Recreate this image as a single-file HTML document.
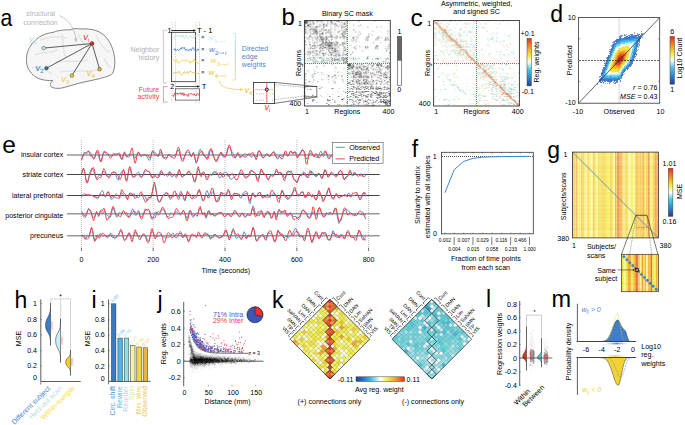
<!DOCTYPE html><html><head><meta charset="utf-8"><style>html,body{margin:0;padding:0;background:#fff;}svg{display:block;font-family:"Liberation Sans",sans-serif;}</style></head><body><svg width="685" height="425" viewBox="0 0 685 425" font-size="7.1"><rect width="685" height="425" fill="#fff"/><text x="26.00" y="16.20" fill="#b4b4b4">structural</text>
<text x="23.50" y="25.00" fill="#b4b4b4">connection</text>
<path d="M53,32.4 C60,29.5 66,30 70,29.8 C73,28.6 77,28.3 80,29 C86,28.5 91,29.3 95,30.2 C101,32 106,36 109,41 C112,46 114,52 114.6,58 C115.2,64 114.6,70 112.5,73.5 C110,76 104,77.5 98,79 C92,80.5 86,81.5 80,83 C74,84.5 68,86.5 62,88 C58,88.8 53,88.5 51,86.5 C49.8,85 50,83 52.8,80.6 C49,80.8 44,80.3 40,79 C33,76.5 28.5,71 27,65 C25.8,59 26.5,53 29.5,47.5 C33,41.5 38,37 44,34.5 C47,33.3 50,32.8 53,32.4 Z" fill="#f6f6f6" stroke="#505050" stroke-width="0.7"/>
<path d="M40,40 C48,37 58,36 66,38" fill="none" stroke="#e4e4e4" stroke-width="1.5"/>
<path d="M35,55 C42,52 50,53 58,50" fill="none" stroke="#e4e4e4" stroke-width="1.5"/>
<path d="M62,34 C64,42 62,50 66,58" fill="none" stroke="#e4e4e4" stroke-width="1.5"/>
<path d="M78,33 C80,40 84,45 90,48" fill="none" stroke="#e4e4e4" stroke-width="1.5"/>
<path d="M96,36 C100,44 104,50 110,52" fill="none" stroke="#e4e4e4" stroke-width="1.5"/>
<path d="M55,62 C65,60 75,63 88,60" fill="none" stroke="#e4e4e4" stroke-width="1.5"/>
<path d="M60,72 C70,70 85,72 100,70" fill="none" stroke="#e4e4e4" stroke-width="1.5"/>
<path d="M32,68 C40,66 46,70 52,74" fill="none" stroke="#e4e4e4" stroke-width="1.5"/>
<path d="M104,58 C106,62 108,66 111,68" fill="none" stroke="#e4e4e4" stroke-width="1.5"/>
<path d="M59.5,15.5 C67,19 75,27 76,40" fill="none" stroke="#a0a0a0" stroke-width="0.6"/>
<path d="M74.6,38.2 L76,41.6 L77.2,38.2" fill="none" stroke="#a0a0a0" stroke-width="0.6"/>
<line x1="92.00" y1="43.50" x2="43.60" y2="48.10" stroke="#1a1a1a" stroke-width="0.7"/>
<line x1="92.00" y1="43.50" x2="46.40" y2="68.20" stroke="#1a1a1a" stroke-width="0.7"/>
<line x1="92.00" y1="43.50" x2="71.90" y2="75.60" stroke="#1a1a1a" stroke-width="0.7"/>
<line x1="92.00" y1="43.50" x2="99.60" y2="69.20" stroke="#1a1a1a" stroke-width="0.7"/>
<circle cx="43.6" cy="48.1" r="1.8" fill="#d4f1f5" stroke="#333" stroke-width="0.5"/>
<circle cx="46.4" cy="68.2" r="1.8" fill="#2f6db0" stroke="#333" stroke-width="0.5"/>
<circle cx="71.9" cy="75.6" r="1.8" fill="#f2d327" stroke="#333" stroke-width="0.5"/>
<circle cx="99.6" cy="69.2" r="1.8" fill="#f0b72a" stroke="#333" stroke-width="0.5"/>
<circle cx="92" cy="43.5" r="1.9" fill="#ee2222" stroke="#333" stroke-width="0.5"/>
<text x="29.0" y="41.8" fill="#aee3ec" font-size="9.5" font-style="italic">v<tspan font-size="5.9" dy="2" font-style="normal">1</tspan></text>
<text x="83.3" y="40.3" fill="#ee3333" font-size="9.5" font-style="italic">v<tspan font-size="5.9" dy="2" font-style="normal">i</tspan></text>
<text x="35.5" y="70.5" fill="#3a7cc4" font-size="9.5" font-style="italic">v<tspan font-size="5.9" dy="2" font-style="normal">2</tspan></text>
<text x="61.3" y="82.0" fill="#ecd03a" font-size="9.5" font-style="italic">v<tspan font-size="5.9" dy="2" font-style="normal">3</tspan></text>
<text x="86.7" y="75.6" fill="#ecbf3a" font-size="9.5" font-style="italic">v<tspan font-size="5.9" dy="2" font-style="normal">4</tspan></text>
<line x1="172.00" y1="22.00" x2="172.00" y2="103.50" stroke="#777" stroke-width="0.45" stroke-dasharray="0.8,0.9"/>
<line x1="175.60" y1="22.00" x2="175.60" y2="103.50" stroke="#777" stroke-width="0.45" stroke-dasharray="0.8,0.9"/>
<line x1="196.00" y1="22.00" x2="196.00" y2="103.50" stroke="#777" stroke-width="0.45" stroke-dasharray="0.8,0.9"/>
<line x1="199.50" y1="22.00" x2="199.50" y2="103.50" stroke="#777" stroke-width="0.45" stroke-dasharray="0.8,0.9"/>
<rect x="171.40" y="32.30" width="24.10" height="49.40" fill="none" stroke="#333" stroke-width="0.8"/>
<line x1="171.40" y1="30.50" x2="194.50" y2="30.50" stroke="#111" stroke-width="0.9"/>
<path d="M193.2,29.2 L196,30.5 L193.2,31.8 Z" fill="#111" stroke="none" stroke-width="0.8"/>
<text x="167.50" y="32.60" font-size="7.3">1</text>
<text x="197.00" y="32.90" font-size="7.6">T - 1</text>
<path d="M173.5,38.3 174.0,38.4 174.5,37.7 175.0,36.4 175.5,35.7 176.0,35.7 176.5,36.3 177.0,36.4 177.5,35.5 178.0,35.5 178.5,36.2 179.0,35.1 179.5,36.3 180.0,37.0 180.5,35.7 181.0,35.2 181.5,36.0 182.0,37.3 182.5,36.4 183.0,34.8 183.5,36.2 184.0,38.3 184.5,38.7 185.0,37.9 185.5,36.3 186.0,35.0 186.5,36.4 187.0,36.9 187.5,37.6 188.0,38.7 188.5,37.9 189.0,37.6 189.5,37.6 190.0,36.7 190.5,35.9 191.0,36.3 191.5,37.7 192.0,37.6 192.5,37.1 193.0,38.1 193.5,37.1 194.0,35.9 194.5,37.1 195.0,36.6 195.5,35.7 196.0,36.9 196.5,36.7 197.0,36.6 197.5,36.6 198.0,34.4 198.5,34.7 199.0,36.1" fill="none" stroke="#b9e6ee" stroke-width="0.85" stroke-linejoin="round"/>
<path d="M173.5,50.0 174.0,50.0 174.5,49.7 175.0,48.5 175.5,50.5 176.0,50.3 176.5,50.3 177.0,49.6 177.5,49.4 178.0,50.3 178.5,50.6 179.0,49.7 179.5,49.6 180.0,49.9 180.5,48.4 181.0,47.8 181.5,49.1 182.0,48.3 182.5,47.0 183.0,47.8 183.5,48.3 184.0,47.6 184.5,47.6 185.0,49.4 185.5,50.4 186.0,49.4 186.5,48.9 187.0,50.0 187.5,50.4 188.0,49.8 188.5,50.5 189.0,50.8 189.5,49.5 190.0,48.8 190.5,49.8 191.0,50.4 191.5,50.4 192.0,48.4 192.5,48.1 193.0,47.8 193.5,47.5 194.0,49.2 194.5,49.9 195.0,49.6 195.5,51.1 196.0,51.2 196.5,50.8 197.0,50.6 197.5,50.3 198.0,48.8 198.5,50.0 199.0,49.8" fill="none" stroke="#3f7ec6" stroke-width="0.85" stroke-linejoin="round"/>
<path d="M173.5,59.6 174.0,59.5 174.5,61.0 175.0,62.2 175.5,61.7 176.0,61.0 176.5,59.4 177.0,60.3 177.5,61.0 178.0,63.1 178.5,63.2 179.0,62.6 179.5,61.8 180.0,62.1 180.5,62.0 181.0,60.9 181.5,60.5 182.0,60.6 182.5,60.3 183.0,60.2 183.5,60.4 184.0,60.6 184.5,61.1 185.0,60.1 185.5,61.2 186.0,60.6 186.5,59.9 187.0,59.5 187.5,60.4 188.0,60.9 188.5,61.1 189.0,60.8 189.5,61.8 190.0,63.3 190.5,62.1 191.0,61.1 191.5,62.0 192.0,61.7 192.5,62.0 193.0,61.9 193.5,60.3 194.0,58.9 194.5,60.3 195.0,61.5 195.5,61.2 196.0,61.9 196.5,62.2 197.0,61.5 197.5,62.9 198.0,63.8 198.5,63.4 199.0,63.3" fill="none" stroke="#efd54f" stroke-width="0.85" stroke-linejoin="round"/>
<path d="M173.5,74.3 174.0,72.9 174.5,72.1 175.0,72.9 175.5,72.9 176.0,72.1 176.5,72.3 177.0,73.2 177.5,73.2 178.0,72.0 178.5,71.3 179.0,71.1 179.5,73.3 180.0,73.2 180.5,73.8 181.0,74.0 181.5,75.0 182.0,74.7 182.5,73.8 183.0,73.7 183.5,72.4 184.0,72.8 184.5,71.5 185.0,72.6 185.5,73.6 186.0,72.9 186.5,71.9 187.0,71.4 187.5,72.2 188.0,73.6 188.5,73.5 189.0,72.0 189.5,71.3 190.0,72.1 190.5,71.0 191.0,71.1 191.5,71.7 192.0,72.9 192.5,73.0 193.0,73.0 193.5,72.6 194.0,72.1 194.5,73.2 195.0,73.9 195.5,73.1 196.0,73.0 196.5,72.9 197.0,73.6 197.5,73.7 198.0,73.6 198.5,73.6 199.0,74.0" fill="none" stroke="#e9c25a" stroke-width="0.85" stroke-linejoin="round"/>
<text x="202.70" y="39.40" text-anchor="middle" fill="#222" font-size="6.2">×</text>
<text x="202.70" y="50.80" text-anchor="middle" fill="#222" font-size="6.2">×</text>
<text x="202.70" y="62.40" text-anchor="middle" fill="#222" font-size="6.2">×</text>
<text x="202.70" y="73.80" text-anchor="middle" fill="#222" font-size="6.2">×</text>
<text x="207.9" y="40.3" fill="#c2ebf1" font-size="8.0" font-style="italic">w</text>
<text x="214.00" y="43.20" fill="#c2ebf1" font-size="6.2">1</text>
<line x1="217.30" y1="41.60" x2="222.50" y2="41.60" stroke="#c2ebf1" stroke-width="0.45"/>
<path d="M221.80,41.00 L223.50,41.60 L221.80,42.20 Z" fill="#c2ebf1" stroke="none" stroke-width="0.8"/>
<text x="223.90" y="43.20" fill="#c2ebf1" font-size="6.2" font-style="italic">i</text>
<text x="208.9" y="51.8" fill="#3f7ec6" font-size="8.0" font-style="italic">w</text>
<text x="215.00" y="54.70" fill="#3f7ec6" font-size="6.2">2</text>
<line x1="218.30" y1="53.10" x2="223.50" y2="53.10" stroke="#3f7ec6" stroke-width="0.45"/>
<path d="M222.80,52.50 L224.50,53.10 L222.80,53.70 Z" fill="#3f7ec6" stroke="none" stroke-width="0.8"/>
<text x="224.90" y="54.70" fill="#3f7ec6" font-size="6.2" font-style="italic">i</text>
<text x="210.6" y="63.3" fill="#edd34a" font-size="8.0" font-style="italic">w</text>
<text x="216.70" y="66.20" fill="#edd34a" font-size="6.2">3</text>
<line x1="220.00" y1="64.60" x2="225.20" y2="64.60" stroke="#edd34a" stroke-width="0.45"/>
<path d="M224.50,64.00 L226.20,64.60 L224.50,65.20 Z" fill="#edd34a" stroke="none" stroke-width="0.8"/>
<text x="226.60" y="66.20" fill="#edd34a" font-size="6.2" font-style="italic">i</text>
<text x="208.6" y="74.7" fill="#e8bb3e" font-size="8.0" font-style="italic">w</text>
<text x="214.70" y="77.60" fill="#e8bb3e" font-size="6.2">4</text>
<line x1="218.00" y1="76.00" x2="223.20" y2="76.00" stroke="#e8bb3e" stroke-width="0.45"/>
<path d="M222.50,75.40 L224.20,76.00 L222.50,76.60 Z" fill="#e8bb3e" stroke="none" stroke-width="0.8"/>
<text x="224.60" y="77.60" fill="#e8bb3e" font-size="6.2" font-style="italic">i</text>
<path d="M167,30.3 L163.4,30.3 L163.4,83 L167,83" fill="none" stroke="#a8a8a8" stroke-width="0.6"/>
<text x="159.30" y="52.20" text-anchor="end" fill="#b0b0b0">Neighbor</text>
<text x="159.30" y="60.40" text-anchor="end" fill="#b0b0b0">history</text>
<defs><linearGradient id="gb" x1="0" y1="0" x2="0" y2="1"><stop offset="0" stop-color="#a9dff0"/><stop offset="0.45" stop-color="#8fb6dc"/><stop offset="1" stop-color="#f2d34c"/></linearGradient></defs>
<path d="M232.6,33.2 L235.3,33.2 L235.3,80 L232.6,80" fill="none" stroke="url(#gb)" stroke-width="0.7"/>
<text x="241.80" y="50.90" fill="#4d88c9">Directed</text>
<text x="241.80" y="59.00" fill="#4d88c9">edge</text>
<text x="241.80" y="67.00" fill="#4d88c9">weights</text>
<text x="170.20" y="88.80" font-size="7.3">2</text>
<line x1="175.60" y1="86.50" x2="198.00" y2="86.50" stroke="#111" stroke-width="0.7"/>
<path d="M197.3,85.3 L199.9,86.5 L197.3,87.7 Z" fill="#111" stroke="none" stroke-width="0.8"/>
<text x="201.80" y="88.80" font-size="7.6">T</text>
<rect x="175.30" y="88.80" width="24.30" height="11.30" fill="none" stroke="#444" stroke-width="0.7"/>
<path d="M172.5,94.8 173.0,95.6 173.5,96.6 174.1,94.8 174.6,92.9 175.1,93.4 175.6,94.5 176.1,93.1 176.7,94.1 177.2,94.2 177.7,93.1 178.2,94.1 178.7,94.5 179.3,93.4 179.8,93.6 180.3,94.1 180.8,92.6 181.3,93.1 181.9,94.9 182.4,94.1 182.9,92.7 183.4,94.4 183.9,95.8 184.5,93.6 185.0,94.8 185.5,95.3 186.0,94.6 186.5,94.6 187.0,94.3 187.6,96.4 188.1,96.4 188.6,93.9 189.1,93.7 189.6,94.0 190.2,93.7 190.7,93.9 191.2,93.4 191.7,94.3 192.2,94.1 192.8,94.2 193.3,95.1 193.8,95.0 194.3,93.8 194.8,95.1 195.4,95.5 195.9,95.0 196.4,95.6 196.9,93.7 197.4,93.4 198.0,94.1 198.5,94.1 199.0,95.6" fill="none" stroke="#ee3b3b" stroke-width="0.85" stroke-linejoin="round"/>
<path d="M167.6,86.6 L163.4,86.6 L163.4,102 L167.6,102" fill="none" stroke="#f05050" stroke-width="0.6"/>
<text x="159.30" y="91.60" text-anchor="end" fill="#f04545">Future</text>
<text x="159.30" y="99.20" text-anchor="end" fill="#f04545">activity</text>
<path d="M219,80.5 C220,87 228,89.5 241.5,89.5" fill="none" stroke="#eec24a" stroke-width="0.7"/>
<path d="M240.2,88.2 L243.2,89.5 L240.2,90.8 Z" fill="#eec24a" stroke="none" stroke-width="0.8"/>
<text x="244.6" y="93.0" fill="#ecbf3a" font-size="9" font-style="italic">v<tspan font-size="5.8" dy="1.6" font-style="normal">4</tspan></text>
<rect x="253.40" y="82.40" width="21.20" height="21.00" fill="#fff" stroke="#222" stroke-width="0.8"/>
<rect x="256.50" y="93.50" width="0.60" height="0.80" fill="#666" stroke="none" stroke-width="0.8"/>
<rect x="259.00" y="93.50" width="0.60" height="0.80" fill="#666" stroke="none" stroke-width="0.8"/>
<rect x="261.50" y="93.30" width="0.60" height="0.80" fill="#666" stroke="none" stroke-width="0.8"/>
<rect x="263.50" y="93.70" width="0.60" height="0.80" fill="#666" stroke="none" stroke-width="0.8"/>
<rect x="272.50" y="93.50" width="0.60" height="0.80" fill="#666" stroke="none" stroke-width="0.8"/>
<rect x="256.50" y="99.80" width="0.60" height="0.80" fill="#666" stroke="none" stroke-width="0.8"/>
<rect x="259.50" y="99.80" width="0.60" height="0.80" fill="#666" stroke="none" stroke-width="0.8"/>
<rect x="261.50" y="99.80" width="0.60" height="0.80" fill="#666" stroke="none" stroke-width="0.8"/>
<rect x="263.50" y="99.80" width="0.60" height="0.80" fill="#666" stroke="none" stroke-width="0.8"/>
<rect x="272.50" y="99.80" width="0.60" height="0.80" fill="#666" stroke="none" stroke-width="0.8"/>
<rect x="257.00" y="89.60" width="0.60" height="0.80" fill="#666" stroke="none" stroke-width="0.8"/>
<line x1="253.40" y1="89.50" x2="274.60" y2="89.50" stroke="#eec24a" stroke-width="0.7"/>
<line x1="266.80" y1="82.40" x2="266.80" y2="103.40" stroke="#f27272" stroke-width="1.1"/>
<circle cx="266.8" cy="89.6" r="1.6" fill="none" stroke="#111" stroke-width="0.9"/>
<text x="264.6" y="110.0" fill="#ee3333" font-size="9" font-style="italic">v<tspan font-size="5.8" dy="1.6" font-style="normal">i</tspan></text>
<line x1="274.60" y1="82.40" x2="316.90" y2="86.60" stroke="#222" stroke-width="0.6"/>
<line x1="274.60" y1="103.40" x2="316.90" y2="96.90" stroke="#222" stroke-width="0.6"/>
<line x1="274.60" y1="84.60" x2="307.20" y2="87.60" stroke="#333" stroke-width="0.45" stroke-dasharray="0.8,0.9"/>
<line x1="274.60" y1="99.60" x2="307.20" y2="95.60" stroke="#333" stroke-width="0.45" stroke-dasharray="0.8,0.9"/>
<text x="321.90" y="15.80">Binary SC mask</text>
<g transform="translate(304.40,20.50) scale(0.9988,0.9942)"">
<path d="M4 0h1v1h-1zM8 0h1v1h-1zM11 0h2v1h-2zM30 0h1v1h-1zM42 0h1v1h-1zM6 1h1v1h-1zM9 1h1v1h-1zM12 1h2v1h-2zM16 1h1v1h-1zM19 1h1v1h-1zM28 1h1v1h-1zM30 1h1v1h-1zM37 1h2v1h-2zM40 1h2v1h-2zM44 1h1v1h-1zM37 2h1v1h-1zM3 3h1v1h-1zM5 3h1v1h-1zM12 3h1v1h-1zM15 3h1v1h-1zM17 3h1v1h-1zM23 3h1v1h-1zM25 3h2v1h-2zM37 3h1v1h-1zM42 3h1v1h-1zM85 3h1v1h-1zM0 4h1v1h-1zM5 4h1v1h-1zM17 4h1v1h-1zM22 4h1v1h-1zM26 4h1v1h-1zM28 4h1v1h-1zM37 4h1v1h-1zM41 4h2v1h-2zM1 5h1v1h-1zM8 5h1v1h-1zM15 5h2v1h-2zM18 5h4v1h-4zM33 5h1v1h-1zM38 5h1v1h-1zM42 5h1v1h-1zM77 5h1v1h-1zM3 6h1v1h-1zM30 6h2v1h-2zM57 6h1v1h-1zM76 6h1v1h-1zM0 8h1v1h-1zM3 8h1v1h-1zM6 8h1v1h-1zM10 8h1v1h-1zM13 8h1v1h-1zM15 8h1v1h-1zM26 8h1v1h-1zM31 8h1v1h-1zM39 8h1v1h-1zM8 9h1v1h-1zM12 9h1v1h-1zM17 9h1v1h-1zM20 9h1v1h-1zM35 9h1v1h-1zM37 9h2v1h-2zM42 9h1v1h-1zM0 10h1v1h-1zM3 10h1v1h-1zM9 10h1v1h-1zM16 10h1v1h-1zM21 10h2v1h-2zM37 10h1v1h-1zM39 10h1v1h-1zM4 11h2v1h-2zM10 11h1v1h-1zM15 11h1v1h-1zM17 11h1v1h-1zM23 11h1v1h-1zM27 11h1v1h-1zM30 11h1v1h-1zM41 11h1v1h-1zM76 11h1v1h-1zM84 11h1v1h-1zM3 12h1v1h-1zM10 12h1v1h-1zM12 12h1v1h-1zM22 12h1v1h-1zM33 12h1v1h-1zM37 12h1v1h-1zM41 12h1v1h-1zM1 13h1v1h-1zM3 13h1v1h-1zM9 13h3v1h-3zM13 13h1v1h-1zM28 13h1v1h-1zM30 13h1v1h-1zM41 13h1v1h-1zM53 13h1v1h-1zM27 14h1v1h-1zM35 14h1v1h-1zM6 15h1v1h-1zM10 15h1v1h-1zM13 15h1v1h-1zM16 15h3v1h-3zM21 15h2v1h-2zM25 15h1v1h-1zM31 15h1v1h-1zM40 15h1v1h-1zM1 16h1v1h-1zM10 16h1v1h-1zM15 16h1v1h-1zM32 16h1v1h-1zM37 16h1v1h-1zM39 16h1v1h-1zM41 16h2v1h-2zM51 16h2v1h-2zM63 16h1v1h-1zM73 16h1v1h-1zM76 16h1v1h-1zM81 16h2v1h-2zM3 17h2v1h-2zM15 17h1v1h-1zM17 17h1v1h-1zM30 17h1v1h-1zM40 17h1v1h-1zM53 17h1v1h-1zM63 17h2v1h-2zM72 17h1v1h-1zM77 17h1v1h-1zM4 18h1v1h-1zM6 18h1v1h-1zM10 18h1v1h-1zM14 18h1v1h-1zM18 18h1v1h-1zM21 18h1v1h-1zM39 18h1v1h-1zM42 18h1v1h-1zM52 18h1v1h-1zM61 18h1v1h-1zM71 18h3v1h-3zM83 18h1v1h-1zM0 19h1v1h-1zM5 19h1v1h-1zM13 19h1v1h-1zM26 19h2v1h-2zM31 19h1v1h-1zM40 19h1v1h-1zM51 19h2v1h-2zM62 19h1v1h-1zM72 19h1v1h-1zM74 19h1v1h-1zM82 19h2v1h-2zM1 21h1v1h-1zM8 21h5v1h-5zM16 21h1v1h-1zM30 21h1v1h-1zM38 21h1v1h-1zM52 21h1v1h-1zM54 21h1v1h-1zM62 21h1v1h-1zM8 22h1v1h-1zM12 22h1v1h-1zM30 22h1v1h-1zM39 22h2v1h-2zM76 22h1v1h-1zM12 23h1v1h-1zM19 23h1v1h-1zM22 23h1v1h-1zM25 23h1v1h-1zM32 23h1v1h-1zM37 23h1v1h-1zM6 24h1v1h-1zM18 24h1v1h-1zM26 24h2v1h-2zM37 24h3v1h-3zM0 25h1v1h-1zM5 25h1v1h-1zM9 25h1v1h-1zM11 25h1v1h-1zM16 25h1v1h-1zM19 25h1v1h-1zM22 25h1v1h-1zM27 25h1v1h-1zM30 25h2v1h-2zM39 25h1v1h-1zM52 25h1v1h-1zM85 25h1v1h-1zM0 26h1v1h-1zM10 26h2v1h-2zM17 26h1v1h-1zM22 26h1v1h-1zM28 26h1v1h-1zM30 26h1v1h-1zM33 26h2v1h-2zM39 26h1v1h-1zM62 26h1v1h-1zM73 26h1v1h-1zM81 26h1v1h-1zM0 27h1v1h-1zM3 27h1v1h-1zM17 27h1v1h-1zM19 27h1v1h-1zM24 27h1v1h-1zM26 27h2v1h-2zM30 27h1v1h-1zM32 27h1v1h-1zM34 27h1v1h-1zM39 27h1v1h-1zM51 27h1v1h-1zM57 27h1v1h-1zM73 27h1v1h-1zM83 27h1v1h-1zM9 28h1v1h-1zM22 28h2v1h-2zM32 28h1v1h-1zM35 28h1v1h-1zM40 28h1v1h-1zM42 28h1v1h-1zM50 28h1v1h-1zM61 28h2v1h-2zM83 28h2v1h-2zM0 30h2v1h-2zM5 30h1v1h-1zM8 30h2v1h-2zM11 30h1v1h-1zM13 30h1v1h-1zM19 30h1v1h-1zM28 30h1v1h-1zM34 30h2v1h-2zM51 30h1v1h-1zM5 31h1v1h-1zM12 31h1v1h-1zM24 31h2v1h-2zM33 31h1v1h-1zM38 31h2v1h-2zM48 31h1v1h-1zM0 32h1v1h-1zM5 32h1v1h-1zM17 32h2v1h-2zM30 32h1v1h-1zM33 32h3v1h-3zM38 32h1v1h-1zM0 33h1v1h-1zM6 33h1v1h-1zM8 33h1v1h-1zM30 33h1v1h-1zM32 33h1v1h-1zM38 33h2v1h-2zM43 33h1v1h-1zM47 33h1v1h-1zM0 34h2v1h-2zM4 34h2v1h-2zM11 34h1v1h-1zM15 34h1v1h-1zM18 34h1v1h-1zM21 34h1v1h-1zM23 34h2v1h-2zM38 34h1v1h-1zM40 34h1v1h-1zM5 35h1v1h-1zM9 35h1v1h-1zM15 35h1v1h-1zM36 35h1v1h-1zM41 35h1v1h-1zM17 36h1v1h-1zM30 36h1v1h-1zM6 37h1v1h-1zM8 37h1v1h-1zM18 37h1v1h-1zM22 37h1v1h-1zM25 37h1v1h-1zM27 37h2v1h-2zM31 37h1v1h-1zM37 37h1v1h-1zM54 37h1v1h-1zM62 37h1v1h-1zM73 37h1v1h-1zM76 37h1v1h-1zM83 37h1v1h-1zM0 38h1v1h-1zM5 38h2v1h-2zM8 38h1v1h-1zM15 38h1v1h-1zM19 38h1v1h-1zM21 38h2v1h-2zM24 38h1v1h-1zM32 38h4v1h-4zM45 38h1v1h-1zM68 38h1v1h-1zM81 38h1v1h-1zM84 38h1v1h-1zM0 39h1v1h-1zM8 39h1v1h-1zM18 39h1v1h-1zM24 39h2v1h-2zM28 39h2v1h-2zM40 39h1v1h-1zM52 39h1v1h-1zM68 39h1v1h-1zM73 39h1v1h-1zM82 39h1v1h-1zM1 40h1v1h-1zM3 40h3v1h-3zM26 40h2v1h-2zM31 40h1v1h-1zM33 40h2v1h-2zM37 40h2v1h-2zM16 41h2v1h-2zM19 41h1v1h-1zM40 41h1v1h-1zM1 42h1v1h-1zM8 42h2v1h-2zM16 42h3v1h-3zM35 42h1v1h-1zM38 42h1v1h-1zM41 42h1v1h-1zM63 42h1v1h-1zM82 42h1v1h-1zM84 42h1v1h-1zM69 43h1v1h-1zM27 44h2v1h-2zM47 44h1v1h-1zM49 44h1v1h-1zM63 44h1v1h-1zM0 45h1v1h-1zM30 45h1v1h-1zM52 45h1v1h-1zM56 45h1v1h-1zM63 45h1v1h-1zM81 45h1v1h-1zM53 46h1v1h-1zM62 46h1v1h-1zM64 46h1v1h-1zM67 46h2v1h-2zM74 46h1v1h-1zM76 46h1v1h-1zM81 46h2v1h-2zM12 47h1v1h-1zM49 47h1v1h-1zM51 47h1v1h-1zM54 47h1v1h-1zM56 47h1v1h-1zM60 47h1v1h-1zM62 47h1v1h-1zM66 47h2v1h-2zM75 47h1v1h-1zM31 48h1v1h-1zM39 48h1v1h-1zM46 48h1v1h-1zM61 48h1v1h-1zM67 48h1v1h-1zM74 48h1v1h-1zM77 48h1v1h-1zM84 48h1v1h-1zM9 49h1v1h-1zM47 49h1v1h-1zM49 49h1v1h-1zM53 49h1v1h-1zM60 49h1v1h-1zM68 49h1v1h-1zM72 49h1v1h-1zM75 49h1v1h-1zM30 51h1v1h-1zM34 51h1v1h-1zM56 51h1v1h-1zM75 51h1v1h-1zM84 51h2v1h-2zM37 52h1v1h-1zM45 52h1v1h-1zM49 52h1v1h-1zM62 52h1v1h-1zM69 52h1v1h-1zM77 52h1v1h-1zM79 52h2v1h-2zM82 52h2v1h-2zM43 53h1v1h-1zM46 53h1v1h-1zM54 53h1v1h-1zM59 53h1v1h-1zM61 53h1v1h-1zM67 53h1v1h-1zM69 53h1v1h-1zM73 53h1v1h-1zM79 53h1v1h-1zM83 53h1v1h-1zM7 54h1v1h-1zM17 54h1v1h-1zM19 54h1v1h-1zM23 54h1v1h-1zM38 54h1v1h-1zM48 54h1v1h-1zM57 54h1v1h-1zM66 54h1v1h-1zM69 54h1v1h-1zM72 54h1v1h-1zM80 54h1v1h-1zM82 54h1v1h-1zM9 55h1v1h-1zM23 55h1v1h-1zM51 55h1v1h-1zM54 55h1v1h-1zM60 55h1v1h-1zM62 55h2v1h-2zM68 55h1v1h-1zM71 55h1v1h-1zM73 55h2v1h-2zM79 55h2v1h-2zM85 55h1v1h-1zM1 56h1v1h-1zM7 56h1v1h-1zM44 56h1v1h-1zM52 56h1v1h-1zM69 56h1v1h-1zM71 56h1v1h-1zM83 56h1v1h-1zM8 57h1v1h-1zM22 57h1v1h-1zM27 57h1v1h-1zM47 57h1v1h-1zM50 57h1v1h-1zM53 57h2v1h-2zM56 57h1v1h-1zM61 57h1v1h-1zM66 57h1v1h-1zM77 57h1v1h-1zM79 57h1v1h-1zM84 57h1v1h-1zM38 58h1v1h-1zM75 58h1v1h-1zM0 59h1v1h-1zM19 59h1v1h-1zM22 59h1v1h-1zM30 59h1v1h-1zM37 59h2v1h-2zM51 59h2v1h-2zM54 59h1v1h-1zM56 59h2v1h-2zM63 59h1v1h-1zM72 59h1v1h-1zM76 59h2v1h-2zM79 59h1v1h-1zM82 59h1v1h-1zM0 60h1v1h-1zM9 60h1v1h-1zM28 60h1v1h-1zM38 60h1v1h-1zM45 60h1v1h-1zM51 60h1v1h-1zM64 60h1v1h-1zM77 60h1v1h-1zM0 61h1v1h-1zM39 61h1v1h-1zM46 61h1v1h-1zM51 61h1v1h-1zM57 61h1v1h-1zM59 61h1v1h-1zM0 62h2v1h-2zM8 62h1v1h-1zM24 62h1v1h-1zM28 62h1v1h-1zM38 62h1v1h-1zM50 62h1v1h-1zM58 62h2v1h-2zM61 62h1v1h-1zM77 62h1v1h-1zM80 62h1v1h-1zM31 63h1v1h-1zM51 63h1v1h-1zM56 63h1v1h-1zM64 63h1v1h-1zM66 63h3v1h-3zM71 63h1v1h-1zM80 63h1v1h-1zM42 64h1v1h-1zM53 64h1v1h-1zM56 64h2v1h-2zM64 64h1v1h-1zM71 64h2v1h-2zM81 64h1v1h-1zM15 66h1v1h-1zM47 66h2v1h-2zM54 66h2v1h-2zM64 66h1v1h-1zM68 66h2v1h-2zM83 66h1v1h-1zM44 67h1v1h-1zM57 67h1v1h-1zM60 67h1v1h-1zM64 67h1v1h-1zM69 67h1v1h-1zM71 67h1v1h-1zM73 67h1v1h-1zM76 67h1v1h-1zM81 67h2v1h-2zM0 68h1v1h-1zM34 68h1v1h-1zM44 68h1v1h-1zM48 68h2v1h-2zM51 68h1v1h-1zM55 68h1v1h-1zM57 68h2v1h-2zM60 68h2v1h-2zM63 68h1v1h-1zM73 68h1v1h-1zM77 68h1v1h-1zM80 68h1v1h-1zM82 68h1v1h-1zM45 69h1v1h-1zM66 69h1v1h-1zM68 69h2v1h-2zM71 69h1v1h-1zM85 69h1v1h-1zM33 71h1v1h-1zM44 71h1v1h-1zM54 71h4v1h-4zM59 71h1v1h-1zM66 71h1v1h-1zM69 71h1v1h-1zM75 71h1v1h-1zM85 71h1v1h-1zM49 72h1v1h-1zM55 72h3v1h-3zM71 72h1v1h-1zM73 72h1v1h-1zM80 72h2v1h-2zM83 72h1v1h-1zM55 73h1v1h-1zM59 73h1v1h-1zM76 73h1v1h-1zM8 74h1v1h-1zM23 74h1v1h-1zM28 74h1v1h-1zM37 74h1v1h-1zM52 74h1v1h-1zM54 74h1v1h-1zM59 74h1v1h-1zM67 74h2v1h-2zM72 74h1v1h-1zM76 74h1v1h-1zM81 74h1v1h-1zM83 74h1v1h-1zM0 75h1v1h-1zM3 75h1v1h-1zM16 75h1v1h-1zM48 75h1v1h-1zM52 75h1v1h-1zM56 75h2v1h-2zM60 75h1v1h-1zM62 75h1v1h-1zM64 75h1v1h-1zM69 75h1v1h-1zM71 75h2v1h-2zM76 75h1v1h-1zM80 75h1v1h-1zM83 75h2v1h-2zM3 76h1v1h-1zM10 76h1v1h-1zM17 76h1v1h-1zM42 76h1v1h-1zM45 76h1v1h-1zM49 76h1v1h-1zM59 76h1v1h-1zM67 76h1v1h-1zM74 76h2v1h-2zM77 76h1v1h-1zM81 76h1v1h-1zM85 76h1v1h-1zM9 77h1v1h-1zM13 77h1v1h-1zM48 77h2v1h-2zM54 77h1v1h-1zM57 77h1v1h-1zM61 77h1v1h-1zM63 77h1v1h-1zM66 77h1v1h-1zM73 77h1v1h-1zM76 77h1v1h-1zM80 77h1v1h-1zM37 78h1v1h-1zM46 79h1v1h-1zM48 79h1v1h-1zM56 79h2v1h-2zM62 79h1v1h-1zM68 79h1v1h-1zM73 79h1v1h-1zM75 79h1v1h-1zM80 79h2v1h-2zM84 79h1v1h-1zM30 80h1v1h-1zM45 80h1v1h-1zM47 80h1v1h-1zM67 80h1v1h-1zM69 80h1v1h-1zM77 80h1v1h-1zM81 80h1v1h-1zM23 81h1v1h-1zM38 81h1v1h-1zM45 81h1v1h-1zM53 81h1v1h-1zM59 81h1v1h-1zM69 81h1v1h-1zM74 81h2v1h-2zM82 81h1v1h-1zM25 82h1v1h-1zM52 82h1v1h-1zM54 82h1v1h-1zM62 82h1v1h-1zM66 82h1v1h-1zM68 82h1v1h-1zM83 82h1v1h-1zM53 83h1v1h-1zM62 83h1v1h-1zM67 83h2v1h-2zM73 83h1v1h-1zM79 83h2v1h-2zM40 84h1v1h-1zM51 84h1v1h-1zM53 84h2v1h-2zM57 84h1v1h-1zM59 84h1v1h-1zM68 84h2v1h-2zM75 84h1v1h-1zM83 84h1v1h-1zM85 84h1v1h-1zM24 85h1v1h-1zM45 85h1v1h-1zM53 85h2v1h-2zM56 85h1v1h-1zM63 85h1v1h-1zM66 85h1v1h-1zM71 85h1v1h-1zM75 85h1v1h-1zM80 85h3v1h-3zM85 85h1v1h-1z" fill="#cdcdcd"/>
<path d="M3 0h1v1h-1zM6 0h1v1h-1zM17 0h1v1h-1zM70 0h1v1h-1zM0 1h1v1h-1zM5 1h1v1h-1zM17 1h1v1h-1zM27 1h1v1h-1zM35 1h1v1h-1zM0 2h2v1h-2zM3 2h1v1h-1zM9 2h1v1h-1zM40 2h1v1h-1zM0 3h2v1h-2zM8 3h1v1h-1zM22 3h1v1h-1zM28 3h1v1h-1zM6 4h1v1h-1zM15 4h1v1h-1zM21 4h1v1h-1zM32 4h1v1h-1zM35 4h1v1h-1zM49 4h1v1h-1zM56 4h1v1h-1zM13 5h1v1h-1zM30 5h1v1h-1zM32 5h1v1h-1zM37 5h1v1h-1zM54 5h1v1h-1zM5 6h1v1h-1zM8 6h1v1h-1zM10 6h1v1h-1zM13 6h1v1h-1zM15 6h1v1h-1zM26 6h1v1h-1zM34 6h1v1h-1zM37 6h1v1h-1zM40 6h1v1h-1zM63 6h1v1h-1zM72 6h1v1h-1zM19 7h1v1h-1zM5 8h1v1h-1zM8 8h1v1h-1zM11 8h2v1h-2zM27 8h1v1h-1zM5 9h2v1h-2zM9 9h1v1h-1zM11 9h1v1h-1zM22 9h1v1h-1zM25 9h1v1h-1zM30 9h1v1h-1zM40 9h1v1h-1zM1 10h1v1h-1zM8 10h1v1h-1zM10 10h1v1h-1zM35 10h1v1h-1zM41 10h2v1h-2zM68 10h1v1h-1zM83 10h1v1h-1zM1 11h1v1h-1zM6 11h1v1h-1zM9 11h1v1h-1zM12 11h2v1h-2zM18 11h1v1h-1zM33 11h2v1h-2zM38 11h2v1h-2zM51 11h1v1h-1zM55 11h1v1h-1zM9 12h1v1h-1zM13 12h1v1h-1zM23 12h1v1h-1zM39 12h1v1h-1zM16 13h1v1h-1zM25 13h1v1h-1zM42 13h1v1h-1zM56 13h1v1h-1zM64 13h1v1h-1zM83 13h1v1h-1zM38 14h1v1h-1zM54 14h1v1h-1zM67 14h1v1h-1zM12 15h1v1h-1zM26 15h1v1h-1zM32 15h1v1h-1zM64 15h1v1h-1zM7 16h1v1h-1zM13 16h1v1h-1zM17 16h2v1h-2zM22 16h1v1h-1zM27 16h2v1h-2zM30 16h1v1h-1zM33 16h1v1h-1zM49 16h1v1h-1zM53 16h1v1h-1zM62 16h1v1h-1zM64 16h1v1h-1zM74 16h1v1h-1zM1 17h1v1h-1zM8 17h1v1h-1zM13 17h1v1h-1zM18 17h2v1h-2zM21 17h1v1h-1zM31 17h2v1h-2zM35 17h1v1h-1zM38 17h2v1h-2zM49 17h1v1h-1zM62 17h1v1h-1zM73 17h2v1h-2zM81 17h1v1h-1zM3 18h1v1h-1zM12 18h1v1h-1zM16 18h1v1h-1zM81 18h1v1h-1zM8 19h1v1h-1zM12 19h1v1h-1zM19 19h1v1h-1zM22 19h1v1h-1zM24 19h1v1h-1zM42 19h1v1h-1zM47 19h1v1h-1zM61 19h1v1h-1zM71 19h1v1h-1zM80 19h1v1h-1zM84 19h1v1h-1zM18 20h1v1h-1zM24 20h1v1h-1zM0 21h1v1h-1zM4 21h1v1h-1zM13 21h1v1h-1zM15 21h1v1h-1zM18 21h2v1h-2zM31 21h2v1h-2zM40 21h1v1h-1zM48 21h1v1h-1zM51 21h1v1h-1zM0 22h1v1h-1zM5 22h1v1h-1zM10 22h1v1h-1zM18 22h2v1h-2zM22 22h3v1h-3zM26 22h1v1h-1zM28 22h2v1h-2zM33 22h1v1h-1zM69 22h1v1h-1zM9 23h1v1h-1zM18 23h1v1h-1zM21 23h1v1h-1zM23 23h2v1h-2zM30 23h1v1h-1zM33 23h1v1h-1zM38 23h4v1h-4zM10 24h1v1h-1zM15 24h1v1h-1zM17 24h1v1h-1zM19 24h1v1h-1zM21 24h4v1h-4zM28 24h1v1h-1zM31 24h2v1h-2zM35 24h2v1h-2zM84 24h1v1h-1zM18 25h1v1h-1zM28 25h1v1h-1zM33 25h1v1h-1zM38 25h1v1h-1zM45 25h1v1h-1zM72 25h1v1h-1zM6 26h1v1h-1zM8 26h1v1h-1zM16 26h1v1h-1zM18 26h1v1h-1zM25 26h3v1h-3zM31 26h1v1h-1zM40 26h1v1h-1zM50 26h1v1h-1zM55 26h1v1h-1zM63 26h1v1h-1zM71 26h2v1h-2zM84 26h1v1h-1zM6 27h1v1h-1zM10 27h1v1h-1zM12 27h1v1h-1zM15 27h2v1h-2zM23 27h1v1h-1zM25 27h1v1h-1zM40 27h1v1h-1zM49 27h1v1h-1zM61 27h1v1h-1zM63 27h1v1h-1zM71 27h1v1h-1zM0 28h1v1h-1zM4 28h1v1h-1zM6 28h1v1h-1zM10 28h1v1h-1zM17 28h1v1h-1zM24 28h3v1h-3zM31 28h1v1h-1zM39 28h1v1h-1zM51 28h1v1h-1zM71 28h1v1h-1zM73 28h1v1h-1zM81 28h1v1h-1zM22 29h1v1h-1zM24 29h1v1h-1zM18 30h1v1h-1zM29 30h2v1h-2zM32 30h2v1h-2zM39 30h1v1h-1zM58 30h1v1h-1zM6 31h1v1h-1zM8 31h2v1h-2zM11 31h1v1h-1zM15 31h1v1h-1zM29 31h3v1h-3zM42 31h1v1h-1zM6 32h1v1h-1zM8 32h1v1h-1zM21 32h1v1h-1zM31 32h1v1h-1zM48 32h1v1h-1zM5 33h1v1h-1zM10 33h1v1h-1zM21 33h1v1h-1zM27 33h1v1h-1zM33 33h1v1h-1zM42 33h1v1h-1zM3 34h1v1h-1zM19 34h1v1h-1zM27 34h1v1h-1zM31 34h2v1h-2zM34 34h2v1h-2zM39 34h1v1h-1zM42 34h1v1h-1zM46 34h1v1h-1zM8 35h1v1h-1zM11 35h1v1h-1zM24 35h1v1h-1zM27 35h1v1h-1zM29 35h3v1h-3zM35 35h1v1h-1zM38 35h1v1h-1zM32 36h1v1h-1zM63 36h1v1h-1zM5 37h1v1h-1zM13 37h1v1h-1zM16 37h1v1h-1zM26 37h1v1h-1zM35 37h1v1h-1zM39 37h1v1h-1zM41 37h2v1h-2zM49 37h1v1h-1zM63 37h1v1h-1zM10 38h1v1h-1zM17 38h1v1h-1zM23 38h1v1h-1zM27 38h2v1h-2zM39 38h2v1h-2zM47 38h1v1h-1zM49 38h1v1h-1zM51 38h1v1h-1zM54 38h1v1h-1zM62 38h1v1h-1zM71 38h2v1h-2zM74 38h1v1h-1zM82 38h2v1h-2zM6 39h1v1h-1zM10 39h1v1h-1zM19 39h1v1h-1zM27 39h1v1h-1zM34 39h1v1h-1zM37 39h1v1h-1zM42 39h1v1h-1zM49 39h1v1h-1zM81 39h1v1h-1zM8 40h1v1h-1zM11 40h1v1h-1zM17 40h1v1h-1zM19 40h1v1h-1zM21 40h1v1h-1zM28 40h1v1h-1zM41 40h2v1h-2zM9 41h1v1h-1zM11 41h1v1h-1zM18 41h1v1h-1zM25 41h1v1h-1zM39 41h1v1h-1zM41 41h1v1h-1zM81 41h1v1h-1zM10 42h1v1h-1zM29 42h1v1h-1zM32 42h2v1h-2zM39 42h2v1h-2zM49 42h1v1h-1zM61 42h1v1h-1zM83 42h1v1h-1zM5 43h1v1h-1zM57 43h1v1h-1zM45 44h2v1h-2zM52 44h2v1h-2zM55 44h1v1h-1zM64 44h1v1h-1zM66 44h1v1h-1zM74 44h2v1h-2zM77 44h1v1h-1zM85 44h1v1h-1zM19 45h1v1h-1zM44 45h1v1h-1zM46 45h1v1h-1zM48 45h1v1h-1zM59 45h1v1h-1zM67 45h1v1h-1zM72 45h1v1h-1zM76 45h1v1h-1zM84 45h1v1h-1zM12 46h1v1h-1zM46 46h1v1h-1zM48 46h1v1h-1zM51 46h1v1h-1zM54 46h1v1h-1zM57 46h1v1h-1zM60 46h2v1h-2zM77 46h1v1h-1zM79 46h1v1h-1zM31 47h1v1h-1zM46 47h1v1h-1zM53 47h1v1h-1zM59 47h1v1h-1zM72 47h1v1h-1zM74 47h1v1h-1zM83 47h3v1h-3zM47 48h2v1h-2zM52 48h2v1h-2zM56 48h1v1h-1zM63 48h1v1h-1zM69 48h1v1h-1zM75 48h1v1h-1zM83 48h1v1h-1zM44 49h1v1h-1zM51 49h1v1h-1zM61 49h1v1h-1zM63 49h1v1h-1zM69 49h1v1h-1zM71 49h1v1h-1zM3 50h1v1h-1zM49 50h1v1h-1zM54 50h1v1h-1zM58 50h1v1h-1zM73 50h1v1h-1zM75 50h1v1h-1zM10 51h1v1h-1zM47 51h3v1h-3zM52 51h1v1h-1zM61 51h2v1h-2zM72 51h1v1h-1zM76 51h1v1h-1zM81 51h1v1h-1zM13 52h1v1h-1zM17 52h1v1h-1zM33 52h1v1h-1zM44 52h1v1h-1zM48 52h1v1h-1zM53 52h2v1h-2zM64 52h1v1h-1zM66 52h1v1h-1zM68 52h1v1h-1zM72 52h1v1h-1zM74 52h1v1h-1zM76 52h1v1h-1zM81 52h1v1h-1zM44 53h1v1h-1zM47 53h2v1h-2zM52 53h2v1h-2zM56 53h2v1h-2zM60 53h1v1h-1zM62 53h1v1h-1zM66 53h1v1h-1zM68 53h1v1h-1zM76 53h2v1h-2zM8 54h1v1h-1zM30 54h1v1h-1zM45 54h1v1h-1zM53 54h2v1h-2zM56 54h1v1h-1zM30 55h2v1h-2zM34 55h1v1h-1zM37 55h1v1h-1zM50 55h1v1h-1zM55 55h3v1h-3zM59 55h1v1h-1zM61 55h1v1h-1zM67 55h1v1h-1zM75 55h1v1h-1zM77 55h1v1h-1zM8 56h1v1h-1zM24 56h1v1h-1zM37 56h1v1h-1zM47 56h1v1h-1zM53 56h5v1h-5zM61 56h1v1h-1zM63 56h2v1h-2zM67 56h1v1h-1zM79 56h1v1h-1zM81 56h1v1h-1zM31 57h1v1h-1zM62 57h1v1h-1zM64 57h1v1h-1zM67 57h1v1h-1zM75 57h1v1h-1zM80 57h1v1h-1zM83 57h1v1h-1zM76 58h1v1h-1zM1 59h1v1h-1zM9 59h1v1h-1zM17 59h1v1h-1zM24 59h1v1h-1zM49 59h1v1h-1zM60 59h3v1h-3zM67 59h1v1h-1zM85 59h1v1h-1zM47 60h1v1h-1zM52 60h1v1h-1zM54 60h1v1h-1zM68 60h1v1h-1zM71 60h2v1h-2zM74 60h1v1h-1zM4 61h2v1h-2zM13 61h1v1h-1zM30 61h1v1h-1zM49 61h1v1h-1zM53 61h2v1h-2zM62 61h1v1h-1zM64 61h1v1h-1zM66 61h1v1h-1zM84 61h1v1h-1zM30 62h1v1h-1zM55 62h1v1h-1zM57 62h1v1h-1zM62 62h2v1h-2zM65 62h1v1h-1zM69 62h1v1h-1zM72 62h1v1h-1zM1 63h1v1h-1zM48 63h1v1h-1zM53 63h1v1h-1zM57 63h1v1h-1zM62 63h1v1h-1zM76 63h1v1h-1zM60 64h2v1h-2zM68 64h1v1h-1zM76 64h1v1h-1zM79 64h1v1h-1zM55 65h1v1h-1zM67 65h1v1h-1zM3 66h1v1h-1zM53 66h1v1h-1zM57 66h1v1h-1zM59 66h1v1h-1zM63 66h1v1h-1zM66 66h2v1h-2zM72 66h1v1h-1zM75 66h1v1h-1zM80 66h1v1h-1zM17 67h1v1h-1zM51 67h1v1h-1zM53 67h1v1h-1zM56 67h1v1h-1zM61 67h1v1h-1zM63 67h1v1h-1zM68 67h1v1h-1zM72 67h1v1h-1zM74 67h1v1h-1zM79 67h2v1h-2zM83 67h1v1h-1zM27 68h1v1h-1zM46 68h2v1h-2zM67 68h3v1h-3zM71 68h1v1h-1zM83 68h1v1h-1zM3 69h1v1h-1zM48 69h1v1h-1zM54 69h3v1h-3zM72 69h1v1h-1zM77 69h1v1h-1zM79 69h2v1h-2zM82 69h2v1h-2zM76 70h1v1h-1zM39 71h1v1h-1zM47 71h1v1h-1zM60 71h1v1h-1zM63 71h2v1h-2zM67 71h1v1h-1zM71 71h2v1h-2zM84 71h1v1h-1zM44 72h1v1h-1zM51 72h2v1h-2zM54 72h1v1h-1zM60 72h1v1h-1zM68 72h1v1h-1zM76 72h1v1h-1zM79 72h1v1h-1zM82 72h1v1h-1zM48 73h1v1h-1zM56 73h1v1h-1zM73 73h1v1h-1zM81 73h1v1h-1zM47 74h1v1h-1zM49 74h1v1h-1zM51 74h1v1h-1zM56 74h2v1h-2zM63 74h2v1h-2zM75 74h1v1h-1zM77 74h1v1h-1zM54 75h1v1h-1zM61 75h1v1h-1zM66 75h2v1h-2zM73 75h2v1h-2zM52 76h1v1h-1zM57 76h1v1h-1zM61 76h2v1h-2zM79 76h2v1h-2zM82 76h2v1h-2zM44 77h1v1h-1zM62 77h1v1h-1zM67 77h1v1h-1zM74 77h2v1h-2zM77 77h2v1h-2zM82 77h1v1h-1zM39 78h1v1h-1zM58 78h1v1h-1zM8 79h2v1h-2zM28 79h1v1h-1zM47 79h1v1h-1zM82 79h1v1h-1zM9 80h1v1h-1zM24 80h1v1h-1zM48 80h1v1h-1zM51 80h1v1h-1zM54 80h3v1h-3zM59 80h1v1h-1zM61 80h1v1h-1zM63 80h1v1h-1zM66 80h1v1h-1zM76 80h1v1h-1zM79 80h2v1h-2zM82 80h1v1h-1zM85 80h1v1h-1zM0 81h1v1h-1zM8 81h1v1h-1zM30 81h1v1h-1zM49 81h1v1h-1zM51 81h1v1h-1zM60 81h1v1h-1zM62 81h1v1h-1zM71 81h1v1h-1zM77 81h1v1h-1zM83 81h1v1h-1zM12 82h1v1h-1zM30 82h1v1h-1zM48 82h1v1h-1zM59 82h1v1h-1zM63 82h1v1h-1zM71 82h1v1h-1zM74 82h1v1h-1zM76 82h1v1h-1zM84 82h1v1h-1zM3 83h1v1h-1zM49 83h1v1h-1zM54 83h1v1h-1zM82 83h2v1h-2zM33 84h1v1h-1zM35 84h1v1h-1zM47 84h1v1h-1zM61 84h1v1h-1zM63 84h1v1h-1zM81 84h1v1h-1zM46 85h1v1h-1zM60 85h1v1h-1zM62 85h1v1h-1zM64 85h1v1h-1zM67 85h1v1h-1zM84 85h1v1h-1z" fill="#969696"/>
<path d="M0 0h2v1h-2zM13 0h1v1h-1zM15 0h1v1h-1zM26 0h1v1h-1zM32 0h3v1h-3zM54 0h1v1h-1zM1 1h1v1h-1zM3 1h1v1h-1zM8 1h1v1h-1zM23 1h1v1h-1zM26 1h1v1h-1zM42 1h1v1h-1zM27 2h1v1h-1zM6 3h1v1h-1zM9 3h1v1h-1zM19 3h1v1h-1zM30 3h2v1h-2zM39 3h2v1h-2zM3 4h2v1h-2zM19 4h1v1h-1zM0 5h1v1h-1zM3 5h2v1h-2zM22 5h1v1h-1zM41 5h1v1h-1zM1 6h1v1h-1zM6 6h1v1h-1zM11 6h2v1h-2zM19 6h1v1h-1zM39 6h1v1h-1zM37 7h1v1h-1zM1 8h1v1h-1zM7 8h1v1h-1zM9 8h1v1h-1zM17 8h1v1h-1zM41 8h2v1h-2zM0 9h1v1h-1zM10 9h1v1h-1zM19 9h1v1h-1zM21 9h1v1h-1zM24 9h1v1h-1zM49 9h1v1h-1zM11 10h2v1h-2zM15 10h1v1h-1zM11 11h1v1h-1zM24 11h1v1h-1zM26 11h1v1h-1zM40 11h1v1h-1zM1 12h1v1h-1zM11 12h1v1h-1zM18 12h1v1h-1zM21 12h1v1h-1zM6 13h1v1h-1zM8 13h1v1h-1zM12 13h1v1h-1zM15 13h1v1h-1zM17 13h2v1h-2zM26 13h1v1h-1zM37 13h2v1h-2zM40 13h1v1h-1zM5 15h1v1h-1zM15 15h1v1h-1zM27 15h1v1h-1zM38 15h2v1h-2zM5 16h1v1h-1zM16 16h1v1h-1zM21 16h1v1h-1zM24 16h1v1h-1zM26 16h1v1h-1zM36 16h1v1h-1zM40 16h1v1h-1zM11 17h1v1h-1zM16 17h1v1h-1zM22 17h1v1h-1zM42 17h1v1h-1zM48 17h1v1h-1zM83 17h1v1h-1zM17 18h1v1h-1zM19 18h1v1h-1zM22 18h1v1h-1zM27 18h1v1h-1zM15 19h1v1h-1zM17 19h2v1h-2zM21 19h1v1h-1zM49 19h1v1h-1zM63 19h1v1h-1zM81 19h1v1h-1zM0 20h1v1h-1zM17 21h1v1h-1zM21 21h2v1h-2zM25 21h1v1h-1zM42 21h1v1h-1zM21 22h1v1h-1zM25 22h1v1h-1zM27 22h1v1h-1zM32 22h1v1h-1zM38 22h1v1h-1zM17 23h1v1h-1zM20 23h1v1h-1zM26 23h2v1h-2zM1 24h1v1h-1zM5 24h1v1h-1zM16 24h1v1h-1zM25 24h1v1h-1zM30 24h1v1h-1zM8 25h1v1h-1zM10 25h1v1h-1zM13 25h1v1h-1zM15 25h1v1h-1zM21 25h1v1h-1zM23 25h4v1h-4zM73 25h1v1h-1zM19 26h1v1h-1zM24 26h1v1h-1zM61 26h1v1h-1zM20 27h2v1h-2zM28 27h1v1h-1zM8 28h1v1h-1zM15 28h1v1h-1zM18 28h1v1h-1zM27 28h2v1h-2zM30 28h1v1h-1zM30 29h1v1h-1zM41 29h1v1h-1zM12 30h1v1h-1zM16 30h1v1h-1zM24 30h1v1h-1zM27 30h1v1h-1zM31 30h1v1h-1zM40 30h1v1h-1zM82 30h1v1h-1zM4 31h1v1h-1zM3 32h1v1h-1zM15 32h1v1h-1zM25 32h2v1h-2zM28 32h1v1h-1zM85 32h1v1h-1zM12 33h1v1h-1zM18 33h2v1h-2zM13 34h1v1h-1zM26 34h1v1h-1zM41 34h1v1h-1zM19 35h1v1h-1zM34 35h1v1h-1zM9 37h1v1h-1zM15 37h1v1h-1zM38 37h1v1h-1zM3 38h1v1h-1zM30 38h1v1h-1zM37 38h1v1h-1zM41 38h2v1h-2zM63 38h1v1h-1zM73 38h1v1h-1zM30 39h1v1h-1zM32 39h2v1h-2zM39 39h1v1h-1zM23 40h1v1h-1zM30 40h1v1h-1zM35 40h1v1h-1zM39 40h1v1h-1zM13 41h1v1h-1zM27 41h1v1h-1zM42 41h1v1h-1zM79 41h1v1h-1zM20 42h1v1h-1zM22 42h1v1h-1zM42 42h1v1h-1zM67 42h1v1h-1zM74 42h1v1h-1zM45 43h1v1h-1zM44 44h1v1h-1zM48 44h1v1h-1zM57 44h1v1h-1zM69 44h1v1h-1zM72 44h2v1h-2zM76 44h1v1h-1zM45 45h1v1h-1zM49 45h1v1h-1zM68 45h1v1h-1zM73 45h2v1h-2zM77 45h1v1h-1zM83 45h1v1h-1zM47 46h1v1h-1zM49 46h1v1h-1zM55 46h1v1h-1zM59 46h1v1h-1zM83 46h1v1h-1zM85 46h1v1h-1zM44 47h1v1h-1zM47 47h2v1h-2zM52 47h1v1h-1zM55 47h1v1h-1zM63 47h1v1h-1zM81 47h2v1h-2zM44 48h2v1h-2zM57 48h1v1h-1zM62 48h1v1h-1zM57 49h1v1h-1zM59 49h1v1h-1zM62 49h1v1h-1zM76 49h1v1h-1zM83 49h1v1h-1zM64 50h1v1h-1zM53 51h1v1h-1zM55 51h1v1h-1zM74 51h1v1h-1zM51 52h2v1h-2zM56 52h1v1h-1zM59 52h1v1h-1zM61 52h1v1h-1zM1 53h1v1h-1zM10 53h1v1h-1zM49 53h1v1h-1zM51 53h1v1h-1zM55 53h1v1h-1zM80 53h1v1h-1zM51 54h2v1h-2zM55 54h1v1h-1zM70 54h1v1h-1zM79 54h1v1h-1zM81 54h1v1h-1zM0 55h1v1h-1zM24 55h1v1h-1zM49 55h1v1h-1zM76 55h1v1h-1zM82 55h1v1h-1zM28 56h1v1h-1zM49 56h1v1h-1zM59 56h1v1h-1zM62 56h1v1h-1zM49 57h1v1h-1zM51 57h1v1h-1zM55 57h1v1h-1zM57 57h1v1h-1zM59 57h1v1h-1zM63 57h1v1h-1zM73 57h1v1h-1zM81 57h2v1h-2zM85 57h1v1h-1zM53 59h1v1h-1zM59 59h1v1h-1zM48 60h1v1h-1zM55 60h1v1h-1zM59 60h1v1h-1zM62 60h1v1h-1zM69 60h1v1h-1zM80 60h1v1h-1zM48 61h1v1h-1zM52 61h1v1h-1zM61 61h1v1h-1zM68 61h1v1h-1zM75 61h1v1h-1zM77 61h1v1h-1zM83 61h1v1h-1zM44 62h2v1h-2zM52 62h1v1h-1zM60 62h1v1h-1zM82 62h1v1h-1zM44 63h1v1h-1zM54 63h2v1h-2zM59 63h2v1h-2zM63 63h1v1h-1zM72 63h1v1h-1zM46 64h2v1h-2zM49 64h1v1h-1zM66 64h1v1h-1zM83 64h1v1h-1zM49 66h1v1h-1zM61 66h1v1h-1zM49 67h1v1h-1zM59 67h1v1h-1zM66 67h1v1h-1zM15 68h1v1h-1zM28 68h1v1h-1zM52 68h1v1h-1zM54 68h1v1h-1zM62 68h1v1h-1zM66 68h1v1h-1zM72 68h1v1h-1zM74 68h3v1h-3zM84 68h1v1h-1zM6 69h1v1h-1zM52 69h1v1h-1zM60 69h1v1h-1zM64 69h1v1h-1zM73 69h1v1h-1zM45 71h1v1h-1zM48 71h1v1h-1zM52 71h1v1h-1zM58 71h1v1h-1zM61 71h2v1h-2zM41 72h1v1h-1zM58 72h1v1h-1zM69 72h1v1h-1zM72 72h1v1h-1zM75 72h1v1h-1zM77 72h1v1h-1zM47 73h1v1h-1zM49 73h1v1h-1zM67 73h1v1h-1zM70 73h2v1h-2zM75 73h1v1h-1zM77 73h1v1h-1zM79 73h1v1h-1zM84 73h2v1h-2zM66 74h1v1h-1zM73 74h2v1h-2zM85 74h1v1h-1zM8 75h1v1h-1zM49 75h1v1h-1zM55 75h1v1h-1zM59 75h1v1h-1zM75 75h1v1h-1zM79 75h1v1h-1zM81 75h1v1h-1zM85 75h1v1h-1zM25 76h1v1h-1zM34 76h1v1h-1zM46 76h1v1h-1zM51 76h1v1h-1zM63 76h1v1h-1zM66 76h1v1h-1zM76 76h1v1h-1zM0 77h1v1h-1zM51 77h1v1h-1zM53 77h1v1h-1zM72 77h1v1h-1zM79 77h1v1h-1zM81 77h1v1h-1zM73 78h1v1h-1zM23 79h1v1h-1zM37 79h2v1h-2zM45 79h1v1h-1zM53 79h1v1h-1zM55 79h1v1h-1zM64 79h1v1h-1zM76 79h1v1h-1zM79 79h1v1h-1zM8 80h1v1h-1zM23 80h1v1h-1zM25 80h1v1h-1zM72 80h1v1h-1zM83 80h1v1h-1zM61 81h1v1h-1zM76 81h1v1h-1zM78 81h2v1h-2zM81 81h1v1h-1zM84 81h2v1h-2zM42 82h1v1h-1zM55 82h1v1h-1zM69 82h1v1h-1zM77 82h1v1h-1zM79 82h4v1h-4zM22 83h1v1h-1zM64 83h1v1h-1zM81 83h1v1h-1zM85 83h1v1h-1zM24 84h1v1h-1zM49 84h1v1h-1zM82 84h1v1h-1zM68 85h2v1h-2zM83 85h1v1h-1z" fill="#555555"/>
</g>
<rect x="304.40" y="20.50" width="3.00" height="3.00" fill="#555" stroke="none" stroke-width="0.8"/>
<rect x="347.60" y="63.50" width="3.00" height="3.00" fill="#555" stroke="none" stroke-width="0.8"/>
<line x1="347.50" y1="21.00" x2="347.50" y2="106.00" stroke="#f03030" stroke-width="0.9" stroke-dasharray="1,1"/>
<line x1="305.00" y1="63.50" x2="390.30" y2="63.50" stroke="#f03030" stroke-width="0.9" stroke-dasharray="1,1"/>
<rect x="304.40" y="20.50" width="85.90" height="85.50" fill="none" stroke="#333" stroke-width="0.9"/>
<rect x="304.80" y="86.60" width="12.10" height="10.30" fill="none" stroke="#222" stroke-width="0.6"/>
<text x="298.00" y="25.60">1</text>
<text x="301.30" y="106.20" text-anchor="end">400</text>
<text x="305.00" y="114.20">1</text>
<text x="347.30" y="114.20" text-anchor="middle">Regions</text>
<text x="394.40" y="114.20" text-anchor="end">400</text>
<text transform="translate(300.80,63.00) rotate(-90)" text-anchor="middle">Regions</text>
<rect x="397.40" y="36.50" width="4.30" height="24.20" fill="#666" stroke="none" stroke-width="0.8"/>
<rect x="397.40" y="36.50" width="4.30" height="49.00" fill="none" stroke="#444" stroke-width="0.6"/>
<text x="399.50" y="34.00" text-anchor="middle">1</text>
<text x="399.30" y="92.20" text-anchor="middle">0</text>
<text x="476.60" y="5.90" text-anchor="middle">Asymmetric, weighted,</text>
<text x="476.60" y="14.30" text-anchor="middle">and signed SC</text>
<g transform="translate(433.60,20.50) scale(0.9977,0.9942)"">
<path d="M10 0h1v1h-1zM66 0h1v1h-1zM74 0h1v1h-1zM12 1h1v1h-1zM13 2h1v1h-1zM0 3h1v1h-1zM5 3h1v1h-1zM10 3h1v1h-1zM30 3h1v1h-1zM39 3h1v1h-1zM46 3h1v1h-1zM62 3h1v1h-1zM12 5h1v1h-1zM43 5h1v1h-1zM12 6h1v1h-1zM15 6h1v1h-1zM5 7h1v1h-1zM21 7h1v1h-1zM27 7h1v1h-1zM49 7h1v1h-1zM52 7h1v1h-1zM81 8h1v1h-1zM13 9h1v1h-1zM13 11h1v1h-1zM31 11h1v1h-1zM11 12h1v1h-1zM13 12h1v1h-1zM25 12h1v1h-1zM37 12h1v1h-1zM18 13h1v1h-1zM61 13h1v1h-1zM7 14h1v1h-1zM11 14h2v1h-2zM14 14h1v1h-1zM30 14h1v1h-1zM76 14h1v1h-1zM2 15h1v1h-1zM16 15h1v1h-1zM37 15h1v1h-1zM11 16h1v1h-1zM21 16h1v1h-1zM25 16h1v1h-1zM40 16h1v1h-1zM26 17h1v1h-1zM37 17h1v1h-1zM76 17h1v1h-1zM59 18h1v1h-1zM4 19h1v1h-1zM13 19h1v1h-1zM29 19h1v1h-1zM8 20h1v1h-1zM16 20h3v1h-3zM63 20h1v1h-1zM13 21h1v1h-1zM70 21h1v1h-1zM26 23h1v1h-1zM66 23h1v1h-1zM21 24h1v1h-1zM29 24h1v1h-1zM36 24h1v1h-1zM10 25h1v1h-1zM12 25h1v1h-1zM15 25h1v1h-1zM17 26h1v1h-1zM32 26h2v1h-2zM35 26h1v1h-1zM25 27h1v1h-1zM28 27h1v1h-1zM31 27h1v1h-1zM36 27h1v1h-1zM41 27h1v1h-1zM31 29h1v1h-1zM41 29h1v1h-1zM7 30h1v1h-1zM12 30h1v1h-1zM23 30h1v1h-1zM36 30h2v1h-2zM7 31h1v1h-1zM16 31h1v1h-1zM21 31h2v1h-2zM13 32h1v1h-1zM24 32h1v1h-1zM4 33h1v1h-1zM16 33h1v1h-1zM10 34h1v1h-1zM36 34h1v1h-1zM39 34h1v1h-1zM50 34h1v1h-1zM66 34h1v1h-1zM23 35h1v1h-1zM29 35h1v1h-1zM39 35h1v1h-1zM34 37h1v1h-1zM40 37h1v1h-1zM81 37h1v1h-1zM0 38h1v1h-1zM3 39h1v1h-1zM29 39h1v1h-1zM39 40h1v1h-1zM56 40h1v1h-1zM20 41h1v1h-1zM74 41h1v1h-1zM32 42h1v1h-1zM67 42h1v1h-1zM53 43h1v1h-1zM58 43h1v1h-1zM81 43h1v1h-1zM13 44h1v1h-1zM45 44h1v1h-1zM47 44h1v1h-1zM52 44h1v1h-1zM60 44h1v1h-1zM68 44h1v1h-1zM14 45h1v1h-1zM5 46h1v1h-1zM58 46h1v1h-1zM51 47h1v1h-1zM23 49h1v1h-1zM54 49h1v1h-1zM8 52h1v1h-1zM49 52h1v1h-1zM55 52h1v1h-1zM73 52h1v1h-1zM80 52h1v1h-1zM43 53h1v1h-1zM66 53h1v1h-1zM70 53h1v1h-1zM85 53h1v1h-1zM20 54h1v1h-1zM45 54h1v1h-1zM56 54h1v1h-1zM67 54h1v1h-1zM73 54h1v1h-1zM16 55h1v1h-1zM24 56h1v1h-1zM49 56h1v1h-1zM53 56h1v1h-1zM58 56h1v1h-1zM69 56h1v1h-1zM81 56h1v1h-1zM13 57h2v1h-2zM22 57h1v1h-1zM55 57h1v1h-1zM59 57h1v1h-1zM74 57h1v1h-1zM67 58h2v1h-2zM74 58h1v1h-1zM79 58h1v1h-1zM46 59h1v1h-1zM54 59h1v1h-1zM56 59h1v1h-1zM62 59h1v1h-1zM71 61h1v1h-1zM56 62h1v1h-1zM75 62h1v1h-1zM20 63h1v1h-1zM0 64h1v1h-1zM22 64h1v1h-1zM50 64h1v1h-1zM55 64h1v1h-1zM20 65h1v1h-1zM22 65h1v1h-1zM48 65h1v1h-1zM55 65h1v1h-1zM62 65h1v1h-1zM60 66h1v1h-1zM71 66h1v1h-1zM39 67h1v1h-1zM61 67h1v1h-1zM63 67h1v1h-1zM69 67h2v1h-2zM72 67h1v1h-1zM75 67h2v1h-2zM80 67h2v1h-2zM77 68h1v1h-1zM7 69h1v1h-1zM21 69h1v1h-1zM36 69h1v1h-1zM44 69h1v1h-1zM63 69h2v1h-2zM67 69h1v1h-1zM70 69h1v1h-1zM77 69h1v1h-1zM81 69h1v1h-1zM58 70h1v1h-1zM62 70h1v1h-1zM66 70h1v1h-1zM73 70h1v1h-1zM83 70h1v1h-1zM6 71h1v1h-1zM27 71h1v1h-1zM30 71h1v1h-1zM60 71h1v1h-1zM76 71h1v1h-1zM80 71h1v1h-1zM29 72h1v1h-1zM69 72h1v1h-1zM75 72h1v1h-1zM57 73h1v1h-1zM71 73h1v1h-1zM75 73h1v1h-1zM77 73h1v1h-1zM81 73h1v1h-1zM32 74h1v1h-1zM59 74h2v1h-2zM69 74h1v1h-1zM71 74h1v1h-1zM76 74h1v1h-1zM78 74h1v1h-1zM47 75h1v1h-1zM69 75h1v1h-1zM85 75h1v1h-1zM52 76h1v1h-1zM65 76h1v1h-1zM46 77h1v1h-1zM80 77h2v1h-2zM1 78h1v1h-1zM45 79h1v1h-1zM74 79h1v1h-1zM76 79h1v1h-1zM69 80h1v1h-1zM71 80h2v1h-2zM44 81h1v1h-1zM85 81h1v1h-1zM44 82h1v1h-1zM56 82h1v1h-1zM60 82h1v1h-1zM85 82h1v1h-1zM39 83h1v1h-1zM74 83h1v1h-1zM78 83h1v1h-1zM85 83h1v1h-1zM41 84h1v1h-1zM75 84h1v1h-1zM81 84h1v1h-1zM75 85h1v1h-1zM80 85h1v1h-1z" fill="#bce6ec"/>
<path d="M16 0h2v1h-2zM54 0h1v1h-1zM69 0h1v1h-1zM4 1h1v1h-1zM15 3h1v1h-1zM23 3h1v1h-1zM66 3h1v1h-1zM32 6h1v1h-1zM39 6h1v1h-1zM45 6h1v1h-1zM17 9h1v1h-1zM35 10h1v1h-1zM53 10h1v1h-1zM30 11h1v1h-1zM36 11h1v1h-1zM5 12h1v1h-1zM8 12h3v1h-3zM0 13h1v1h-1zM25 13h1v1h-1zM9 14h1v1h-1zM33 14h1v1h-1zM18 15h1v1h-1zM27 15h1v1h-1zM75 15h1v1h-1zM8 16h1v1h-1zM59 16h1v1h-1zM63 17h1v1h-1zM14 18h1v1h-1zM16 18h1v1h-1zM54 18h1v1h-1zM57 18h2v1h-2zM17 19h1v1h-1zM32 20h1v1h-1zM37 20h1v1h-1zM70 20h1v1h-1zM17 21h1v1h-1zM27 21h1v1h-1zM29 21h2v1h-2zM63 21h1v1h-1zM67 21h1v1h-1zM23 24h1v1h-1zM37 24h1v1h-1zM54 24h1v1h-1zM24 25h1v1h-1zM73 25h1v1h-1zM28 26h2v1h-2zM34 26h1v1h-1zM40 26h1v1h-1zM22 27h1v1h-1zM48 29h1v1h-1zM18 30h1v1h-1zM20 30h1v1h-1zM67 31h1v1h-1zM25 32h1v1h-1zM25 33h1v1h-1zM34 33h1v1h-1zM40 33h1v1h-1zM80 33h1v1h-1zM15 34h1v1h-1zM42 34h1v1h-1zM70 34h1v1h-1zM75 34h1v1h-1zM2 35h1v1h-1zM39 38h1v1h-1zM44 38h1v1h-1zM4 39h1v1h-1zM21 40h1v1h-1zM24 40h1v1h-1zM37 40h1v1h-1zM44 40h1v1h-1zM74 40h1v1h-1zM83 40h1v1h-1zM14 42h1v1h-1zM47 43h1v1h-1zM60 43h1v1h-1zM66 43h1v1h-1zM43 44h1v1h-1zM72 44h2v1h-2zM22 45h1v1h-1zM56 45h1v1h-1zM59 45h1v1h-1zM56 46h1v1h-1zM43 47h1v1h-1zM4 48h1v1h-1zM47 48h1v1h-1zM76 48h1v1h-1zM52 49h1v1h-1zM69 49h1v1h-1zM57 51h1v1h-1zM60 51h1v1h-1zM44 52h1v1h-1zM46 52h1v1h-1zM54 52h1v1h-1zM59 52h1v1h-1zM48 53h1v1h-1zM14 54h1v1h-1zM5 56h1v1h-1zM55 56h1v1h-1zM66 56h1v1h-1zM47 57h1v1h-1zM52 57h1v1h-1zM73 57h1v1h-1zM85 57h1v1h-1zM16 59h1v1h-1zM43 60h1v1h-1zM9 61h1v1h-1zM56 61h1v1h-1zM58 61h1v1h-1zM67 61h1v1h-1zM70 61h1v1h-1zM81 61h1v1h-1zM71 63h1v1h-1zM78 63h1v1h-1zM17 64h1v1h-1zM56 64h1v1h-1zM59 64h1v1h-1zM67 64h1v1h-1zM70 64h2v1h-2zM74 64h1v1h-1zM19 65h1v1h-1zM59 65h1v1h-1zM78 65h1v1h-1zM24 67h1v1h-1zM59 67h1v1h-1zM62 68h1v1h-1zM69 68h1v1h-1zM71 68h1v1h-1zM76 68h1v1h-1zM78 68h1v1h-1zM1 69h1v1h-1zM11 69h1v1h-1zM25 69h1v1h-1zM58 69h1v1h-1zM68 69h1v1h-1zM78 69h1v1h-1zM80 69h1v1h-1zM26 70h1v1h-1zM29 70h1v1h-1zM67 71h1v1h-1zM75 71h1v1h-1zM31 73h1v1h-1zM58 73h1v1h-1zM69 73h2v1h-2zM76 73h1v1h-1zM78 73h1v1h-1zM85 73h1v1h-1zM39 74h1v1h-1zM41 74h1v1h-1zM45 75h1v1h-1zM41 76h1v1h-1zM51 76h1v1h-1zM71 76h1v1h-1zM59 78h1v1h-1zM12 79h1v1h-1zM20 79h1v1h-1zM69 79h1v1h-1zM15 80h1v1h-1zM46 80h1v1h-1zM63 80h1v1h-1zM70 80h1v1h-1zM85 80h1v1h-1zM77 83h1v1h-1zM15 84h1v1h-1zM52 84h1v1h-1zM70 85h1v1h-1z" fill="#84cad2"/>
<path d="M0 0h2v1h-2zM2 3h1v1h-1zM7 3h1v1h-1zM33 3h2v1h-2zM36 3h1v1h-1zM52 3h1v1h-1zM49 6h1v1h-1zM2 7h1v1h-1zM6 7h1v1h-1zM48 7h1v1h-1zM63 7h1v1h-1zM5 8h1v1h-1zM39 8h1v1h-1zM14 9h1v1h-1zM16 9h1v1h-1zM43 9h1v1h-1zM12 10h1v1h-1zM1 12h1v1h-1zM17 12h1v1h-1zM39 12h1v1h-1zM59 12h1v1h-1zM9 13h1v1h-1zM17 13h1v1h-1zM71 13h1v1h-1zM22 14h1v1h-1zM27 14h1v1h-1zM8 15h1v1h-1zM10 15h1v1h-1zM58 15h1v1h-1zM13 16h1v1h-1zM43 16h1v1h-1zM9 17h1v1h-1zM13 17h1v1h-1zM15 17h1v1h-1zM60 17h1v1h-1zM3 18h1v1h-1zM9 18h2v1h-2zM42 18h1v1h-1zM6 19h1v1h-1zM15 19h1v1h-1zM23 19h1v1h-1zM39 19h1v1h-1zM12 20h1v1h-1zM26 20h1v1h-1zM31 20h1v1h-1zM60 20h1v1h-1zM1 21h1v1h-1zM10 21h1v1h-1zM18 21h1v1h-1zM42 21h1v1h-1zM2 23h1v1h-1zM7 23h1v1h-1zM12 23h1v1h-1zM25 23h1v1h-1zM18 24h1v1h-1zM22 24h1v1h-1zM25 24h1v1h-1zM41 24h1v1h-1zM69 24h1v1h-1zM22 25h1v1h-1zM30 25h1v1h-1zM12 26h1v1h-1zM16 26h1v1h-1zM27 26h1v1h-1zM13 27h1v1h-1zM32 27h1v1h-1zM75 27h1v1h-1zM4 29h1v1h-1zM21 29h1v1h-1zM23 29h1v1h-1zM32 29h1v1h-1zM27 30h1v1h-1zM9 31h1v1h-1zM27 31h1v1h-1zM37 31h1v1h-1zM80 31h1v1h-1zM21 32h1v1h-1zM27 32h1v1h-1zM78 32h1v1h-1zM22 33h1v1h-1zM30 33h1v1h-1zM36 33h1v1h-1zM33 34h1v1h-1zM37 34h1v1h-1zM62 34h1v1h-1zM0 35h1v1h-1zM6 35h1v1h-1zM26 35h1v1h-1zM32 35h1v1h-1zM37 35h1v1h-1zM40 35h1v1h-1zM55 35h1v1h-1zM32 37h1v1h-1zM41 37h1v1h-1zM12 38h1v1h-1zM32 38h1v1h-1zM60 38h1v1h-1zM52 39h1v1h-1zM0 40h1v1h-1zM22 40h1v1h-1zM36 40h1v1h-1zM41 40h1v1h-1zM60 40h1v1h-1zM12 42h1v1h-1zM37 42h1v1h-1zM75 43h1v1h-1zM7 44h1v1h-1zM49 44h1v1h-1zM83 44h1v1h-1zM34 45h1v1h-1zM43 45h1v1h-1zM57 45h1v1h-1zM75 45h1v1h-1zM45 46h1v1h-1zM52 46h2v1h-2zM43 48h1v1h-1zM61 48h1v1h-1zM65 48h1v1h-1zM69 48h1v1h-1zM43 49h1v1h-1zM48 52h1v1h-1zM58 52h1v1h-1zM85 52h1v1h-1zM10 53h1v1h-1zM21 53h1v1h-1zM50 53h1v1h-1zM52 54h1v1h-1zM57 54h1v1h-1zM12 55h1v1h-1zM59 56h2v1h-2zM62 56h1v1h-1zM71 56h1v1h-1zM74 56h1v1h-1zM43 57h1v1h-1zM71 57h1v1h-1zM57 58h1v1h-1zM13 59h1v1h-1zM61 59h1v1h-1zM72 59h1v1h-1zM16 60h1v1h-1zM16 61h1v1h-1zM55 61h1v1h-1zM52 63h1v1h-1zM59 63h1v1h-1zM20 64h1v1h-1zM85 64h1v1h-1zM80 65h1v1h-1zM33 66h1v1h-1zM48 66h1v1h-1zM85 66h1v1h-1zM53 67h1v1h-1zM55 67h1v1h-1zM24 68h1v1h-1zM41 68h1v1h-1zM50 68h1v1h-1zM70 68h1v1h-1zM71 69h1v1h-1zM28 70h1v1h-1zM43 70h1v1h-1zM49 70h1v1h-1zM69 71h1v1h-1zM44 72h1v1h-1zM47 73h1v1h-1zM37 74h1v1h-1zM45 74h1v1h-1zM63 74h1v1h-1zM70 74h1v1h-1zM75 74h1v1h-1zM77 74h1v1h-1zM73 75h2v1h-2zM2 76h1v1h-1zM22 76h1v1h-1zM49 76h1v1h-1zM70 76h1v1h-1zM72 76h1v1h-1zM83 76h1v1h-1zM24 78h1v1h-1zM69 78h1v1h-1zM72 78h1v1h-1zM0 80h1v1h-1zM10 80h1v1h-1zM53 80h1v1h-1zM62 80h1v1h-1zM51 83h1v1h-1zM54 83h1v1h-1zM12 84h1v1h-1zM20 84h1v1h-1zM69 84h1v1h-1zM14 85h1v1h-1zM47 85h1v1h-1zM73 85h1v1h-1z" fill="#c8e6b8"/>
<path d="M76 0h1v1h-1zM0 2h1v1h-1zM36 2h1v1h-1zM47 3h1v1h-1zM37 6h1v1h-1zM0 7h2v1h-2zM4 7h1v1h-1zM9 7h1v1h-1zM2 8h1v1h-1zM10 8h1v1h-1zM31 8h1v1h-1zM6 9h1v1h-1zM3 10h1v1h-1zM7 10h1v1h-1zM27 12h1v1h-1zM24 13h1v1h-1zM15 14h1v1h-1zM63 14h1v1h-1zM12 15h2v1h-2zM17 16h1v1h-1zM32 16h1v1h-1zM2 17h1v1h-1zM14 17h1v1h-1zM5 18h1v1h-1zM12 18h1v1h-1zM37 18h1v1h-1zM27 19h1v1h-1zM1 20h1v1h-1zM5 20h1v1h-1zM33 20h1v1h-1zM62 20h1v1h-1zM20 21h1v1h-1zM23 21h1v1h-1zM25 21h1v1h-1zM32 21h1v1h-1zM15 24h1v1h-1zM18 25h1v1h-1zM24 26h1v1h-1zM30 26h1v1h-1zM23 27h1v1h-1zM29 27h1v1h-1zM33 29h1v1h-1zM36 29h1v1h-1zM39 29h1v1h-1zM8 30h1v1h-1zM24 30h1v1h-1zM33 30h1v1h-1zM10 31h1v1h-1zM17 31h1v1h-1zM29 31h1v1h-1zM51 31h1v1h-1zM78 31h1v1h-1zM30 32h1v1h-1zM39 32h1v1h-1zM41 32h1v1h-1zM23 33h2v1h-2zM55 33h1v1h-1zM66 33h1v1h-1zM26 34h2v1h-2zM48 34h1v1h-1zM27 35h1v1h-1zM44 35h1v1h-1zM30 37h1v1h-1zM37 38h1v1h-1zM63 39h1v1h-1zM9 41h1v1h-1zM8 43h1v1h-1zM57 43h1v1h-1zM30 45h1v1h-1zM73 47h1v1h-1zM76 47h1v1h-1zM46 48h1v1h-1zM59 48h1v1h-1zM68 48h1v1h-1zM80 48h1v1h-1zM46 49h1v1h-1zM0 52h1v1h-1zM20 52h1v1h-1zM45 52h1v1h-1zM56 52h1v1h-1zM54 53h2v1h-2zM7 54h1v1h-1zM80 55h1v1h-1zM44 56h1v1h-1zM52 56h1v1h-1zM68 57h1v1h-1zM76 57h1v1h-1zM33 59h1v1h-1zM49 59h1v1h-1zM52 60h1v1h-1zM39 63h1v1h-1zM53 63h1v1h-1zM52 64h1v1h-1zM68 64h1v1h-1zM80 64h1v1h-1zM52 66h1v1h-1zM12 68h1v1h-1zM46 68h1v1h-1zM74 70h1v1h-1zM81 70h1v1h-1zM59 71h1v1h-1zM66 71h1v1h-1zM71 72h1v1h-1zM85 72h1v1h-1zM32 73h1v1h-1zM63 73h1v1h-1zM63 75h1v1h-1zM46 78h1v1h-1zM65 78h1v1h-1zM25 79h1v1h-1zM36 79h1v1h-1zM1 82h1v1h-1zM66 82h1v1h-1zM16 83h1v1h-1zM36 83h1v1h-1zM80 83h2v1h-2z" fill="#e4e8a4"/>
<path d="M3 0h3v1h-3zM8 0h1v1h-1zM25 0h1v1h-1zM27 0h1v1h-1zM31 2h1v1h-1zM32 3h1v1h-1zM73 3h1v1h-1zM9 6h1v1h-1zM50 7h1v1h-1zM1 8h1v1h-1zM11 8h2v1h-2zM27 8h1v1h-1zM12 9h1v1h-1zM10 10h1v1h-1zM15 10h1v1h-1zM20 11h1v1h-1zM7 12h1v1h-1zM34 12h1v1h-1zM12 13h1v1h-1zM56 13h1v1h-1zM1 14h1v1h-1zM25 15h1v1h-1zM14 16h1v1h-1zM20 17h1v1h-1zM27 18h1v1h-1zM20 19h3v1h-3zM14 20h2v1h-2zM22 20h1v1h-1zM55 20h1v1h-1zM7 21h1v1h-1zM59 21h1v1h-1zM77 23h1v1h-1zM20 24h1v1h-1zM32 24h1v1h-1zM76 24h1v1h-1zM1 25h1v1h-1zM19 25h1v1h-1zM8 26h1v1h-1zM20 26h1v1h-1zM25 26h1v1h-1zM56 26h1v1h-1zM70 26h1v1h-1zM13 29h1v1h-1zM20 29h1v1h-1zM26 29h2v1h-2zM1 31h1v1h-1zM25 31h1v1h-1zM33 31h1v1h-1zM29 32h1v1h-1zM34 32h1v1h-1zM9 33h1v1h-1zM21 33h1v1h-1zM29 33h1v1h-1zM32 33h1v1h-1zM24 34h1v1h-1zM30 34h1v1h-1zM71 35h1v1h-1zM32 36h1v1h-1zM34 36h1v1h-1zM80 37h1v1h-1zM34 38h1v1h-1zM9 39h1v1h-1zM33 39h1v1h-1zM8 41h1v1h-1zM80 41h1v1h-1zM22 42h1v1h-1zM49 42h1v1h-1zM46 44h1v1h-1zM44 45h1v1h-1zM47 46h1v1h-1zM56 47h1v1h-1zM58 47h1v1h-1zM66 47h1v1h-1zM44 48h2v1h-2zM55 48h1v1h-1zM58 48h1v1h-1zM55 49h1v1h-1zM62 51h1v1h-1zM63 52h1v1h-1zM57 53h1v1h-1zM74 53h1v1h-1zM46 54h1v1h-1zM51 54h1v1h-1zM78 54h1v1h-1zM43 55h1v1h-1zM47 55h1v1h-1zM49 55h1v1h-1zM20 56h1v1h-1zM63 56h1v1h-1zM48 57h1v1h-1zM60 57h1v1h-1zM50 58h1v1h-1zM71 58h1v1h-1zM15 59h1v1h-1zM69 59h1v1h-1zM21 61h1v1h-1zM66 61h1v1h-1zM68 61h1v1h-1zM55 63h2v1h-2zM60 63h1v1h-1zM68 63h1v1h-1zM70 63h1v1h-1zM75 63h1v1h-1zM25 64h1v1h-1zM83 64h1v1h-1zM60 65h1v1h-1zM67 65h1v1h-1zM70 65h1v1h-1zM23 66h1v1h-1zM69 66h1v1h-1zM44 67h1v1h-1zM71 67h1v1h-1zM82 67h1v1h-1zM52 68h1v1h-1zM58 68h1v1h-1zM33 69h1v1h-1zM73 69h1v1h-1zM55 70h1v1h-1zM68 70h2v1h-2zM71 70h1v1h-1zM78 71h1v1h-1zM68 72h1v1h-1zM65 73h1v1h-1zM80 73h1v1h-1zM61 74h1v1h-1zM49 75h1v1h-1zM51 75h1v1h-1zM83 75h1v1h-1zM44 76h1v1h-1zM67 76h1v1h-1zM74 76h1v1h-1zM78 76h1v1h-1zM66 77h1v1h-1zM76 78h1v1h-1zM5 79h1v1h-1zM41 79h1v1h-1zM63 79h1v1h-1zM73 79h1v1h-1zM79 79h1v1h-1zM51 80h1v1h-1zM74 80h1v1h-1zM74 82h1v1h-1zM68 84h1v1h-1zM71 84h1v1h-1zM55 85h1v1h-1z" fill="#f0cca0"/>
<path d="M2 1h1v1h-1zM1 2h1v1h-1zM3 2h1v1h-1zM4 3h1v1h-1zM6 5h1v1h-1zM7 8h1v1h-1zM8 9h1v1h-1zM10 9h2v1h-2zM9 10h1v1h-1zM11 10h1v1h-1zM10 11h1v1h-1zM12 11h1v1h-1zM14 12h1v1h-1zM10 14h1v1h-1zM13 14h1v1h-1zM16 14h1v1h-1zM14 15h1v1h-1zM12 16h1v1h-1zM15 16h1v1h-1zM16 17h1v1h-1zM17 18h1v1h-1zM19 18h1v1h-1zM23 18h1v1h-1zM16 19h1v1h-1zM18 19h1v1h-1zM19 20h1v1h-1zM21 20h1v1h-1zM27 20h1v1h-1zM22 21h1v1h-1zM23 22h1v1h-1zM22 23h1v1h-1zM33 23h1v1h-1zM27 24h1v1h-1zM23 25h1v1h-1zM26 25h1v1h-1zM24 27h1v1h-1zM26 27h1v1h-1zM28 29h1v1h-1zM30 29h1v1h-1zM26 30h1v1h-1zM32 30h1v1h-1zM41 30h1v1h-1zM32 31h1v1h-1zM33 32h1v1h-1zM34 35h1v1h-1zM35 36h1v1h-1zM36 37h1v1h-1zM38 37h1v1h-1zM37 39h2v1h-2zM40 39h1v1h-1zM40 41h1v1h-1zM41 42h1v1h-1zM43 42h1v1h-1zM42 43h1v1h-1zM44 43h1v1h-1zM48 44h1v1h-1zM46 45h1v1h-1zM50 45h1v1h-1zM49 48h1v1h-1zM54 48h1v1h-1zM50 49h1v1h-1zM51 50h2v1h-2zM50 51h1v1h-1zM52 51h1v1h-1zM50 52h1v1h-1zM52 53h1v1h-1zM55 54h1v1h-1zM52 55h1v1h-1zM54 55h1v1h-1zM56 55h1v1h-1zM50 56h1v1h-1zM57 56h1v1h-1zM56 57h1v1h-1zM58 57h1v1h-1zM58 59h1v1h-1zM60 59h1v1h-1zM60 61h1v1h-1zM62 61h1v1h-1zM61 62h1v1h-1zM62 63h1v1h-1zM57 64h1v1h-1zM63 65h2v1h-2zM66 65h1v1h-1zM62 66h1v1h-1zM67 66h1v1h-1zM66 67h1v1h-1zM68 67h1v1h-1zM66 68h1v1h-1zM70 72h1v1h-1zM72 73h1v1h-1zM74 73h1v1h-1zM68 74h1v1h-1zM72 74h2v1h-2zM76 75h1v1h-1zM73 76h1v1h-1zM75 76h1v1h-1zM77 76h1v1h-1zM76 77h1v1h-1zM77 78h1v1h-1zM80 79h1v1h-1zM79 80h1v1h-1zM81 80h1v1h-1zM82 81h1v1h-1zM84 83h1v1h-1zM83 84h1v1h-1zM85 84h1v1h-1zM84 85h1v1h-1z" fill="#dc9062"/>
<path d="M21 0h1v1h-1zM7 2h1v1h-1zM51 2h1v1h-1zM5 6h1v1h-1zM13 6h1v1h-1zM26 9h1v1h-1zM5 10h1v1h-1zM37 11h1v1h-1zM2 12h1v1h-1zM42 12h1v1h-1zM63 12h1v1h-1zM26 14h1v1h-1zM1 17h1v1h-1zM9 19h1v1h-1zM23 20h1v1h-1zM12 21h1v1h-1zM24 21h1v1h-1zM39 24h1v1h-1zM21 25h1v1h-1zM39 27h1v1h-1zM27 28h1v1h-1zM73 29h1v1h-1zM31 31h1v1h-1zM63 31h1v1h-1zM26 32h1v1h-1zM56 33h1v1h-1zM28 34h1v1h-1zM67 38h1v1h-1zM29 40h1v1h-1zM27 41h1v1h-1zM54 44h1v1h-1zM53 45h1v1h-1zM44 46h1v1h-1zM50 46h1v1h-1zM45 47h1v1h-1zM50 47h1v1h-1zM49 53h1v1h-1zM61 53h1v1h-1zM57 55h1v1h-1zM70 56h1v1h-1zM78 57h1v1h-1zM73 58h1v1h-1zM63 59h1v1h-1zM71 59h1v1h-1zM69 60h1v1h-1zM61 63h1v1h-1zM10 64h1v1h-1zM18 64h1v1h-1zM49 64h1v1h-1zM61 64h1v1h-1zM66 64h1v1h-1zM71 65h1v1h-1zM75 69h1v1h-1zM77 70h1v1h-1zM63 71h1v1h-1zM83 72h1v1h-1zM59 76h1v1h-1zM63 76h1v1h-1zM80 76h1v1h-1zM10 79h1v1h-1zM61 79h1v1h-1zM78 79h1v1h-1zM68 80h1v1h-1zM76 82h1v1h-1zM80 84h1v1h-1z" fill="#aac6e6"/>
<path d="M1 1h1v1h-1zM2 2h1v1h-1zM3 3h1v1h-1zM4 4h1v1h-1zM5 5h1v1h-1zM6 6h1v1h-1zM7 7h1v1h-1zM8 8h1v1h-1zM9 9h1v1h-1zM11 11h1v1h-1zM12 12h1v1h-1zM13 13h1v1h-1zM15 15h1v1h-1zM16 16h1v1h-1zM17 17h1v1h-1zM18 18h1v1h-1zM19 19h1v1h-1zM20 20h1v1h-1zM21 21h1v1h-1zM22 22h1v1h-1zM23 23h1v1h-1zM24 24h1v1h-1zM25 25h1v1h-1zM26 26h1v1h-1zM27 27h1v1h-1zM29 29h1v1h-1zM30 30h1v1h-1zM32 32h1v1h-1zM33 33h1v1h-1zM34 34h1v1h-1zM35 35h1v1h-1zM36 36h1v1h-1zM37 37h1v1h-1zM38 38h1v1h-1zM39 39h1v1h-1zM40 40h1v1h-1zM41 41h1v1h-1zM42 42h1v1h-1zM44 44h1v1h-1zM45 45h1v1h-1zM46 46h1v1h-1zM47 47h1v1h-1zM49 49h1v1h-1zM50 50h1v1h-1zM51 51h1v1h-1zM52 52h1v1h-1zM53 53h1v1h-1zM54 54h1v1h-1zM55 55h1v1h-1zM56 56h1v1h-1zM57 57h1v1h-1zM58 58h1v1h-1zM59 59h1v1h-1zM60 60h1v1h-1zM61 61h1v1h-1zM62 62h1v1h-1zM63 63h1v1h-1zM64 64h1v1h-1zM66 66h1v1h-1zM67 67h1v1h-1zM68 68h1v1h-1zM69 69h1v1h-1zM70 70h1v1h-1zM71 71h1v1h-1zM72 72h1v1h-1zM73 73h1v1h-1zM74 74h1v1h-1zM75 75h1v1h-1zM76 76h1v1h-1zM77 77h1v1h-1zM78 78h1v1h-1zM80 80h1v1h-1zM81 81h1v1h-1zM82 82h1v1h-1zM83 83h1v1h-1zM84 84h1v1h-1zM85 85h1v1h-1z" fill="#d8703e"/>
</g>
<line x1="476.50" y1="21.00" x2="476.50" y2="106.00" stroke="#f03030" stroke-width="0.9" stroke-dasharray="1,1"/>
<line x1="434.00" y1="63.50" x2="519.40" y2="63.50" stroke="#f03030" stroke-width="0.9" stroke-dasharray="1,1"/>
<rect x="433.60" y="20.50" width="85.80" height="85.50" fill="none" stroke="#333" stroke-width="0.9"/>
<text x="427.30" y="25.60">1</text>
<text x="430.60" y="106.20" text-anchor="end">400</text>
<text x="434.30" y="114.20">1</text>
<text x="476.50" y="114.20" text-anchor="middle">Regions</text>
<text x="523.60" y="114.20" text-anchor="end">400</text>
<text transform="translate(430.00,63.00) rotate(-90)" text-anchor="middle">Regions</text>
<defs><linearGradient id="gc" x1="0" y1="0" x2="0" y2="1"><stop offset="0" stop-color="#e8281e"/><stop offset="0.2" stop-color="#f0a030"/><stop offset="0.36" stop-color="#f2e83c"/><stop offset="0.5" stop-color="#ffffff"/><stop offset="0.66" stop-color="#40c8e0"/><stop offset="0.85" stop-color="#2a80c8"/><stop offset="1" stop-color="#283c8c"/></linearGradient></defs>
<rect x="527.00" y="38.40" width="4.30" height="47.50" fill="url(#gc)" stroke="#444" stroke-width="0.5"/>
<text x="527.60" y="36.00" text-anchor="middle">+0.1</text>
<text x="527.80" y="94.00" text-anchor="middle">-0.1</text>
<text transform="translate(539.00,62.00) rotate(-90)" text-anchor="middle">Reg. weights</text>
<g transform="translate(592.00,30.00) scale(1.0000,1.0000)"">
<path d="M28 26h3v1h-3zM26 27h5v1h-5zM26 28h5v1h-5zM26 29h4v1h-4zM25 30h5v1h-5zM25 31h4v1h-4zM25 32h3v1h-3z" fill="#d8261a"/>
<path d="M28 24h4v1h-4zM27 25h6v1h-6zM26 26h2v1h-2zM31 26h1v1h-1zM31 27h1v1h-1zM25 28h1v1h-1zM31 28h1v1h-1zM25 29h1v1h-1zM30 29h2v1h-2zM24 30h1v1h-1zM30 30h1v1h-1zM24 31h1v1h-1zM29 31h1v1h-1zM23 32h2v1h-2zM28 32h1v1h-1zM23 33h6v1h-6zM24 34h4v1h-4z" fill="#ee4a1e"/>
<path d="M29 22h4v1h-4zM27 23h7v1h-7zM27 24h1v1h-1zM32 24h2v1h-2zM25 25h2v1h-2zM33 25h1v1h-1zM25 26h1v1h-1zM32 26h2v1h-2zM25 27h1v1h-1zM32 27h1v1h-1zM24 28h1v1h-1zM32 28h1v1h-1zM24 29h1v1h-1zM32 29h1v1h-1zM23 30h1v1h-1zM31 30h1v1h-1zM23 31h1v1h-1zM30 31h1v1h-1zM29 32h1v1h-1zM22 33h1v1h-1zM29 33h1v1h-1zM22 34h2v1h-2zM28 34h1v1h-1zM22 35h6v1h-6zM24 36h3v1h-3z" fill="#f58424"/>
<path d="M30 20h4v1h-4zM28 21h7v1h-7zM26 22h3v1h-3zM33 22h2v1h-2zM25 23h2v1h-2zM34 23h1v1h-1zM25 24h2v1h-2zM34 24h2v1h-2zM24 25h1v1h-1zM34 25h1v1h-1zM24 26h1v1h-1zM23 27h2v1h-2zM33 27h1v1h-1zM23 28h1v1h-1zM33 28h1v1h-1zM23 29h1v1h-1zM33 29h1v1h-1zM22 30h1v1h-1zM32 30h1v1h-1zM22 31h1v1h-1zM31 31h2v1h-2zM21 32h2v1h-2zM30 32h2v1h-2zM21 33h1v1h-1zM30 33h1v1h-1zM21 34h1v1h-1zM29 34h1v1h-1zM20 35h2v1h-2zM28 35h1v1h-1zM20 36h4v1h-4zM27 36h2v1h-2zM21 37h7v1h-7zM21 38h4v1h-4zM26 38h1v1h-1z" fill="#f8b42c"/>
<path d="M31 16h1v1h-1zM33 16h3v1h-3zM30 17h7v1h-7zM28 18h9v1h-9zM27 19h11v1h-11zM26 20h4v1h-4zM34 20h4v1h-4zM25 21h3v1h-3zM35 21h3v1h-3zM24 22h2v1h-2zM35 22h3v1h-3zM23 23h2v1h-2zM35 23h2v1h-2zM23 24h2v1h-2zM36 24h1v1h-1zM22 25h2v1h-2zM35 25h2v1h-2zM22 26h2v1h-2zM34 26h3v1h-3zM22 27h1v1h-1zM34 27h2v1h-2zM21 28h2v1h-2zM34 28h2v1h-2zM21 29h2v1h-2zM34 29h2v1h-2zM20 30h2v1h-2zM33 30h2v1h-2zM20 31h2v1h-2zM33 31h2v1h-2zM20 32h1v1h-1zM32 32h2v1h-2zM20 33h1v1h-1zM31 33h2v1h-2zM19 34h2v1h-2zM30 34h2v1h-2zM19 35h1v1h-1zM29 35h2v1h-2zM18 36h2v1h-2zM29 36h1v1h-1zM18 37h3v1h-3zM28 37h2v1h-2zM18 38h3v1h-3zM25 38h1v1h-1zM27 38h2v1h-2zM18 39h10v1h-10zM18 40h9v1h-9zM19 41h8v1h-8z" fill="#f6e03a"/>
<path d="M32 15h1v1h-1zM35 15h2v1h-2zM30 16h1v1h-1zM32 16h1v1h-1zM36 16h1v1h-1zM28 17h2v1h-2zM37 17h1v1h-1zM27 18h1v1h-1zM37 18h2v1h-2zM26 19h1v1h-1zM38 19h1v1h-1zM24 20h2v1h-2zM38 20h1v1h-1zM24 21h1v1h-1zM38 21h1v1h-1zM23 22h1v1h-1zM22 23h1v1h-1zM37 23h1v1h-1zM22 24h1v1h-1zM37 24h1v1h-1zM37 25h1v1h-1zM21 26h1v1h-1zM21 27h1v1h-1zM36 27h1v1h-1zM36 28h1v1h-1zM20 29h1v1h-1zM35 30h1v1h-1zM19 31h1v1h-1zM19 32h1v1h-1zM34 32h1v1h-1zM19 33h1v1h-1zM33 33h1v1h-1zM18 34h1v1h-1zM32 34h1v1h-1zM18 35h1v1h-1zM31 35h1v1h-1zM30 36h1v1h-1zM17 38h1v1h-1zM29 38h1v1h-1zM17 39h1v1h-1zM28 39h1v1h-1zM17 40h1v1h-1zM27 40h2v1h-2zM18 41h1v1h-1zM27 41h1v1h-1zM18 42h6v1h-6zM26 42h1v1h-1z" fill="#f8f6a0"/>
<path d="M35 14h6v1h-6zM29 15h3v1h-3zM33 15h2v1h-2zM37 15h3v1h-3zM27 16h3v1h-3zM37 16h2v1h-2zM40 16h1v1h-1zM26 17h2v1h-2zM38 17h1v1h-1zM24 18h3v1h-3zM39 18h1v1h-1zM24 19h2v1h-2zM39 19h1v1h-1zM23 20h1v1h-1zM23 21h1v1h-1zM22 22h1v1h-1zM38 22h1v1h-1zM38 23h1v1h-1zM21 25h1v1h-1zM37 26h1v1h-1zM20 27h1v1h-1zM20 28h1v1h-1zM36 29h1v1h-1zM19 30h1v1h-1zM35 31h1v1h-1zM18 33h1v1h-1zM34 33h1v1h-1zM33 34h1v1h-1zM17 35h1v1h-1zM32 35h1v1h-1zM17 36h1v1h-1zM31 36h1v1h-1zM17 37h1v1h-1zM30 37h1v1h-1zM16 38h1v1h-1zM16 39h1v1h-1zM29 39h1v1h-1zM15 40h1v1h-1zM15 41h1v1h-1zM17 41h1v1h-1zM28 41h1v1h-1zM15 42h3v1h-3zM24 42h2v1h-2zM27 42h1v1h-1zM16 43h3v1h-3zM20 43h8v1h-8z" fill="#ffffff"/>
<path d="M37 12h1v1h-1zM40 12h2v1h-2zM33 13h9v1h-9zM28 14h7v1h-7zM41 14h1v1h-1zM27 15h2v1h-2zM40 15h1v1h-1zM25 16h2v1h-2zM39 16h1v1h-1zM24 17h2v1h-2zM39 17h2v1h-2zM23 18h1v1h-1zM40 18h1v1h-1zM23 19h1v1h-1zM39 20h1v1h-1zM22 21h1v1h-1zM39 21h1v1h-1zM39 22h1v1h-1zM21 23h1v1h-1zM21 24h1v1h-1zM38 24h1v1h-1zM38 25h1v1h-1zM20 26h1v1h-1zM38 26h1v1h-1zM37 27h1v1h-1zM19 28h1v1h-1zM37 28h1v1h-1zM19 29h1v1h-1zM36 30h1v1h-1zM18 31h1v1h-1zM36 31h1v1h-1zM18 32h1v1h-1zM35 32h1v1h-1zM17 34h1v1h-1zM34 34h1v1h-1zM33 35h1v1h-1zM16 36h1v1h-1zM16 37h1v1h-1zM31 37h1v1h-1zM30 38h1v1h-1zM15 39h1v1h-1zM16 40h1v1h-1zM29 40h1v1h-1zM14 41h1v1h-1zM16 41h1v1h-1zM14 42h1v1h-1zM28 42h1v1h-1zM14 43h2v1h-2zM19 43h1v1h-1zM15 44h13v1h-13z" fill="#bff0f8"/>
<path d="M34 11h1v1h-1zM36 11h1v1h-1zM38 11h6v1h-6zM29 12h8v1h-8zM38 12h2v1h-2zM42 12h2v1h-2zM28 13h5v1h-5zM42 13h1v1h-1zM25 14h3v1h-3zM42 14h1v1h-1zM24 15h3v1h-3zM41 15h2v1h-2zM24 16h1v1h-1zM41 16h1v1h-1zM23 17h1v1h-1zM41 17h1v1h-1zM41 18h1v1h-1zM22 19h1v1h-1zM40 19h2v1h-2zM22 20h1v1h-1zM40 20h1v1h-1zM21 21h1v1h-1zM40 21h1v1h-1zM21 22h1v1h-1zM20 23h1v1h-1zM39 23h2v1h-2zM20 24h1v1h-1zM39 24h1v1h-1zM20 25h1v1h-1zM39 25h1v1h-1zM19 26h1v1h-1zM39 26h1v1h-1zM19 27h1v1h-1zM38 27h1v1h-1zM18 28h1v1h-1zM38 28h1v1h-1zM18 29h1v1h-1zM37 29h1v1h-1zM17 30h2v1h-2zM37 30h1v1h-1zM17 31h1v1h-1zM37 31h1v1h-1zM17 32h1v1h-1zM36 32h1v1h-1zM17 33h1v1h-1zM35 33h2v1h-2zM16 34h1v1h-1zM16 35h1v1h-1zM34 35h1v1h-1zM32 36h2v1h-2zM15 37h1v1h-1zM32 37h1v1h-1zM15 38h1v1h-1zM31 38h1v1h-1zM30 39h1v1h-1zM14 40h1v1h-1zM13 41h1v1h-1zM29 41h1v1h-1zM13 42h1v1h-1zM13 43h1v1h-1zM28 43h1v1h-1zM12 44h3v1h-3zM28 44h1v1h-1zM13 45h15v1h-15zM16 46h1v1h-1zM20 46h2v1h-2zM23 46h2v1h-2z" fill="#6fd8f0"/>
<path d="M41 9h5v1h-5zM31 10h14v1h-14zM28 11h6v1h-6zM35 11h1v1h-1zM37 11h1v1h-1zM44 11h1v1h-1zM26 12h3v1h-3zM25 13h3v1h-3zM43 13h1v1h-1zM24 14h1v1h-1zM43 14h1v1h-1zM23 15h1v1h-1zM43 15h1v1h-1zM22 16h2v1h-2zM42 16h1v1h-1zM22 17h1v1h-1zM42 17h1v1h-1zM22 18h1v1h-1zM42 18h1v1h-1zM21 19h1v1h-1zM21 20h1v1h-1zM41 20h1v1h-1zM20 21h1v1h-1zM41 21h1v1h-1zM20 22h1v1h-1zM40 22h1v1h-1zM19 23h1v1h-1zM19 24h1v1h-1zM40 24h1v1h-1zM19 25h1v1h-1zM40 25h1v1h-1zM18 26h1v1h-1zM18 27h1v1h-1zM39 27h1v1h-1zM17 28h1v1h-1zM39 28h1v1h-1zM17 29h1v1h-1zM38 29h2v1h-2zM38 30h1v1h-1zM16 32h1v1h-1zM37 32h1v1h-1zM16 33h1v1h-1zM37 33h1v1h-1zM15 34h1v1h-1zM35 34h2v1h-2zM15 35h1v1h-1zM35 35h1v1h-1zM15 36h1v1h-1zM34 36h1v1h-1zM14 37h1v1h-1zM33 37h1v1h-1zM14 38h1v1h-1zM32 38h1v1h-1zM14 39h1v1h-1zM31 39h1v1h-1zM13 40h1v1h-1zM30 40h1v1h-1zM30 41h1v1h-1zM29 42h1v1h-1zM12 43h1v1h-1zM29 43h1v1h-1zM11 45h2v1h-2zM28 45h1v1h-1zM11 46h5v1h-5zM17 46h3v1h-3zM22 46h1v1h-1zM25 46h4v1h-4zM12 47h16v1h-16z" fill="#3cb4e6"/>
<path d="M38 7h1v1h-1zM43 7h2v1h-2zM30 8h3v1h-3zM38 8h9v1h-9zM29 9h12v1h-12zM26 10h5v1h-5zM45 10h2v1h-2zM26 11h2v1h-2zM45 11h1v1h-1zM24 12h2v1h-2zM44 12h1v1h-1zM22 13h3v1h-3zM44 13h2v1h-2zM23 14h1v1h-1zM22 15h1v1h-1zM43 16h1v1h-1zM21 17h1v1h-1zM43 17h1v1h-1zM21 18h1v1h-1zM43 18h2v1h-2zM20 19h1v1h-1zM42 19h2v1h-2zM20 20h1v1h-1zM42 20h1v1h-1zM19 21h1v1h-1zM42 21h2v1h-2zM19 22h1v1h-1zM41 22h1v1h-1zM41 23h1v1h-1zM18 24h1v1h-1zM41 24h2v1h-2zM18 25h1v1h-1zM41 25h1v1h-1zM17 26h1v1h-1zM40 26h1v1h-1zM17 27h1v1h-1zM40 27h1v1h-1zM40 28h1v1h-1zM16 29h1v1h-1zM16 30h1v1h-1zM39 30h1v1h-1zM16 31h1v1h-1zM38 31h1v1h-1zM15 32h1v1h-1zM38 32h1v1h-1zM15 33h1v1h-1zM14 34h1v1h-1zM14 35h1v1h-1zM36 35h1v1h-1zM14 36h1v1h-1zM35 36h1v1h-1zM13 37h1v1h-1zM34 37h1v1h-1zM13 38h1v1h-1zM33 38h2v1h-2zM13 39h1v1h-1zM32 39h2v1h-2zM12 40h1v1h-1zM31 40h1v1h-1zM12 41h1v1h-1zM31 41h1v1h-1zM12 42h1v1h-1zM30 42h1v1h-1zM11 43h1v1h-1zM10 44h2v1h-2zM29 44h1v1h-1zM10 45h1v1h-1zM10 46h1v1h-1zM10 47h2v1h-2zM28 47h1v1h-1zM10 48h19v1h-19zM20 49h3v1h-3zM27 49h1v1h-1zM13 50h1v1h-1z" fill="#3a8edc"/>
<path d="M46 4h1v1h-1zM43 5h4v1h-4zM34 6h2v1h-2zM37 6h4v1h-4zM42 6h2v1h-2zM46 6h3v1h-3zM28 7h1v1h-1zM32 7h6v1h-6zM39 7h4v1h-4zM45 7h3v1h-3zM27 8h1v1h-1zM29 8h1v1h-1zM33 8h5v1h-5zM47 8h2v1h-2zM25 9h4v1h-4zM46 9h2v1h-2zM24 10h2v1h-2zM47 10h1v1h-1zM24 11h2v1h-2zM22 12h1v1h-1zM45 12h1v1h-1zM21 14h2v1h-2zM44 14h1v1h-1zM21 15h1v1h-1zM44 15h2v1h-2zM20 16h2v1h-2zM44 16h2v1h-2zM20 17h1v1h-1zM44 17h1v1h-1zM20 18h1v1h-1zM44 19h1v1h-1zM19 20h1v1h-1zM18 21h1v1h-1zM18 22h1v1h-1zM42 22h2v1h-2zM18 23h1v1h-1zM42 23h2v1h-2zM17 25h1v1h-1zM42 25h1v1h-1zM16 26h1v1h-1zM41 26h1v1h-1zM16 27h1v1h-1zM41 27h1v1h-1zM15 28h2v1h-2zM15 29h1v1h-1zM40 29h2v1h-2zM40 30h1v1h-1zM15 31h1v1h-1zM39 31h2v1h-2zM14 32h1v1h-1zM39 32h1v1h-1zM14 33h1v1h-1zM38 33h1v1h-1zM37 34h2v1h-2zM13 35h1v1h-1zM37 35h1v1h-1zM13 36h1v1h-1zM36 36h1v1h-1zM12 37h1v1h-1zM35 37h1v1h-1zM35 38h1v1h-1zM12 39h1v1h-1zM11 40h1v1h-1zM32 40h2v1h-2zM11 41h1v1h-1zM32 41h1v1h-1zM10 42h2v1h-2zM31 42h1v1h-1zM9 43h2v1h-2zM30 43h1v1h-1zM9 44h1v1h-1zM30 44h1v1h-1zM9 45h1v1h-1zM29 45h2v1h-2zM8 46h1v1h-1zM29 46h1v1h-1zM9 47h1v1h-1zM9 48h1v1h-1zM8 49h12v1h-12zM23 49h4v1h-4zM7 50h2v1h-2zM10 50h1v1h-1zM12 50h1v1h-1zM14 50h7v1h-7zM22 50h4v1h-4zM8 51h1v1h-1zM10 51h1v1h-1zM13 51h1v1h-1zM16 51h4v1h-4zM22 51h1v1h-1zM8 52h2v1h-2zM11 52h1v1h-1z" fill="#4272cc"/>
<path d="M49 3h1v1h-1zM38 4h3v1h-3zM47 4h1v1h-1zM49 4h2v1h-2zM29 5h1v1h-1zM32 5h2v1h-2zM36 5h2v1h-2zM39 5h2v1h-2zM42 5h1v1h-1zM48 5h2v1h-2zM28 6h2v1h-2zM41 6h1v1h-1zM44 6h1v1h-1zM48 7h1v1h-1zM28 8h1v1h-1zM24 9h1v1h-1zM23 10h1v1h-1zM22 11h2v1h-2zM46 11h2v1h-2zM47 12h1v1h-1zM46 13h1v1h-1zM45 14h1v1h-1zM47 14h1v1h-1zM20 15h1v1h-1zM19 18h1v1h-1zM18 19h2v1h-2zM43 20h1v1h-1zM17 21h1v1h-1zM44 21h1v1h-1zM17 23h1v1h-1zM43 24h2v1h-2zM16 25h1v1h-1zM42 26h2v1h-2zM15 27h1v1h-1zM42 27h1v1h-1zM41 28h1v1h-1zM14 31h1v1h-1zM40 32h1v1h-1zM12 33h2v1h-2zM39 33h2v1h-2zM13 34h1v1h-1zM39 34h1v1h-1zM12 35h1v1h-1zM38 35h1v1h-1zM37 36h2v1h-2zM11 37h1v1h-1zM11 38h2v1h-2zM11 39h1v1h-1zM35 39h1v1h-1zM10 40h1v1h-1zM10 41h1v1h-1zM29 47h1v1h-1zM8 48h1v1h-1zM7 49h1v1h-1zM9 50h1v1h-1zM11 50h1v1h-1zM21 50h1v1h-1zM28 50h1v1h-1zM7 51h1v1h-1zM12 51h1v1h-1zM15 51h1v1h-1zM24 51h2v1h-2zM28 51h1v1h-1zM21 52h1v1h-1zM23 52h2v1h-2zM17 53h1v1h-1zM23 53h1v1h-1z" fill="#5a82d2"/>
<path d="M49 1h1v1h-1zM42 2h1v1h-1zM42 3h1v1h-1zM45 3h1v1h-1zM50 3h2v1h-2zM32 4h1v1h-1zM34 4h1v1h-1zM45 4h1v1h-1zM28 5h1v1h-1zM30 5h1v1h-1zM41 5h1v1h-1zM27 6h1v1h-1zM49 6h1v1h-1zM27 7h1v1h-1zM50 7h1v1h-1zM21 11h1v1h-1zM20 12h2v1h-2zM21 13h1v1h-1zM20 14h1v1h-1zM46 14h1v1h-1zM19 15h1v1h-1zM47 15h1v1h-1zM19 16h1v1h-1zM46 16h1v1h-1zM46 17h1v1h-1zM17 19h1v1h-1zM46 19h1v1h-1zM18 20h1v1h-1zM44 20h2v1h-2zM44 23h1v1h-1zM44 25h1v1h-1zM14 27h1v1h-1zM14 28h1v1h-1zM43 28h1v1h-1zM13 30h2v1h-2zM12 31h1v1h-1zM13 32h1v1h-1zM39 35h1v1h-1zM36 37h1v1h-1zM36 38h1v1h-1zM10 39h1v1h-1zM9 42h1v1h-1zM32 43h1v1h-1zM31 44h1v1h-1zM7 46h1v1h-1zM7 47h1v1h-1zM29 48h1v1h-1zM17 52h2v1h-2zM25 52h1v1h-1zM5 53h1v1h-1zM11 53h1v1h-1zM13 53h1v1h-1zM15 53h1v1h-1zM22 53h1v1h-1zM5 54h1v1h-1zM9 55h1v1h-1z" fill="#94aadc"/>
</g>
<line x1="619.10" y1="17.60" x2="619.10" y2="103.20" stroke="#555" stroke-width="0.5" stroke-dasharray="0.8,0.9"/>
<line x1="579.00" y1="60.50" x2="659.00" y2="60.50" stroke="#222" stroke-width="0.7" stroke-dasharray="2,1"/>
<line x1="578.60" y1="103.20" x2="659.70" y2="17.60" stroke="#222" stroke-width="0.7"/>
<rect x="578.60" y="17.60" width="81.10" height="85.60" fill="none" stroke="#333" stroke-width="0.8"/>
<line x1="578.60" y1="38.80" x2="580.20" y2="38.80" stroke="#333" stroke-width="0.5"/>
<line x1="659.70" y1="38.80" x2="658.10" y2="38.80" stroke="#333" stroke-width="0.5"/>
<line x1="578.60" y1="81.30" x2="580.20" y2="81.30" stroke="#333" stroke-width="0.5"/>
<line x1="659.70" y1="81.30" x2="658.10" y2="81.30" stroke="#333" stroke-width="0.5"/>
<text x="575.60" y="20.00" text-anchor="end">10</text>
<text x="575.60" y="105.40" text-anchor="end">-10</text>
<text x="578.00" y="113.60" text-anchor="middle">-10</text>
<text x="619.00" y="114.00" text-anchor="middle">Observed</text>
<text x="660.50" y="113.60" text-anchor="middle">10</text>
<text transform="translate(572.00,60.20) rotate(-90)" text-anchor="middle">Predicted</text>
<text x="657.4" y="90.4" text-anchor="end"><tspan font-style="italic">r</tspan> = 0.76</text>
<text x="657.4" y="98.6" text-anchor="end"><tspan font-style="italic">MSE</tspan> = 0.43</text>
<defs><linearGradient id="gd" x1="0" y1="0" x2="0" y2="1"><stop offset="0" stop-color="#e62a1c"/><stop offset="0.18" stop-color="#f28a28"/><stop offset="0.35" stop-color="#f4e83c"/><stop offset="0.5" stop-color="#ffffff"/><stop offset="0.65" stop-color="#48cbe6"/><stop offset="0.85" stop-color="#2c7ccc"/><stop offset="1" stop-color="#263a8e"/></linearGradient></defs>
<rect x="670.00" y="36.40" width="4.40" height="47.80" fill="url(#gd)" stroke="#444" stroke-width="0.5"/>
<text x="672.20" y="34.00" text-anchor="middle">6</text>
<text x="672.20" y="92.00" text-anchor="middle">1</text>
<text transform="translate(682.40,58.00) rotate(-90)" text-anchor="middle">Log10 Count</text>
<line x1="81.40" y1="140.00" x2="81.40" y2="251.00" stroke="#555" stroke-width="0.5" stroke-dasharray="0.8,1.2"/>
<line x1="81.40" y1="247.60" x2="81.40" y2="251.00" stroke="#333" stroke-width="0.6"/>
<line x1="153.20" y1="140.00" x2="153.20" y2="251.00" stroke="#555" stroke-width="0.5" stroke-dasharray="0.8,1.2"/>
<line x1="153.20" y1="247.60" x2="153.20" y2="251.00" stroke="#333" stroke-width="0.6"/>
<line x1="225.00" y1="140.00" x2="225.00" y2="251.00" stroke="#555" stroke-width="0.5" stroke-dasharray="0.8,1.2"/>
<line x1="225.00" y1="247.60" x2="225.00" y2="251.00" stroke="#333" stroke-width="0.6"/>
<line x1="296.80" y1="140.00" x2="296.80" y2="251.00" stroke="#555" stroke-width="0.5" stroke-dasharray="0.8,1.2"/>
<line x1="296.80" y1="247.60" x2="296.80" y2="251.00" stroke="#333" stroke-width="0.6"/>
<line x1="368.60" y1="140.00" x2="368.60" y2="251.00" stroke="#555" stroke-width="0.5" stroke-dasharray="0.8,1.2"/>
<line x1="368.60" y1="247.60" x2="368.60" y2="251.00" stroke="#333" stroke-width="0.6"/>
<text x="81.40" y="261.60" text-anchor="middle">0</text>
<text x="153.20" y="261.60" text-anchor="middle">200</text>
<text x="225.00" y="261.60" text-anchor="middle">400</text>
<text x="296.80" y="261.60" text-anchor="middle">600</text>
<text x="368.60" y="261.60" text-anchor="middle">800</text>
<text x="225.80" y="272.50" text-anchor="middle">Time (seconds)</text>
<text x="63.20" y="156.70" text-anchor="end">insular cortex</text>
<line x1="66.90" y1="155.10" x2="379.60" y2="155.10" stroke="#999999" stroke-width="1.5"/>
<path d="M81.6,158.9 82.6,156.6 83.6,153.7 84.6,151.9 85.6,152.9 86.6,153.9 87.6,152.7 88.6,151.4 89.6,152.0 90.6,153.2 91.6,154.7 92.6,157.4 93.6,159.4 94.6,157.9 95.6,153.7 96.6,151.1 97.6,152.0 98.6,155.4 99.5,159.7 100.5,161.7 101.5,160.2 102.5,155.7 103.5,151.7 104.5,151.0 105.5,152.9 106.5,154.3 107.5,154.7 108.5,154.5 109.5,154.7 110.5,156.0 111.5,156.4 112.5,155.7 113.5,155.3 114.5,154.9 115.5,154.0 116.5,153.5 117.5,154.1 118.5,154.7 119.5,155.6 120.5,157.6 121.5,159.2 122.5,157.5 123.5,153.5 124.5,151.7 125.5,154.4 126.5,157.2 127.5,156.5 128.5,154.5 129.5,154.2 130.5,154.7 131.5,154.2 132.5,154.2 133.5,156.1 134.5,158.1 135.4,158.0 136.4,155.8 137.4,153.2 138.4,152.7 139.4,154.3 140.4,156.0 141.4,156.0 142.4,155.0 143.4,154.6 144.4,154.5 145.4,154.5 146.4,155.2 147.4,156.9 148.4,159.0 149.4,160.5 150.4,159.0 151.4,154.9 152.4,151.4 153.4,150.9 154.4,151.9 155.4,153.2 156.4,153.9 157.4,155.4 158.4,156.6 159.4,154.8 160.4,152.0 161.4,151.7 162.4,154.1 163.4,156.7 164.4,158.5 165.4,159.2 166.4,159.0 167.4,156.4 168.4,154.5 169.4,154.6 170.4,155.9 171.3,156.7 172.3,156.0 173.3,155.6 174.3,155.8 175.3,155.3 176.3,153.1 177.3,150.4 178.3,149.8 179.3,152.1 180.3,155.9 181.3,158.7 182.3,159.2 183.3,158.9 184.3,157.0 185.3,154.2 186.3,152.2 187.3,151.9 188.3,152.3 189.3,153.2 190.3,155.3 191.3,156.7 192.3,154.8 193.3,152.4 194.3,154.6 195.3,160.2 196.3,163.4 197.3,161.2 198.3,155.3 199.3,150.2 200.3,149.3 201.3,151.3 202.3,153.0 203.3,155.0 204.3,156.5 205.3,157.0 206.2,158.6 207.2,158.7 208.2,155.1 209.2,150.9 210.2,149.5 211.2,150.5 212.2,153.0 213.2,156.1 214.2,158.2 215.2,160.0 216.2,160.8 217.2,158.8 218.2,156.6 219.2,155.1 220.2,153.3 221.2,152.8 222.2,155.0 223.2,157.0 224.2,157.2 225.2,156.6 226.2,154.3 227.2,150.7 228.2,147.8 229.2,147.3 230.2,147.9 231.2,150.2 232.2,152.2 233.2,153.6 234.2,156.2 235.2,158.2 236.2,156.8 237.2,154.1 238.2,153.7 239.2,156.5 240.2,158.1 241.2,156.8 242.1,155.8 243.1,155.2 244.1,154.0 245.1,153.7 246.1,154.4 247.1,154.5 248.1,154.2 249.1,154.7 250.1,156.2 251.1,157.3 252.1,156.5 253.1,154.9 254.1,155.2 255.1,156.9 256.1,157.4 257.1,155.0 258.1,151.7 259.1,150.7 260.1,151.6 261.1,153.1 262.1,156.1 263.1,158.1 264.1,157.6 265.1,155.9 266.1,154.9 267.1,154.9 268.1,155.4 269.1,156.2 270.1,156.0 271.1,154.5 272.1,153.2 273.1,152.2 274.1,151.7 275.1,153.0 276.1,156.2 277.0,158.6 278.0,159.0 279.0,157.3 280.0,155.4 281.0,155.6 282.0,156.5 283.0,155.7 284.0,153.6 285.0,153.4 286.0,154.4 287.0,155.9 288.0,156.1 289.0,154.5 290.0,152.2 291.0,150.9 292.0,152.1 293.0,153.7 294.0,153.1 295.0,151.7 296.0,152.7 297.0,155.9 298.0,156.9 299.0,156.0 300.0,154.6 301.0,152.7 302.0,150.3 303.0,150.2 304.0,151.2 305.0,153.6 306.0,157.5 307.0,159.2 308.0,157.7 309.0,155.1 310.0,153.5 311.0,153.1 312.0,153.7 312.9,155.1 313.9,156.3 314.9,156.6 315.9,156.8 316.9,157.6 317.9,157.5 318.9,155.3 319.9,152.6 320.9,151.1 321.9,153.0 322.9,156.1 323.9,156.3 324.9,153.8 325.9,152.3 326.9,154.1 327.9,156.3 328.9,157.0 329.9,157.1 330.9,156.5 331.9,155.9 332.9,155.1 333.9,153.4 334.9,151.7 335.9,153.0 336.9,156.2 337.9,158.2 338.9,159.0 339.9,158.2 340.9,156.4 341.9,153.7 342.9,153.4 343.9,154.8 344.9,155.6 345.9,154.6 346.9,151.8 347.9,150.5 348.8,153.2 349.8,157.0 350.8,157.6 351.8,155.4 352.8,154.6 353.8,156.3 354.8,157.9 355.8,157.3 356.8,154.6 357.8,152.8 358.8,152.4 359.8,151.8 360.8,152.4 361.8,155.5 362.8,158.9 363.8,158.7 364.8,156.6 365.8,156.1" fill="none" stroke="#4f8ad6" stroke-width="0.95" stroke-linejoin="round"/>
<path d="M81.6,160.1 82.6,157.1 83.6,154.7 84.6,153.4 85.6,152.8 86.6,152.3 87.6,151.2 88.6,150.9 89.6,153.3 90.6,156.1 91.6,156.5 92.6,157.0 93.6,158.5 94.6,158.1 95.6,154.7 96.6,151.5 97.6,150.0 98.6,151.8 99.5,157.3 100.5,161.6 101.5,161.5 102.5,157.4 103.5,153.4 104.5,152.2 105.5,152.2 106.5,152.3 107.5,153.3 108.5,155.1 109.5,157.3 110.5,158.3 111.5,157.3 112.5,154.8 113.5,153.4 114.5,153.8 115.5,154.6 116.5,154.7 117.5,154.2 118.5,153.1 119.5,153.1 120.5,156.0 121.5,159.4 122.5,159.0 123.5,155.0 124.5,152.6 125.5,154.2 126.5,156.1 127.5,156.7 128.5,157.2 129.5,156.2 130.5,152.6 131.5,148.3 132.5,148.4 133.5,155.4 134.5,162.3 135.4,163.3 136.4,159.1 137.4,154.1 138.4,151.8 139.4,153.3 140.4,155.9 141.4,156.6 142.4,155.7 143.4,154.9 144.4,155.0 145.4,155.6 146.4,155.8 147.4,155.0 148.4,155.2 149.4,157.7 150.4,157.9 151.4,154.0 152.4,150.9 153.4,151.8 154.4,154.3 155.4,155.4 156.4,155.3 157.4,156.0 158.4,155.9 159.4,152.6 160.4,149.1 161.4,150.6 162.4,155.8 163.4,158.3 164.4,157.6 165.4,157.1 166.4,158.3 167.4,156.8 168.4,154.5 169.4,154.6 170.4,156.3 171.3,157.1 172.3,157.2 173.3,158.0 174.3,158.5 175.3,157.0 176.3,154.1 177.3,149.8 178.3,147.1 179.3,148.6 180.3,153.9 181.3,159.3 182.3,161.6 183.3,160.9 184.3,157.9 185.3,154.4 186.3,151.7 187.3,150.2 188.3,149.9 189.3,151.5 190.3,154.8 191.3,156.8 192.3,155.3 193.3,152.9 194.3,154.5 195.3,159.5 196.3,162.3 197.3,160.7 198.3,157.0 199.3,153.8 200.3,152.2 201.3,151.5 202.3,151.3 203.3,153.2 204.3,155.3 205.3,155.8 206.2,157.5 207.2,159.5 208.2,158.5 209.2,154.2 210.2,150.2 211.2,148.4 212.2,150.3 213.2,154.5 214.2,157.6 215.2,160.3 216.2,162.0 217.2,160.8 218.2,158.2 219.2,155.6 220.2,153.2 221.2,151.9 222.2,153.1 223.2,155.1 224.2,156.3 225.2,157.0 226.2,155.8 227.2,152.1 228.2,147.2 229.2,144.9 230.2,146.3 231.2,151.2 232.2,155.7 233.2,157.0 234.2,157.5 235.2,157.9 236.2,155.9 237.2,153.1 238.2,152.5 239.2,155.1 240.2,156.7 241.2,155.9 242.1,155.7 243.1,156.2 244.1,156.9 245.1,157.2 246.1,156.8 247.1,155.6 248.1,154.3 249.1,153.8 250.1,153.9 251.1,153.6 252.1,152.9 253.1,152.7 254.1,154.2 255.1,157.5 256.1,159.7 257.1,157.4 258.1,152.5 259.1,150.5 260.1,152.0 261.1,154.3 262.1,156.8 263.1,157.8 264.1,156.9 265.1,155.3 266.1,154.1 267.1,153.8 268.1,154.6 269.1,156.3 270.1,156.7 271.1,155.0 272.1,153.1 273.1,151.9 274.1,152.6 275.1,154.7 276.1,157.0 277.0,157.6 278.0,156.6 279.0,155.9 280.0,156.6 281.0,158.4 282.0,159.1 283.0,157.5 284.0,154.0 285.0,151.4 286.0,151.3 287.0,154.2 288.0,155.9 289.0,154.0 290.0,151.7 291.0,151.5 292.0,153.0 293.0,153.2 294.0,151.9 295.0,151.8 296.0,154.4 297.0,157.6 298.0,157.3 299.0,155.0 300.0,153.0 301.0,151.7 302.0,149.9 303.0,149.9 304.0,151.7 305.0,156.9 306.0,163.5 307.0,164.5 308.0,159.0 309.0,153.1 310.0,150.4 311.0,150.7 312.0,152.8 312.9,155.3 313.9,156.5 314.9,155.0 315.9,153.5 316.9,154.7 317.9,157.1 318.9,158.2 319.9,157.2 320.9,155.1 321.9,154.3 322.9,154.4 323.9,153.2 324.9,150.9 325.9,151.0 326.9,154.2 327.9,157.7 328.9,158.9 329.9,158.1 330.9,155.9 331.9,154.3 332.9,154.5 333.9,155.0 334.9,153.8 335.9,153.2 336.9,154.3 337.9,156.2 338.9,157.7 339.9,157.6 340.9,156.1 341.9,153.4 342.9,152.6 343.9,153.9 344.9,155.9 345.9,156.2 346.9,153.4 347.9,151.6 348.8,153.2 349.8,156.4 350.8,157.9 351.8,156.8 352.8,156.1 353.8,157.2 354.8,158.8 355.8,159.0 356.8,156.9 357.8,153.2 358.8,149.9 359.8,149.1 360.8,151.1 361.8,154.6 362.8,158.1 363.8,158.8 364.8,157.5 365.8,157.1" fill="none" stroke="#f03c3c" stroke-width="0.95" stroke-linejoin="round"/>
<text x="63.20" y="177.30" text-anchor="end">striate cortex</text>
<line x1="66.90" y1="174.50" x2="379.60" y2="174.50" stroke="#444444" stroke-width="1.0"/>
<path d="M81.6,173.9 82.6,170.2 83.6,168.8 84.6,171.5 85.6,177.6 86.6,182.9 87.6,182.9 88.6,179.1 89.6,174.3 90.6,170.3 91.6,168.3 92.6,169.1 93.6,170.9 94.6,174.3 95.6,176.9 96.6,178.2 97.6,177.4 98.6,175.6 99.5,175.0 100.5,175.7 101.5,175.2 102.5,173.0 103.5,171.2 104.5,172.2 105.5,174.0 106.5,175.8 107.5,176.4 108.5,176.5 109.5,176.1 110.5,174.7 111.5,173.0 112.5,171.9 113.5,171.7 114.5,171.9 115.5,173.8 116.5,177.3 117.5,179.5 118.5,180.0 119.5,176.7 120.5,173.7 121.5,172.1 122.5,171.1 123.5,170.1 124.5,171.9 125.5,176.9 126.5,180.8 127.5,178.8 128.5,172.1 129.5,168.7 130.5,170.4 131.5,174.5 132.5,176.2 133.5,176.6 134.5,177.0 135.4,176.6 136.4,174.4 137.4,172.8 138.4,172.0 139.4,173.5 140.4,175.9 141.4,177.5 142.4,176.7 143.4,174.5 144.4,172.4 145.4,171.0 146.4,170.7 147.4,171.0 148.4,171.2 149.4,172.1 150.4,173.9 151.4,176.0 152.4,177.3 153.4,177.7 154.4,177.4 155.4,175.9 156.4,174.1 157.4,174.0 158.4,176.0 159.4,176.3 160.4,173.9 161.4,171.8 162.4,172.4 163.4,174.4 164.4,175.2 165.4,174.6 166.4,174.4 167.4,174.4 168.4,172.8 169.4,171.4 170.4,173.5 171.3,176.6 172.3,177.1 173.3,175.7 174.3,173.9 175.3,174.2 176.3,175.4 177.3,174.9 178.3,172.3 179.3,171.2 180.3,173.1 181.3,175.8 182.3,176.6 183.3,175.6 184.3,175.0 185.3,174.8 186.3,174.4 187.3,173.2 188.3,172.0 189.3,172.6 190.3,173.4 191.3,174.0 192.3,175.4 193.3,178.2 194.3,180.7 195.3,180.7 196.3,177.4 197.3,171.9 198.3,169.1 199.3,170.8 200.3,173.8 201.3,174.1 202.3,173.0 203.3,172.8 204.3,173.9 205.3,175.7 206.2,177.0 207.2,177.1 208.2,176.4 209.2,175.2 210.2,174.5 211.2,175.2 212.2,175.4 213.2,173.6 214.2,172.0 215.2,171.9 216.2,171.7 217.2,172.6 218.2,175.5 219.2,177.7 220.2,177.9 221.2,176.8 222.2,174.6 223.2,173.1 224.2,172.4 225.2,172.4 226.2,172.6 227.2,173.1 228.2,174.4 229.2,176.6 230.2,179.0 231.2,179.4 232.2,178.6 233.2,178.1 234.2,177.0 235.2,176.1 236.2,175.6 237.2,174.8 238.2,174.0 239.2,173.8 240.2,173.2 241.2,172.9 242.1,173.3 243.1,173.5 244.1,174.2 245.1,175.8 246.1,176.9 247.1,177.1 248.1,176.7 249.1,175.9 250.1,173.8 251.1,171.6 252.1,170.7 253.1,171.4 254.1,172.4 255.1,173.6 256.1,175.8 257.1,178.5 258.1,179.3 259.1,176.6 260.1,172.7 261.1,170.7 262.1,171.7 263.1,173.1 264.1,173.7 265.1,174.1 266.1,175.3 267.1,177.6 268.1,179.2 269.1,178.2 270.1,175.9 271.1,174.4 272.1,174.7 273.1,175.4 274.1,174.9 275.1,173.1 276.1,171.4 277.0,171.3 278.0,173.2 279.0,174.3 280.0,174.0 281.0,173.5 282.0,173.3 283.0,174.4 284.0,177.0 285.0,178.1 286.0,176.5 287.0,173.8 288.0,172.1 289.0,171.6 290.0,172.2 291.0,173.2 292.0,174.7 293.0,177.2 294.0,179.5 295.0,180.7 296.0,181.6 297.0,181.7 298.0,180.0 299.0,177.4 300.0,175.7 301.0,174.6 302.0,173.5 303.0,172.3 304.0,171.8 305.0,172.9 306.0,174.9 307.0,177.0 308.0,178.0 309.0,176.3 310.0,173.2 311.0,171.7 312.0,171.7 312.9,172.2 313.9,173.7 314.9,175.6 315.9,176.7 316.9,176.4 317.9,174.4 318.9,173.1 319.9,174.1 320.9,176.8 321.9,178.9 322.9,177.9 323.9,173.7 324.9,170.4 325.9,170.8 326.9,174.0 327.9,176.3 328.9,175.9 329.9,174.7 330.9,174.1 331.9,174.2 332.9,174.2 333.9,174.1 334.9,174.8 335.9,175.8 336.9,175.6 337.9,174.2 338.9,172.7 339.9,171.2 340.9,170.5 341.9,171.6 342.9,176.4 343.9,179.0 344.9,178.5 345.9,176.9 346.9,176.5 347.9,175.9 348.8,173.7 349.8,171.8 350.8,172.5 351.8,174.7 352.8,174.5 353.8,172.3 354.8,172.4 355.8,174.3 356.8,175.2 357.8,174.6 358.8,174.7 359.8,175.2 360.8,175.7 361.8,176.3 362.8,175.9 363.8,174.5 364.8,174.3 365.8,175.0" fill="none" stroke="#4f8ad6" stroke-width="0.95" stroke-linejoin="round"/>
<path d="M81.6,173.9 82.6,169.6 83.6,168.0 84.6,171.5 85.6,177.6 86.6,182.3 87.6,181.8 88.6,178.2 89.6,175.0 90.6,172.8 91.6,170.1 92.6,168.0 93.6,167.5 94.6,171.0 95.6,175.9 96.6,179.6 97.6,179.5 98.6,178.0 99.5,177.6 100.5,177.8 101.5,176.0 102.5,172.2 103.5,168.7 104.5,169.3 105.5,171.9 106.5,174.8 107.5,176.4 108.5,177.8 109.5,177.7 110.5,175.9 111.5,173.7 112.5,172.8 113.5,172.6 114.5,172.3 115.5,172.5 116.5,173.4 117.5,174.6 118.5,177.6 119.5,179.2 120.5,179.3 121.5,176.4 122.5,171.6 123.5,169.4 124.5,173.1 125.5,179.3 126.5,181.3 127.5,177.6 128.5,170.7 129.5,166.7 130.5,167.2 131.5,172.4 132.5,176.9 133.5,177.3 134.5,176.1 135.4,175.2 136.4,174.6 137.4,174.7 138.4,174.6 139.4,175.6 140.4,177.0 141.4,177.4 142.4,176.1 143.4,173.7 144.4,170.8 145.4,169.2 146.4,170.3 147.4,171.5 148.4,171.4 149.4,171.5 150.4,174.1 151.4,177.2 152.4,177.7 153.4,175.7 154.4,175.1 155.4,175.9 156.4,177.3 157.4,177.7 158.4,177.6 159.4,175.0 160.4,171.3 161.4,170.4 162.4,172.7 163.4,174.8 164.4,174.9 165.4,174.5 166.4,175.2 167.4,176.4 168.4,175.5 169.4,173.0 170.4,172.3 171.3,173.7 172.3,174.6 173.3,175.3 174.3,174.9 175.3,175.6 176.3,177.6 177.3,176.6 178.3,171.4 179.3,169.3 180.3,172.4 181.3,176.3 182.3,177.2 183.3,176.3 184.3,175.7 185.3,174.9 186.3,174.1 187.3,173.0 188.3,171.2 189.3,171.1 190.3,172.7 191.3,174.0 192.3,175.2 193.3,178.4 194.3,182.0 195.3,181.7 196.3,176.5 197.3,169.3 198.3,166.6 199.3,170.2 200.3,175.9 201.3,176.7 202.3,173.6 203.3,171.6 204.3,172.6 205.3,175.6 206.2,178.9 207.2,180.0 208.2,177.9 209.2,175.2 210.2,174.0 211.2,174.5 212.2,174.2 213.2,172.5 214.2,171.9 215.2,172.8 216.2,173.1 217.2,174.1 218.2,175.1 219.2,173.7 220.2,172.2 221.2,173.2 222.2,175.9 223.2,177.5 224.2,176.5 225.2,174.7 226.2,174.4 227.2,175.6 228.2,176.1 229.2,176.3 230.2,175.7 231.2,174.3 232.2,173.4 233.2,175.2 234.2,176.7 235.2,178.5 236.2,180.1 237.2,179.8 238.2,177.5 239.2,174.2 240.2,171.0 241.2,169.5 242.1,170.5 243.1,173.2 244.1,176.0 245.1,177.9 246.1,178.1 247.1,177.3 248.1,176.0 249.1,173.6 250.1,171.1 251.1,170.2 252.1,170.9 253.1,171.8 254.1,172.1 255.1,173.2 256.1,176.7 257.1,180.4 258.1,181.7 259.1,178.1 260.1,172.3 261.1,168.9 262.1,170.0 263.1,172.6 264.1,174.2 265.1,174.3 266.1,175.2 267.1,178.2 268.1,180.2 269.1,178.8 270.1,176.2 271.1,175.4 272.1,176.2 273.1,176.4 274.1,175.2 275.1,172.3 276.1,169.4 277.0,169.6 278.0,172.2 279.0,172.9 280.0,172.3 281.0,172.5 282.0,174.4 283.0,177.7 284.0,180.5 285.0,179.8 286.0,175.8 287.0,171.9 288.0,171.0 289.0,171.5 290.0,171.5 291.0,170.8 292.0,172.8 293.0,177.0 294.0,179.5 295.0,179.9 296.0,181.2 297.0,182.8 298.0,180.5 299.0,176.5 300.0,175.2 301.0,176.0 302.0,175.4 303.0,173.6 304.0,173.4 305.0,175.1 306.0,176.6 307.0,177.2 308.0,176.2 309.0,173.2 310.0,170.5 311.0,171.4 312.0,173.6 312.9,174.5 313.9,174.9 314.9,175.6 315.9,175.9 316.9,175.2 317.9,173.7 318.9,173.4 319.9,174.8 320.9,176.9 321.9,178.0 322.9,176.0 323.9,172.0 324.9,169.4 325.9,170.9 326.9,174.7 327.9,177.2 328.9,176.8 329.9,174.8 330.9,172.3 331.9,172.2 332.9,173.8 333.9,175.0 334.9,176.2 335.9,177.1 336.9,176.3 337.9,174.1 338.9,171.9 339.9,170.6 340.9,170.7 341.9,171.7 342.9,176.1 343.9,179.4 344.9,179.7 345.9,178.1 346.9,177.0 347.9,175.7 348.8,172.5 349.8,170.0 350.8,171.5 351.8,175.1 352.8,176.1 353.8,173.9 354.8,172.7 355.8,173.8 356.8,175.2 357.8,175.9 358.8,176.4 359.8,175.3 360.8,173.9 361.8,174.4 362.8,175.8 363.8,176.9 364.8,176.5 365.8,175.0" fill="none" stroke="#f03c3c" stroke-width="0.95" stroke-linejoin="round"/>
<text x="63.20" y="197.60" text-anchor="end">lateral prefrontal</text>
<line x1="66.90" y1="195.50" x2="379.60" y2="195.50" stroke="#444444" stroke-width="1.0"/>
<path d="M81.6,197.2 82.6,194.8 83.6,193.8 84.6,193.6 85.6,194.3 86.6,195.4 87.6,195.4 88.6,195.4 89.6,195.6 90.6,195.4 91.6,195.4 92.6,195.9 93.6,196.5 94.6,197.2 95.6,197.8 96.6,198.3 97.6,198.8 98.6,197.4 99.5,194.8 100.5,192.9 101.5,191.4 102.5,190.6 103.5,192.8 104.5,196.2 105.5,197.3 106.5,195.0 107.5,192.5 108.5,192.2 109.5,194.8 110.5,197.8 111.5,199.6 112.5,198.8 113.5,198.1 114.5,196.2 115.5,194.4 116.5,193.9 117.5,194.8 118.5,196.5 119.5,197.2 120.5,195.3 121.5,192.9 122.5,193.2 123.5,194.5 124.5,195.0 125.5,196.1 126.5,198.2 127.5,198.7 128.5,196.0 129.5,193.2 130.5,193.6 131.5,195.0 132.5,194.6 133.5,193.6 134.5,194.0 135.4,195.3 136.4,196.8 137.4,197.8 138.4,197.7 139.4,196.7 140.4,195.3 141.4,194.3 142.4,194.8 143.4,195.6 144.4,195.9 145.4,197.0 146.4,199.3 147.4,200.7 148.4,199.7 149.4,198.4 150.4,197.3 151.4,195.3 152.4,191.6 153.4,187.4 154.4,185.1 155.4,186.7 156.4,192.0 157.4,198.3 158.4,201.7 159.4,202.0 160.4,200.5 161.4,198.2 162.4,196.7 163.4,196.1 164.4,194.7 165.4,192.7 166.4,192.6 167.4,193.7 168.4,195.7 169.4,196.9 170.4,197.1 171.3,196.8 172.3,196.8 173.3,196.8 174.3,196.3 175.3,194.5 176.3,193.5 177.3,195.2 178.3,196.8 179.3,195.1 180.3,191.8 181.3,191.5 182.3,194.5 183.3,197.6 184.3,200.4 185.3,200.6 186.3,196.3 187.3,192.6 188.3,193.3 189.3,194.2 190.3,194.4 191.3,195.2 192.3,196.5 193.3,197.5 194.3,198.2 195.3,198.3 196.3,197.3 197.3,194.7 198.3,191.6 199.3,190.8 200.3,193.4 201.3,196.4 202.3,198.9 203.3,200.4 204.3,199.1 205.3,195.2 206.2,191.8 207.2,190.5 208.2,193.1 209.2,195.7 210.2,196.2 211.2,194.4 212.2,192.1 213.2,191.5 214.2,194.6 215.2,198.6 216.2,201.4 217.2,201.0 218.2,199.0 219.2,196.5 220.2,193.4 221.2,192.0 222.2,194.0 223.2,195.8 224.2,196.0 225.2,195.8 226.2,195.2 227.2,193.6 228.2,191.5 229.2,191.6 230.2,194.3 231.2,197.1 232.2,196.2 233.2,194.1 234.2,193.2 235.2,193.5 236.2,193.6 237.2,193.6 238.2,194.6 239.2,195.9 240.2,197.7 241.2,198.2 242.1,196.0 243.1,193.2 244.1,192.2 245.1,191.8 246.1,191.3 247.1,192.3 248.1,196.6 249.1,202.2 250.1,203.7 251.1,199.2 252.1,193.6 253.1,192.7 254.1,194.9 255.1,196.6 256.1,196.6 257.1,195.3 258.1,193.3 259.1,192.3 260.1,192.6 261.1,194.8 262.1,197.1 263.1,197.1 264.1,196.6 265.1,196.7 266.1,196.0 267.1,194.3 268.1,194.6 269.1,196.7 270.1,197.5 271.1,195.8 272.1,194.2 273.1,193.8 274.1,194.0 275.1,194.5 276.1,195.1 277.0,196.0 278.0,197.4 279.0,199.0 280.0,197.5 281.0,193.5 282.0,191.3 283.0,192.2 284.0,194.5 285.0,196.3 286.0,197.9 287.0,199.2 288.0,199.2 289.0,197.6 290.0,196.4 291.0,195.3 292.0,193.7 293.0,191.9 294.0,190.3 295.0,190.1 296.0,191.6 297.0,193.3 298.0,194.8 299.0,194.7 300.0,193.6 301.0,192.2 302.0,192.1 303.0,192.6 304.0,194.9 305.0,196.9 306.0,196.7 307.0,195.1 308.0,194.5 309.0,194.9 310.0,195.4 311.0,195.8 312.0,195.2 312.9,194.4 313.9,195.8 314.9,198.5 315.9,200.2 316.9,198.5 317.9,194.3 318.9,192.2 319.9,194.5 320.9,196.1 321.9,196.4 322.9,198.5 323.9,199.5 324.9,197.9 325.9,195.5 326.9,192.6 327.9,189.9 328.9,189.1 329.9,192.2 330.9,195.4 331.9,197.5 332.9,197.9 333.9,197.4 334.9,195.9 335.9,194.9 336.9,195.1 337.9,196.6 338.9,197.6 339.9,197.3 340.9,196.5 341.9,196.1 342.9,195.8 343.9,195.8 344.9,196.0 345.9,195.8 346.9,195.2 347.9,193.9 348.8,192.9 349.8,194.5 350.8,196.5 351.8,195.9 352.8,195.0 353.8,195.6 354.8,195.5 355.8,194.5 356.8,194.0 357.8,194.9 358.8,197.0 359.8,198.2 360.8,197.8 361.8,195.5 362.8,193.3 363.8,192.5 364.8,194.1 365.8,196.5" fill="none" stroke="#4f8ad6" stroke-width="0.95" stroke-linejoin="round"/>
<path d="M81.6,196.5 82.6,195.0 83.6,195.4 84.6,195.3 85.6,194.6 86.6,194.7 87.6,194.5 88.6,194.4 89.6,194.7 90.6,195.1 91.6,195.3 92.6,195.5 93.6,196.2 94.6,196.7 95.6,196.7 96.6,196.9 97.6,197.9 98.6,196.9 99.5,194.7 100.5,194.4 101.5,195.0 102.5,194.8 103.5,194.7 104.5,195.6 105.5,196.1 106.5,194.5 107.5,192.1 108.5,191.7 109.5,194.4 110.5,197.0 111.5,197.7 112.5,196.2 113.5,196.2 114.5,196.8 115.5,197.9 116.5,197.9 117.5,197.9 118.5,198.5 119.5,198.2 120.5,194.4 121.5,189.7 122.5,190.1 123.5,192.7 124.5,193.6 125.5,194.4 126.5,197.8 127.5,199.8 128.5,197.5 129.5,193.7 130.5,193.0 131.5,193.5 132.5,193.8 133.5,195.4 134.5,198.0 135.4,198.4 136.4,197.2 137.4,196.0 138.4,195.6 139.4,194.5 140.4,192.5 141.4,191.7 142.4,194.2 143.4,197.7 144.4,200.3 145.4,202.2 146.4,201.7 147.4,199.5 148.4,197.1 149.4,197.1 150.4,198.3 151.4,197.0 152.4,192.0 153.4,185.4 154.4,182.2 155.4,185.8 156.4,192.4 157.4,198.2 158.4,201.0 159.4,201.9 160.4,201.5 161.4,199.3 162.4,196.1 163.4,194.6 164.4,194.3 165.4,193.8 166.4,193.3 167.4,192.8 168.4,194.7 169.4,197.9 170.4,199.4 171.3,198.4 172.3,196.2 173.3,193.5 174.3,191.1 175.3,191.4 176.3,194.1 177.3,197.3 178.3,199.3 179.3,198.5 180.3,195.4 181.3,193.4 182.3,194.3 183.3,196.4 184.3,199.0 185.3,199.4 186.3,195.2 187.3,191.2 188.3,192.3 189.3,194.8 190.3,196.6 191.3,198.5 192.3,199.0 193.3,197.3 194.3,195.9 195.3,196.0 196.3,195.8 197.3,194.1 198.3,191.0 199.3,189.3 200.3,192.0 201.3,196.4 202.3,199.8 203.3,201.1 204.3,199.6 205.3,195.7 206.2,194.5 207.2,195.7 208.2,198.3 209.2,196.8 210.2,193.3 211.2,190.0 212.2,187.9 213.2,189.0 214.2,193.9 215.2,199.1 216.2,201.8 217.2,201.7 218.2,201.5 219.2,199.8 220.2,195.5 221.2,192.4 222.2,193.0 223.2,193.6 224.2,193.7 225.2,194.6 226.2,194.3 227.2,191.8 228.2,189.3 229.2,190.8 230.2,195.6 231.2,199.7 232.2,199.0 233.2,195.7 234.2,193.7 235.2,193.7 236.2,194.0 237.2,193.9 238.2,194.0 239.2,194.2 240.2,195.3 241.2,196.1 242.1,195.6 243.1,194.6 244.1,194.3 245.1,194.2 246.1,193.2 247.1,193.2 248.1,195.8 249.1,199.8 250.1,200.7 251.1,197.1 252.1,193.5 253.1,194.4 254.1,196.3 255.1,197.0 256.1,196.4 257.1,195.4 258.1,193.9 259.1,192.8 260.1,192.3 261.1,194.3 262.1,197.5 263.1,198.1 264.1,197.0 265.1,196.7 266.1,197.1 267.1,197.2 268.1,197.0 269.1,196.8 270.1,194.8 271.1,191.1 272.1,190.0 273.1,191.4 274.1,193.0 275.1,194.0 276.1,195.6 277.0,198.4 278.0,201.6 279.0,202.6 280.0,199.0 281.0,193.2 282.0,190.0 283.0,191.2 284.0,194.6 285.0,196.3 286.0,196.1 287.0,196.8 288.0,198.7 289.0,198.7 290.0,197.5 291.0,196.5 292.0,195.3 293.0,192.3 294.0,188.0 295.0,187.3 296.0,191.1 297.0,194.8 298.0,196.2 299.0,195.7 300.0,194.6 301.0,193.0 302.0,191.8 303.0,191.8 304.0,194.7 305.0,197.8 306.0,197.6 307.0,194.6 308.0,192.2 309.0,192.3 310.0,194.3 311.0,196.5 312.0,197.0 312.9,195.6 313.9,195.8 314.9,198.1 315.9,200.0 316.9,198.4 317.9,193.7 318.9,190.5 319.9,192.2 320.9,194.9 321.9,198.1 322.9,201.7 323.9,201.0 324.9,197.6 325.9,196.2 326.9,194.2 327.9,189.8 328.9,187.7 329.9,191.2 330.9,195.3 331.9,198.1 332.9,199.2 333.9,198.9 334.9,196.3 335.9,193.7 336.9,193.9 337.9,196.6 338.9,198.1 339.9,197.4 340.9,196.5 341.9,196.3 342.9,195.8 343.9,195.0 344.9,194.6 345.9,195.2 346.9,196.7 347.9,196.5 348.8,195.4 349.8,196.5 350.8,196.9 351.8,194.4 352.8,192.8 353.8,193.4 354.8,193.1 355.8,192.3 356.8,192.5 357.8,194.5 358.8,197.9 359.8,199.9 360.8,199.5 361.8,197.2 362.8,194.8 363.8,192.7 364.8,192.7 365.8,194.3" fill="none" stroke="#f03c3c" stroke-width="0.95" stroke-linejoin="round"/>
<text x="63.20" y="217.60" text-anchor="end">posterior cingulate</text>
<line x1="66.90" y1="213.70" x2="379.60" y2="213.70" stroke="#999999" stroke-width="1.5"/>
<path d="M81.6,213.0 82.6,214.9 83.6,216.4 84.6,217.6 85.6,217.3 86.6,213.8 87.6,210.3 88.6,208.4 89.6,210.1 90.6,211.6 91.6,214.3 92.6,216.9 93.6,217.8 94.6,216.5 95.6,214.1 96.6,212.6 97.6,214.5 98.6,215.6 99.5,212.9 100.5,210.7 101.5,211.8 102.5,213.7 103.5,212.4 104.5,210.5 105.5,212.2 106.5,214.6 107.5,215.3 108.5,215.9 109.5,217.6 110.5,217.1 111.5,213.4 112.5,208.5 113.5,208.1 114.5,211.3 115.5,214.6 116.5,217.0 117.5,216.7 118.5,214.1 119.5,212.3 120.5,213.2 121.5,213.5 122.5,211.6 123.5,210.5 124.5,211.8 125.5,214.5 126.5,215.5 127.5,216.5 128.5,217.4 129.5,216.7 130.5,214.0 131.5,210.8 132.5,208.9 133.5,209.8 134.5,212.9 135.4,215.1 136.4,215.3 137.4,213.7 138.4,212.6 139.4,214.5 140.4,217.6 141.4,217.0 142.4,215.4 143.4,213.9 144.4,212.0 145.4,209.8 146.4,209.9 147.4,210.0 148.4,209.3 149.4,210.4 150.4,214.7 151.4,218.9 152.4,219.4 153.4,217.2 154.4,214.3 155.4,212.0 156.4,212.0 157.4,213.7 158.4,215.1 159.4,214.6 160.4,212.6 161.4,210.2 162.4,209.0 163.4,209.5 164.4,211.1 165.4,213.5 166.4,215.3 167.4,217.0 168.4,217.4 169.4,215.8 170.4,213.4 171.3,212.7 172.3,213.8 173.3,214.7 174.3,213.6 175.3,212.1 176.3,211.9 177.3,212.6 178.3,213.5 179.3,214.6 180.3,215.2 181.3,214.2 182.3,212.0 183.3,211.0 184.3,211.9 185.3,214.3 186.3,217.4 187.3,218.1 188.3,215.1 189.3,211.2 190.3,210.5 191.3,213.3 192.3,216.6 193.3,217.2 194.3,215.6 195.3,214.0 196.3,213.3 197.3,213.2 198.3,211.8 199.3,208.9 200.3,208.0 201.3,210.7 202.3,213.8 203.3,214.1 204.3,214.4 205.3,217.1 206.2,218.4 207.2,215.2 208.2,210.8 209.2,210.6 210.2,213.1 211.2,214.4 212.2,214.4 213.2,215.1 214.2,216.0 215.2,215.8 216.2,214.4 217.2,213.4 218.2,213.1 219.2,213.1 220.2,212.7 221.2,212.3 222.2,213.6 223.2,215.4 224.2,216.4 225.2,216.1 226.2,215.3 227.2,214.1 228.2,213.9 229.2,214.9 230.2,215.3 231.2,214.8 232.2,214.6 233.2,214.4 234.2,213.2 235.2,212.1 236.2,211.9 237.2,213.4 238.2,215.7 239.2,216.9 240.2,216.7 241.2,214.9 242.1,213.3 243.1,213.7 244.1,215.3 245.1,216.4 246.1,216.0 247.1,215.1 248.1,215.0 249.1,215.3 250.1,215.5 251.1,213.7 252.1,208.7 253.1,205.8 254.1,208.1 255.1,212.6 256.1,215.1 257.1,215.7 258.1,215.6 259.1,216.0 260.1,214.0 261.1,211.2 262.1,211.8 263.1,215.2 264.1,216.4 265.1,215.5 266.1,214.0 267.1,213.1 268.1,212.1 269.1,212.0 270.1,214.3 271.1,217.5 272.1,217.7 273.1,214.8 274.1,211.2 275.1,213.1 276.1,217.0 277.0,215.6 278.0,211.6 279.0,210.5 280.0,212.0 281.0,212.5 282.0,212.1 283.0,212.2 284.0,211.9 285.0,211.9 286.0,213.9 287.0,216.2 288.0,216.5 289.0,215.0 290.0,212.9 291.0,212.8 292.0,214.6 293.0,216.3 294.0,216.9 295.0,216.4 296.0,216.6 297.0,218.1 298.0,219.5 299.0,219.2 300.0,217.4 301.0,214.4 302.0,211.9 303.0,210.5 304.0,210.3 305.0,211.6 306.0,212.5 307.0,213.4 308.0,215.9 309.0,218.0 310.0,218.0 311.0,216.3 312.0,214.1 312.9,211.9 313.9,211.8 314.9,214.4 315.9,215.6 316.9,213.3 317.9,209.7 318.9,208.0 319.9,208.9 320.9,211.4 321.9,214.3 322.9,216.6 323.9,216.2 324.9,214.4 325.9,212.9 326.9,212.8 327.9,214.2 328.9,214.6 329.9,213.7 330.9,213.5 331.9,214.3 332.9,213.4 333.9,210.5 334.9,208.2 335.9,209.3 336.9,214.0 337.9,219.8 338.9,223.4 339.9,221.0 340.9,218.6 341.9,216.5 342.9,213.7 343.9,211.2 344.9,209.9 345.9,209.5 346.9,209.8 347.9,210.4 348.8,211.1 349.8,212.3 350.8,213.5 351.8,214.5 352.8,215.5 353.8,215.9 354.8,215.3 355.8,214.4 356.8,213.4 357.8,213.2 358.8,213.4 359.8,213.9 360.8,214.4 361.8,214.6 362.8,214.7 363.8,214.8 364.8,215.0 365.8,214.2" fill="none" stroke="#4f8ad6" stroke-width="0.95" stroke-linejoin="round"/>
<path d="M81.6,211.3 82.6,212.8 83.6,214.7 84.6,216.1 85.6,216.2 86.6,213.6 87.6,210.8 88.6,209.2 89.6,210.1 90.6,210.7 91.6,213.9 92.6,218.3 93.6,220.7 94.6,218.6 95.6,214.0 96.6,211.2 97.6,213.7 98.6,216.5 99.5,214.3 100.5,210.7 101.5,210.1 102.5,210.5 103.5,208.5 104.5,208.8 105.5,214.6 106.5,219.8 107.5,219.9 108.5,218.0 109.5,216.8 110.5,214.8 111.5,211.0 112.5,206.7 113.5,206.5 114.5,209.8 115.5,213.4 116.5,215.2 117.5,215.1 118.5,215.2 119.5,216.4 120.5,216.9 121.5,214.8 122.5,211.9 123.5,211.5 124.5,212.4 125.5,213.2 126.5,212.6 127.5,214.5 128.5,217.2 129.5,217.2 130.5,215.5 131.5,214.0 132.5,212.2 133.5,211.2 134.5,211.1 135.4,212.1 136.4,213.6 137.4,212.5 138.4,210.6 139.4,212.3 140.4,217.3 141.4,219.1 142.4,218.4 143.4,215.3 144.4,211.3 145.4,208.8 146.4,209.8 147.4,210.1 148.4,209.2 149.4,210.4 150.4,214.4 151.4,217.3 152.4,217.4 153.4,217.3 154.4,218.1 155.4,217.4 156.4,213.8 157.4,212.0 158.4,211.5 159.4,212.4 160.4,211.7 161.4,209.1 162.4,207.2 163.4,207.7 164.4,209.4 165.4,212.3 166.4,215.1 167.4,217.7 168.4,218.6 169.4,218.4 170.4,217.6 171.3,217.4 172.3,217.4 173.3,216.3 174.3,214.0 175.3,210.6 176.3,208.6 177.3,209.2 178.3,211.5 179.3,212.8 180.3,213.6 181.3,213.5 182.3,211.8 183.3,210.2 184.3,211.5 185.3,215.7 186.3,220.1 187.3,220.8 188.3,217.1 189.3,212.1 190.3,210.6 191.3,212.3 192.3,214.6 193.3,215.7 194.3,215.1 195.3,214.6 196.3,215.6 197.3,216.3 198.3,212.9 199.3,207.5 200.3,206.4 201.3,210.7 202.3,214.4 203.3,213.6 204.3,212.4 205.3,214.9 206.2,216.8 207.2,214.7 208.2,211.3 209.2,211.8 210.2,214.6 211.2,214.9 212.2,213.4 213.2,213.8 214.2,215.6 215.2,216.2 216.2,215.2 217.2,214.1 218.2,213.2 219.2,212.8 220.2,212.6 221.2,212.5 222.2,213.2 223.2,215.1 224.2,216.8 225.2,216.4 226.2,215.2 227.2,213.8 228.2,213.8 229.2,215.2 230.2,216.4 231.2,216.5 232.2,215.6 233.2,213.3 234.2,210.7 235.2,210.4 236.2,211.8 237.2,213.7 238.2,215.5 239.2,216.2 240.2,215.8 241.2,214.0 242.1,212.8 243.1,214.1 244.1,216.3 245.1,217.5 246.1,216.4 247.1,214.7 248.1,214.4 249.1,215.4 250.1,215.6 251.1,213.3 252.1,209.1 253.1,208.4 254.1,212.0 255.1,216.3 256.1,216.5 257.1,214.2 258.1,211.9 259.1,211.9 260.1,211.5 261.1,210.3 262.1,211.9 263.1,216.1 264.1,217.7 265.1,215.5 266.1,212.4 267.1,211.5 268.1,211.7 269.1,212.3 270.1,215.2 271.1,218.2 272.1,217.5 273.1,214.7 274.1,212.2 275.1,215.4 276.1,219.8 277.0,217.4 278.0,211.4 279.0,209.2 280.0,210.9 281.0,211.6 282.0,211.8 283.0,212.0 284.0,210.6 285.0,210.1 286.0,212.8 287.0,215.1 288.0,214.8 289.0,213.7 290.0,213.5 291.0,214.3 292.0,215.8 293.0,218.4 294.0,219.9 295.0,219.4 296.0,218.4 297.0,217.9 298.0,217.9 299.0,217.0 300.0,215.8 301.0,213.4 302.0,210.8 303.0,209.8 304.0,210.5 305.0,212.6 306.0,214.2 307.0,215.5 308.0,217.5 309.0,218.2 310.0,217.2 311.0,215.1 312.0,211.4 312.9,206.8 313.9,207.7 314.9,214.1 315.9,219.3 316.9,218.6 317.9,212.7 318.9,207.8 319.9,207.7 320.9,210.6 321.9,213.5 322.9,216.1 323.9,217.3 324.9,216.4 325.9,214.9 326.9,213.6 327.9,213.4 328.9,213.0 329.9,212.6 330.9,212.6 331.9,213.6 332.9,214.2 333.9,212.4 334.9,208.9 335.9,207.8 336.9,211.2 337.9,217.0 338.9,221.3 339.9,221.1 340.9,220.5 341.9,217.0 342.9,212.1 343.9,208.6 344.9,207.8 345.9,210.0 346.9,213.1 347.9,215.1 348.8,214.7 349.8,213.2 350.8,212.9 351.8,213.7 352.8,214.3 353.8,214.4 354.8,214.9 355.8,215.6 356.8,215.3 357.8,214.0 358.8,211.8 359.8,210.7 360.8,211.5 361.8,212.0 362.8,212.4 363.8,214.0 364.8,217.1 365.8,219.0" fill="none" stroke="#f03c3c" stroke-width="0.95" stroke-linejoin="round"/>
<text x="63.20" y="237.60" text-anchor="end">precuneus</text>
<line x1="66.90" y1="235.80" x2="379.60" y2="235.80" stroke="#999999" stroke-width="1.5"/>
<path d="M81.6,235.8 82.6,235.1 83.6,235.4 84.6,236.9 85.6,238.7 86.6,239.0 87.6,239.0 88.6,238.5 89.6,235.2 90.6,230.0 91.6,228.2 92.6,231.0 93.6,236.6 94.6,240.4 95.6,240.2 96.6,238.3 97.6,237.7 98.6,236.6 99.5,234.3 100.5,233.0 101.5,234.2 102.5,235.9 103.5,236.1 104.5,235.3 105.5,235.4 106.5,236.9 107.5,238.0 108.5,237.1 109.5,234.9 110.5,233.0 111.5,233.7 112.5,235.6 113.5,237.7 114.5,238.6 115.5,238.0 116.5,236.5 117.5,235.5 118.5,234.5 119.5,232.7 120.5,231.1 121.5,231.6 122.5,234.8 123.5,238.3 124.5,239.5 125.5,239.0 126.5,237.9 127.5,235.8 128.5,234.0 129.5,233.6 130.5,235.4 131.5,237.5 132.5,238.5 133.5,237.1 134.5,234.4 135.4,232.2 136.4,232.5 137.4,234.5 138.4,237.5 139.4,239.8 140.4,239.6 141.4,237.0 142.4,234.7 143.4,234.0 144.4,234.2 145.4,235.1 146.4,237.3 147.4,239.9 148.4,241.0 149.4,239.2 150.4,235.4 151.4,231.9 152.4,231.5 153.4,232.8 154.4,234.7 155.4,236.1 156.4,236.9 157.4,236.4 158.4,236.0 159.4,235.5 160.4,234.5 161.4,234.8 162.4,236.3 163.4,237.0 164.4,237.0 165.4,237.6 166.4,237.6 167.4,237.1 168.4,237.1 169.4,236.9 170.4,236.1 171.3,234.9 172.3,233.8 173.3,233.2 174.3,235.1 175.3,237.3 176.3,237.9 177.3,236.8 178.3,235.1 179.3,232.7 180.3,231.3 181.3,232.3 182.3,234.8 183.3,236.8 184.3,237.0 185.3,235.9 186.3,236.1 187.3,238.5 188.3,240.4 189.3,239.5 190.3,237.1 191.3,235.3 192.3,235.4 193.3,235.8 194.3,235.3 195.3,235.0 196.3,235.5 197.3,235.5 198.3,235.1 199.3,235.4 200.3,235.6 201.3,235.5 202.3,235.8 203.3,235.6 204.3,234.8 205.3,234.5 206.2,234.3 207.2,233.7 208.2,234.4 209.2,237.0 210.2,239.2 211.2,238.5 212.2,236.5 213.2,235.1 214.2,234.5 215.2,234.7 216.2,235.6 217.2,236.9 218.2,237.4 219.2,237.1 220.2,237.0 221.2,237.1 222.2,237.1 223.2,236.0 224.2,233.6 225.2,231.6 226.2,231.0 227.2,233.2 228.2,236.1 229.2,238.0 230.2,236.9 231.2,234.4 232.2,230.5 233.2,228.6 234.2,230.5 235.2,235.2 236.2,238.3 237.2,238.1 238.2,236.6 239.2,236.4 240.2,237.4 241.2,238.6 242.1,237.5 243.1,234.4 244.1,231.7 245.1,233.4 246.1,237.4 247.1,238.1 248.1,236.8 249.1,236.2 250.1,237.0 251.1,235.1 252.1,230.7 253.1,227.9 254.1,230.1 255.1,235.5 256.1,240.5 257.1,241.1 258.1,239.4 259.1,237.7 260.1,237.3 261.1,236.5 262.1,234.8 263.1,234.4 264.1,236.0 265.1,237.8 266.1,237.9 267.1,235.3 268.1,232.6 269.1,233.1 270.1,233.9 271.1,233.6 272.1,234.5 273.1,237.1 274.1,240.1 275.1,241.1 276.1,239.7 277.0,235.5 278.0,231.8 279.0,231.8 280.0,232.7 281.0,233.2 282.0,234.7 283.0,236.9 284.0,238.1 285.0,236.9 286.0,236.1 287.0,237.0 288.0,237.6 289.0,237.1 290.0,236.2 291.0,235.5 292.0,234.6 293.0,232.9 294.0,230.5 295.0,228.5 296.0,228.7 297.0,231.0 298.0,233.7 299.0,235.9 300.0,237.2 301.0,236.9 302.0,235.7 303.0,236.1 304.0,238.2 305.0,238.5 306.0,235.7 307.0,232.3 308.0,230.6 309.0,231.6 310.0,234.8 311.0,239.6 312.0,241.4 312.9,239.3 313.9,236.3 314.9,233.8 315.9,233.1 316.9,234.6 317.9,236.8 318.9,238.4 319.9,237.9 320.9,236.0 321.9,233.8 322.9,232.7 323.9,232.8 324.9,232.3 325.9,233.0 326.9,235.9 327.9,238.9 328.9,240.4 329.9,240.4 330.9,238.4 331.9,234.0 332.9,230.8 333.9,232.0 334.9,235.3 335.9,237.1 336.9,237.3 337.9,237.5 338.9,237.1 339.9,235.7 340.9,234.2 341.9,234.5 342.9,236.8 343.9,238.8 344.9,237.9 345.9,234.8 346.9,232.6 347.9,232.5 348.8,233.0 349.8,235.1 350.8,236.8 351.8,237.5 352.8,237.5 353.8,237.2 354.8,237.2 355.8,237.2 356.8,236.2 357.8,233.8 358.8,230.6 359.8,231.1 360.8,234.4 361.8,238.1 362.8,240.0 363.8,239.6 364.8,238.2 365.8,236.5" fill="none" stroke="#4f8ad6" stroke-width="0.95" stroke-linejoin="round"/>
<path d="M81.6,235.9 82.6,235.9 83.6,237.2 84.6,238.7 85.6,239.2 86.6,236.9 87.6,235.5 88.6,236.3 89.6,235.0 90.6,229.9 91.6,227.1 92.6,230.6 93.6,237.6 94.6,241.4 95.6,239.7 96.6,235.7 97.6,234.9 98.6,237.6 99.5,238.2 100.5,235.8 101.5,234.0 102.5,233.3 103.5,233.6 104.5,234.8 105.5,236.0 106.5,236.4 107.5,236.4 108.5,235.6 109.5,234.9 110.5,234.9 111.5,236.5 112.5,237.3 113.5,237.5 114.5,237.3 115.5,237.7 116.5,237.4 117.5,236.5 118.5,235.4 119.5,232.6 120.5,229.4 121.5,229.9 122.5,233.9 123.5,238.6 124.5,240.8 125.5,240.0 126.5,238.2 127.5,235.6 128.5,233.1 129.5,232.9 130.5,236.8 131.5,241.3 132.5,241.3 133.5,236.4 134.5,231.3 135.4,229.8 136.4,232.9 137.4,235.6 138.4,236.1 139.4,236.5 140.4,237.8 141.4,237.1 142.4,234.9 143.4,233.9 144.4,234.6 145.4,236.7 146.4,239.8 147.4,242.0 148.4,242.8 149.4,240.8 150.4,235.1 151.4,229.1 152.4,228.8 153.4,233.3 154.4,238.0 155.4,239.0 156.4,236.3 157.4,233.1 158.4,231.9 159.4,232.7 160.4,232.7 161.4,233.8 162.4,237.8 163.4,241.7 164.4,243.0 165.4,240.5 166.4,236.7 167.4,233.4 168.4,232.6 169.4,233.6 170.4,235.4 171.3,237.1 172.3,238.0 173.3,236.9 174.3,236.5 175.3,235.5 176.3,233.8 177.3,233.5 178.3,234.5 179.3,233.9 180.3,232.9 181.3,234.9 182.3,237.6 183.3,237.5 184.3,235.4 185.3,233.6 186.3,234.8 187.3,238.8 188.3,241.9 189.3,241.1 190.3,237.6 191.3,234.7 192.3,234.4 193.3,235.0 194.3,235.1 195.3,236.7 196.3,237.7 197.3,235.1 198.3,231.9 199.3,232.8 200.3,235.6 201.3,237.9 202.3,237.8 203.3,235.7 204.3,233.2 205.3,232.6 206.2,233.7 207.2,234.3 208.2,234.8 209.2,236.1 210.2,237.5 211.2,238.0 212.2,238.1 213.2,237.1 214.2,235.3 215.2,234.6 216.2,235.1 217.2,236.5 218.2,237.6 219.2,238.2 220.2,238.0 221.2,237.0 222.2,236.6 223.2,235.9 224.2,233.1 225.2,230.3 226.2,229.9 227.2,233.1 228.2,237.4 229.2,240.0 230.2,238.4 231.2,235.4 232.2,232.0 233.2,230.3 234.2,231.0 235.2,233.5 236.2,234.6 237.2,233.9 238.2,233.8 239.2,235.8 240.2,238.3 241.2,239.7 242.1,238.6 243.1,236.9 244.1,235.1 245.1,236.4 246.1,238.8 247.1,237.7 248.1,235.1 249.1,235.1 250.1,236.8 251.1,234.8 252.1,230.1 253.1,227.2 254.1,229.7 255.1,235.4 256.1,240.3 257.1,240.9 258.1,239.1 259.1,236.7 260.1,235.7 261.1,235.6 262.1,234.9 263.1,235.4 264.1,237.5 265.1,239.7 266.1,240.2 267.1,237.2 268.1,233.2 269.1,231.4 270.1,230.6 271.1,231.1 272.1,233.9 273.1,237.9 274.1,241.6 275.1,241.9 276.1,239.0 277.0,233.1 278.0,230.0 279.0,232.4 280.0,234.6 281.0,234.3 282.0,234.1 283.0,235.5 284.0,238.3 285.0,240.3 286.0,240.6 287.0,238.1 288.0,234.2 289.0,231.0 290.0,230.4 291.0,232.6 292.0,235.3 293.0,236.3 294.0,234.2 295.0,232.4 296.0,231.3 297.0,231.4 298.0,232.1 299.0,233.9 300.0,235.4 301.0,235.8 302.0,236.0 303.0,238.0 304.0,240.7 305.0,240.2 306.0,235.1 307.0,229.6 308.0,228.1 309.0,230.4 310.0,234.7 311.0,240.2 312.0,242.8 312.9,241.1 313.9,237.9 314.9,234.3 315.9,231.6 316.9,232.2 317.9,236.0 318.9,238.8 319.9,237.9 320.9,234.7 321.9,232.3 322.9,232.8 323.9,234.1 324.9,233.5 325.9,234.3 326.9,237.5 327.9,239.6 328.9,239.6 329.9,239.1 330.9,237.8 331.9,234.8 332.9,232.8 333.9,233.5 334.9,234.6 335.9,234.7 336.9,234.5 337.9,235.9 338.9,237.6 339.9,237.6 340.9,236.0 341.9,235.5 342.9,236.3 343.9,238.1 344.9,238.9 345.9,236.0 346.9,231.9 347.9,230.4 348.8,231.6 349.8,234.7 350.8,237.0 351.8,237.5 352.8,236.9 353.8,237.4 354.8,239.6 355.8,240.6 356.8,238.0 357.8,234.1 358.8,230.3 359.8,230.9 360.8,233.7 361.8,235.4 362.8,236.5 363.8,238.6 364.8,240.4 365.8,239.3" fill="none" stroke="#f03c3c" stroke-width="0.95" stroke-linejoin="round"/>
<rect x="332.40" y="142.40" width="50.70" height="20.90" fill="#fff" stroke="#555" stroke-width="0.6"/>
<line x1="335.60" y1="147.30" x2="344.80" y2="147.30" stroke="#5b8fd8" stroke-width="1.0"/>
<line x1="335.60" y1="158.90" x2="344.80" y2="158.90" stroke="#f04848" stroke-width="1.0"/>
<text x="349.30" y="149.70">Observed</text>
<text x="349.30" y="161.30">Predicted</text>
<rect x="441.50" y="152.30" width="91.80" height="81.50" fill="none" stroke="#333" stroke-width="0.8"/>
<line x1="442.00" y1="156.50" x2="533.00" y2="156.50" stroke="#222" stroke-width="0.8" stroke-dasharray="1,1"/>
<path d="M444.9,192.8 454.3,169.6 463.7,161.4 473.2,158.3 482.6,157.2 492.0,156.8 501.4,156.6 510.8,156.5 520.3,156.4 529.7,156.4" fill="none" stroke="#3f86d0" stroke-width="1.0" stroke-linejoin="round"/>
<line x1="444.90" y1="233.80" x2="444.90" y2="232.50" stroke="#333" stroke-width="0.45"/>
<line x1="444.90" y1="152.30" x2="444.90" y2="153.60" stroke="#333" stroke-width="0.45"/>
<text x="444.90" y="242.30" text-anchor="middle" font-size="4.9">0.002</text>
<line x1="454.32" y1="233.80" x2="454.32" y2="232.50" stroke="#333" stroke-width="0.45"/>
<line x1="454.32" y1="152.30" x2="454.32" y2="153.60" stroke="#333" stroke-width="0.45"/>
<text x="454.32" y="251.10" text-anchor="middle" font-size="4.9">0.004</text>
<line x1="454.12" y1="237.00" x2="454.12" y2="245.00" stroke="#222" stroke-width="0.6"/>
<line x1="463.74" y1="233.80" x2="463.74" y2="232.50" stroke="#333" stroke-width="0.45"/>
<line x1="463.74" y1="152.30" x2="463.74" y2="153.60" stroke="#333" stroke-width="0.45"/>
<text x="463.74" y="242.30" text-anchor="middle" font-size="4.9">0.007</text>
<line x1="473.16" y1="233.80" x2="473.16" y2="232.50" stroke="#333" stroke-width="0.45"/>
<line x1="473.16" y1="152.30" x2="473.16" y2="153.60" stroke="#333" stroke-width="0.45"/>
<text x="473.16" y="251.10" text-anchor="middle" font-size="4.9">0.015</text>
<line x1="472.96" y1="237.00" x2="472.96" y2="245.00" stroke="#222" stroke-width="0.6"/>
<line x1="482.58" y1="233.80" x2="482.58" y2="232.50" stroke="#333" stroke-width="0.45"/>
<line x1="482.58" y1="152.30" x2="482.58" y2="153.60" stroke="#333" stroke-width="0.45"/>
<text x="482.58" y="242.30" text-anchor="middle" font-size="4.9">0.029</text>
<line x1="492.00" y1="233.80" x2="492.00" y2="232.50" stroke="#333" stroke-width="0.45"/>
<line x1="492.00" y1="152.30" x2="492.00" y2="153.60" stroke="#333" stroke-width="0.45"/>
<text x="492.00" y="251.10" text-anchor="middle" font-size="4.9">0.058</text>
<line x1="491.80" y1="237.00" x2="491.80" y2="245.00" stroke="#222" stroke-width="0.6"/>
<line x1="501.42" y1="233.80" x2="501.42" y2="232.50" stroke="#333" stroke-width="0.45"/>
<line x1="501.42" y1="152.30" x2="501.42" y2="153.60" stroke="#333" stroke-width="0.45"/>
<text x="501.42" y="242.30" text-anchor="middle" font-size="4.9">0.116</text>
<line x1="510.84" y1="233.80" x2="510.84" y2="232.50" stroke="#333" stroke-width="0.45"/>
<line x1="510.84" y1="152.30" x2="510.84" y2="153.60" stroke="#333" stroke-width="0.45"/>
<text x="510.84" y="251.10" text-anchor="middle" font-size="4.9">0.233</text>
<line x1="510.64" y1="237.00" x2="510.64" y2="245.00" stroke="#222" stroke-width="0.6"/>
<line x1="520.26" y1="233.80" x2="520.26" y2="232.50" stroke="#333" stroke-width="0.45"/>
<line x1="520.26" y1="152.30" x2="520.26" y2="153.60" stroke="#333" stroke-width="0.45"/>
<text x="520.26" y="242.30" text-anchor="middle" font-size="4.9">0.466</text>
<line x1="529.68" y1="233.80" x2="529.68" y2="232.50" stroke="#333" stroke-width="0.45"/>
<line x1="529.68" y1="152.30" x2="529.68" y2="153.60" stroke="#333" stroke-width="0.45"/>
<text x="529.68" y="251.10" text-anchor="middle" font-size="4.9">1.000</text>
<line x1="529.48" y1="237.00" x2="529.48" y2="245.00" stroke="#222" stroke-width="0.6"/>
<text x="436.70" y="158.50" text-anchor="end">1</text>
<text x="436.90" y="236.30" text-anchor="end">0</text>
<text transform="translate(420.00,195.00) rotate(-90)" text-anchor="middle">Similarity to matrix</text>
<text transform="translate(429.60,196.80) rotate(-90)" text-anchor="middle">estimated with all samples</text>
<text x="485.80" y="261.00" text-anchor="middle">Fraction of time points</text>
<text x="485.80" y="269.60" text-anchor="middle">from each scan</text>
<path d="M572.50 152.10h1.00V237.90h-1.00z" fill="#f2a734"/>
<path d="M573.50 152.10h1.00V237.90h-1.00zM611.45 152.10h1.00V237.90h-1.00zM621.44 152.10h1.00V237.90h-1.00z" fill="#f4eb3e"/>
<path d="M574.50 152.10h1.00V237.90h-1.00zM598.47 152.10h1.00V237.90h-1.00z" fill="#f3b836"/>
<path d="M575.50 152.10h1.00V237.90h-1.00zM601.47 152.10h1.00V237.90h-1.00zM619.45 152.10h1.00V237.90h-1.00zM625.44 152.10h1.00V237.90h-1.00zM630.43 152.10h1.00V237.90h-1.00zM639.42 152.10h1.00V237.90h-1.00z" fill="#f4ef4c"/>
<path d="M576.50 152.10h1.00V237.90h-1.00zM620.44 152.10h1.00V237.90h-1.00zM642.42 152.10h1.00V237.90h-1.00z" fill="#f08a31"/>
<path d="M577.49 152.10h1.00V237.90h-1.00zM613.45 152.10h1.00V237.90h-1.00z" fill="#f9f8b0"/>
<path d="M578.49 152.10h1.00V237.90h-1.00zM649.41 152.10h1.00V237.90h-1.00zM651.41 152.10h1.00V237.90h-1.00z" fill="#f4ed48"/>
<path d="M579.49 152.10h1.00V237.90h-1.00z" fill="#f4eb3f"/>
<path d="M580.49 152.10h1.00V237.90h-1.00z" fill="#f7f487"/>
<path d="M581.49 152.10h1.00V237.90h-1.00zM643.42 152.10h1.00V237.90h-1.00z" fill="#f2a334"/>
<path d="M582.49 152.10h1.00V237.90h-1.00z" fill="#f4ec41"/>
<path d="M583.49 152.10h1.00V237.90h-1.00z" fill="#f3c137"/>
<path d="M584.49 152.10h1.00V237.90h-1.00z" fill="#f9f8ad"/>
<path d="M585.48 152.10h1.00V237.90h-1.00zM588.48 152.10h1.00V237.90h-1.00z" fill="#f4eb40"/>
<path d="M586.48 152.10h1.00V237.90h-1.00zM590.48 152.10h1.00V237.90h-1.00z" fill="#faf9b7"/>
<path d="M587.48 152.10h1.00V237.90h-1.00zM600.47 152.10h1.00V237.90h-1.00zM624.44 152.10h1.00V237.90h-1.00zM654.40 152.10h1.00V237.90h-1.00z" fill="#f4ce38"/>
<path d="M589.48 152.10h1.00V237.90h-1.00zM592.48 152.10h1.00V237.90h-1.00z" fill="#f4ee4b"/>
<path d="M591.48 152.10h1.00V237.90h-1.00z" fill="#f8f69c"/>
<path d="M593.48 152.10h1.00V237.90h-1.00z" fill="#f2a634"/>
<path d="M594.47 152.10h1.00V237.90h-1.00zM603.46 152.10h1.00V237.90h-1.00z" fill="#f4ec43"/>
<path d="M595.47 152.10h1.00V237.90h-1.00zM627.44 152.10h1.00V237.90h-1.00z" fill="#f4ed45"/>
<path d="M596.47 152.10h1.00V237.90h-1.00z" fill="#faf9b6"/>
<path d="M597.47 152.10h1.00V237.90h-1.00zM634.43 152.10h1.00V237.90h-1.00z" fill="#f4ed47"/>
<path d="M599.47 152.10h1.00V237.90h-1.00zM609.46 152.10h1.00V237.90h-1.00zM632.43 152.10h1.00V237.90h-1.00zM637.42 152.10h1.00V237.90h-1.00zM652.41 152.10h1.00V237.90h-1.00z" fill="#f4ed46"/>
<path d="M602.47 152.10h1.00V237.90h-1.00z" fill="#f4c838"/>
<path d="M604.46 152.10h1.00V237.90h-1.00z" fill="#f4cc38"/>
<path d="M605.46 152.10h1.00V237.90h-1.00z" fill="#f4dc39"/>
<path d="M606.46 152.10h1.00V237.90h-1.00zM612.45 152.10h1.00V237.90h-1.00z" fill="#f4ec42"/>
<path d="M607.46 152.10h1.00V237.90h-1.00z" fill="#f4eb3d"/>
<path d="M608.46 152.10h1.00V237.90h-1.00zM631.43 152.10h1.00V237.90h-1.00zM641.42 152.10h1.00V237.90h-1.00zM644.42 152.10h1.00V237.90h-1.00z" fill="#f4ee49"/>
<path d="M610.46 152.10h1.00V237.90h-1.00z" fill="#f3bd37"/>
<path d="M614.45 152.10h1.00V237.90h-1.00z" fill="#f8f69f"/>
<path d="M615.45 152.10h1.00V237.90h-1.00z" fill="#ec6e2c"/>
<path d="M616.45 152.10h1.00V237.90h-1.00z" fill="#f4ec44"/>
<path d="M617.45 152.10h1.00V237.90h-1.00z" fill="#ea642b"/>
<path d="M618.45 152.10h1.00V237.90h-1.00z" fill="#ee7a2e"/>
<path d="M622.44 152.10h1.00V237.90h-1.00z" fill="#f4c438"/>
<path d="M623.44 152.10h1.00V237.90h-1.00zM628.43 152.10h1.00V237.90h-1.00z" fill="#f8f69d"/>
<path d="M626.44 152.10h1.00V237.90h-1.00z" fill="#f4c938"/>
<path d="M629.43 152.10h1.00V237.90h-1.00z" fill="#f8f696"/>
<path d="M633.43 152.10h1.00V237.90h-1.00z" fill="#f9f7a6"/>
<path d="M635.43 152.10h1.00V237.90h-1.00z" fill="#f4c538"/>
<path d="M636.43 152.10h1.00V237.90h-1.00z" fill="#f2ab35"/>
<path d="M638.42 152.10h1.00V237.90h-1.00z" fill="#f3bb37"/>
<path d="M640.42 152.10h1.00V237.90h-1.00z" fill="#f2b035"/>
<path d="M645.42 152.10h1.00V237.90h-1.00z" fill="#f4ea3d"/>
<path d="M646.41 152.10h1.00V237.90h-1.00zM656.40 152.10h1.00V237.90h-1.00z" fill="#f3c337"/>
<path d="M647.41 152.10h1.00V237.90h-1.00z" fill="#f4d438"/>
<path d="M648.41 152.10h1.00V237.90h-1.00z" fill="#eb6a2c"/>
<path d="M650.41 152.10h1.00V237.90h-1.00z" fill="#f7f480"/>
<path d="M653.41 152.10h1.00V237.90h-1.00z" fill="#f3b936"/>
<path d="M655.40 152.10h1.00V237.90h-1.00z" fill="#ef7d2f"/>
<path d="M657.40 152.10h1.00V237.90h-1.00z" fill="#f2a534"/>
<path d="M572.50 152.10H658.40v1.00H572.50zM572.50 153.10H658.40v1.00H572.50zM572.50 154.10H658.40v1.00H572.50zM572.50 155.09H658.40v1.00H572.50zM572.50 160.08H658.40v1.00H572.50zM572.50 161.08H658.40v1.00H572.50zM572.50 162.08H658.40v1.00H572.50zM572.50 164.07H658.40v1.00H572.50zM572.50 170.06H658.40v1.00H572.50zM572.50 174.05H658.40v1.00H572.50zM572.50 186.02H658.40v1.00H572.50zM572.50 187.02H658.40v1.00H572.50zM572.50 191.01H658.40v1.00H572.50zM572.50 195.00H658.40v1.00H572.50zM572.50 196.00H658.40v1.00H572.50zM572.50 202.98H658.40v1.00H572.50zM572.50 206.97H658.40v1.00H572.50zM572.50 217.95H658.40v1.00H572.50zM572.50 221.94H658.40v1.00H572.50zM572.50 230.92H658.40v1.00H572.50zM572.50 231.91H658.40v1.00H572.50zM572.50 235.90H658.40v1.00H572.50z" fill="#fff" fill-opacity="0.10"/>
<path d="M572.50 166.07H658.40v1.00H572.50zM572.50 167.07H658.40v1.00H572.50zM572.50 168.06H658.40v1.00H572.50zM572.50 171.06H658.40v1.00H572.50zM572.50 176.04H658.40v1.00H572.50zM572.50 182.03H658.40v1.00H572.50zM572.50 192.01H658.40v1.00H572.50zM572.50 194.00H658.40v1.00H572.50zM572.50 197.00H658.40v1.00H572.50zM572.50 204.98H658.40v1.00H572.50zM572.50 208.97H658.40v1.00H572.50zM572.50 212.96H658.40v1.00H572.50zM572.50 213.96H658.40v1.00H572.50zM572.50 216.95H658.40v1.00H572.50zM572.50 223.93H658.40v1.00H572.50zM572.50 227.92H658.40v1.00H572.50zM572.50 228.92H658.40v1.00H572.50z" fill="#f08a30" fill-opacity="0.04"/>
<line x1="572.50" y1="152.10" x2="658.40" y2="237.90" stroke="#4a84b8" stroke-width="0.8"/>
<rect x="572.50" y="152.10" width="85.90" height="85.80" fill="none" stroke="#333" stroke-width="0.8"/>
<line x1="635.90" y1="215.30" x2="647.00" y2="215.30" stroke="#222" stroke-width="0.7"/>
<line x1="635.90" y1="215.30" x2="621.50" y2="254.20" stroke="#222" stroke-width="0.6"/>
<line x1="647.00" y1="215.30" x2="657.90" y2="254.20" stroke="#222" stroke-width="0.6"/>
<line x1="635.90" y1="216.50" x2="629.70" y2="254.20" stroke="#222" stroke-width="0.5" stroke-dasharray="0.8,0.9"/>
<line x1="647.00" y1="216.50" x2="651.70" y2="254.20" stroke="#222" stroke-width="0.5" stroke-dasharray="0.8,0.9"/>
<line x1="635.90" y1="227.40" x2="647.00" y2="227.40" stroke="#222" stroke-width="0.5" stroke-dasharray="0.8,0.9"/>
<path d="M621.50 254.30h1.55V291.70h-1.55z" fill="#f4e039"/>
<path d="M623.05 254.30h1.55V291.70h-1.55z" fill="#f5f163"/>
<path d="M624.59 254.30h1.55V291.70h-1.55zM640.05 254.30h1.55V291.70h-1.55z" fill="#f8f696"/>
<path d="M626.14 254.30h1.55V291.70h-1.55z" fill="#f4df39"/>
<path d="M627.68 254.30h1.55V291.70h-1.55zM649.33 254.30h1.55V291.70h-1.55zM655.51 254.30h1.55V291.70h-1.55z" fill="#f2ab35"/>
<path d="M629.23 254.30h1.55V291.70h-1.55z" fill="#f08a31"/>
<path d="M630.77 254.30h1.55V291.70h-1.55z" fill="#f4ef4c"/>
<path d="M632.32 254.30h1.55V291.70h-1.55z" fill="#f4d338"/>
<path d="M633.87 254.30h1.55V291.70h-1.55z" fill="#f3bb37"/>
<path d="M635.41 254.30h1.55V291.70h-1.55z" fill="#eb692c"/>
<path d="M636.96 254.30h1.55V291.70h-1.55z" fill="#ef7d2f"/>
<path d="M638.50 254.30h1.55V291.70h-1.55z" fill="#f4da39"/>
<path d="M641.60 254.30h1.55V291.70h-1.55z" fill="#f19a33"/>
<path d="M643.14 254.30h1.55V291.70h-1.55z" fill="#f4e739"/>
<path d="M644.69 254.30h1.55V291.70h-1.55z" fill="#f3b336"/>
<path d="M646.23 254.30h1.55V291.70h-1.55z" fill="#f9f7a6"/>
<path d="M647.78 254.30h1.55V291.70h-1.55z" fill="#f3b836"/>
<path d="M650.87 254.30h1.55V291.70h-1.55z" fill="#ec6e2c"/>
<path d="M652.42 254.30h1.55V291.70h-1.55z" fill="#f4ec41"/>
<path d="M653.96 254.30h1.55V291.70h-1.55z" fill="#f6f26a"/>
<path d="M657.05 254.30h1.55V291.70h-1.55z" fill="#f4d238"/>
<path d="M621.50 260.53H658.60v1.56H621.50zM621.50 268.32H658.60v1.56H621.50zM621.50 277.68H658.60v1.56H621.50zM621.50 280.79H658.60v1.56H621.50zM621.50 285.47H658.60v1.56H621.50zM621.50 287.02H658.60v1.56H621.50z" fill="#fff" fill-opacity="0.10"/>
<path d="M621.50 254.30H658.60v1.56H621.50zM621.50 271.44H658.60v1.56H621.50zM621.50 282.35H658.60v1.56H621.50zM621.50 288.58H658.60v1.56H621.50z" fill="#f08a30" fill-opacity="0.04"/>
<rect x="621.50" y="254.30" width="37.10" height="37.40" fill="none" stroke="#333" stroke-width="0.7"/>
<circle cx="623.96" cy="256.78" r="1.3" fill="#3f8ad6" stroke="#2c5f9e" stroke-width="0.3"/>
<circle cx="626.89" cy="259.73" r="1.3" fill="#3f8ad6" stroke="#2c5f9e" stroke-width="0.3"/>
<circle cx="629.81" cy="262.68" r="1.3" fill="#3f8ad6" stroke="#2c5f9e" stroke-width="0.3"/>
<circle cx="632.74" cy="265.62" r="1.3" fill="#3f8ad6" stroke="#2c5f9e" stroke-width="0.3"/>
<circle cx="635.66" cy="268.57" r="1.3" fill="#3f8ad6" stroke="#2c5f9e" stroke-width="0.3"/>
<circle cx="638.59" cy="271.52" r="1.3" fill="#3f8ad6" stroke="#2c5f9e" stroke-width="0.3"/>
<circle cx="641.51" cy="274.48" r="1.3" fill="#3f8ad6" stroke="#2c5f9e" stroke-width="0.3"/>
<circle cx="644.44" cy="277.43" r="1.3" fill="#3f8ad6" stroke="#2c5f9e" stroke-width="0.3"/>
<circle cx="647.36" cy="280.38" r="1.3" fill="#3f8ad6" stroke="#2c5f9e" stroke-width="0.3"/>
<circle cx="650.29" cy="283.32" r="1.3" fill="#3f8ad6" stroke="#2c5f9e" stroke-width="0.3"/>
<circle cx="653.21" cy="286.27" r="1.3" fill="#3f8ad6" stroke="#2c5f9e" stroke-width="0.3"/>
<circle cx="656.14" cy="289.23" r="1.3" fill="#3f8ad6" stroke="#2c5f9e" stroke-width="0.3"/>
<rect x="635.20" y="268.30" width="3.30" height="3.20" fill="none" stroke="#111" stroke-width="0.7"/>
<line x1="617.60" y1="269.90" x2="634.60" y2="269.90" stroke="#333" stroke-width="0.6"/>
<circle cx="633.4" cy="269.9" r="0.7" fill="#111"/>
<text x="597.20" y="272.90">Same</text>
<text x="594.80" y="281.40">subject</text>
<text x="567.40" y="156.60" text-anchor="end">1</text>
<text x="569.20" y="240.80" text-anchor="end">380</text>
<text x="574.00" y="248.40" text-anchor="middle">1</text>
<text x="586.90" y="248.60">Subjects/</text>
<text x="586.90" y="257.60">scans</text>
<text x="659.60" y="248.00">380</text>
<text transform="translate(566.40,196.40) rotate(-90)" text-anchor="middle">Subjects/scans</text>
<defs><linearGradient id="gg" x1="0" y1="0" x2="0" y2="1"><stop offset="0" stop-color="#e62a1c"/><stop offset="0.18" stop-color="#f28a28"/><stop offset="0.35" stop-color="#f4e83c"/><stop offset="0.5" stop-color="#ffffff"/><stop offset="0.65" stop-color="#48cbe6"/><stop offset="0.85" stop-color="#2c7ccc"/><stop offset="1" stop-color="#263a8e"/></linearGradient></defs>
<rect x="668.30" y="168.30" width="4.60" height="48.00" fill="url(#gg)" stroke="#444" stroke-width="0.5"/>
<text x="669.50" y="165.90" text-anchor="middle">1.01</text>
<text x="669.50" y="224.00" text-anchor="middle">0.16</text>
<text transform="translate(682.40,191.40) rotate(-90)" text-anchor="middle">MSE</text>
<line x1="40.80" y1="299.40" x2="40.80" y2="381.50" stroke="#333" stroke-width="0.8"/>
<line x1="40.80" y1="381.50" x2="80.70" y2="381.50" stroke="#333" stroke-width="0.8"/>
<line x1="40.80" y1="381.50" x2="40.80" y2="384.50" stroke="#333" stroke-width="0.6"/>
<text x="37.00" y="305.90" text-anchor="end">1</text>
<line x1="40.80" y1="303.40" x2="41.80" y2="303.40" stroke="#333" stroke-width="0.5"/>
<text x="37.00" y="322.00" text-anchor="end">0.8</text>
<line x1="40.80" y1="319.50" x2="41.80" y2="319.50" stroke="#333" stroke-width="0.5"/>
<text x="37.00" y="337.10" text-anchor="end">0.6</text>
<line x1="40.80" y1="334.60" x2="41.80" y2="334.60" stroke="#333" stroke-width="0.5"/>
<text x="37.00" y="353.20" text-anchor="end">0.4</text>
<line x1="40.80" y1="350.70" x2="41.80" y2="350.70" stroke="#333" stroke-width="0.5"/>
<text x="37.00" y="368.20" text-anchor="end">0.2</text>
<line x1="40.80" y1="365.70" x2="41.80" y2="365.70" stroke="#333" stroke-width="0.5"/>
<text x="37.00" y="380.40" text-anchor="end">0</text>
<text transform="translate(21.00,338.50) rotate(-90)" text-anchor="middle">MSE</text>
<path d="M50.7,303 L50.7,298.9 L70.5,298.9 L70.5,350" fill="none" stroke="#aaa" stroke-width="0.5"/>
<line x1="60.60" y1="298.90" x2="60.60" y2="318.20" stroke="#aaa" stroke-width="0.5"/>
<text x="60.60" y="299.00" text-anchor="middle" font-size="6.5">*</text>
<path d="M52.3 330.6h0.5v0.5h-0.5zM51.2 315.6h0.5v0.5h-0.5zM51.7 328.0h0.5v0.5h-0.5zM53.2 328.9h0.5v0.5h-0.5zM52.4 326.9h0.5v0.5h-0.5zM53.0 328.7h0.5v0.5h-0.5zM51.8 323.6h0.5v0.5h-0.5zM51.7 329.0h0.5v0.5h-0.5zM51.2 322.7h0.5v0.5h-0.5zM51.4 323.0h0.5v0.5h-0.5zM53.0 322.8h0.5v0.5h-0.5zM52.2 331.9h0.5v0.5h-0.5zM53.6 311.4h0.5v0.5h-0.5zM52.4 321.8h0.5v0.5h-0.5zM51.3 326.3h0.5v0.5h-0.5zM51.1 316.9h0.5v0.5h-0.5zM53.1 339.3h0.5v0.5h-0.5zM53.5 329.5h0.5v0.5h-0.5zM52.3 313.1h0.5v0.5h-0.5zM51.0 325.6h0.5v0.5h-0.5zM53.3 320.0h0.5v0.5h-0.5zM51.6 318.1h0.5v0.5h-0.5zM52.3 325.5h0.5v0.5h-0.5zM53.0 321.2h0.5v0.5h-0.5zM53.2 331.1h0.5v0.5h-0.5zM53.1 319.0h0.5v0.5h-0.5zM53.1 321.2h0.5v0.5h-0.5zM51.0 317.2h0.5v0.5h-0.5zM53.3 324.7h0.5v0.5h-0.5zM52.2 322.6h0.5v0.5h-0.5zM50.8 326.7h0.5v0.5h-0.5zM52.9 317.0h0.5v0.5h-0.5zM51.6 321.5h0.5v0.5h-0.5zM52.7 330.2h0.5v0.5h-0.5zM53.6 326.6h0.5v0.5h-0.5zM52.2 322.7h0.5v0.5h-0.5zM52.0 330.1h0.5v0.5h-0.5zM50.9 331.1h0.5v0.5h-0.5zM53.5 314.3h0.5v0.5h-0.5zM53.4 321.6h0.5v0.5h-0.5zM51.5 326.2h0.5v0.5h-0.5zM51.4 316.3h0.5v0.5h-0.5zM51.0 329.6h0.5v0.5h-0.5zM51.3 324.8h0.5v0.5h-0.5zM51.7 328.1h0.5v0.5h-0.5zM51.3 326.6h0.5v0.5h-0.5zM50.8 323.0h0.5v0.5h-0.5zM52.0 308.9h0.5v0.5h-0.5zM52.6 325.0h0.5v0.5h-0.5zM52.9 327.2h0.5v0.5h-0.5zM52.1 330.9h0.5v0.5h-0.5zM52.6 329.5h0.5v0.5h-0.5zM51.8 327.5h0.5v0.5h-0.5zM51.4 314.1h0.5v0.5h-0.5zM51.5 324.0h0.5v0.5h-0.5zM51.0 325.8h0.5v0.5h-0.5zM53.0 330.8h0.5v0.5h-0.5zM51.2 324.9h0.5v0.5h-0.5zM52.0 328.1h0.5v0.5h-0.5zM52.1 329.5h0.5v0.5h-0.5z" fill="#777" fill-opacity="0.2"/>
<path d="M50.50,303.00 L50.50,303.00 L50.50,304.09 L50.49,305.18 L50.48,306.27 L50.47,307.36 L50.43,308.45 L50.36,309.54 L50.24,310.63 L50.05,311.72 L49.79,312.81 L49.43,313.90 L48.98,314.99 L48.46,316.08 L47.90,317.17 L47.33,318.26 L46.80,319.35 L46.35,320.44 L46.00,321.53 L45.77,322.62 L45.64,323.71 L45.60,324.79 L45.60,325.88 L45.67,326.97 L45.84,328.06 L46.14,329.15 L46.58,330.24 L47.14,331.33 L47.75,332.42 L48.38,333.51 L48.96,334.60 L49.46,335.69 L49.84,336.78 L50.11,337.87 L50.29,338.96 L50.39,340.05 L50.45,341.14 L50.48,342.23 L50.49,343.32 L50.50,344.41 L50.50,345.50 L50.50,345.50Z" fill="#3d7cc6" stroke="#222" stroke-width="0.5"/>
<rect x="51.20" y="321.30" width="1.30" height="8.00" fill="#f08080" stroke="none" stroke-width="0.8" fill-opacity="0.55"/>
<path d="M61.6 336.3h0.5v0.5h-0.5zM63.2 322.2h0.5v0.5h-0.5zM62.5 348.5h0.5v0.5h-0.5zM61.3 345.8h0.5v0.5h-0.5zM61.6 336.0h0.5v0.5h-0.5zM62.4 337.8h0.5v0.5h-0.5zM62.1 334.3h0.5v0.5h-0.5zM62.0 339.4h0.5v0.5h-0.5zM63.6 335.7h0.5v0.5h-0.5zM61.9 333.6h0.5v0.5h-0.5zM61.8 341.5h0.5v0.5h-0.5zM63.4 343.1h0.5v0.5h-0.5zM61.7 345.8h0.5v0.5h-0.5zM62.2 328.1h0.5v0.5h-0.5zM61.1 329.1h0.5v0.5h-0.5zM61.4 341.0h0.5v0.5h-0.5zM62.8 345.4h0.5v0.5h-0.5zM62.7 342.2h0.5v0.5h-0.5zM62.3 346.5h0.5v0.5h-0.5zM63.3 337.0h0.5v0.5h-0.5zM63.4 353.3h0.5v0.5h-0.5zM63.2 332.2h0.5v0.5h-0.5zM62.8 347.2h0.5v0.5h-0.5zM62.3 349.8h0.5v0.5h-0.5zM61.1 348.4h0.5v0.5h-0.5zM62.8 329.7h0.5v0.5h-0.5zM63.4 349.0h0.5v0.5h-0.5zM61.9 347.4h0.5v0.5h-0.5zM62.5 342.1h0.5v0.5h-0.5zM62.0 334.5h0.5v0.5h-0.5zM61.3 338.7h0.5v0.5h-0.5zM62.6 326.7h0.5v0.5h-0.5zM60.9 344.9h0.5v0.5h-0.5zM61.1 328.9h0.5v0.5h-0.5zM62.2 348.9h0.5v0.5h-0.5zM62.3 351.1h0.5v0.5h-0.5zM63.0 334.7h0.5v0.5h-0.5zM62.6 339.5h0.5v0.5h-0.5zM63.6 333.6h0.5v0.5h-0.5zM62.8 342.7h0.5v0.5h-0.5zM60.9 338.1h0.5v0.5h-0.5zM63.5 346.6h0.5v0.5h-0.5zM60.8 334.5h0.5v0.5h-0.5zM60.8 333.5h0.5v0.5h-0.5zM61.1 348.5h0.5v0.5h-0.5zM63.6 334.0h0.5v0.5h-0.5zM61.7 335.2h0.5v0.5h-0.5zM61.9 334.0h0.5v0.5h-0.5zM62.3 340.4h0.5v0.5h-0.5zM61.2 335.0h0.5v0.5h-0.5zM62.1 334.1h0.5v0.5h-0.5zM62.6 338.2h0.5v0.5h-0.5zM63.4 346.7h0.5v0.5h-0.5zM61.0 358.1h0.5v0.5h-0.5zM62.4 336.8h0.5v0.5h-0.5zM61.0 332.4h0.5v0.5h-0.5zM62.1 333.1h0.5v0.5h-0.5zM63.4 325.7h0.5v0.5h-0.5zM63.1 338.9h0.5v0.5h-0.5zM63.6 352.4h0.5v0.5h-0.5z" fill="#777" fill-opacity="0.2"/>
<path d="M60.50,318.60 L60.50,318.60 L60.50,319.73 L60.49,320.85 L60.48,321.98 L60.46,323.10 L60.42,324.23 L60.33,325.35 L60.19,326.48 L59.98,327.61 L59.66,328.73 L59.26,329.86 L58.76,330.98 L58.19,332.11 L57.61,333.23 L57.04,334.36 L56.55,335.48 L56.17,336.61 L55.90,337.74 L55.76,338.86 L55.70,339.99 L55.70,341.11 L55.75,342.24 L55.89,343.36 L56.15,344.49 L56.52,345.62 L57.01,346.74 L57.57,347.87 L58.16,348.99 L58.73,350.12 L59.23,351.24 L59.65,352.37 L59.97,353.49 L60.19,354.62 L60.33,355.75 L60.41,356.87 L60.46,358.00 L60.48,359.12 L60.49,360.25 L60.50,361.37 L60.50,362.50 L60.50,362.50Z" fill="#c9f0f6" stroke="#222" stroke-width="0.5"/>
<rect x="61.20" y="336.60" width="1.30" height="8.00" fill="#f08080" stroke="none" stroke-width="0.8" fill-opacity="0.55"/>
<path d="M71.0 350.6h0.5v0.5h-0.5zM73.1 359.1h0.5v0.5h-0.5zM71.1 360.6h0.5v0.5h-0.5zM72.2 360.5h0.5v0.5h-0.5zM72.9 375.6h0.5v0.5h-0.5zM71.9 360.0h0.5v0.5h-0.5zM72.0 358.7h0.5v0.5h-0.5zM72.9 359.8h0.5v0.5h-0.5zM71.6 360.5h0.5v0.5h-0.5zM72.8 360.7h0.5v0.5h-0.5zM70.8 368.1h0.5v0.5h-0.5zM71.7 359.4h0.5v0.5h-0.5zM73.4 363.8h0.5v0.5h-0.5zM72.2 360.4h0.5v0.5h-0.5zM70.9 365.8h0.5v0.5h-0.5zM71.9 357.5h0.5v0.5h-0.5zM72.7 365.3h0.5v0.5h-0.5zM71.4 361.9h0.5v0.5h-0.5zM71.7 349.5h0.5v0.5h-0.5zM72.9 357.4h0.5v0.5h-0.5zM73.2 362.7h0.5v0.5h-0.5zM72.8 359.6h0.5v0.5h-0.5zM72.0 361.6h0.5v0.5h-0.5zM73.3 367.5h0.5v0.5h-0.5zM73.3 362.3h0.5v0.5h-0.5zM72.2 360.6h0.5v0.5h-0.5zM72.8 364.0h0.5v0.5h-0.5zM73.3 360.6h0.5v0.5h-0.5zM72.4 362.5h0.5v0.5h-0.5zM72.6 364.4h0.5v0.5h-0.5zM71.3 354.5h0.5v0.5h-0.5zM73.0 357.4h0.5v0.5h-0.5zM73.5 352.9h0.5v0.5h-0.5zM73.3 364.5h0.5v0.5h-0.5zM73.6 352.3h0.5v0.5h-0.5zM73.1 362.9h0.5v0.5h-0.5zM71.0 368.3h0.5v0.5h-0.5zM71.0 363.0h0.5v0.5h-0.5zM71.4 367.5h0.5v0.5h-0.5zM71.2 359.9h0.5v0.5h-0.5zM72.2 368.6h0.5v0.5h-0.5zM73.6 364.7h0.5v0.5h-0.5zM71.4 363.0h0.5v0.5h-0.5zM72.8 358.1h0.5v0.5h-0.5zM72.8 367.3h0.5v0.5h-0.5zM72.5 359.0h0.5v0.5h-0.5zM72.7 362.5h0.5v0.5h-0.5zM72.4 356.2h0.5v0.5h-0.5zM72.2 361.5h0.5v0.5h-0.5zM72.2 364.7h0.5v0.5h-0.5zM73.0 360.2h0.5v0.5h-0.5zM70.9 360.5h0.5v0.5h-0.5zM71.4 358.1h0.5v0.5h-0.5zM71.9 361.0h0.5v0.5h-0.5zM73.4 362.5h0.5v0.5h-0.5zM71.8 367.9h0.5v0.5h-0.5zM72.2 352.8h0.5v0.5h-0.5zM72.4 358.9h0.5v0.5h-0.5zM72.4 351.8h0.5v0.5h-0.5zM73.5 366.0h0.5v0.5h-0.5z" fill="#777" fill-opacity="0.2"/>
<path d="M70.50,350.00 L70.50,350.00 L70.50,350.65 L70.49,351.31 L70.48,351.96 L70.45,352.62 L70.39,353.27 L70.29,353.92 L70.10,354.58 L69.83,355.23 L69.44,355.88 L68.94,356.54 L68.36,357.19 L67.73,357.85 L67.13,358.50 L66.60,359.15 L66.18,359.81 L65.90,360.46 L65.75,361.12 L65.70,361.77 L65.71,362.42 L65.76,363.08 L65.90,363.73 L66.14,364.38 L66.49,365.04 L66.94,365.69 L67.46,366.35 L68.01,367.00 L68.56,367.65 L69.06,368.31 L69.49,368.96 L69.83,369.62 L70.08,370.27 L70.25,370.92 L70.36,371.58 L70.43,372.23 L70.47,372.88 L70.49,373.54 L70.49,374.19 L70.50,374.85 L70.50,375.50 L70.50,375.50Z" fill="#f2cf2a" stroke="#222" stroke-width="0.5"/>
<rect x="71.20" y="358.00" width="1.30" height="8.00" fill="#f08080" stroke="none" stroke-width="0.8" fill-opacity="0.55"/>
<text transform="translate(50.60,388.80) rotate(-45)" text-anchor="end" fill="#4a8ad2">Different subject</text>
<text transform="translate(62.60,388.80) rotate(-45)" text-anchor="end" fill="#b9dde1">Held-out scan</text>
<text transform="translate(75.30,388.50) rotate(-45)" text-anchor="end" fill="#f2dc4a">Within-sample</text>
<line x1="108.60" y1="299.30" x2="108.60" y2="381.40" stroke="#333" stroke-width="0.8"/>
<line x1="108.60" y1="381.40" x2="150.50" y2="381.40" stroke="#333" stroke-width="0.8"/>
<line x1="108.60" y1="381.40" x2="108.60" y2="384.30" stroke="#333" stroke-width="0.6"/>
<text x="104.80" y="306.30" text-anchor="end">1</text>
<line x1="108.60" y1="303.80" x2="109.60" y2="303.80" stroke="#333" stroke-width="0.5"/>
<text x="104.80" y="322.30" text-anchor="end">0.8</text>
<line x1="108.60" y1="319.80" x2="109.60" y2="319.80" stroke="#333" stroke-width="0.5"/>
<text x="104.80" y="337.40" text-anchor="end">0.6</text>
<line x1="108.60" y1="334.90" x2="109.60" y2="334.90" stroke="#333" stroke-width="0.5"/>
<text x="104.80" y="352.90" text-anchor="end">0.4</text>
<line x1="108.60" y1="350.40" x2="109.60" y2="350.40" stroke="#333" stroke-width="0.5"/>
<text x="104.80" y="368.70" text-anchor="end">0.2</text>
<line x1="108.60" y1="366.20" x2="109.60" y2="366.20" stroke="#333" stroke-width="0.5"/>
<text x="104.80" y="380.50" text-anchor="end">0</text>
<text transform="translate(89.70,338.50) rotate(-90)" text-anchor="middle">MSE</text>
<rect x="111.40" y="303.80" width="4.50" height="77.60" fill="#3a78c4" stroke="#333" stroke-width="0.5"/>
<text transform="translate(112.40,302.60) rotate(-45)" fill="#68aee0" font-size="4.6">1.00</text>
<text transform="translate(115.10,386.00) rotate(-90)" text-anchor="end" fill="#4a8fd2">Circ. shift</text>
<rect x="117.90" y="338.10" width="4.50" height="43.30" fill="#48b6e6" stroke="#333" stroke-width="0.5"/>
<text transform="translate(118.90,336.90) rotate(-45)" fill="#6cc4ec" font-size="4.6">0.56</text>
<text transform="translate(121.60,386.00) rotate(-90)" text-anchor="end" fill="#4fb5e6">Rewire</text>
<rect x="124.30" y="338.10" width="4.50" height="43.30" fill="#8ce0e6" stroke="#333" stroke-width="0.5"/>
<text transform="translate(125.30,336.90) rotate(-45)" fill="#a4e2ea" font-size="4.6">0.56</text>
<text transform="translate(128.00,386.00) rotate(-90)" text-anchor="end" fill="#b5d3d9">Reorder</text>
<rect x="130.50" y="345.30" width="4.50" height="36.10" fill="#f1f1ab" stroke="#333" stroke-width="0.5"/>
<text transform="translate(131.50,344.10) rotate(-45)" fill="#e8e8a0" font-size="4.6">0.46</text>
<text transform="translate(134.20,386.00) rotate(-90)" text-anchor="end" fill="#e4e6a6">Spin</text>
<rect x="136.80" y="347.00" width="4.50" height="34.40" fill="#f2d53c" stroke="#333" stroke-width="0.5"/>
<text transform="translate(137.80,345.80) rotate(-45)" fill="#f0d048" font-size="4.6">0.44</text>
<text transform="translate(140.50,386.00) rotate(-90)" text-anchor="end" fill="#f0d040">Min. wire</text>
<rect x="143.10" y="347.80" width="4.50" height="33.60" fill="#eab33c" stroke="#333" stroke-width="0.5"/>
<text transform="translate(144.10,346.60) rotate(-45)" fill="#efc25c" font-size="4.6">0.43</text>
<text transform="translate(146.80,386.00) rotate(-90)" text-anchor="end" fill="#ebc25a">Observed</text>
<line x1="183.70" y1="302.00" x2="183.70" y2="386.40" stroke="#333" stroke-width="0.8"/>
<text x="180.80" y="313.90" text-anchor="end">0.6</text>
<line x1="183.70" y1="311.40" x2="184.80" y2="311.40" stroke="#333" stroke-width="0.5"/>
<text x="180.80" y="330.50" text-anchor="end">0.4</text>
<line x1="183.70" y1="328.00" x2="184.80" y2="328.00" stroke="#333" stroke-width="0.5"/>
<text x="180.80" y="347.10" text-anchor="end">0.2</text>
<line x1="183.70" y1="344.60" x2="184.80" y2="344.60" stroke="#333" stroke-width="0.5"/>
<text x="180.80" y="363.70" text-anchor="end">0</text>
<line x1="183.70" y1="361.20" x2="184.80" y2="361.20" stroke="#333" stroke-width="0.5"/>
<text x="180.80" y="380.30" text-anchor="end">-0.2</text>
<line x1="183.70" y1="377.80" x2="184.80" y2="377.80" stroke="#333" stroke-width="0.5"/>
<text x="184.60" y="395.20" text-anchor="middle">0</text>
<text x="208.80" y="395.20" text-anchor="middle">50</text>
<text x="233.10" y="395.20" text-anchor="middle">100</text>
<text x="256.20" y="395.20" text-anchor="middle">150</text>
<line x1="208.30" y1="384.80" x2="208.30" y2="386.40" stroke="#555" stroke-width="0.5"/>
<line x1="232.00" y1="384.80" x2="232.00" y2="386.40" stroke="#555" stroke-width="0.5"/>
<line x1="255.70" y1="384.80" x2="255.70" y2="386.40" stroke="#555" stroke-width="0.5"/>
<text x="227.60" y="403.60" text-anchor="middle">Distance (mm)</text>
<text transform="translate(165.80,343.70) rotate(-90)" text-anchor="middle">Reg. weights</text>
<path d="m188 348.2h.6m-.5 1.7h.6m-.6-7.7h.6m-.5 11.7h.6m-.6-7.1h.6m-.2 9h.6m-.5 1h.6m-.6-6.6h.6m-.5 2.4h.6m-.5-.8h.6m-.6 2.5h.6m-.6-4.1h.6m-.5-3.1h.6m-.6 3.4h.6m-.6-2.9h.6m-.6-2.3h.6m-.5 1.3h.6m-.6 11.6h.6m-.6-12.9h.6m-.5 9.2h.6m-.5 4.7h.6m-.6 .6h.6m-.5-1.6h.6m-.5-12.1h.6m-.6 12.8h.6m-.6-4h.6m-.6 8.8h.6m-.5-6.6h.6m-.6-12.1h.6m-.6 18.7h.6m-.6-8.8h.6m-.5-5.4h.6m-.6 5.1h.6m-.6 .2h.6m-.6 6.9h.6m-.6-12.4h.6m-.5 8.4h.6m-.6 0h.6m-.6-3.1h.6m-.6 2h.6m-.5-3.8h.6m-.6 .4h.6m-.6 9h.6m-.6-8.9h.6m-.6-2.3h.6m-.5 12.6h.6m-.6-9.9h.6m-.6 1.9h.6m-.6-9.4h.6m-.6-4.7h.6m-.6 5.4h.6m-.5 1.8h.6m-.6 9.4h.6m-.6-14.2h.6m-.6 17.7h.6m-.5-1.1h.6m-.6 5.9h.6m-.6-20.3h.6m-.6 8.4h.6m-.6 .3h.6m-.6-4.4h.6m-.6 9.1h.6m-.6 1.4h.6m-.6-6.8h.6m-.6 1.2h.6m-.5 11.4h.6m-.6-6.5h.6m-.6-1.4h.6m-.6 3.1h.6m-.6-5.7h.6m-.5-2.2h.6m-.6 5.9h.6m-.5 2.5h.6m-.6-.9h.6m-.6-4.1h.6m-.6-9.2h.6m-.6 5h.6m-.5 5.7h.6m-.6-2.1h.6m-.6-8.5h.6m-.6 2.1h.6m-.6 12.9h.6m-.6-16.8h.6m-.5 7.2h.6m-.6 .6h.6m-.6-8.6h.6m-.6 26.5h.6m-.6-14.5h.6m-.5 8h.6m-.6-17.3h.6m-.6 4h.6m-.6 .4h.6m-.6 9.4h.6m-.5-8.8h.6m-.6 2.9h.6m-.6-6.3h.6m-.6-1.2h.6m-.5 1.5h.6m-.6 1h.6m-.6-6.8h.6m-.6 .9h.6m-.6 5.4h.6m-.6 6.6h.6m-.6 5.6h.6m-.6-2.4h.6m-.5-1.1h.6m-.6 2.7h.6m-.6-9.7h.6m-.6-2.1h.6m-.6 2.8h.6m-.6 2.5h.6m-.6 7.6h.6m-.6-9.2h.6m-.5-.5h.6m-.6-2h.6m-.6 4h.6m-.6 .8h.6m-.6 0h.6m-.6-2.7h.6m-.6 3.5h.6m-.6-.6h.6m-.6-6.8h.6m-.6-2h.6m-.6 5.7h.6m-.5 5.4h.6m-.6-10.9h.6m-.6 5.7h.6m-.6 .4h.6m-.6 2.3h.6m-.6 3.9h.6m-.5-1.1h.6m-.6 4.5h.6m-.6-4.2h.6m-.6 .6h.6m-.6-5.1h.6m-.6 1.4h.6m-.6 10.5h.6m-.6-13.7h.6m-.6-.8h.6m-.6 .1h.6m-.5-8h.6m-.6 12.8h.6m-.6 0h.6m-.6-8.2h.6m-.6 4.9h.6m-.6 .7h.6m-.5 4.4h.6m-.6-4h.6m-.6 4h.6m-.6-5.3h.6m-.6 5.2h.6m-.6-2.2h.6m-.6 .8h.6m-.5-1.9h.6m-.6-5.5h.6m-.6 2.9h.6m-.6 5.6h.6m-.6 2h.6m-.6 1.9h.6m-.6-5.1h.6m-.5-3.7h.6m-.6 .4h.6m-.6 3.3h.6m-.6-5.7h.6m-.6-1h.6m-.6 6.5h.6m-.6-11.1h.6m-.6 12h.6m-.6-3.4h.6m-.5-2.9h.6m-.6 7.3h.6m-.6-9.4h.6m-.6 2.7h.6m-.6 15.6h.6m-.6-13.4h.6m-.6 5.1h.6m-.6 4.5h.6m-.6-14.7h.6m-.6 1.2h.6m-.5-2.4h.6m-.6-1.3h.6m-.6 13.8h.6m-.5-1.6h.6m-.6-2.4h.6m-.6-2h.6m-.6-3.2h.6m-.5 4.1h.6m-.6-2.4h.6m-.6 1.7h.6m-.6 1h.6m-.6 3h.6m-.6 .7h.6m-.6 1.4h.6m-.6 .3h.6m-.6-10.3h.6m-.6 6.2h.6m-.6 1.4h.6m-.5 1.3h.6m-.6 2.4h.6m-.6-10.9h.6m-.6 8.2h.6m-.6-10.2h.6m-.6 10.4h.6m-.6-.1h.6m-.6-8.6h.6m-.5 .6h.6m-.6 5.3h.6m-.6-4.7h.6m-.6 3h.6m-.6-2h.6m-.6 7.4h.6m-.6-3.5h.6m-.6 6.4h.6m-.6-2.3h.6m-.5-13.3h.6m-.6 8.8h.6m-.6 4h.6m-.6-.4h.6m-.6-9.9h.6m-.6 3.4h.6m-.5-1h.6m-.6 5.5h.6m-.6 1.7h.6m-.6 6.9h.6m-.6-10.9h.6m-.6 6.9h.6m-.6-3.2h.6m-.6-4.1h.6m-.6 0h.6m-.6-4.6h.6m-.6 5.9h.6m-.6-3.5h.6m-.5-3.9h.6m-.6 .1h.6m-.6 4.1h.6m-.6 .4h.6m-.6 5.4h.6m-.5-5h.6m-.6-.2h.6m-.6 3.1h.6m-.6-4.1h.6m-.6 6.4h.6m-.6 2.6h.6m-.6-3h.6m-.6-4.4h.6m-.6-1.7h.6m-.5 0h.6m-.6-2.2h.6m-.6 8.3h.6m-.6-2.1h.6m-.6-5.8h.6m-.6-2.2h.6m-.6 6.7h.6m-.6 1.3h.6m-.5 2.7h.6m-.6-10.1h.6m-.6 4.1h.6m-.6 7.3h.6m-.6-6h.6m-.6 3.5h.6m-.6-2.1h.6m-.6-2.9h.6m-.6 10.1h.6m-.5-7.6h.6m-.6 7.1h.6m-.6-9.8h.6m-.6 4.5h.6m-.6 .5h.6m-.5-2.5h.6m-.6-4.5h.6m-.6 4.8h.6m-.6 1.4h.6m-.6-4.2h.6m-.6 3h.6m-.5-4.4h.6m-.6 14.2h.6m-.6-6.8h.6m-.6-1.9h.6m-.6-1.7h.6m-.6-4.5h.6m-.6 5.1h.6m-.6-9.2h.6m-.6 8.1h.6m-.6-2h.6m-.5 10h.6m-.6-10.9h.6m-.6 12.4h.6m-.6-8.9h.6m-.5-4.3h.6m-.6 4.6h.6m-.6 1.3h.6m-.6-1.1h.6m-.5 3.4h.6m-.6-.7h.6m-.6-6h.6m-.6-2.8h.6m-.6 2.5h.6m-.6-3.3h.6m-.6 14.7h.6m-.5-7.5h.6m-.6 .2h.6m-.6-1.9h.6m-.6 4.4h.6m-.6-.6h.6m-.6-5.1h.6m-.6 .7h.6m-.6-.4h.6m-.6-2.9h.6m-.6 10.1h.6m-.6-1.6h.6m-.5-.2h.6m-.6-4.3h.6m-.6 5.9h.6m-.6-3.9h.6m-.6-1.6h.6m-.6 1.2h.6m-.6 2.8h.6m-.6 1.9h.6m-.6-3.5h.6m-.6-2.4h.6m-.6 1.9h.6m-.5 2.1h.6m-.6 .2h.6m-.6-3.7h.6m-.6 .7h.6m-.6-1.6h.6m-.6 9.9h.6m-.5-6.8h.6m-.6-3.6h.6m-.6 5h.6m-.6-.7h.6m-.6-1.8h.6m-.6-3.8h.6m-.5-5.6h.6m-.6 11.6h.6m-.6-7.3h.6m-.6 4.6h.6m-.6-4.1h.6m-.6 6.6h.6m-.5 .5h.6m-.6-.4h.6m-.6-2.6h.6m-.6 5.1h.6m-.6 1.2h.6m-.6-7.8h.6m-.6 1h.6m-.6-.9h.6m-.6 .8h.6m-.6-2.6h.6m-.6 4.1h.6m-.6-2.7h.6m-.5 1.6h.6m-.6 1h.6m-.6 2.1h.6m-.6-2.9h.6m-.6 3.8h.6m-.6 .1h.6m-.6-5.9h.6m-.5 6.2h.6m-.6-5h.6m-.6 2.6h.6m-.6-1.6h.6m-.6 .8h.6m-.6-1.7h.6m-.6 4.7h.6m-.6 3.9h.6m-.6-6.1h.6m-.6-1.3h.6m-.5-4.5h.6m-.6-.8h.6m-.6 2.6h.6m-.6 2.4h.6m-.6-3h.6m-.6 4h.6m-.6-2.8h.6m-.6 5.3h.6m-.6-1.9h.6m-.6 .9h.6m-.5-5.5h.6m-.6 9.3h.6m-.6-2.9h.6m-.6 4.2h.6m-.6-10.8h.6m-.6-.4h.6m-.6 6.3h.6m-.6-4.2h.6m-.6 5.2h.6m-.6-6.3h.6m-.5 .7h.6m-.6 1.4h.6m-.6 .6h.6m-.6-.3h.6m-.6-.5h.6m-.6 .5h.6m-.6-.2h.6m-.5-2.2h.6m-.6 4.8h.6m-.6-4.9h.6m-.6 5h.6m-.6-.4h.6m-.5 .4h.6m-.6-5h.6m-.6 6.4h.6m-.6-.2h.6m-.6-6.8h.6m-.6 3.1h.6m-.6 4.2h.6m-.6-3.5h.6m-.6 2.6h.6m-.5-2.9h.6m-.6-1.8h.6m-.6-5.1h.6m-.6 5.9h.6m-.6 1.6h.6m-.6-1.1h.6m-.6-4.2h.6m-.6 5h.6m-.6-.7h.6m-.5-.1h.6m-.6-2.7h.6m-.6 5.5h.6m-.6-.4h.6m-.6 1.9h.6m-.6-8.6h.6m-.6 6.1h.6m-.6-2.8h.6m-.5 7.7h.6m-.6-6.7h.6m-.6 4.6h.6m-.6-.2h.6m-.6-6h.6m-.6 1h.6m-.6 7.1h.6m-.6-8.5h.6m-.6 5.5h.6m-.6-4.5h.6m-.6-2.3h.6m-.5 5.6h.6m-.6-4.4h.6m-.6 6.5h.6m-.6-.9h.6m-.6-2.3h.6m-.5-1.2h.6m-.6-1.4h.6m-.6 1.3h.6m-.6 4.2h.6m-.6-5.9h.6m-.6 10.5h.6m-.6-8.5h.6m-.6 10.3h.6m-.6-11.4h.6m-.6-2.1h.6m-.6 3.2h.6m-.6 3.8h.6m-.5 2.7h.6m-.6-10.2h.6m-.6 7.9h.6m-.6-.4h.6m-.6-4.3h.6m-.6-.5h.6m-.6 .1h.6m-.6 1.8h.6m-.6 .2h.6m-.6-1.4h.6m-.6 1h.6m-.5 .3h.6m-.6 .4h.6m-.6-2.5h.6m-.6-3.7h.6m-.6 6h.6m-.6 3.9h.6m-.6-3.8h.6m-.6-2.4h.6m-.6 6h.6m-.5-8.3h.6m-.6-.6h.6m-.6-1.4h.6m-.6 3.5h.6m-.6 6.6h.6m-.6-3.2h.6m-.5-3h.6m-.6 .9h.6m-.6-.4h.6m-.6 6.9h.6m-.6-7.6h.6m-.6 3.9h.6m-.6 1.9h.6m-.6-7.5h.6m-.6 .9h.6m-.6-1.3h.6m-.5 4.2h.6m-.6-.2h.6m-.6 4.9h.6m-.6-6.4h.6m-.6 1h.6m-.6 0h.6m-.6 2h.6m-.6-2.3h.6m-.6 3.7h.6m-.5-6.3h.6m-.6 11.5h.6m-.6-4.7h.6m-.6-1.1h.6m-.6 .3h.6m-.6-2h.6m-.6 1h.6m-.5 .9h.6m-.6 2h.6m-.6-3h.6m-.6-5.3h.6m-.6 7.5h.6m-.6-3.6h.6m-.6-.5h.6m-.6-.7h.6m-.6 8.9h.6m-.6-9.8h.6m-.6 1.3h.6m-.6 .2h.6m-.5-4.7h.6m-.6 4.5h.6m-.6-1.7h.6m-.6 2.4h.6m-.6-1.8h.6m-.6 2.6h.6m-.5 .1h.6m-.6-2.5h.6m-.6-2.8h.6m-.6 6.6h.6m-.5-3.3h.6m-.6 .7h.6m-.6 .3h.6m-.6-4.2h.6m-.6 5.3h.6m-.6 3.1h.6m-.6-4.7h.6m-.5-1.7h.6m-.6 2.7h.6m-.6-1.2h.6m-.6-2h.6m-.6 .1h.6m-.6-.2h.6m-.6 5h.6m-.5-4.4h.6m-.6 .8h.6m-.6 8.8h.6m-.6-5.7h.6m-.6-1.5h.6m-.6 1.9h.6m-.6-3.3h.6m-.6 6.2h.6m-.6-6.4h.6m-.6 1.2h.6m-.6-5.1h.6m-.5 10.6h.6m-.6-5.1h.6m-.6 4.6h.6m-.6-2.5h.6m-.6-.7h.6m-.6 1h.6m-.6 .1h.6m-.6 4.2h.6m-.6-6.7h.6m-.5-1.1h.6m-.6-.4h.6m-.6 4.3h.6m-.6-7.5h.6m-.6 5.1h.6m-.6 .2h.6m-.6-3.6h.6m-.6 1.8h.6m-.6 4.3h.6m-.6 0h.6m-.6 2.2h.6m-.6-7.8h.6m-.6 3h.6m-.6 3.2h.6m-.5-4.6h.6m-.6 3.4h.6m-.6 .9h.6m-.6 1.4h.6m-.6-5.8h.6m-.6 1.9h.6m-.6-2.5h.6m-.5-.4h.6m-.6 3.5h.6m-.6 1.8h.6m-.6-4h.6m-.6 .7h.6m-.5-1h.6m-.6-2.9h.6m-.6 10.4h.6m-.6-5.6h.6m-.6 3.7h.6m-.6-4.1h.6m-.6-1.9h.6m-.6-3.4h.6m-.6 2.7h.6m-.6 4.5h.6m-.6-6.3h.6m-.6 3.2h.6m-.6 1.1h.6m-.6 .7h.6m-.5-4.4h.6m-.6 8.2h.6m-.6-4.2h.6m-.6 1.7h.6m-.6-2.8h.6m-.6 9.2h.6m-.6-4.8h.6m-.6-4.1h.6m-.6 2.9h.6m-.5-5h.6m-.6 1.4h.6m-.6 3.6h.6m-.6-5.3h.6m-.6 6h.6m-.6-4.9h.6m-.6 7.1h.6m-.6-7.5h.6m-.5 .7h.6m-.6-.1h.6m-.6 9h.6m-.6-4h.6m-.6-5.2h.6m-.6 10.6h.6m-.5-11.9h.6m-.6 3.7h.6m-.6-2.5h.6m-.6 4.5h.6m-.6 2.2h.6m-.6-3.9h.6m-.6-1.7h.6m-.6-1.2h.6m-.6 1.6h.6m-.6-.5h.6m-.6 7.8h.6m-.5-10h.6m-.6 .8h.6m-.6 2.9h.6m-.6-1.6h.6m-.6 .8h.6m-.5-.7h.6m-.6 6.1h.6m-.6-2.9h.6m-.6 4.6h.6m-.6-3.6h.6m-.6 4.2h.6m-.6-6.1h.6m-.6 1h.6m-.5 2h.6m-.6-5.2h.6m-.6 1.2h.6m-.6-1.3h.6m-.6 2.4h.6m-.6-3.8h.6m-.6 4h.6m-.6-2.4h.6m-.6 3.1h.6m-.6-.6h.6m-.6-3.2h.6m-.6 10.3h.6m-.6-5.3h.6m-.5-2.3h.6m-.6-7.1h.6m-.6 8.4h.6m-.6 1.1h.6m-.6-2.8h.6m-.5-4.4h.6m-.6-1.4h.6m-.6 6.7h.6m-.6-4.8h.6m-.6-.2h.6m-.6 4.7h.6m-.6-.8h.6m-.6 2.5h.6m-.6 2.1h.6m-.5-6h.6m-.6 2h.6m-.6 .3h.6m-.6-1.9h.6m-.6-2.3h.6m-.6 6h.6m-.6-5.7h.6m-.6 1.5h.6m-.6-1.9h.6m-.6 6.4h.6m-.6-2.8h.6m-.5-.7h.6m-.6 .6h.6m-.6 3h.6m-.6-2.9h.6m-.6-2.7h.6m-.6 5h.6m-.5-4.9h.6m-.6 5.4h.6m-.6-6.5h.6m-.6 4.4h.6m-.6-3.1h.6m-.6 5.8h.6m-.6-4h.6m-.6 3.3h.6m-.6-4.8h.6m-.6 1.2h.6m-.6 2h.6m-.6-1.2h.6m-.6 .9h.6m-.6 1.9h.6m-.6-4.5h.6m-.5 4h.6m-.6-.1h.6m-.6 2.2h.6m-.6-7.4h.6m-.6 2.1h.6m-.6-.5h.6m-.6 1.2h.6m-.6-4.5h.6m-.6 3h.6m-.6 3.1h.6m-.6-2.7h.6m-.6-1h.6m-.6-.8h.6m-.5 1h.6m-.6-.4h.6m-.6 5.4h.6m-.6-3.6h.6m-.6 1.9h.6m-.6-5.2h.6m-.6 3.3h.6m-.6-3.5h.6m-.6 2.4h.6m-.6 .2h.6m-.5 6h.6m-.6-3.7h.6m-.6 .1h.6m-.6-5.1h.6m-.6-1.5h.6m-.6 7.6h.6m-.6-2.4h.6m-.6 3.1h.6m-.6-1.8h.6m-.6 .3h.6m-.6 3.2h.6m-.5-2.5h.6m-.6-2.9h.6m-.6 3.7h.6m-.6-8.1h.6m-.6 3.1h.6m-.6 2.2h.6m-.6-1.1h.6m-.6-2.3h.6m-.6 3.4h.6m-.6-3.8h.6m-.6 2.6h.6m-.6 3.8h.6m-.6-7.7h.6m-.6 4.7h.6m-.6-1.1h.6m-.5 7.2h.6m-.6-9.7h.6m-.6 3h.6m-.6 4.8h.6m-.6-2.1h.6m-.6-5.3h.6m-.6 5.8h.6m-.6-.2h.6m-.6 1.3h.6m-.6-5.2h.6m-.6 3.7h.6m-.6-2h.6m-.6 1.5h.6m-.6-5.7h.6m-.5 4.5h.6m-.6 1h.6m-.6-.2h.6m-.6 1.1h.6m-.6 .9h.6m-.6-.6h.6m-.6 1.2h.6m-.6-2h.6m-.6 .5h.6m-.6-1.1h.6m-.6-3h.6m-.6-1.8h.6m-.5 6.6h.6m-.6-6.8h.6m-.6 1.9h.6m-.6 1.5h.6m-.6-.8h.6m-.6-.7h.6m-.6 1h.6m-.6-1.8h.6m-.6 .9h.6m-.6 3h.6m-.6 1.3h.6m-.6-1.6h.6m-.5-.1h.6m-.6 .6h.6m-.6 2.1h.6m-.6-3.3h.6m-.6 1.4h.6m-.6-5.5h.6m-.6 1.5h.6m-.6 2.4h.6m-.6-3.7h.6m-.6 1.5h.6m-.6 1.2h.6m-.6 0h.6m-.6 .9h.6m-.6 1.1h.6m-.6 2.2h.6m-.5-1.1h.6m-.6-4.1h.6m-.6 1.9h.6m-.6-1.2h.6m-.6 1.3h.6m-.5 1h.6m-.6 2.3h.6m-.6-.2h.6m-.6-3.5h.6m-.6 1h.6m-.6 1.1h.6m-.6 0h.6m-.6-5.5h.6m-.5 6.4h.6m-.6-2.3h.6m-.6 2.3h.6m-.6-.9h.6m-.6 .4h.6m-.6-5h.6m-.6 6.5h.6m-.6-1.7h.6m-.6 2.1h.6m-.6-3.4h.6m-.6-2.5h.6m-.5 2.1h.6m-.6-2.4h.6m-.6 4h.6m-.6-8.5h.6m-.5 7.9h.6m-.6 2.8h.6m-.6-4.3h.6m-.6 7.2h.6m-.6-.6h.6m-.6-4.8h.6m-.5 2h.6m-.6-.8h.6m-.6-4.5h.6m-.6 3.8h.6m-.6 1.2h.6m-.6 .5h.6m-.6-5.1h.6m-.5 2.2h.6m-.6 3.4h.6m-.6-3.1h.6m-.6-.3h.6m-.6-.2h.6m-.6 0h.6m-.6 .3h.6m-.6 1.3h.6m-.5-.9h.6m-.6-3.2h.6m-.6 5.4h.6m-.6-.1h.6m-.6-3.9h.6m-.6-3.5h.6m-.5 4.2h.6m-.6 .1h.6m-.6 2.7h.6m-.6-2h.6m-.6 3.7h.6m-.6-6.7h.6m-.6 7h.6m-.5-6.5h.6m-.6 .7h.6m-.6 4.4h.6m-.6-4.6h.6m-.6 .3h.6m-.6-.9h.6m-.6 3.2h.6m-.6-1.5h.6m-.6-4.1h.6m-.6 1.6h.6m-.6 2.8h.6m-.6 3.3h.6m-.6-11h.6m-.6 8.1h.6m-.5 4.5h.6m-.6-8.8h.6m-.6 2.4h.6m-.6 1.7h.6m-.6 3.1h.6m-.6-1.2h.6m-.6-4.5h.6m-.6-.7h.6m-.6 4.5h.6m-.6-3.3h.6m-.6 4.7h.6m-.6 .7h.6m-.6-4.9h.6m-.6-.1h.6m-.5 2.9h.6m-.6 1h.6m-.6-1.1h.6m-.6-2.8h.6m-.6 4.6h.6m-.6-2h.6m-.6 .1h.6m-.6-1.5h.6m-.6 1.3h.6m-.6-4.8h.6m-.5 6.5h.6m-.6-1.1h.6m-.6-1.7h.6m-.6 .8h.6m-.6-.1h.6m-.6 1.3h.6m-.6-2h.6m-.6-1.1h.6m-.6-2.3h.6m-.6 2.5h.6m-.5 4.6h.6m-.6-7.8h.6m-.6 8.2h.6m-.6-9.5h.6m-.6 4.8h.6m-.6-.9h.6m-.6 4.5h.6m-.6-4h.6m-.6-3.9h.6m-.6 8.5h.6m-.5-4.4h.6m-.6-.1h.6m-.6 .6h.6m-.6 .4h.6m-.6-3.8h.6m-.6 4.8h.6m-.6 1.1h.6m-.6-4.5h.6m-.6 3.5h.6m-.5 4.7h.6m-.6-6.7h.6m-.6 2.5h.6m-.6-6.1h.6m-.6 3.1h.6m-.6-1.2h.6m-.6 2.3h.6m-.6-4.2h.6m-.6-.6h.6m-.5 6.7h.6m-.6-1.9h.6m-.6-1.7h.6m-.6 3.8h.6m-.6-2.9h.6m-.6-.1h.6m-.6 5.1h.6m-.6-1.9h.6m-.6 .3h.6m-.6-4.7h.6m-.6 10.2h.6m-.5-11h.6m-.6 2.7h.6m-.6 1.6h.6m-.6-1.2h.6m-.6 0h.6m-.6-1.9h.6m-.6 3.4h.6m-.6 3.8h.6m-.5-7h.6m-.6-1.8h.6m-.6 7.1h.6m-.6-7.8h.6m-.5 3.2h.6m-.6 1.9h.6m-.6-.4h.6m-.6-1.3h.6m-.6 1.2h.6m-.6-1h.6m-.6 3h.6m-.6-.7h.6m-.6-4.4h.6m-.6 3.1h.6m-.6 1.9h.6m-.6-2.5h.6m-.6-.7h.6m-.5 .6h.6m-.6 .3h.6m-.6-2.5h.6m-.6 3.4h.6m-.6 .5h.6m-.6-2.3h.6m-.6-.9h.6m-.6 1.4h.6m-.6-.3h.6m-.6 1.1h.6m-.5-.8h.6m-.6 .5h.6m-.6 .6h.6m-.6-3.9h.6m-.6 2.6h.6m-.6 3.2h.6m-.6-1.2h.6m-.6-2.8h.6m-.5 1.8h.6m-.6-3.4h.6m-.6 7.3h.6m-.6-2.7h.6m-.6-.5h.6m-.6-5.5h.6m-.6 7.4h.6m-.6-2.2h.6m-.6-2.5h.6m-.6 5h.6m-.6-2.9h.6m-.6 1.9h.6m-.6-2.4h.6m-.5 1.7h.6m-.6 .8h.6m-.6-7.6h.6m-.6 3h.6m-.6 2.3h.6m-.6 .9h.6m-.5 3.1h.6m-.6-5.1h.6m-.6 1.9h.6m-.6 .1h.6m-.6 2.5h.6m-.6-4.8h.6m-.6 3.9h.6m-.6-2.2h.6m-.6 1.1h.6m-.6-.4h.6m-.5 .6h.6m-.6-4h.6m-.6 5.5h.6m-.6-3.4h.6m-.6-.3h.6m-.6-1h.6m-.6 6.4h.6m-.6-5.9h.6m-.6 0h.6m-.6-.8h.6m-.6 1.5h.6m-.6 .6h.6m-.5-2h.6m-.6 4h.6m-.6-1.6h.6m-.6-.7h.6m-.6-.5h.6m-.6-.3h.6m-.6 3.6h.6m-.5 2.4h.6m-.6-6.5h.6m-.6 3.6h.6m-.6-.8h.6m-.6-2.6h.6m-.6 .5h.6m-.6-1.7h.6m-.5 5.8h.6m-.6-1.6h.6m-.6-3.3h.6m-.6-.6h.6m-.6 .8h.6m-.6 4.1h.6m-.6 2.4h.6m-.5-2.7h.6m-.6-5.4h.6m-.6 1.4h.6m-.6 3.3h.6m-.6 1.9h.6m-.5-1.2h.6m-.6-2.8h.6m-.6-3.4h.6m-.6 5.2h.6m-.6 .9h.6m-.5-1.7h.6m-.6 1.3h.6m-.6 .2h.6m-.6-5h.6m-.6 1.1h.6m-.6-1.7h.6m-.6 2.2h.6m-.6 4.3h.6m-.6 .9h.6m-.6-.8h.6m-.5-5.8h.6m-.6 5.8h.6m-.6-3.6h.6m-.6 3.6h.6m-.6-1.2h.6m-.5-.3h.6m-.6-3.7h.6m-.6 2.2h.6m-.6-2h.6m-.5 6.5h.6m-.6-1h.6m-.6-4.5h.6m-.6-1.4h.6m-.6 .4h.6m-.6 4.9h.6m-.6 1.1h.6m-.6-4.8h.6m-.6-4.2h.6m-.6 3.1h.6m-.5-2.5h.6m-.6 7.8h.6m-.6-3.3h.6m-.6 1h.6m-.6-2.2h.6m-.6 .3h.6m-.6 .7h.6m-.6-3.4h.6m-.6 3h.6m-.6 .3h.6m-.6-2h.6m-.6 3h.6m-.5 1.5h.6m-.6 .2h.6m-.6-1.2h.6m-.6 1h.6m-.6-.5h.6m-.6 1.3h.6m-.6 .4h.6m-.6-3.4h.6m-.5 2.9h.6m-.6 0h.6m-.6-3.7h.6m-.6-1.8h.6m-.6 2.2h.6m-.5 2.7h.6m-.6 1.3h.6m-.6-4.9h.6m-.6 1.5h.6m-.6 2.2h.6m-.6-.5h.6m-.6 .5h.6m-.6-1.9h.6m-.5 1.2h.6m-.6-1.9h.6m-.6-.8h.6m-.6 2.7h.6m-.6 1.4h.6m-.6-4h.6m-.6 .8h.6m-.6 1.9h.6m-.6-1.5h.6m-.5 .4h.6m-.6-.5h.6m-.6 3h.6m-.6-6h.6m-.6 3.3h.6m-.6 4h.6m-.6-4.9h.6m-.5 2.8h.6m-.6-1.5h.6m-.6-3.4h.6m-.6 4.5h.6m-.6-.2h.6m-.6-3.4h.6m-.6 2.2h.6m-.6-2.8h.6m-.6 2.5h.6m-.6-2.6h.6m-.6 .6h.6m-.5-.2h.6m-.6 .3h.6m-.6 3h.6m-.6-1h.6m-.6 3.8h.6m-.6-5.6h.6m-.6 3h.6m-.5-3.5h.6m-.6 7.9h.6m-.6-6.5h.6m-.6 3.2h.6m-.6-6.8h.6m-.6 3.1h.6m-.6 1h.6m-.6-1.7h.6m-.6 2.1h.6m-.6-4.4h.6m-.6 2.7h.6m-.5 3.2h.6m-.6-.6h.6m-.6-.7h.6m-.6-3.4h.6m-.5 4.3h.6m-.6 .9h.6m-.6-4.3h.6m-.6 1.8h.6m-.5-4.2h.6m-.6 4.8h.6m-.6 .8h.6m-.6 2.2h.6m-.6 .8h.6m-.6-3.2h.6m-.6-.9h.6m-.6-2.9h.6m-.6 2.1h.6m-.5 2.6h.6m-.6 1h.6m-.6-4h.6m-.6 .7h.6m-.6 .1h.6m-.6 4.9h.6m-.6-2.9h.6m-.6 3.9h.6m-.5-2h.6m-.6-8.2h.6m-.6 5.8h.6m-.6 .5h.6m-.6-.6h.6m-.6-1.4h.6m-.6-2.7h.6m-.6 2.6h.6m-.5 .3h.6m-.6 .2h.6m-.6-1.3h.6m-.6 1.1h.6m-.6 4h.6m-.6-3.7h.6m-.6 2.9h.6m-.6-1.6h.6m-.6 1h.6m-.6-.7h.6m-.5-1.4h.6m-.6 .9h.6m-.6 2.1h.6m-.6-1.4h.6m-.6-1h.6m-.6-3.1h.6m-.6 .8h.6m-.6-3.9h.6m-.5 4.3h.6m-.6 .9h.6m-.6-.3h.6m-.6-2h.6m-.5 4.1h.6m-.6-1.5h.6m-.6 1.1h.6m-.6-.6h.6m-.6-.3h.6m-.6 1.4h.6m-.6-2.2h.6m-.5-.6h.6m-.6 5.2h.6m-.6-2.1h.6m-.6 1h.6m-.6-3.7h.6m-.6 3.1h.6m-.6-1.1h.6m-.5-4h.6m-.6 6.8h.6m-.6-3.9h.6m-.6 4.7h.6m-.6-5.3h.6m-.6 2h.6m-.6-3.3h.6m-.6 1.2h.6m-.5-.8h.6m-.6 4.4h.6m-.6 .2h.6m-.6-3.8h.6m-.6 5.6h.6m-.6-7.9h.6m-.6 3.9h.6m-.6-3.9h.6m-.6 3.3h.6m-.6-3h.6m-.6 3.9h.6m-.5 .6h.6m-.6-.3h.6m-.6 .5h.6m-.6-1.6h.6m-.6-3.3h.6m-.6 .2h.6m-.5-.2h.6m-.6 5.8h.6m-.6-4.7h.6m-.6 1.8h.6m-.6 .5h.6m-.6-.7h.6m-.6-1h.6m-.6-1.9h.6m-.5 1.3h.6m-.6 .6h.6m-.6 .3h.6m-.5-.8h.6m-.6 1.8h.6m-.6 4.6h.6m-.6-3.4h.6m-.6 .5h.6m-.6-3.9h.6m-.6 .3h.6m-.5 1h.6m-.6 3.5h.6m-.6 1.2h.6m-.6-6h.6m-.5 2.8h.6m-.6-5.1h.6m-.6 6.2h.6m-.6-1.2h.6m-.6 2.8h.6m-.6-7h.6m-.6 3.9h.6m-.6-1.4h.6m-.6 3.6h.6m-.6-3.8h.6m-.5 1.8h.6m-.6 .8h.6m-.6-3.7h.6m-.6 .4h.6m-.6-.4h.6m-.6 4.2h.6m-.5 0h.6m-.6-2.3h.6m-.6 2h.6m-.6-3.3h.6m-.6 2.2h.6m-.6-.3h.6m-.6 2.4h.6m-.5-2.5h.6m-.6-1h.6m-.6 .2h.6m-.6-1.3h.6m-.6 4.5h.6m-.6-2.2h.6m-.6-3.6h.6m-.6 4.2h.6m-.5-4.5h.6m-.6 6.6h.6m-.6-.8h.6m-.6-4.4h.6m-.6 .5h.6m-.6 2h.6m-.6 1.4h.6m-.6-1.9h.6m-.6-4.2h.6m-.6 4.5h.6m-.5-2.8h.6m-.6 .4h.6m-.6 3.5h.6m-.6-.6h.6m-.6 2h.6m-.6 .3h.6m-.6-2.9h.6m-.5 .9h.6m-.6-1.5h.6m-.6 2.6h.6m-.6-2.4h.6m-.6 3.3h.6m-.6 2.9h.6m-.6-9.2h.6m-.6 4h.6m-.5 .3h.6m-.6-3.4h.6m-.6 2.6h.6m-.6 0h.6m-.6-.8h.6m-.6-2.1h.6m-.6 2.5h.6m-.6-.8h.6m-.6 2.2h.6m-.6 1.1h.6m-.6-3h.6m-.5-.3h.6m-.6 1.6h.6m-.6 .1h.6m-.6-.6h.6m-.6-4.1h.6m-.6 3.3h.6m-.6-1.7h.6m-.6 1.4h.6m-.5-.2h.6m-.6-.6h.6m-.6 6.7h.6m-.6-2h.6m-.6-5.2h.6m-.6 3.1h.6m-.6-.9h.6m-.6 1.2h.6m-.6-2.5h.6m-.6 .3h.6m-.6 1.3h.6m-.6-.9h.6m-.5-.5h.6m-.6 2.3h.6m-.6 1.5h.6m-.6-4.2h.6m-.6 2.1h.6m-.6-1.5h.6m-.6-2.1h.6m-.6 4.1h.6m-.6-.5h.6m-.6-3.9h.6m-.6 4.9h.6m-.6-3.9h.6m-.6 5.1h.6m-.5-3h.6m-.6 3.5h.6m-.6-2.9h.6m-.6-1.6h.6m-.6 3.3h.6m-.6-1.9h.6m-.6 3.3h.6m-.6-5.3h.6m-.5 1.5h.6m-.6 2.3h.6m-.6-3.4h.6m-.6 3.9h.6m-.6 2.6h.6m-.6-4.4h.6m-.6-3.5h.6m-.5 6.9h.6m-.6-5.9h.6m-.6-3.3h.6m-.6 3.1h.6m-.6 5.6h.6m-.6-2.5h.6m-.6-2.9h.6m-.6 .7h.6m-.5 2h.6m-.6 1.2h.6m-.6-1.8h.6m-.6 1.3h.6m-.6-1.7h.6m-.6-.6h.6m-.6 .7h.6m-.6-.2h.6m-.5-.8h.6m-.6 2.8h.6m-.6 2.5h.6m-.5-2.6h.6m-.6-.1h.6m-.6-1.4h.6m-.6 2.4h.6m-.6-1.2h.6m-.6-2.9h.6m-.6 1.8h.6m-.6-1.9h.6m-.6 3.9h.6m-.6-4h.6m-.6 1.3h.6m-.6 .5h.6m-.5-1.5h.6m-.6 .7h.6m-.6 .5h.6m-.6 1.2h.6m-.6 1.8h.6m-.6-3.3h.6m-.6-2.8h.6m-.6 6h.6m-.5-4.8h.6m-.6 1.2h.6m-.6 .2h.6m-.6-2h.6m-.6 4.7h.6m-.6-2.9h.6m-.6-2.8h.6m-.6 4.4h.6m-.6-1h.6m-.5 1.4h.6m-.6-1.3h.6m-.6 .6h.6m-.6-1.2h.6m-.6-1.9h.6m-.6 2.6h.6m-.6-.2h.6m-.5-.5h.6m-.6 1.2h.6m-.6 .7h.6m-.6-2.1h.6m-.6-2.1h.6m-.6 5.2h.6m-.5-2.9h.6m-.6-1.5h.6m-.6 2.4h.6m-.6-.7h.6m-.6 1h.6m-.6 0h.6m-.6-1h.6m-.6 .9h.6m-.6 2.6h.6m-.5-2h.6m-.6 2.8h.6m-.6-2h.6m-.6-1.9h.6m-.6-2.8h.6m-.6 5.1h.6m-.6-4h.6m-.6 2.5h.6m-.5 4.9h.6m-.6-4.9h.6m-.6-2h.6m-.6-.9h.6m-.6 .7h.6m-.6 2.5h.6m-.6 .8h.6m-.6-2.1h.6m-.5 .4h.6m-.6 .1h.6m-.6-.1h.6m-.6-.2h.6m-.6-1.5h.6m-.5 3.6h.6m-.6-1.6h.6m-.6 1.7h.6m-.6 1.7h.6m-.5-4.5h.6m-.6 3.3h.6m-.6-4.7h.6m-.6 4.5h.6m-.6-2.2h.6m-.5 0h.6m-.6 .4h.6m-.6 1.4h.6m-.6-1h.6m-.5 .7h.6m-.6-1.6h.6m-.6 1.1h.6m-.6-.8h.6m-.6-2h.6m-.5 3.4h.6m-.6-2.3h.6m-.6 3.5h.6m-.6-2.3h.6m-.6 .1h.6m-.6-1.7h.6m-.6-2.6h.6m-.6 1.8h.6m-.6 2.9h.6m-.5-3.8h.6m-.6 2.9h.6m-.6 .8h.6m-.6 1.5h.6m-.6-2.6h.6m-.6 .9h.6m-.6-2.6h.6m-.6 .3h.6m-.5-1.6h.6m-.6 4.4h.6m-.6-.9h.6m-.6 1.4h.6m-.6-3.6h.6m-.6-1.5h.6m-.6 3h.6m-.6 1.4h.6m-.6-2.9h.6m-.6 5h.6m-.5-.8h.6m-.6-.7h.6m-.6 0h.6m-.6-.5h.6m-.6-5h.6m-.5 3.6h.6m-.6-.9h.6m-.6-.2h.6m-.6 3.4h.6m-.6-3h.6m-.6-.1h.6m-.6-.4h.6m-.6-.3h.6m-.6-.5h.6m-.6 4.4h.6m-.6-2.3h.6m-.6 2.4h.6m-.6-3.4h.6m-.5 1.2h.6m-.6 3.4h.6m-.6-4.5h.6m-.6-.9h.6m-.6 .6h.6m-.5 0h.6m-.6 1.1h.6m-.6-1.7h.6m-.6 2.9h.6m-.6-.3h.6m-.6-4h.6m-.5 5.3h.6m-.6-.6h.6m-.6-2.3h.6m-.6-2.8h.6m-.6 3.5h.6m-.6-.7h.6m-.6 .5h.6m-.6 1.1h.6m-.5 1.5h.6m-.6-.6h.6m-.6-2.5h.6m-.6 .8h.6m-.5-1.9h.6m-.6 2.8h.6m-.6-1.6h.6m-.6 3.1h.6m-.6-3h.6m-.6 5.8h.6m-.6-3.7h.6m-.6-1h.6m-.5-1.4h.6m-.6 0h.6m-.6 .1h.6m-.6-.7h.6m-.5-.1h.6m-.6 2.4h.6m-.6 4.6h.6m-.6-6.7h.6m-.6 2.2h.6m-.5-.7h.6m-.6-.6h.6m-.6-.5h.6m-.6-.6h.6m-.6-.2h.6m-.5 1.8h.6m-.6-2.9h.6m-.6 4.3h.6m-.6 1.1h.6m-.5-2.4h.6m-.6-.6h.6m-.6 .3h.6m-.6 .8h.6m-.6 3h.6m-.5-4.5h.6m-.6 .5h.6m-.6 3.3h.6m-.6-4.1h.6m-.6-1.2h.6m-.6 2.1h.6m-.5 1h.6m-.6-2.7h.6m-.6 4.9h.6m-.6-3.7h.6m-.6 .7h.6m-.6-1.5h.6m-.6 1.5h.6m-.6 .3h.6m-.6 2.2h.6m-.6-1.9h.6m-.5-.4h.6m-.6 .5h.6m-.6-3.1h.6m-.6 1.5h.6m-.6 5.3h.6m-.5-6h.6m-.6-2.6h.6m-.6 4.4h.6m-.6 1.4h.6m-.6-6.8h.6m-.6 7.2h.6m-.6-.6h.6m-.5-.9h.6m-.6-.6h.6m-.6 .6h.6m-.6 1.5h.6m-.6-3h.6m-.5 2h.6m-.6-3.3h.6m-.6 5.7h.6m-.6-3.8h.6m-.6 1.2h.6m-.5 .7h.6m-.6 1.2h.6m-.6-1.8h.6m-.6-1.1h.6m-.6 .3h.6m-.6 2.5h.6m-.6-4.7h.6m-.6-.1h.6m-.6 1.2h.6m-.6 .5h.6m-.5 3h.6m-.6-4.3h.6m-.6 .4h.6m-.6 3.3h.6m-.6-3h.6m-.6 3.2h.6m-.6-1.6h.6m-.5-2.6h.6m-.6-3.2h.6m-.6 2.4h.6m-.6 6.9h.6m-.6-3.8h.6m-.6-3.5h.6m-.6 2.5h.6m-.6 .9h.6m-.6 2.4h.6m-.6-4.9h.6m-.6 3.7h.6m-.6 1.2h.6m-.5 1.3h.6m-.6-5.3h.6m-.6-1.2h.6m-.6-.2h.6m-.6 3.1h.6m-.6 2.4h.6m-.5-5h.6m-.6 2.6h.6m-.6-1.2h.6m-.6-.5h.6m-.6 1.1h.6m-.5 3.4h.6m-.6-5.7h.6m-.6 2.5h.6m-.6 .8h.6m-.6-3.3h.6m-.6 3h.6m-.6-1.5h.6m-.6 4.7h.6m-.5-5.4h.6m-.6 4.9h.6m-.6-.6h.6m-.6-2h.6m-.6-1.1h.6m-.6-.7h.6m-.5 1.9h.6m-.6-5.6h.6m-.6 4.6h.6m-.6-1.4h.6m-.6 5.3h.6m-.5-7.7h.6m-.6 5h.6m-.6-1.3h.6m-.5 2.4h.6m-.6-1.4h.6m-.6-.9h.6m-.6 5h.6m-.6-2.8h.6m-.6 1.2h.6m-.6-5.6h.6m-.5 4.8h.6m-.6-2.5h.6m-.6 5.2h.6m-.6-5.7h.6m-.5 1.9h.6m-.6 2h.6m-.6-3.5h.6m-.6-.2h.6m-.6 2.9h.6m-.6-1.8h.6m-.5 2.6h.6m-.6-2.6h.6m-.6 2.6h.6m-.6-1.5h.6m-.5-.8h.6m-.6 .8h.6m-.6-5.7h.6m-.6 5.1h.6m-.6 .8h.6m-.6-1.5h.6m-.6-.6h.6m-.5 4.4h.6m-.6-5.7h.6m-.6 2h.6m-.6-2.2h.6m-.6 1.6h.6m-.6 2h.6m-.6-2.6h.6m-.5 1.4h.6m-.6-3.4h.6m-.6 0h.6m-.6 .6h.6m-.5 4.2h.6m-.6-1.1h.6m-.5-1.1h.6m-.6-1.1h.6m-.6 4h.6m-.6-2.1h.6m-.6 2.3h.6m-.6-1.3h.6m-.6-3.4h.6m-.5 3.8h.6m-.6-4.3h.6m-.6 3.5h.6m-.6-1.5h.6m-.6-.7h.6m-.5-1.7h.6m-.6 1.2h.6m-.6 2.9h.6m-.6 .4h.6m-.6-4.3h.6m-.5 3.3h.6m-.6-1h.6m-.6 2.3h.6m-.6-4.7h.6m-.6 3.2h.6m-.5 1.5h.6m-.6-2h.6m-.5 .9h.6m-.6 1.6h.6m-.6 1.2h.6m-.6-6.5h.6m-.6 3.3h.6m-.5-1h.6m-.6 3h.6m-.6-2.4h.6m-.6 1.1h.6m-.6-.6h.6m-.5 1.1h.6m-.6-4.1h.6m-.6 8h.6m-.6-6.9h.6m-.6 3.3h.6m-.6-1.6h.6m-.6 0h.6m-.6 2.4h.6m-.6-1.7h.6m-.6-2h.6m-.6 3.9h.6m-.5-7.4h.6m-.6 6.1h.6m-.6 .5h.6m-.5-1h.6m-.6-.9h.6m-.6-.3h.6m-.6 2.1h.6m-.6-1.2h.6m-.6 .4h.6m-.5-2h.6m-.6 1.6h.6m-.6 2.2h.6m-.5-2.6h.6m-.6-3.4h.6m-.6 6.6h.6m-.6-1.9h.6m-.6-6.1h.6m-.6 6.1h.6m-.6-1.8h.6m-.5-2.9h.6m-.6 5.1h.6m-.6-.1h.6m-.6-3.3h.6m-.6 3.5h.6m-.6 2.1h.6m-.5-4.9h.6m-.6 2.4h.6m-.6-3.7h.6m-.5 .6h.6m-.6 1.1h.6m-.6-.4h.6m-.6 3.8h.6m-.6-3.1h.6m-.5 .1h.6m-.6-2.2h.6m-.6 4.4h.6m-.6-.7h.6m-.5-1.5h.6m-.6 1.2h.6m-.6-1.3h.6m-.6 1.8h.6m-.6-1.8h.6m-.6 1h.6m-.5-2.3h.6m-.6 1.7h.6m-.6 3h.6m-.6-.8h.6m-.6-3.2h.6m-.5-.6h.6m-.6-.2h.6m-.5 1.2h.6m-.6 1.3h.6m-.6-2.9h.6m-.6 1.4h.6m-.6-3.2h.6m-.5 3.4h.6m-.6 .5h.6m-.6-3.3h.6m-.6 .1h.6m-.6 1.1h.6m-.5 2.8h.6m-.5 1.9h.6m-.6-2.5h.6m-.6-3.8h.6m-.6 1.1h.6m-.5-1.7h.6m-.6 9h.6m-.6-4.5h.6m-.6-1.6h.6m-.6 1.7h.6m-.5-3.1h.6m-.6 3.1h.6m-.6 .1h.6m-.6 2.2h.6m-.6-3h.6m-.5 .3h.6m-.6-1.8h.6m-.6 1.6h.6m-.6-.7h.6m-.6 2.8h.6m-.6-.3h.6m-.6-1.5h.6m-.5-2.1h.6m-.6 .4h.6m-.6 4.8h.6m-.6-.8h.6m-.5-1.2h.6m-.5-1.7h.6m-.6 2h.6m-.6-1.3h.6m-.6-4.6h.6m-.6-1.1h.6m-.6 8.5h.6m-.6-.1h.6m-.6-2.5h.6m-.6-1.6h.6m-.5 .3h.6m-.6-4.2h.6m-.5 3.1h.6m-.5 1.1h.6m-.6 3.5h.6m-.6-4.4h.6m-.6 .8h.6m-.6 .5h.6m-.6-.3h.6m-.5-2.7h.6m-.6 3.3h.6m-.6 2.9h.6m-.6-3.2h.6m-.6 1.2h.6m-.6 .1h.6m-.5-3.4h.6m-.6 1.4h.6m-.6 .1h.6m-.5-1h.6m-.6 1.2h.6m-.6 1.6h.6m-.6-2.1h.6m-.6 .3h.6m-.6 3.4h.6m-.6-1.6h.6m-.5 .3h.6m-.6-1.9h.6m-.6-.1h.6m-.5-2.5h.6m-.5 2.5h.6m-.6-1h.6m-.6 4.8h.6m-.6-5.9h.6m-.5 3.4h.6m-.6-2.6h.6m-.6 2.7h.6m-.6 .3h.6m-.6 1.3h.6m-.6-3.6h.6m-.6 2.4h.6m-.6 .5h.6m-.5-4.5h.6m-.6 1.4h.6m-.6 .8h.6m-.6 .5h.6m-.6 1h.6m-.6 1.2h.6m-.6-.9h.6m-.6-.9h.6m-.5 .7h.6m-.6-2.4h.6m-.6 2.5h.6m-.6 .9h.6m-.6-.9h.6m-.6 2.4h.6m-.6-1.8h.6m-.5 .4h.6m-.6 1.4h.6m-.6-2.3h.6m-.5 .5h.6m-.6-1h.6m-.6 .2h.6m-.6 1.9h.6m-.5-2.3h.6m-.6-.5h.6m-.6 3.6h.6m-.5-8h.6m-.6 4.1h.6m-.6 .7h.6m-.6-2.2h.6m-.6 1h.6m-.5 3.3h.6m-.6-6.7h.6m-.6-2.7h.6m-.6 5.7h.6m-.6 3.3h.6m-.6-6.7h.6m-.5 6.8h.6m-.6-4.7h.6m-.6 4.4h.6m-.6-4.5h.6m-.6 3.4h.6m-.5 .5h.6m-.6 3.3h.6m-.6-5.7h.6m-.5 2.8h.6m-.6 .2h.6m-.6-1.1h.6m-.6-1.5h.6m-.5-.2h.6m-.6 2.7h.6m-.6-4h.6m-.5-.7h.6m-.6 2.9h.6m-.6-2h.6m-.4 4h.6m-.6-2.4h.6m-.6 3.1h.6m-.6-.9h.6m-.6 .1h.6m-.6-3h.6m-.6 2.8h.6m-.6 .2h.6m-.5-2.4h.6m-.6-2.8h.6m-.6 5.6h.6m-.5-3h.6m-.6 1.6h.6m-.6 1.8h.6m-.5-2.5h.6m-.6-1.9h.6m-.6 3.1h.6m-.6-.4h.6m-.6-.5h.6m-.6-.7h.6m-.5 1.9h.6m-.6 .4h.6m-.6-5.1h.6m-.6 1h.6m-.6 5.6h.6m-.6-5.4h.6m-.6 4.2h.6m-.5-3.2h.6m-.6 2.2h.6m-.6 2.2h.6m-.6-3.5h.6m-.5-1.9h.6m-.6 4.6h.6m-.6-2.3h.6m-.6-3.5h.6m-.6 5.3h.6m-.6-3.9h.6m-.6 2.4h.6m-.5-1.5h.6m-.6 4.1h.6m-.6-2.4h.6m-.6 2.1h.6m-.5-2.8h.6m-.6 .5h.6m-.6 .2h.6m-.6-.5h.6m-.6 2.4h.6m-.5-4.4h.6m-.6-.8h.6m-.6 4.3h.6m-.6 1.2h.6m-.5-6.6h.6m-.6 0h.6m-.6 .9h.6m-.6 2.1h.6m-.5-.1h.6m-.6 .4h.6m-.6-1.6h.6m-.6-.1h.6m-.6 2.5h.6m-.6 .9h.6m-.5-.1h.6m-.6-1.4h.6m-.6 3.3h.6m-.6-5.1h.6m-.5 .7h.6m-.6 4h.6m-.6-5.6h.6m-.6 1.3h.6m-.6 5.6h.6m-.6-6.3h.6m-.5 3h.6m-.6-2.7h.6m-.6 3h.6m-.6 3.5h.6m-.6-7.5h.6m-.6 4.4h.6m-.6-1.8h.6m-.5 .8h.6m-.6-.9h.6m-.5 2.3h.6m-.6-.1h.6m-.6-.7h.6m-.6-2.2h.6m-.5-.7h.6m-.5 3.4h.6m-.6 1.7h.6m-.6-.8h.6m-.4-.6h.6m-.6-1.8h.6m-.6-1.5h.6m-.6 2.8h.6m-.6-2.7h.6m-.6-.5h.6m-.6 2.3h.6m-.5 1.5h.6m-.6-3.7h.6m-.5 3.7h.6m-.6 .3h.6m-.6-.5h.6m-.6-3.9h.6m-.6 1.8h.6m-.6-2.6h.6m-.5 4.3h.6m-.6 1.7h.6m-.6-3.7h.6m-.6-.4h.6m-.6 .3h.6m-.6 1.5h.6m-.6 1.9h.6m-.6-4.1h.6m-.4 1.1h.6m-.6-2.5h.6m-.6 3.5h.6m-.6 .6h.6m-.6-6h.6m-.6 5.6h.6m-.6-2.5h.6m-.6 .6h.6m-.5 .9h.6m-.6-1.1h.6m-.6 2.2h.6m-.6 1h.6m-.6-1.8h.6m-.5-1.1h.6m-.6 2.5h.6m-.6-3.5h.6m-.5 .7h.6m-.6 .9h.6m-.6 2.3h.6m-.5 .1h.6m-.5 .8h.6m-.6-1.7h.6m-.6 1.3h.6m-.6-4.4h.6m-.5 5.3h.6m-.6-1.6h.6m-.5 3.1h.6m-.6-4.9h.6m-.6 .9h.6m-.5 2.3h.6m-.6-2.9h.6m-.6-3h.6m-.6-.1h.6m-.4 3h.6m-.6 .2h.6m-.6 1.8h.6m-.5-3.4h.6m-.6 4.3h.6m-.5 .4h.6m-.6 .1h.6m-.6-6.6h.6m-.6 2.2h.6m-.6 1.5h.6m-.5 1.4h.6m-.5-.9h.6m-.5-2.1h.6m-.6-1.4h.6m-.5 1.9h.6m-.6 .9h.6m-.6-1.3h.6m-.5 2.3h.6m-.6 .7h.6m-.6-3.6h.6m-.5 2.5h.6m-.6-.9h.6m-.5-.4h.6m-.6 1.4h.6m-.6-1.8h.6m-.6 3.9h.6m-.6-2.1h.6m-.6-1h.6m-.5 .1h.6m-.6 1.4h.6m-.6 2h.6m-.5-.6h.6m-.6-7.3h.6m-.6 3.4h.6m-.6 .5h.6m-.6 2.1h.6m-.6 1.5h.6m-.6-1.8h.6m-.5-1.9h.6m-.6 1.9h.6m-.6 .7h.6m-.6-2.4h.6m-.5-2.1h.6m-.6 2h.6m-.6-2.1h.6m-.5 1.1h.6m-.6 1.3h.6m-.6 1.8h.6m-.5-1h.6m-.6-2.9h.6m-.6 4.4h.6m-.6 .7h.6m-.5-2.9h.6m-.6-2.6h.6m-.6 6.1h.6m-.6-2.3h.6m-.6-.6h.6m-.6-1.1h.6m-.5 0h.6m-.5 1.4h.6m-.6-2.6h.6m-.5 .9h.6m-.6 1.8h.6m-.6 1h.6m-.6-2.9h.6m-.6 .2h.6m-.5 .6h.6m-.6 2h.6m-.5-4.1h.6m-.6 1.2h.6m-.5-.1h.6m-.5 1.8h.6m-.6-3.4h.6m-.5 3.3h.6m-.6-1.6h.6m-.5 .8h.6m-.5 3h.6m-.5-1.3h.6m-.6-.3h.6m-.6 .9h.6m-.6-5.7h.6m-.6 .7h.6m-.4 5.3h.6m-.6-3.5h.6m-.5-.1h.6m-.6 .8h.6m-.6 .6h.6m-.6-1.4h.6m-.6-2.2h.6m-.6 1.4h.6m-.6 1h.6m-.5-.9h.6m-.5 .2h.6m-.6 2.4h.6m-.5-2.9h.6m-.6 3.6h.6m-.5-.1h.6m-.6-4.4h.6m-.5 1.9h.6m-.6 2.1h.6m-.5 .3h.6m-.5-.6h.6m-.6 .3h.6m-.6-.3h.6m-.6 .4h.6m-.6-2.5h.6m-.6 1.1h.6m-.5 .4h.6m-.5-2.9h.6m-.6 2.2h.6m-.6-1.3h.6m-.5 1.7h.6m-.6 .4h.6m-.6 4.6h.6m-.6-2.3h.6m-.6-4.5h.6m-.5 3.3h.6m-.6-3.5h.6m-.5-2h.6m-.5 2.7h.6m-.6 .2h.6m-.6 2.2h.6m-.5-.7h.6m-.6 1.7h.6m-.6-1.5h.6m-.5-3.6h.6m-.6 4.4h.6m-.6 1.1h.6m-.6 .7h.6m-.6-4.4h.6m-.6-3h.6m-.5 7.1h.6m-.6-3.2h.6m-.6-4.2h.6m-.5 5.7h.6m-.6 .1h.6m-.5 .3h.6m-.5-.2h.6m-.5-3.5h.6m-.5 1.3h.6m-.6 6h.6m-.5-5h.6m-.5 2.5h.6m-.6-.8h.6m-.5-.6h.6m-.6-.1h.6m-.4 1.1h.6m-.6-3.1h.6m-.6 1.2h.6m-.6 1.3h.6m-.5 .2h.6m-.5-4.1h.6m-.6 4.5h.6m-.6-1.5h.6m-.5-.9h.6m-.6 1.5h.6m-.6-1.9h.6m-.6-3.3h.6m-.5 5.5h.6m-.6-.5h.6m-.5 1.2h.6m-.5-7.2h.6m-.6 4.9h.6m-.6-3.4h.6m-.5 7.5h.6m-.6-4h.6m-.6-.9h.6m-.6-.4h.6m-.5 1.9h.6m-.6-1h.6m-.6 .8h.6m-.6 .4h.6m-.6-.7h.6m-.6-.5h.6m-.6-.2h.6m-.6 1.2h.6m-.4 4.3h.6m-.6-3.6h.6m-.6 .5h.6m-.6-.8h.6m-.4 1.5h.6m-.6-2.2h.6m-.6-.1h.6m-.5 1.2h.6m-.6 1.3h.6m-.6-6h.6m-.5 5.5h.6m-.6-.6h.6m-.5-.9h.6m-.5-1h.6m-.4-1.7h.6m-.5 1.1h.6m-.6 .4h.6m-.5-.5h.6m-.5 1.5h.6m-.6-.1h.6m-.5-.5h.6m-.5 0h.6m-.6 3.5h.6m-.6-5.2h.6m-.6 3.3h.6m-.6-.1h.6m-.5-1.2h.6m-.6 2.4h.6m-.6-2.4h.6m-.5-4.4h.6m-.6 3.1h.6m-.5 3.4h.6m-.6-3h.6m-.5-.3h.6m-.4 3h.6m-.6 2.6h.6m-.6-.5h.6m-.6-5.7h.6m-.5 4.6h.6m-.6-3.2h.6m-.6-.2h.6m-.4-3.9h.6m-.5 4.6h.6m-.5-2.8h.6m-.6 2.5h.6m-.6 1.2h.6m-.4 1.4h.6m-.6-1.1h.6m-.3-.4h.6m-.5-.5h.6m-.6-1.2h.6m-.6 1.4h.6m-.4-2.8h.6m-.6-1h.6m-.6 4.3h.6m-.6 2.7h.6m-.4-4.2h.6m-.5-.9h.6m-.6 .8h.6m-.5 3.3h.6m-.6-3.2h.6m-.6-1.5h.6m-.5 2.9h.6m-.6 .2h.6m-.6-1.3h.6m-.6 2.3h.6m-.4-3.8h.6m-.6 1.5h.6m-.5 .6h.6m-.6 .4h.6m-.6-1.4h.6m-.6 2.5h.6m-.5-1.3h.6m-.5-1.6h.6m-.6 1h.6m-.6 3.9h.6m-.5-6.6h.6m-.6 4.6h.6m-.6-.6h.6m-.5-1.6h.6m-.6 .2h.6m-.4-1.3h.6m-.6 1.9h.6m-.5-1h.6m-.6 1.3h.6m-.5-2h.6m-.6 .5h.6m-.6 1.1h.6m-.6-1.4h.6m-.4-.2h.6m-.5 3.2h.6m-.6-2h.6m-.4 2h.6m-.4-2.2h.6m-.6 1.6h.6m-.5-3.1h.6m-.6 1.4h.6m-.4 .9h.6m-.6-2.5h.6m-.6 .8h.6m-.5 .3h.6m-.4 4.3h.6m-.6-2.2h.6m-.6-1.2h.6m-.4 .5h.6m-.4 2.2h.6m-.6-7.1h.6m-.5 4.5h.6m-.6 2.4h.6m-.4-3.9h.6m-.6 .9h.6m-.5 1.8h.6m-.6-1.6h.6m-.6-1.9h.6m-.4 5.3h.6m-.6-3.1h.6m-.6 0h.6m-.5 0h.6m-.6 .8h.6m-.5-.9h.6m-.4-1.1h.6m-.6 1.3h.6m-.6-2.2h.6m-.5 .3h.6m-.5 .5h.6m-.3-.2h.6m-.6 .9h.6m-.6-.9h.6m-.5-2.1h.6m-.6 2.1h.6m-.3 .6h.6m-.6 2.1h.6m-.3-4.2h.6m-.6 1.8h.6m-.4-.1h.6m-.6 1.6h.6m-.5 2.9h.6m-.5-.8h.6m-.6-6.7h.6m-.4 4.5h.6m-.5 1.6h.6m-.4 1.5h.6m-.6-5h.6m-.6 1.1h.6m-.5-.3h.6m-.4-2.3h.6m-.5 5.9h.6m-.6-3.5h.6m-.3 .9h.6m-.5-3.4h.6m-.4 4h.6m-.3 1.4h.6m-.3-2.2h.6m-.5-.1h.6m-.5-1.9h.6m-.3 .8h.6m-.6-.9h.6m-.5 2.9h.6m-.5-2.8h.6m-.6 1.6h.6m-.6 .3h.6m-.4 .2h.6m-.5 .9h.6m-.5-5.4h.6m-.6 4.3h.6m-.5-2.2h.6m-.6 2.4h.6m-.5 .6h.6m-.6-3.4h.6m-.5 3.4h.6m-.6-4.2h.6m-.4 3.3h.6m-.5 .6h.6m-.5-1.6h.6m-.6-1.9h.6m-.5 2.7h.6m-.5 1.9h.6m-.2 3.1h.6m-.6-5.7h.6m-.6 1h.6m-.5 .5h.6m-.6-.2h.6m-.5 3.7h.6m-.6-3.8h.6m-.4 .2h.6m-.6-1.1h.6m-.5-.2h.6m-.5-.2h.6m-.5 1h.6m-.6 .2h.6m-.5-4.3h.6m-.5 6.4h.6m-.5-3h.6m-.3 1.8h.6m-.6-3h.6m-.5 3h.6m-.6-2.5h.6m-.3 3h.6m-.6-.2h.6m-.6-1.1h.6m-.3 .3h.6m-.6-2.9h.6m-.6 1.1h.6m-.4 2.9h.6m-.4 .6h.6m-.5-3.6h.6m-.6 4.2h.6m-.6-3.8h.6m-.2 .7h.6m-.2 .3h.6m-.1-.4h.6m-.5-1.3h.6m-.4 3.1h.6m-.5-.3h.6m-.5-.3h.6m-.2 .7h.6m-.5-1.6h.6m-.4 2.3h.6m-.5-5.2h.6m-.5 4.9h.6m-.5-.4h.6m-.3 0h.6m-.3-1.4h.6m-.4 1.2h.6m-.6-1.6h.6m-.4-.9h.6m-.6 2.9h.6m-.4-5h.6m-.5 5.2h.6m-.4-2h.6m-.6-1.1h.6m-.4 2.7h.6m-.2-2.8h.6m-.5-1.6h.6m.2-.6h.6m-.6 2.8h.6m0 .4h.6m-.3 2.8h.6m-.5-1.3h.6m-.2-3.8h.6m-.5 2.6h.6m-.6-1.1h.6m.6 2.4h.6m-.1-.4h.6m.3-2.9h.6m.4 .2h.6m.2 3.6h.6m-.3-1.5h.6m-.6 0h.6m-.5 1.7h.6m-.3-2.5h.6m-.2 2.8h.6m-.4-4.9h.6m-.5 2.2h.6m-.2-1.3h.6m-.6-.3h.6m-.1 1.1h.6m-.5 1.4h.6m0-.5h.6m-.4-.4h.6m-.4 .9h.6m-.3-4.1h.6m2.2-1.5h.6m-.6 6h.6m-.4 2.5h.6m.7-4.6h.6m.2 1h.6" stroke="#000" stroke-width="0.6" fill="none" stroke-opacity="0.14"/>
<path d="m188.6 370.9h.6m-.3-9.6h.6m-.4 4.8h.6m-.6 .8h.6m-.4-4h.6m-.5-1.3h.6m-.4 1.4h.6m-.6 4.5h.6m-.6 6.6h.6m-.5-8.4h.6m-.6-2.7h.6m-.5 2.7h.6m-.6-.9h.6m-.5 .4h.6m-.6-1.9h.6m-.5-.1h.6m-.6 2.6h.6m-.5-.3h.6m-.5 1.6h.6m-.5-4.1h.6m-.6 .1h.6m-.4 2h.6m-.6 1.7h.6m-.6 .1h.6m-.5-5h.6m-.6 0h.6m-.6 8.4h.6m-.5-7h.6m-.6-1.1h.6m-.5 5.2h.6m-.6 .4h.6m-.6-5.9h.6m-.4 .8h.6m-.6 .3h.6m-.5 4.7h.6m-.6 1.6h.6m-.6-6.8h.6m-.6 2.5h.6m-.5 2.3h.6m-.6-2.7h.6m-.6 11.7h.6m-.6-12.2h.6m-.5 .4h.6m-.5 .7h.6m-.6 .6h.6m-.5-1.2h.6m-.5-2.7h.6m-.6 10.5h.6m-.6-8.2h.6m-.5 .6h.6m-.5 1.6h.6m-.6-1.1h.6m-.6-.6h.6m-.5 .2h.6m-.6 3.3h.6m-.6 .8h.6m-.6-3.9h.6m-.5 1.7h.6m-.6-3.7h.6m-.6 4.5h.6m-.5-1.9h.6m-.6 5.3h.6m-.6-4.5h.6m-.5-5.2h.6m-.6 2.1h.6m-.6 6.3h.6m-.6-7h.6m-.6-.8h.6m-.5 2.5h.6m-.6-1.5h.6m-.6-.1h.6m-.5 .8h.6m-.5 .7h.6m-.6 .2h.6m-.6-2.1h.6m-.6 1h.6m-.6 7.6h.6m-.5-7.2h.6m-.5 5.6h.6m-.5-1h.6m-.6-5.4h.6m-.5 2.6h.6m-.6-3h.6m-.5 1h.6m-.6 2.4h.6m-.5-4.6h.6m-.6 2.1h.6m-.5 .4h.6m-.6 .9h.6m-.5-1.9h.6m-.6 3h.6m-.6-2.4h.6m-.5 4.5h.6m-.6-3.4h.6m-.6 2h.6m-.6 .9h.6m-.5-5.6h.6m-.6 2.5h.6m-.6 7h.6m-.6-9.4h.6m-.5 5.3h.6m-.6-3.2h.6m-.6 3h.6m-.5-4h.6m-.6-.4h.6m-.6 .8h.6m-.5-.9h.6m-.6 1.8h.6m-.6 5.9h.6m-.6-5.5h.6m-.5-.4h.6m-.6-.7h.6m-.6 8.3h.6m-.6-10.7h.6m-.6 .9h.6m-.5 3.2h.6m-.6-1.1h.6m-.6 7.7h.6m-.6-9.6h.6m-.5 4.1h.6m-.6 2.5h.6m-.6-6.3h.6m-.5 2.2h.6m-.5 .7h.6m-.6-1.5h.6m-.6 .5h.6m-.6 5.8h.6m-.6-2.6h.6m-.5-3.9h.6m-.6-1.9h.6m-.6 4.5h.6m-.6-1h.6m-.6-1.1h.6m-.6 2.4h.6m-.5-2.8h.6m-.6 .4h.6m-.6 1h.6m-.6 4.2h.6m-.5-5.7h.6m-.5-2.5h.6m-.6 .8h.6m-.6 1h.6m-.6-1.3h.6m-.5 1.9h.6m-.6 4.9h.6m-.6-4.7h.6m-.6 3.2h.6m-.6-1.5h.6m-.5-1h.6m-.6-2.5h.6m-.6 .8h.6m-.6 .8h.6m-.6-1.5h.6m-.5 1.4h.6m-.6 1.1h.6m-.5-.5h.6m-.6-3.1h.6m-.6 5.1h.6m-.6-1.8h.6m-.6 3.6h.6m-.6-4.1h.6m-.6 4.6h.6m-.6-7.4h.6m-.6 .9h.6m-.5 1.8h.6m-.6 0h.6m-.6 2.2h.6m-.6-1.9h.6m-.5 1.1h.6m-.6 2.5h.6m-.6-1.3h.6m-.6-2.5h.6m-.6 5.2h.6m-.5-5.3h.6m-.6-2.5h.6m-.6 0h.6m-.6 3.9h.6m-.5 4.3h.6m-.6-.4h.6m-.6-4.5h.6m-.5-1.5h.6m-.6 2.5h.6m-.6-.6h.6m-.5-2.3h.6m-.5 1.1h.6m-.6-.2h.6m-.6 4.1h.6m-.5-2.5h.6m-.5-2.7h.6m-.6 5.4h.6m-.6-6.5h.6m-.5 4.2h.6m-.6-3.5h.6m-.5 1.6h.6m-.6-.3h.6m-.6 3.7h.6m-.6-3h.6m-.5 4h.6m-.6-4.5h.6m-.6-2.4h.6m-.5 1.6h.6m-.6 9.5h.6m-.6-9.7h.6m-.6-.6h.6m-.6-.3h.6m-.6 3.7h.6m-.6-3.8h.6m-.5-.2h.6m-.6 9.6h.6m-.6-7.8h.6m-.5-.1h.6m-.5 0h.6m-.6-1.2h.6m-.6 1.9h.6m-.5-2.3h.6m-.6-.2h.6m-.6 .8h.6m-.6 7h.6m-.6-5.2h.6m-.5-.5h.6m-.6-1.3h.6m-.6 .2h.6m-.6 4.8h.6m-.6-5.8h.6m-.6 2.3h.6m-.6-2.2h.6m-.5 2.3h.6m-.5 .5h.6m-.6 2h.6m-.6-1.8h.6m-.5-3.1h.6m-.6 1.8h.6m-.6 0h.6m-.6-1.5h.6m-.5 .2h.6m-.6 6.8h.6m-.6-1.6h.6m-.6-3h.6m-.6 1.2h.6m-.6-3.6h.6m-.6 6.6h.6m-.6-6.9h.6m-.6 13.4h.6m-.6-12.1h.6m-.6 2.4h.6m-.5 1.3h.6m-.6-4.6h.6m-.6 7.2h.6m-.6-5.2h.6m-.5-2.4h.6m-.6 2.9h.6m-.6 1.2h.6m-.6-4.2h.6m-.5 1.8h.6m-.6 1.5h.6m-.6-1.3h.6m-.6-.2h.6m-.6 .5h.6m-.6 8.7h.6m-.5-7.7h.6m-.6 1.3h.6m-.6-2.1h.6m-.6-.8h.6m-.6-.9h.6m-.5 .7h.6m-.6-.3h.6m-.6 3.9h.6m-.4-3.9h.6m-.6 2.6h.6m-.5-1.5h.6m-.6 .5h.6m-.6 .2h.6m-.5 4.9h.6m-.6-2.5h.6m-.6 3.5h.6m-.6-7.8h.6m-.6 2.6h.6m-.5 .6h.6m-.5-1.1h.6m-.6 .9h.6m-.6-1.7h.6m-.6-2.3h.6m-.5 1.7h.6m-.6 6h.6m-.6-1.4h.6m-.6-3.7h.6m-.6-.6h.6m-.5 2.4h.6m-.6-4.4h.6m-.6 .8h.6m-.6 2.7h.6m-.5-.4h.6m-.6 1.1h.6m-.6-.5h.6m-.5-1.8h.6m-.6 2.8h.6m-.6-3.9h.6m-.6 2.5h.6m-.5-2.2h.6m-.6 3.7h.6m-.6-.7h.6m-.6 .3h.6m-.6-1.7h.6m-.6-1.3h.6m-.5 2.8h.6m-.5-3.1h.6m-.6 .1h.6m-.6-.8h.6m-.6 2.3h.6m-.6-2.2h.6m-.6 1.1h.6m-.5 2.3h.6m-.5-3.6h.6m-.6 .4h.6m-.4 2.2h.6m-.6 1.4h.6m-.6-2.9h.6m-.6 2.3h.6m-.5-3.2h.6m-.6 .2h.6m-.6 2.4h.6m-.5 1.5h.6m-.6-1.1h.6m-.5 1.7h.6m-.6-3.2h.6m-.6 0h.6m-.5 1.9h.6m-.6-3.3h.6m-.6 .9h.6m-.5 6.7h.6m-.6-6.5h.6m-.6-.1h.6m-.5 7.6h.6m-.6-4.9h.6m-.5-3.7h.6m-.5 3h.6m-.6-2.5h.6m-.6 1.2h.6m-.5-2.4h.6m-.6 3.9h.6m-.6 2.9h.6m-.6-6.9h.6m-.5 1.1h.6m-.6 1.4h.6m-.6-.6h.6m-.5 3.8h.6m-.5-4.1h.6m-.6 3.8h.6m-.6-3.5h.6m-.6-.6h.6m-.6 2.7h.6m-.6 1.8h.6m-.5-2h.6m-.6-1.3h.6m-.6-.4h.6m-.5 1.8h.6m-.6-2.1h.6m-.6-.9h.6m-.5 2.8h.6m-.6-.7h.6m-.6-2.6h.6m-.5 .6h.6m-.6-.3h.6m-.6 2.7h.6m-.5-2.1h.6m-.6 1.8h.6m-.6 .6h.6m-.6-1.7h.6m-.5 .8h.6m-.6-1.5h.6m-.6 1.7h.6m-.6-1.1h.6m-.6-.5h.6m-.6 .8h.6m-.5 5.2h.6m-.5-2.7h.6m-.6 .8h.6m-.6-4.4h.6m-.6-.3h.6m-.6 4.5h.6m-.5-3.4h.6m-.6 1.4h.6m-.6-1.3h.6m-.5-1.1h.6m-.6 5.7h.6m-.6-3.1h.6m-.6-.5h.6m-.5-2.9h.6m-.6 0h.6m-.5 4.4h.6m-.6-.3h.6m-.5 1.1h.6m-.6-3.3h.6m-.6 1.8h.6m-.6-.1h.6m-.5-2.2h.6m-.6 .8h.6m-.6 4.4h.6m-.5-.9h.6m-.4-3h.6m-.5-1.8h.6m-.6 1h.6m-.5 5.7h.6m-.6-5.9h.6m-.5-1.5h.6m-.5 5h.6m-.6-4.5h.6m-.5-.5h.6m-.6 3.9h.6m-.5 .3h.6m-.6 .7h.6m-.5-3.5h.6m-.6-1.2h.6m-.6 3.7h.6m-.6-3.9h.6m-.5 4h.6m-.5-2.9h.6m-.6 .1h.6m-.5 4.5h.6m-.6-1.8h.6m-.6-.3h.6m-.6-1.7h.6m-.5 .4h.6m-.5 0h.6m-.6-1.5h.6m-.6 1.7h.6m-.5 .1h.6m-.6-2.7h.6m-.6 .5h.6m-.6 4.1h.6m-.5 .8h.6m-.6-2.3h.6m-.5-.1h.6m-.5-2.7h.6m-.6 1.6h.6m-.6 2.3h.6m-.6-4.3h.6m-.6 5.4h.6m-.5-.7h.6m-.6 3h.6m-.6-4.1h.6m-.6-1.3h.6m-.6-1.3h.6m-.6 .4h.6m-.5 1.8h.6m-.6-.8h.6m-.5-1h.6m-.6 4.1h.6m-.6-5.1h.6m-.6 .9h.6m-.6 .4h.6m-.5 1.5h.6m-.6-1.2h.6m-.6 4.2h.6m-.6-4.9h.6m-.5 3.3h.6m-.6-.2h.6m-.6 2.2h.6m-.6-1.2h.6m-.6-1.8h.6m-.5 .7h.6m-.6-1h.6m-.5-1h.6m-.6 .2h.6m-.6 .3h.6m-.6-1.2h.6m-.3-.8h.6m-.6 8.9h.6m-.5-8.9h.6m-.6 3.6h.6m-.6-.3h.6m-.5-3.4h.6m-.6 2.2h.6m-.6-2.3h.6m-.6 5h.6m-.5-4.1h.6m-.6 .9h.6m-.6-.1h.6m-.4-.2h.6m-.6-.2h.6m-.5 1.8h.6m-.6-.2h.6m-.5 0h.6m-.6 .2h.6m-.5-.8h.6m-.6-2.4h.6m-.6 .3h.6m-.6 1.9h.6m-.5 1h.6m-.5 2h.6m-.6-5h.6m-.6-.5h.6m-.5 3.6h.6m-.6-3.8h.6m-.5 3.1h.6m-.6-2h.6m-.6 .5h.6m-.6 .6h.6m-.4 .8h.6m-.5 .8h.6m-.6-.8h.6m-.4-.4h.6m-.6-1.8h.6m-.6 .6h.6m-.6-1.2h.6m-.5 1.7h.6m-.6-1.5h.6m-.6 2.9h.6m-.6 .8h.6m-.6-3.7h.6m-.5 1.2h.6m-.5-1.2h.6m-.6 3.4h.6m-.5 2h.6m-.6-5.5h.6m-.6 .6h.6m-.6 2h.6m-.6-2.8h.6m-.4 2.2h.6m-.1 2.2h.6m-.5 2.3h.6m-.6-4.3h.6m-.6 .3h.6m-.5 1.3h.6m-.5 .3h.6m-.6-3.3h.6m-.6-1.1h.6m-.4 3.2h.6m-.5-2.6h.6m-.6 3.8h.6m-.5 1.8h.6m-.6-4.1h.6m-.6 1.4h.6m-.6-2.9h.6m-.5 1.3h.6m-.6 .9h.6m-.6-2.1h.6m-.5 3.9h.6m-.5-2.7h.6m-.6 1.6h.6m-.6-2.1h.6m-.5-.9h.6m-.6 2h.6m-.6 5h.6m-.6-2.2h.6m-.6-5h.6m-.5 3.2h.6m-.6-3.5h.6m-.5 1.8h.6m-.6-.1h.6m-.6-1.7h.6m-.6 2.4h.6m-.5-1.1h.6m-.6-.8h.6m-.5 .3h.6m-.5 1.3h.6m-.6 1h.6m-.6 .4h.6m-.5-2h.6m-.6 6.2h.6m-.4-7.1h.6m-.5 3.7h.6m-.5-4.4h.6m-.6 4.7h.6m-.6-2.2h.6m-.6 .7h.6m-.5-.2h.6m-.6 .1h.6m-.6 .4h.6m-.6-2.1h.6m-.6 .1h.6m-.6 0h.6m-.4 1.6h.6m-.6-1.1h.6m-.5-.7h.6m-.5-.6h.6m-.6-.7h.6m-.5 1.4h.6m-.6 5.6h.6m-.5-4.9h.6m-.6 1.3h.6m-.6 1.5h.6m-.4-1.8h.6m-.6 3.5h.6m-.3-5.2h.6m-.5-.9h.6m-.3 1.2h.6m-.6-.3h.6m-.6 1.3h.6m-.6-.1h.6m-.5 1.8h.6m-.6-1h.6m-.5-3.2h.6m-.6 .5h.6m-.5 4.4h.6m-.5-3.2h.6m-.6 1.2h.6m-.6 .5h.6m-.5-2.2h.6m-.3-.6h.6m-.4 4.6h.6m-.6-3.5h.6m-.5 .1h.6m-.4-1.2h.6m-.5 6.9h.6m-.6-3.1h.6m-.5-2h.6m-.3-2.6h.6m-.6 3.1h.6m-.6-3h.6m-.6 1.2h.6m-.5 2.1h.6m-.6-1.2h.6m-.2 1.5h.6m-.5-.3h.6m-.3-3.3h.6m-.6 2.4h.6m-.4-.6h.6m-.6-.7h.6m-.4-.4h.6m-.6 3h.6m-.4-3.1h.6m-.6 .8h.6m-.5-.4h.6m-.6-.1h.6m-.6 .3h.6m-.4-.9h.6m-.6 2h.6m-.5-1.4h.6m-.4 1h.6m-.5 1.3h.6m-.5 .2h.6m-.6-1.7h.6m.4-.2h.6m-.6-.7h.6m-.5-.5h.6m-.6 1h.6m-.6 1.4h.6m-.5-.1h.6m-.4 1.6h.6m-.5-3.6h.6m-.5 4.6h.6m-.3-3.3h.6m-.3-1.5h.6m-.5 1.2h.6m-.4 .6h.6m-.2-2.2h.6m-.6 1h.6m.2 .8h.6m-.4 3.1h.6m-.6-3.3h.6m-.6-1h.6m-.6 1.2h.6m-.6-1.1h.6m-.5 3.2h.6m-.6-3.2h.6m-.5 0h.6m-.5 3h.6m-.6-3.3h.6m-.4 3.1h.6m-.6-3.1h.6m-.4 0h.6m-.6 4.3h.6m-.6 0h.6m-.4-.9h.6m-.5-3.6h.6m-.4 1.1h.6m-.5 2.2h.6m-.5-2.2h.6m0-.7h.6m.2 1h.6m-.6 7.1h.6m-.5-6h.6m-.6 1.8h.6m-.5-3.2h.6m-.5-.4h.6m0 3.8h.6m-.1-1.6h.6m-.4-3.1h.6m.1 1.7h.6m.2-.4h.6m-.5-.1h.6m-.2-1.1h.6m.6 .6h.6m-.6-.8h.6m.2 2.4h.6m1.6 .5h.6m-.5-.6h.6m-.4-.6h.6m-.3 .5h.6m-.3 3.1h.6m-.2-.7h.6m.5-3.3h.6m2.7 2.3h.6m2.7 .3h.6m.2-3.4h.6m.1 2h.6m1.7 3.9h.6m10.4-5.3h.6" stroke="#000" stroke-width="0.6" fill="none" stroke-opacity="0.12"/>
<path d="m189.5 362.5h.7m-.7-1.8h.7m-.7 .2h.7m-.6 .8h.7m-.7 .4h.7m-.7-1.3h.7m-.6-2.6h.7m-.7 2.4h.7m-.6-.4h.7m-.6 2.4h.7m-.7-3.3h.7m-.7 2.7h.7m-.7-1.6h.7m-.7 .7h.7m-.6-1.2h.7m-.7 3.2h.7m-.7-4.1h.7m-.6 .7h.7m-.7 4.5h.7m-.7-3.7h.7m-.6-2.8h.7m-.7 2.2h.7m-.7-.6h.7m-.7-1.9h.7m-.7 1.4h.7m-.7 .2h.7m-.6 .1h.7m-.6 1.8h.7m-.6 .1h.7m-.7 2.5h.7m-.6-3h.7m-.7 1.5h.7m-.7-.6h.7m-.6-2.3h.7m-.7 2.4h.7m-.7-4.4h.7m-.7 3.7h.7m-.5-1.1h.7m-.7 1.7h.7m-.6-2.5h.7m-.7 1.3h.7m-.7 .6h.7m-.7-1.2h.7m-.6 .2h.7m-.7 6.4h.7m-.7-3.8h.7m-.6-3.2h.7m-.7 1.3h.7m-.7-1.2h.7m-.7 .2h.7m-.7 1.8h.7m-.7-.7h.7m-.7 1.8h.7m-.7-1.2h.7m-.6 1.4h.7m-.7-.2h.7m-.7-2.3h.7m-.7-.1h.7m-.6-1.3h.7m-.7 2h.7m-.7 .1h.7m-.7-2.1h.7m-.7 1.1h.7m-.7 .2h.7m-.7 2.7h.7m-.6-2.1h.7m-.7 .2h.7m-.7 .1h.7m-.7 1.3h.7m-.7 2h.7m-.6-3.4h.7m-.7-1h.7m-.6 .4h.7m-.7 .2h.7m-.6-1.8h.7m-.7-1.3h.7m-.7 2.2h.7m-.7 4.6h.7m-.7 1.5h.7m-.6-2.5h.7m-.7-3.7h.7m-.7 2.9h.7m-.7 1.7h.7m-.7-2.2h.7m-.7-.8h.7m-.6-.5h.7m-.7 3h.7m-.7-6h.7m-.7 1.9h.7m-.6 3.3h.7m-.7-1h.7m-.7-1.7h.7m-.7-.4h.7m-.7 1.4h.7m-.6 .1h.7m-.7 .9h.7m-.7 .8h.7m-.6 .6h.7m-.7-1.7h.7m-.7-2.4h.7m-.6 1.5h.7m-.7 1.6h.7m-.6-.9h.7m-.7-1.2h.7m-.7-2.8h.7m-.7 4.6h.7m-.7 .2h.7m-.6-3.7h.7m-.6 1.9h.7m-.7 0h.7m-.7-1.7h.7m-.7 1.3h.7m-.7-2.4h.7m-.7 5.5h.7m-.7-1.2h.7m-.7 .3h.7m-.6-1.2h.7m-.7-1.7h.7m-.7-1.5h.7m-.6 1.5h.7m-.7 2.4h.7m-.7-.6h.7m-.6-1h.7m-.7 3.1h.7m-.7-3.5h.7m-.7 1.6h.7m-.7 2.3h.7m-.7-3h.7m-.6-1.7h.7m-.7 .6h.7m-.7 2.1h.7m-.7-2.5h.7m-.7 1.6h.7m-.6-1.5h.7m-.7-1.5h.7m-.7 .5h.7m-.7 2.9h.7m-.7 .5h.7m-.7 1.4h.7m-.6 1.5h.7m-.7-3.5h.7m-.7-3h.7m-.7 1.4h.7m-.6-2.8h.7m-.7 4.4h.7m-.7 1h.7m-.7 .5h.7m-.7-5.7h.7m-.7 4.9h.7m-.6-4.5h.7m-.7 3.7h.7m-.7 1.4h.7m-.7-2.3h.7m-.7 2h.7m-.7-1h.7m-.6 1.7h.7m-.7-1h.7m-.7-2.7h.7m-.7 3.9h.7m-.7 .7h.7m-.6-1.1h.7m-.7-2h.7m-.7-2h.7m-.7 .2h.7m-.6 3h.7m-.7-2.3h.7m-.7 2.6h.7m-.7-3.2h.7m-.6 2.1h.7m-.7-2.3h.7m-.7 1.2h.7m-.7-.2h.7m-.7 3.6h.7m-.7-1.7h.7m-.6-1.6h.7m-.7 .5h.7m-.7-.9h.7m-.7-2.8h.7m-.7 3.8h.7m-.7 2.3h.7m-.6-3.7h.7m-.7 .3h.7m-.7 4.6h.7m-.7-3.6h.7m-.6 3h.7m-.7 2.2h.7m-.7-4.2h.7m-.7 .3h.7m-.7-2.8h.7m-.6 1.8h.7m-.7-.5h.7m-.7 2.2h.7m-.7-.7h.7m-.7 .3h.7m-.7-4.5h.7m-.7 1h.7m-.7 .2h.7m-.6-1.4h.7m-.7 3.2h.7m-.7-.6h.7m-.7 2.1h.7m-.7-2.5h.7m-.7 1.4h.7m-.7-2h.7m-.6 .3h.7m-.7 1.9h.7m-.7-.9h.7m-.6 4.8h.7m-.7-5.7h.7m-.7 4.4h.7m-.7-2.8h.7m-.7-2.1h.7m-.7-.1h.7m-.7 .6h.7m-.7 .2h.7m-.7 2.7h.7m-.6-1.3h.7m-.7 .8h.7m-.7 .9h.7m-.7-4.8h.7m-.7-.1h.7m-.7 2.3h.7m-.6-1.4h.7m-.7 1.1h.7m-.7 3.9h.7m-.7-6.4h.7m-.7 .8h.7m-.7 4.4h.7m-.7-.2h.7m-.7-2.1h.7m-.6 1.5h.7m-.7-2.1h.7m-.7-.5h.7m-.7 3.1h.7m-.7-1h.7m-.6 2.5h.7m-.7-2.7h.7m-.7-.5h.7m-.7 1.6h.7m-.7-.6h.7m-.7-2.6h.7m-.7 1.4h.7m-.7-.7h.7m-.6-.4h.7m-.7 1h.7m-.7-.3h.7m-.7-1h.7m-.6 2.4h.7m-.7 .6h.7m-.7-1.2h.7m-.7 3.7h.7m-.7-3.5h.7m-.7 .2h.7m-.7 2.3h.7m-.7-3.7h.7m-.7-.6h.7m-.7 .3h.7m-.6 0h.7m-.7 2.6h.7m-.7 .2h.7m-.7-.5h.7m-.7 1.2h.7m-.6-1.9h.7m-.7 2.8h.7m-.7-2.6h.7m-.6-.9h.7m-.7-1.3h.7m-.7 .4h.7m-.7 3.4h.7m-.7-3.6h.7m-.7-1.5h.7m-.7 5.6h.7m-.7-1h.7m-.7-1.8h.7m-.7 3.2h.7m-.6-5.9h.7m-.7 5.2h.7m-.7-3.5h.7m-.7 1.9h.7m-.7-1.2h.7m-.6-.6h.7m-.7 1.4h.7m-.7 .3h.7m-.7-.3h.7m-.6-.7h.7m-.7 .9h.7m-.7 .6h.7m-.7-1.3h.7m-.7-.8h.7m-.7 3.5h.7m-.7-2.8h.7m-.6 2.5h.7m-.7-2.5h.7m-.7-.2h.7m-.7 .7h.7m-.7-2.1h.7m-.7 3.6h.7m-.7-2.1h.7m-.7 1.7h.7m-.7-2.8h.7m-.7 1.1h.7m-.6 1.3h.7m-.7 .6h.7m-.7-3.6h.7m-.7 1.7h.7m-.7-.7h.7m-.7-1.1h.7m-.7 3.8h.7m-.6-1.9h.7m-.7 .3h.7m-.7 0h.7m-.7 1.4h.7m-.7-1.3h.7m-.7-.8h.7m-.7-1.6h.7m-.7-.2h.7m-.7 2.8h.7m-.7 1.9h.7m-.6-.8h.7m-.7-3.4h.7m-.7 3.3h.7m-.7-2.1h.7m-.7-1.7h.7m-.7 2h.7m-.6 2.6h.7m-.7-1.2h.7m-.7-3.2h.7m-.7 1.2h.7m-.7 .5h.7m-.7 1.5h.7m-.6-1.2h.7m-.7 1h.7m-.7 1.1h.7m-.7 .1h.7m-.7-4h.7m-.7 3.6h.7m-.7 2.8h.7m-.7-7.5h.7m-.6 3.8h.7m-.7-2.4h.7m-.7 1.3h.7m-.7-2.1h.7m-.7 2.1h.7m-.7 3.3h.7m-.7-2h.7m-.7-1.2h.7m-.6 1.7h.7m-.7-2.4h.7m-.7 1.1h.7m-.7 0h.7m-.7 3h.7m-.6-.8h.7m-.7-2h.7m-.7 .9h.7m-.7-2.2h.7m-.7-2.6h.7m-.7 7.3h.7m-.7-4.5h.7m-.7 1.1h.7m-.6-1.4h.7m-.7 3.5h.7m-.7-1.7h.7m-.7-.9h.7m-.7 .7h.7m-.7 1.2h.7m-.7-1.9h.7m-.7 2.7h.7m-.6-3.9h.7m-.7-2.2h.7m-.7 2h.7m-.7 5.5h.7m-.7-5.3h.7m-.7 1.4h.7m-.7 1.3h.7m-.6 .8h.7m-.7-1.8h.7m-.7 1.1h.7m-.7 .7h.7m-.7-2.3h.7m-.7 3.1h.7m-.7-4.5h.7m-.7 .1h.7m-.6 1.8h.7m-.7-1.1h.7m-.7 .3h.7m-.7 1.4h.7m-.7-1.4h.7m-.7-.1h.7m-.6-.9h.7m-.7 .8h.7m-.7 .2h.7m-.7-.6h.7m-.7 1.9h.7m-.7-2.4h.7m-.7 4.9h.7m-.7-2.9h.7m-.7-.3h.7m-.7 1.7h.7m-.6-.2h.7m-.7 0h.7m-.7-.5h.7m-.7-.3h.7m-.7-.7h.7m-.7 .7h.7m-.6-.6h.7m-.7 0h.7m-.7-1h.7m-.7 4.2h.7m-.7-4.6h.7m-.6 2.7h.7m-.6-1.8h.7m-.7 1.8h.7m-.7-.7h.7m-.7-.3h.7m-.7 .8h.7m-.7 1.2h.7m-.6-3.8h.7m-.7 .7h.7m-.7-2h.7m-.6 4.4h.7m-.7-4h.7m-.7 4.3h.7m-.7-.2h.7m-.6 1.5h.7m-.7-4.2h.7m-.7 .5h.7m-.7-3.3h.7m-.7 2.2h.7m-.6 .3h.7m-.7-.8h.7m-.7 1.6h.7m-.7 .2h.7m-.6-.7h.7m-.7 .8h.7m-.7-1.7h.7m-.7 4h.7m-.7-.2h.7m-.7-2.1h.7m-.7 .1h.7m-.7-.3h.7m-.6 .8h.7m-.7-2.5h.7m-.7 4.3h.7m-.6-4.2h.7m-.7 .2h.7m-.7 1.7h.7m-.7-2.3h.7m-.6 2.9h.7m-.7 1.1h.7m-.7-.9h.7m-.7 .4h.7m-.7-1.3h.7m-.6 .9h.7m-.7-3.3h.7m-.7 2.2h.7m-.7 .1h.7m-.7 1.7h.7m-.6-2.7h.7m-.7 3.3h.7m-.7-3.7h.7m-.7 2.3h.7m-.7 1.3h.7m-.6-1.9h.7m-.7-.8h.7m-.7-.8h.7m-.7 1.4h.7m-.6-.6h.7m-.7-.2h.7m-.6 2.2h.7m-.7 1.5h.7m-.7-1.8h.7m-.7-2.5h.7m-.7-2.7h.7m-.7 5.4h.7m-.7 1.2h.7m-.6-1.8h.7m-.7-1.8h.7m-.7 2.5h.7m-.7-.5h.7m-.7-3.2h.7m-.7 4.6h.7m-.7-.7h.7m-.7-4.4h.7m-.6 1.8h.7m-.7 2.5h.7m-.7-1.6h.7m-.7-1.7h.7m-.6-.7h.7m-.7 2.9h.7m-.7-1.6h.7m-.7 .3h.7m-.7 1.2h.7m-.6-.1h.7m-.7 2.7h.7m-.7-2.7h.7m-.7 .9h.7m-.7-1.7h.7m-.6 .7h.7m-.7 2.4h.7m-.7-2h.7m-.7-2.1h.7m-.7 1h.7m-.6 .5h.7m-.7-1.5h.7m-.7 2.8h.7m-.7 .2h.7m-.7-2.1h.7m-.7 .5h.7m-.7 1.5h.7m-.6-2.3h.7m-.7 4.3h.7m-.7-4.9h.7m-.7 1.9h.7m-.7-2.3h.7m-.7 1.7h.7m-.7-1.1h.7m-.7 .8h.7m-.6-2.1h.7m-.7 2h.7m-.6 1.1h.7m-.7 .5h.7m-.7-.6h.7m-.7 1.1h.7m-.7-4.3h.7m-.6 2.4h.7m-.7-1h.7m-.7 1.9h.7m-.7-1.7h.7m-.7 1h.7m-.7 3.1h.7m-.6-3h.7m-.7 2.4h.7m-.7-5h.7m-.7 3.2h.7m-.7-2.3h.7m-.7 .8h.7m-.6 2.9h.7m-.7-1.5h.7m-.7-4h.7m-.7 7.5h.7m-.6-5.1h.7m-.7 4.6h.7m-.7-5.3h.7m-.7 2.5h.7m-.7-4.5h.7m-.7 .1h.7m-.6 3.3h.7m-.7-.1h.7m-.7 .5h.7m-.7 0h.7m-.7 1.2h.7m-.7 1.8h.7m-.7-3.4h.7m-.7-3h.7m-.7 5h.7m-.6-4.4h.7m-.7 4.5h.7m-.7-1.3h.7m-.7 .2h.7m-.7-1h.7m-.6 4.8h.7m-.7-4.1h.7m-.7-.9h.7m-.7 2.3h.7m-.7-2.6h.7m-.7 2.1h.7m-.6-.9h.7m-.7-.5h.7m-.7-.9h.7m-.7 .1h.7m-.7-1.2h.7m-.7 0h.7m-.7 3.5h.7m-.6 .4h.7m-.7-2.1h.7m-.7-.6h.7m-.7 2.5h.7m-.7 0h.7m-.7-.9h.7m-.6 .8h.7m-.7-2h.7m-.7 2.8h.7m-.7-2.7h.7m-.6 1.2h.7m-.7-1.2h.7m-.7 1.2h.7m-.7 1.5h.7m-.7-.6h.7m-.7-2h.7m-.7 .3h.7m-.7-1.2h.7m-.6-1.2h.7m-.7 4.6h.7m-.7-2.8h.7m-.7 1.8h.7m-.7-2.2h.7m-.7 2.5h.7m-.6-2.5h.7m-.7-1.5h.7m-.7 .6h.7m-.7 2.3h.7m-.7-.9h.7m-.7 .6h.7m-.7-1.3h.7m-.7 2h.7m-.7 .4h.7m-.6 .3h.7m-.7-3.2h.7m-.7 2.6h.7m-.7-2.4h.7m-.7 2.1h.7m-.6 1.6h.7m-.7-2.5h.7m-.7 1.9h.7m-.7-.3h.7m-.7-1.5h.7m-.7 1.2h.7m-.7-.2h.7m-.6-.7h.7m-.7 1.7h.7m-.7-.3h.7m-.6-1.1h.7m-.7-4.1h.7m-.7 5.3h.7m-.6-.8h.7m-.7 .7h.7m-.7-1.9h.7m-.7 1.8h.7m-.7 1.2h.7m-.7-2.5h.7m-.7 .1h.7m-.7 1.2h.7m-.7-1h.7m-.6 3.5h.7m-.7-3.7h.7m-.7-.6h.7m-.7 .1h.7m-.7 3.2h.7m-.7-4.6h.7m-.7 2.7h.7m-.7 1h.7m-.6-2.5h.7m-.7 1.9h.7m-.7-2.3h.7m-.7 3.4h.7m-.7-3.2h.7m-.7-.9h.7m-.6 .5h.7m-.7 3.3h.7m-.7-.2h.7m-.7-2.8h.7m-.7 2.3h.7m-.7 2.1h.7m-.7-3.4h.7m-.7-2.2h.7m-.6 5.5h.7m-.7-4h.7m-.7 3.2h.7m-.7-3.1h.7m-.7 .9h.7m-.7 2.3h.7m-.7-.7h.7m-.7-.5h.7m-.7-.3h.7m-.7-3.2h.7m-.7 2.8h.7m-.6-2.2h.7m-.7 2.6h.7m-.7 0h.7m-.6-2.5h.7m-.7 4.2h.7m-.7-4.1h.7m-.7-1.8h.7m-.7 4.1h.7m-.7-.1h.7m-.7-.1h.7m-.7-3.3h.7m-.6 3.7h.7m-.7-.9h.7m-.7-3.4h.7m-.7 1.6h.7m-.7 .6h.7m-.7-1.2h.7m-.7 3.8h.7m-.6-1.7h.7m-.7 .1h.7m-.7-.8h.7m-.7 0h.7m-.7-.3h.7m-.7 3.7h.7m-.7-1.8h.7m-.7 .9h.7m-.6-1.9h.7m-.7-.4h.7m-.7-.1h.7m-.7-.1h.7m-.7-1h.7m-.7 1.9h.7m-.7-1.5h.7m-.7 0h.7m-.7 6.3h.7m-.6-6.7h.7m-.7 4.9h.7m-.7-.3h.7m-.7-1.9h.7m-.7 .7h.7m-.7-.5h.7m-.5 1h.7m-.7-1.7h.7m-.7 .6h.7m-.6-1.9h.7m-.7-.7h.7m-.6 .1h.7m-.7 1.7h.7m-.7 .9h.7m-.7-1.6h.7m-.6-4.2h.7m-.7 6.3h.7m-.7 1.7h.7m-.7-2.5h.7m-.6 .9h.7m-.7-1.1h.7m-.7-4.1h.7m-.7 3.9h.7m-.7-1.9h.7m-.7 .7h.7m-.7-1.4h.7m-.6 1.3h.7m-.7-2h.7m-.7 1.6h.7m-.7-2.1h.7m-.7 3.9h.7m-.6-3.4h.7m-.7 .5h.7m-.7 3.3h.7m-.6-2.3h.7m-.6 .6h.7m-.7-.9h.7m-.7 0h.7m-.7 0h.7m-.7 5h.7m-.7-2.9h.7m-.7-.1h.7m-.7 1h.7m-.7 .3h.7m-.6 3.7h.7m-.7-4.6h.7m-.7-.5h.7m-.7 .3h.7m-.7-1h.7m-.7 1.1h.7m-.7-.5h.7m-.7 4h.7m-.6-2.8h.7m-.6-1.3h.7m-.7 .2h.7m-.7-1.1h.7m-.7 1.5h.7m-.7 .4h.7m-.7 2.2h.7m-.7-3.8h.7m-.7 1.9h.7m-.7-2.5h.7m-.7 1.6h.7m-.6-.1h.7m-.7-.7h.7m-.7 1.7h.7m-.6-1.9h.7m-.7 3.3h.7m-.7-2.6h.7m-.7 .9h.7m-.6-3h.7m-.7 1.8h.7m-.6 .1h.7m-.7 1.2h.7m-.7-.3h.7m-.7-1.3h.7m-.7-.7h.7m-.7 .8h.7m-.7-.2h.7m-.7 2.1h.7m-.7-1.2h.7m-.6 1h.7m-.7-2h.7m-.7 2.4h.7m-.7 1h.7m-.7-2.3h.7m-.7-.5h.7m-.6-1.1h.7m-.7 1.8h.7m-.7 0h.7m-.7-2.8h.7m-.7 .9h.7m-.7 .6h.7m-.7-4.4h.7m-.6 2.5h.7m-.7 1.3h.7m-.7 .3h.7m-.6-1h.7m-.7 3.2h.7m-.7 1.3h.7m-.7-1.9h.7m-.7-.2h.7m-.6-2.6h.7m-.7 2.8h.7m-.7-3.8h.7m-.7 3.9h.7m-.7 1.6h.7m-.6 .1h.7m-.7-1.7h.7m-.7 .8h.7m-.7-2.9h.7m-.7 4.5h.7m-.6-4.1h.7m-.7 2.6h.7m-.7-.5h.7m-.7-2.1h.7m-.6 1.5h.7m-.7 1.3h.7m-.7-.2h.7m-.6-1.9h.7m-.7 4h.7m-.7-3.5h.7m-.7-1.6h.7m-.7 3.3h.7m-.6-3h.7m-.7 3.4h.7m-.7-2.7h.7m-.7 3.5h.7m-.7-.2h.7m-.7-3.5h.7m-.7 .5h.7m-.7-2.1h.7m-.7 .4h.7m-.7 1.3h.7m-.6 1.7h.7m-.7-2.3h.7m-.7 1.1h.7m-.6 .1h.7m-.7-2.2h.7m-.7 1.5h.7m-.6 2.8h.7m-.7-.6h.7m-.7-3.4h.7m-.6 3.4h.7m-.7-1.5h.7m-.7-1.7h.7m-.7 2.8h.7m-.6 .3h.7m-.7-2.5h.7m-.7-.8h.7m-.7 2.7h.7m-.7-.2h.7m-.6-3.4h.7m-.6 1.3h.7m-.7 .5h.7m-.7 2.6h.7m-.7-3.2h.7m-.7 1.9h.7m-.7 2h.7m-.7-1.2h.7m-.6-.1h.7m-.7-3h.7m-.7 1.3h.7m-.7 2.2h.7m-.7-.3h.7m-.7 .8h.7m-.7-1.8h.7m-.7 3.4h.7m-.6-4.7h.7m-.7-.8h.7m-.6 3.6h.7m-.7-2.4h.7m-.7 2.6h.7m-.7-2.4h.7m-.7 2h.7m-.7-3.2h.7m-.7 1.6h.7m-.7 1.8h.7m-.7-.9h.7m-.7-.3h.7m-.7-2.5h.7m-.6 2.8h.7m-.7-2.3h.7m-.7 3h.7m-.7-2.4h.7m-.7-.1h.7m-.7 2.3h.7m-.7-2.3h.7m-.6 2.7h.7m-.7-.1h.7m-.7-1.2h.7m-.7 .5h.7m-.7 .6h.7m-.7-2.9h.7m-.6 .5h.7m-.7 .5h.7m-.7 .7h.7m-.6-1.5h.7m-.7 1.5h.7m-.7 .4h.7m-.6-.1h.7m-.7 1.2h.7m-.7-2.6h.7m-.6-1.2h.7m-.7 .8h.7m-.7 .6h.7m-.7 1.8h.7m-.7 .5h.7m-.7-2.2h.7m-.7 .2h.7m-.6 2.4h.7m-.7-.2h.7m-.7-1.9h.7m-.7-.1h.7m-.7 1.4h.7m-.6-.2h.7m-.7-3.9h.7m-.7 .2h.7m-.7 .7h.7m-.7 2h.7m-.7-1.5h.7m-.7 1.8h.7m-.7-.9h.7m-.6 .6h.7m-.7 1.6h.7m-.6-3.3h.7m-.7 1.6h.7m-.7 1.1h.7m-.6 0h.7m-.7 .3h.7m-.7-.7h.7m-.6 .5h.7m-.7-1.1h.7m-.7 .2h.7m-.7 1h.7m-.7-2.4h.7m-.7 1.9h.7m-.7-2h.7m-.6 1.5h.7m-.7 .6h.7m-.7-1h.7m-.7 2.1h.7m-.7-1.6h.7m-.6-1.9h.7m-.7-.2h.7m-.7 4.8h.7m-.7-3.3h.7m-.6 4.6h.7m-.7-2.9h.7m-.7-3.1h.7m-.7-.3h.7m-.6 2.7h.7m-.7-1.2h.7m-.7-.1h.7m-.6 1.2h.7m-.6-1h.7m-.7-.2h.7m-.7-.6h.7m-.7 2.4h.7m-.7-1.2h.7m-.7 1.4h.7m-.7-2.6h.7m-.7 2h.7m-.5-2.4h.7m-.7 3.6h.7m-.7-3.2h.7m-.6-.6h.7m-.7 3.1h.7m-.7-.5h.7m-.7 .8h.7m-.7-2.1h.7m-.7 .7h.7m-.7 .8h.7m-.6-1h.7m-.7 1.4h.7m-.7-.8h.7m-.7 1.8h.7m-.7-2.8h.7m-.6 .6h.7m-.7-.4h.7m-.7-.4h.7m-.7 0h.7m-.7 1.1h.7m-.6-3.7h.7m-.7 6.2h.7m-.7-5.2h.7m-.6 1.4h.7m-.7 1.7h.7m-.7 .4h.7m-.6-.7h.7m-.7-1h.7m-.7 1.9h.7m-.7-.4h.7m-.6-4.1h.7m-.7 4.4h.7m-.6-2.9h.7m-.7 .1h.7m-.7 1.1h.7m-.7-.6h.7m-.7 2.9h.7m-.7-4.2h.7m-.6 1.3h.7m-.7 4.2h.7m-.7-1.8h.7m-.6-2.4h.7m-.7-1.4h.7m-.7 4.4h.7m-.6-2.7h.7m-.7 2.2h.7m-.7-.5h.7m-.7-3.3h.7m-.7 2.9h.7m-.7-1.8h.7m-.7 0h.7m-.6-2h.7m-.7 1h.7m-.7 3.4h.7m-.7-.9h.7m-.7-1.6h.7m-.7 2.5h.7m-.7-3.8h.7m-.7 .7h.7m-.6 3.1h.7m-.7-2.1h.7m-.7 1.2h.7m-.7-.3h.7m-.7 1.5h.7m-.6-1.7h.7m-.7-1.5h.7m-.7 1.3h.7m-.7-.1h.7m-.7 1.9h.7m-.6-2.7h.7m-.7 .9h.7m-.7 .3h.7m-.7 1.2h.7m-.7 0h.7m-.7-3.4h.7m-.6 1h.7m-.7 .5h.7m-.7-.2h.7m-.7 1.2h.7m-.7 1.4h.7m-.7-1.6h.7m-.6 .3h.7m-.7-2.4h.7m-.7 1.1h.7m-.7-.9h.7m-.7 2.1h.7m-.6-2.4h.7m-.7 1.7h.7m-.7-1h.7m-.6 1.9h.7m-.7-.4h.7m-.7 .7h.7m-.6-.9h.7m-.7 .2h.7m-.7 1h.7m-.7-1h.7m-.6-1.1h.7m-.7 1.6h.7m-.7-.7h.7m-.6-.6h.7m-.7-.6h.7m-.7 2.3h.7m-.6 .2h.7m-.7-2.6h.7m-.7 .7h.7m-.6 .1h.7m-.7 .5h.7m-.7-.5h.7m-.7-.6h.7m-.7 2.4h.7m-.7 .7h.7m-.6-.8h.7m-.7 .2h.7m-.7-.7h.7m-.5-.5h.7m-.7 .8h.7m-.7 .2h.7m-.7-1.2h.7m-.7-1.3h.7m-.7 .1h.7m-.7 .8h.7m-.7 .9h.7m-.6-2.3h.7m-.7 2h.7m-.7 .2h.7m-.7-.9h.7m-.7 .7h.7m-.7-1.3h.7m-.6-1.5h.7m-.7 3.5h.7m-.7 .4h.7m-.7-1.9h.7m-.7-.5h.7m-.6-2.2h.7m-.7 2.4h.7m-.7-.6h.7m-.6 .6h.7m-.7 1.6h.7m-.7-.8h.7m-.7 2.6h.7m-.6-2.6h.7m-.7 1.2h.7m-.7-1h.7m-.7-1h.7m-.7 1.9h.7m-.7-.1h.7m-.6-.7h.7m-.7-2.2h.7m-.7 .2h.7m-.7 1.1h.7m-.6 .4h.7m-.7 .6h.7m-.7 1.6h.7m-.6-2h.7m-.7 .8h.7m-.6-3h.7m-.7 2.6h.7m-.7-1.2h.7m-.7 1h.7m-.7-1.9h.7m-.7-.8h.7m-.7 4.7h.7m-.7-1.7h.7m-.7-1.1h.7m-.7-2.3h.7m-.6 2.2h.7m-.7 3.8h.7m-.7-3.1h.7m-.7-1.6h.7m-.7 1.5h.7m-.7 .7h.7m-.6-1.6h.7m-.6 .6h.7m-.7 .5h.7m-.7 .2h.7m-.7 1h.7m-.7-1.2h.7m-.6-.6h.7m-.7 1.1h.7m-.7-.9h.7m-.6 1.2h.7m-.7 1.6h.7m-.7-1.1h.7m-.7-1.2h.7m-.7 2.1h.7m-.7-1.6h.7m-.7 .6h.7m-.7-1.4h.7m-.6 .7h.7m-.7 1.7h.7m-.7-4.6h.7m-.7 3.9h.7m-.7-1.1h.7m-.6 0h.7m-.7-.1h.7m-.7 1.1h.7m-.6-2.3h.7m-.7-.3h.7m-.7 2h.7m-.6-3.6h.7m-.7 4.4h.7m-.6-1.2h.7m-.7 .5h.7m-.6-.1h.7m-.7-1.7h.7m-.7 .9h.7m-.6-1.3h.7m-.7 3.4h.7m-.7-.2h.7m-.7-.2h.7m-.7-3.2h.7m-.7-1.7h.7m-.6 5.5h.7m-.7-2.8h.7m-.6 .5h.7m-.7-2.2h.7m-.7 1.6h.7m-.7 .2h.7m-.6 3h.7m-.7-3.1h.7m-.7 .1h.7m-.7 .1h.7m-.6-1h.7m-.6 3.2h.7m-.7-3.1h.7m-.7-.6h.7m-.7 .4h.7m-.6-.8h.7m-.7 2.1h.7m-.7-2.2h.7m-.6 2.3h.7m-.7 .5h.7m-.7 0h.7m-.7-2.7h.7m-.7 1.2h.7m-.6 1.3h.7m-.7-.8h.7m-.7 .1h.7m-.7-.5h.7m-.6 1.9h.7m-.7-2.8h.7m-.7 1.2h.7m-.7 1.7h.7m-.7-2.1h.7m-.7-1.8h.7m-.6 3.9h.7m-.7-3.3h.7m-.7 6.1h.7m-.6-5.2h.7m-.7 .7h.7m-.7 1.3h.7m-.6 1.9h.7m-.7-4.6h.7m-.6 2.9h.7m-.7-.2h.7m-.7-1.6h.7m-.6 4.7h.7m-.7-4.4h.7m-.7 .2h.7m-.6 1h.7m-.7-1h.7m-.7-1.3h.7m-.7 3h.7m-.7-.2h.7m-.6-2.8h.7m-.7 .8h.7m-.6 2.5h.7m-.7 .7h.7m-.7-4h.7m-.7 1.4h.7m-.6 .1h.7m-.7 .1h.7m-.7 .8h.7m-.6-.6h.7m-.6 .7h.7m-.7-1.9h.7m-.7-.2h.7m-.7 1.6h.7m-.6 .7h.7m-.7 .1h.7m-.7-3.9h.7m-.7 3.4h.7m-.6 .1h.7m-.7-.6h.7m-.6-1.7h.7m-.7 3.1h.7m-.7-2.1h.7m-.6-.6h.7m-.7 .3h.7m-.7 2.2h.7m-.6-2.6h.7m-.7 .4h.7m-.7 .7h.7m-.7 1.1h.7m-.7 .1h.7m-.6-1.8h.7m-.7 .3h.7m-.7-1.2h.7m-.7 2.5h.7m-.7-1.6h.7m-.6 .3h.7m-.7 1.3h.7m-.7-1h.7m-.7-1.5h.7m-.6 2.9h.7m-.5-2.6h.7m-.7-1.1h.7m-.6 3h.7m-.7-1.1h.7m-.7-.6h.7m-.6 2.8h.7m-.7-2.1h.7m-.7 1.5h.7m-.6 .5h.7m-.7-4.2h.7m-.7 4.7h.7m-.6-2.2h.7m-.7-1.6h.7m-.7 2.6h.7m-.7 .5h.7m-.6-4.5h.7m-.7 3.6h.7m-.7-1h.7m-.7 .6h.7m-.6 .4h.7m-.7-1.3h.7m-.7 .5h.7m-.6-.3h.7m-.7 .3h.7m-.7-1.1h.7m-.7 1.1h.7m-.6-.2h.7m-.7 0h.7m-.7 1.7h.7m-.7-1.2h.7m-.6 .6h.7m-.7-1.3h.7m-.6 1.7h.7m-.7 .7h.7m-.6-1h.7m-.6 .9h.7m-.7-1.1h.7m-.7-.6h.7m-.7 .3h.7m-.6 .9h.7m-.7-1.6h.7m-.7 1.9h.7m-.7-3.3h.7m-.7 1.5h.7m-.7-1.8h.7m-.6 2.1h.7m-.7-2h.7m-.7 2.6h.7m-.6-1.1h.7m-.7 .4h.7m-.7 1.9h.7m-.6-.4h.7m-.7-1.2h.7m-.7-.9h.7m-.6-.4h.7m-.7 .7h.7m-.7-.4h.7m-.6 .8h.7m-.7 1.1h.7m-.7-.8h.7m-.7 1.7h.7m-.7 0h.7m-.6-1.3h.7m-.7 .1h.7m-.6-1.3h.7m-.7-.7h.7m-.7 1.7h.7m-.7-2.2h.7m-.6 1.5h.7m-.7 1.7h.7m-.6 0h.7m-.7-1.4h.7m-.6 2h.7m-.6 .6h.7m-.7-3.1h.7m-.7 1.3h.7m-.6-1.2h.7m-.7 .8h.7m-.7-.2h.7m-.6-.6h.7m-.6 .4h.7m-.6 .9h.7m-.7 1.1h.7m-.7-1.2h.7m-.7-1.9h.7m-.7 2.3h.7m-.7-1.2h.7m-.6 .4h.7m-.7-2.5h.7m-.7 1.5h.7m-.6-1h.7m-.7-.4h.7m-.6 1.3h.7m-.6 2.3h.7m-.7-.7h.7m-.6 .5h.7m-.6-2.1h.7m-.7 1.4h.7m-.6-1.5h.7m-.7 2h.7m-.7 .3h.7m-.7-.7h.7m-.6-2.6h.7m-.7 1.7h.7m-.6-1.7h.7m-.7 2.9h.7m-.7-.9h.7m-.7 .1h.7m-.6-3h.7m-.5 1.9h.7m-.6 2.2h.7m-.7-3h.7m-.6 2h.7m-.7-3.4h.7m-.6 6.7h.7m-.7-5.1h.7m-.5 2.3h.7m-.7-2.2h.7m-.5 .3h.7m-.7-.6h.7m-.6-1.4h.7m-.7 3.5h.7m-.7-1.3h.7m-.7 .9h.7m-.7 .9h.7m-.6-3h.7m-.7 2.2h.7m-.5-.6h.7m-.7-.6h.7m-.7 .2h.7m-.7-.2h.7m-.6 .9h.7m-.7 2.4h.7m-.6-1.3h.7m-.7-1h.7m-.7-.3h.7m-.7 2h.7m-.6-1.7h.7m-.6-.7h.7m-.7 2h.7m-.6-.7h.7m-.7-2.4h.7m-.7 2.6h.7m-.7-1.7h.7m-.6 1h.7m-.7 .2h.7m-.7-1.1h.7m-.6 2.4h.7m-.7-.3h.7m-.6 1.8h.7m-.7-2.5h.7m-.7-.6h.7m-.7-.7h.7m-.6 .5h.7m-.7 .2h.7m-.6 1.2h.7m-.7-.3h.7m-.7-1.5h.7m-.5 .6h.7m-.6-.9h.7m-.7-.3h.7m-.7 .9h.7m-.6 .5h.7m-.7-.6h.7m-.7 1.2h.7m-.7-1.1h.7m-.7 .2h.7m-.7-.3h.7m-.6 .6h.7m-.6 .3h.7m-.7-.6h.7m-.7 .5h.7m-.6 1.4h.7m-.7-2.1h.7m-.6-.1h.7m-.6 2.1h.7m-.5-.8h.7m-.7-2.8h.7m-.6-.8h.7m-.6 4.3h.7m-.7-.4h.7m-.6-.7h.7m-.7-.4h.7m-.7 1.8h.7m-.7-1.8h.7m-.6 .8h.7m-.7 0h.7m-.6-2h.7m-.7 1.5h.7m-.6 .7h.7m-.6-2.7h.7m-.7 2h.7m-.6-.6h.7m-.6 1.1h.7m-.7-3.3h.7m-.7 .7h.7m-.6 1.5h.7m-.7 1.6h.7m-.6-4.4h.7m-.5 1.5h.7m-.7 2.7h.7m-.7-.7h.7m-.6-2h.7m-.7 2.5h.7m-.6 0h.7m-.7-.4h.7m-.7 1.4h.7m-.6-2.3h.7m-.7-1.1h.7m-.7 1.8h.7m-.6 .4h.7m-.7-2.5h.7m-.7 3.5h.7m-.7-2.5h.7m-.6-.8h.7m-.7 2.1h.7m-.6-1.5h.7m-.6-1h.7m-.7 .3h.7m-.6 3.9h.7m-.7-1.4h.7m-.6-.9h.7m-.7-.2h.7m-.6-2h.7m-.7 1.6h.7m-.6 .9h.7m-.7-.5h.7m-.6 2.6h.7m-.6-3.5h.7m-.6 1.6h.7m-.6-.8h.7m-.7-.4h.7m-.7-.2h.7m-.7 2.3h.7m-.7-1.2h.7m-.7 .2h.7m-.7-1.4h.7m-.6 1.6h.7m-.7 .8h.7m-.7-.7h.7m-.6 .9h.7m-.7-3.2h.7m-.7 .4h.7m-.6 1.1h.7m-.7 .5h.7m-.6 1.1h.7m-.7-1.9h.7m-.6 .4h.7m-.6-.3h.7m-.7-.2h.7m-.7-.1h.7m-.6-1.3h.7m-.7 1.3h.7m-.7 1h.7m-.6 .7h.7m-.7-1.2h.7m-.6 .6h.7m-.6-.7h.7m-.6 .8h.7m-.7-2.8h.7m-.6-.9h.7m-.6 3.6h.7m-.7-2.8h.7m-.6 3h.7m-.7 1.1h.7m-.7-2.9h.7m-.7-.7h.7m-.6 4.7h.7m-.7-3h.7m-.7-.7h.7m-.6 1.2h.7m-.7-.6h.7m-.7 1.1h.7m-.6-1.1h.7m-.7-1.2h.7m-.7 .8h.7m-.6-1.5h.7m-.6 1.7h.7m-.7-2.3h.7m-.7 4.4h.7m-.6-4.3h.7m-.6 2.4h.7m-.7 .4h.7m-.6-1.7h.7m-.7 2.4h.7m-.2-1.7h.7m-.7 1.3h.7m-.7-.9h.7m-.7-3.2h.7m-.5 3.5h.7m-.7-1.9h.7m-.6 1.7h.7m-.7 2.3h.7m-.5-1.5h.7m-.7 1.4h.7m-.6-.8h.7m-.6-2.1h.7m-.6 1.5h.7m-.5 1.1h.7m-.7-4.2h.7m-.6 3.3h.7m-.7-1.6h.7m-.6 1.8h.7m-.7-.2h.7m-.6-1.8h.7m-.6 2.4h.7m-.7-1.4h.7m-.6 .5h.7m-.7-.4h.7m-.6 .3h.7m-.7 .1h.7m-.6-.8h.7m-.6-.7h.7m-.5 4.2h.7m-.7-.3h.7m-.7-5.2h.7m-.5 1h.7m-.7 2.1h.7m-.7 .2h.7m-.6-.5h.7m-.6 0h.7m-.6-2.1h.7m-.7 3.7h.7m-.6-2.5h.7m-.6 2.8h.7m-.7-1.1h.7m-.6-.4h.7m-.7-.9h.7m-.7 1.2h.7m-.6-2h.7m-.7 1.1h.7m-.7 1.9h.7m-.6-4.8h.7m-.7 1.5h.7m-.4 .7h.7m-.6 .3h.7m-.7-.8h.7m-.7-.8h.7m-.7 1h.7m-.6 1h.7m-.7-.6h.7m-.6 .4h.7m-.7 .3h.7m-.6 1.6h.7m-.6-2h.7m-.7 .1h.7m-.7 1.6h.7m-.5-3.4h.7m-.7 3.1h.7m-.6 .4h.7m-.7-2.1h.7m-.7 0h.7m-.6-.7h.7m-.4 2.7h.7m-.6-1.3h.7m-.5-.3h.7m-.5 1.5h.7m-.7 .4h.7m-.6-.6h.7m-.6-2.6h.7m-.6 4.1h.7m-.7-2.8h.7m-.5-1.2h.7m-.7 1.6h.7m-.6-1.2h.7m-.6 .2h.7m-.6-1.3h.7m-.7-.7h.7m-.6 4.2h.7m-.6-2.4h.7m-.5 3.6h.7m-.6-4.2h.7m-.6-.1h.7m-.6 .9h.7m-.7 .2h.7m-.6-1.1h.7m-.7 3.1h.7m-.5-1.3h.7m-.6 2.5h.7m-.6-2.5h.7m-.5-.7h.7m-.6 1.7h.7m-.6-3.2h.7m-.7 1.5h.7m-.6 0h.7m-.4 1.9h.7m-.7-1.6h.7m-.6-.7h.7m-.6 1.5h.7m-.7-.6h.7m-.4-1.1h.7m-.7 1.2h.7m-.6 .4h.7m-.6-1.4h.7m-.5 .4h.7m-.7 1.5h.7m-.5 0h.7m-.6-1.3h.7m-.7 .8h.7m-.7-3.5h.7m-.5 3.8h.7m-.7-1.9h.7m-.5-1.6h.7m-.6 2h.7m-.5-1h.7m-.6 1.2h.7m-.5 .9h.7m-.5-.5h.7m-.6 .2h.7m-.5 .5h.7m-.7-.1h.7m-.7-1.1h.7m-.5 .6h.7m-.7 1.1h.7m-.6-1.4h.7m-.5 .5h.7m-.6-1.6h.7m-.5 .6h.7m-.6-.7h.7m-.7 .8h.7m-.6 0h.7m-.5 .3h.7m-.7 .2h.7m-.5-.2h.7m-.6 .6h.7m-.6 1.1h.7m-.7-.8h.7m-.6 1.1h.7m-.4-2.1h.7m-.7 .7h.7m-.5 .2h.7m-.6-.8h.7m-.7 .1h.7m-.7 1.6h.7m-.6-2h.7m-.7-.2h.7m-.5 1h.7m.2-1h.7m-.7 1.5h.7m-.6-3.6h.7m-.6 1.7h.7m-.7 .2h.7m-.6 1.3h.7m-.7 .7h.7m-.5-.5h.7m-.6-1.4h.7m-.5 1.1h.7m-.5 .3h.7m-.4-1.3h.7m-.6 1h.7m-.6-1.1h.7m-.7 .1h.7m-.6 .7h.7m-.6 1h.7m-.6-1h.7m-.7 1.6h.7m-.6-3.1h.7m-.6 1h.7m.4-.2h.7m-.4 1.3h.7m-.5-.1h.7m-.6-1.2h.7m-.7 1.6h.7m-.4-.3h.7m-.7 .9h.7m-.7-2h.7m-.5 .3h.7m.2 2.6h.7m-.3-3.6h.7m-.6 1.8h.7m-.3-1.6h.7m-.5 2.1h.7m-.4 .9h.7m-.6-1.4h.7m-.5 0h.7m-.5-.1h.7m-.4-1.2h.7m-.3 .6h.7m-.6 .8h.7m-.5-.1h.7m-.4-.3h.7m-.5-.3h.7m.3-.2h.7m-.3 0h.7m-.5 1.9h.7m-.7-1.1h.7m-.3-.2h.7m-.5-.2h.7m-.1-.9h.7m-.2-.6h.7m-.6 1.3h.7m-.5 .9h.7m-.5-1.7h.7" stroke="#000" stroke-width="0.7" fill="none" stroke-opacity="0.4"/>
<path d="m188.3 339.2h.7m-.7-6.1h.7m-.6 6.1h.7m-.7-.5h.7m-.7-3h.7m-.7 7h.7m-.7-5.7h.7m-.7 4.6h.7m-.6-5.6h.7m-.7 6.7h.7m-.7-5.2h.7m-.7-.4h.7m-.7 .1h.7m-.7 5.7h.7m-.6-.8h.7m-.7-1.1h.7m-.7 .5h.7m-.7 2.5h.7m-.7-3.7h.7m-.7 1h.7m-.6-2h.7m-.7-5.1h.7m-.6 3.6h.7m-.7 3.2h.7m-.7 1.5h.7m-.7-1.6h.7m-.7-4.3h.7m-.7 10.4h.7m-.7-5.4h.7m-.6 3.1h.7m-.7 .7h.7m-.7-10.1h.7m-.7 2.1h.7m-.7 7.1h.7m-.6 1h.7m-.7 .8h.7m-.7-4.9h.7m-.7-1.5h.7m-.6 1.8h.7m-.7 3.3h.7m-.7-6h.7m-.7 2h.7m-.7-3.7h.7m-.7 8.4h.7m-.6-4.8h.7m-.7-3.8h.7m-.7 .8h.7m-.7 1.9h.7m-.6 6.9h.7m-.7-1.8h.7m-.7-5.7h.7m-.7 6.2h.7m-.7-1.4h.7m-.6-1.4h.7m-.7-.6h.7m-.6 5.9h.7m-.7-4.6h.7m-.7-1.4h.7m-.7-2.8h.7m-.7 3.8h.7m-.7 2.9h.7m-.7-1.7h.7m-.7-5h.7m-.6 2.5h.7m-.7-.6h.7m-.6 1.7h.7m-.7 3.1h.7m-.6 .4h.7m-.7 .3h.7m-.7 .5h.7m-.7-2h.7m-.7 .9h.7m-.6-3.4h.7m-.7-2.7h.7m-.6 6.1h.7m-.7-.2h.7m-.7 2.4h.7m-.7-5.3h.7m-.6-3h.7m-.7 5.4h.7m-.7 7.2h.7m-.7-4.2h.7m-.7-5.3h.7m-.7-1.2h.7m-.7-.7h.7m-.7 3.6h.7m-.7-7.2h.7m-.6 7.9h.7m-.7 2h.7m-.6-.5h.7m-.7 2.4h.7m-.7-3h.7m-.7 .6h.7m-.7-6.9h.7m-.7 11.9h.7m-.7-1.4h.7m-.6-4.5h.7m-.7 1.2h.7m-.7-1.4h.7m-.7-2.2h.7m-.7 1.1h.7m-.7 1.9h.7m-.6-3.1h.7m-.7 3.4h.7m-.7-2.6h.7m-.7 .8h.7m-.7-2.3h.7m-.6 1.6h.7m-.7 5.1h.7m-.7-6.6h.7m-.7-1.4h.7m-.7 5.7h.7m-.6 4.8h.7m-.7 .8h.7m-.7-7.1h.7m-.7-3.1h.7m-.7 6.7h.7m-.7-1.4h.7m-.6-3.9h.7m-.7 1.6h.7m-.7 3h.7m-.7-.2h.7m-.7 .1h.7m-.6-1.6h.7m-.7 3.3h.7m-.7-2.9h.7m-.7-1.3h.7m-.7 1.5h.7m-.7-1h.7m-.6-1.4h.7m-.7 .9h.7m-.7-1.8h.7m-.7 6.1h.7m-.7-.4h.7m-.7-2.2h.7m-.6 .6h.7m-.7 4.3h.7m-.7-5.1h.7m-.7-.1h.7m-.7 6.7h.7m-.6-3.9h.7m-.7-.2h.7m-.7-3.3h.7m-.7 1.6h.7m-.7 2.9h.7m-.7 .2h.7m-.7-1.5h.7m-.7 1.2h.7m-.7-1.8h.7m-.6 3.3h.7m-.7 2.4h.7m-.7-7.9h.7m-.7 7.2h.7m-.7-6.7h.7m-.7 3.9h.7m-.7-5.3h.7m-.7 4.4h.7m-.7 3.9h.7m-.6-2.9h.7m-.7-2.5h.7m-.7 1h.7m-.7 6.5h.7m-.7-5h.7m-.7 1.5h.7m-.7-2.4h.7m-.7-4.6h.7m-.6 3.9h.7m-.7 2.5h.7m-.6 3.7h.7m-.7-6.5h.7m-.7 .5h.7m-.7 2.4h.7m-.6-9h.7m-.7 3.1h.7m-.7 2.6h.7m-.6 4.2h.7m-.7-2h.7m-.7-1.5h.7m-.7-.5h.7m-.7 5.7h.7m-.7-8h.7m-.6 1.1h.7m-.7-1.2h.7m-.6 8.2h.7m-.7 1.3h.7m-.7-3.3h.7m-.7 .2h.7m-.7-1.2h.7m-.7-.9h.7m-.7 5.3h.7m-.6-7.5h.7m-.7 .1h.7m-.7 2h.7m-.7-1.1h.7m-.7 .5h.7m-.6-1h.7m-.7 1.6h.7m-.7 1.3h.7m-.7 1.1h.7m-.7-1.1h.7m-.7 .8h.7m-.6-6.8h.7m-.7 8.4h.7m-.6-1.8h.7m-.7-3.2h.7m-.6 .8h.7m-.7-1.4h.7m-.7 5.9h.7m-.7-6.4h.7m-.7 4.8h.7m-.7-.4h.7m-.7 1.3h.7m-.7-8.3h.7m-.7 5.3h.7m-.6-.1h.7m-.7 2.5h.7m-.6 3.4h.7m-.7-1.3h.7m-.7-4.2h.7m-.7 6.7h.7m-.7-9.7h.7m-.7 7.5h.7m-.6-.3h.7m-.7 .1h.7m-.7 1.3h.7m-.7-.2h.7m-.7-2.4h.7m-.7 .6h.7m-.7 2.7h.7m-.7-8.5h.7m-.6 4.9h.7m-.7 1.6h.7m-.7 1.6h.7m-.7-3.3h.7m-.6 0h.7m-.7 4.9h.7m-.7-7.5h.7m-.6 4.9h.7m-.7-3.6h.7m-.7 3.5h.7m-.7-1.7h.7m-.6-.7h.7m-.7-2.3h.7m-.7 1h.7m-.7 2.9h.7m-.6 7.8h.7m-.7-9.4h.7m-.7 1.4h.7m-.7-1.2h.7m-.7 3.1h.7m-.7-.6h.7m-.7 2h.7m-.7-4.1h.7m-.6 1.2h.7m-.7 1.1h.7m-.7-1.8h.7m-.7-.9h.7m-.6-3.5h.7m-.7 3.6h.7m-.7 2.9h.7m-.6 0h.7m-.7-8.8h.7m-.7 3.1h.7m-.6 3.1h.7m-.7 6.2h.7m-.6 .7h.7m-.7-4.3h.7m-.7-2.9h.7m-.7 8.9h.7m-.7-4.6h.7m-.6-.8h.7m-.7 6.4h.7m-.7-9.6h.7m-.6-3h.7m-.7 5.3h.7m-.7 .6h.7m-.7 .1h.7m-.7 2h.7m-.7-3.1h.7m-.6-1.9h.7m-.7 6.8h.7m-.7-3.2h.7m-.6 .2h.7m-.7-.8h.7m-.6 3.2h.7m-.7-3.1h.7m-.7 .5h.7m-.7-7.2h.7m-.7 5.7h.7m-.6-1h.7m-.7 7.5h.7m-.7-2.6h.7m-.7 .9h.7m-.7-1.2h.7m-.6 5.1h.7m-.7-5.3h.7m-.7-3.2h.7m-.7 5.1h.7m-.7-7h.7m-.6 2.3h.7m-.7 4.6h.7m-.7-1.3h.7m-.7-1.8h.7m-.7 2h.7m-.7-1.1h.7m-.6-4.3h.7m-.7 3.6h.7m-.7-2.8h.7m-.7 2.7h.7m-.7 2.8h.7m-.7-.2h.7m-.6-1.4h.7m-.7 3.5h.7m-.7-5h.7m-.7 1.1h.7m-.6-1.3h.7m-.7 2.5h.7m-.7-3.3h.7m-.7 2.2h.7m-.7 2.4h.7" stroke="#000" stroke-width="0.7" fill="none" stroke-opacity="0.22"/>
<line x1="183.70" y1="361.20" x2="263.50" y2="361.20" stroke="#333" stroke-width="0.8"/>
<path d="m189.4 314.8h1m-.8-3.3h1m-1 15.6h1m-.9 2.3h1m-.9-5h1m-.9 7.2h1m-.9-3.5h1m-1 3.4h1m-.9-2.3h1m-.9-5.7h1m-1-3.1h1m-.9 6.5h1m-1-4.7h1m-1 8.6h1m-.9 2.2h1m-1-13.4h1m-.8 8.7h1m-.9 1.5h1m-.8-3h1m-.7 5.5h1m-.7-2.5h1m-1 5.2h1m-.9-.2h1m-1-.6h1m-1-4.2h1m-.9 1h1m-1-.8h1m-1-1.7h1m-1 2.1h1m-.9 1.3h1m-1-2.7h1m-.9 2.7h1m-1 1.8h1m-1 3.2h1m-.8-2.2h1m-1-1h1m-.9 4h1m-1-9.1h1m-.9 4.3h1m-.9-1.5h1m-.9 5.2h1m-1-1h1m-.9-4.8h1m-1-6.3h1m-1 13.1h1m-.6-3.1h1m-1-3.2h1m-1 6.2h1m-.9-4.5h1m-.9-14.1h1m-.9 16.9h1m-.9-9.6h1m-1 9.9h1m-1-2.2h1m-1 6.4h1m-1-1.9h1m-1 .6h1m-1 .9h1m-.9-6.1h1m-1 4.9h1m-1-2.2h1m-.9-4.6h1m-.8 4.1h1m-.9-1.6h1m-1 4.6h1m-.9-4.8h1m-.9 5.1h1m-1-4.4h1m-.9 7h1m-1-6.3h1m-.9-3.2h1m-1 5.4h1m-1-.8h1m-1 4.1h1m-.9-10h1m-1 8.6h1m-1 1.5h1m-.9-4.3h1m-.8 4.7h1m-1-1.8h1m-1 .6h1m-.9-4.7h1m-.9-2h1m-.9 3.8h1m-1-.7h1m-.9 3.4h1m-.9 1.5h1m-.9-5.3h1m-.9 5.2h1m-.9 1.9h1m-1-8.7h1m-1 7.4h1m-.9-4.1h1m-.9-.8h1m-1-.6h1m-.9 1.2h1m-.9 .3h1m-.9 4.5h1m-.9-5.6h1m-1-3.2h1m-1 5.7h1m-.9 .4h1m-.9 4.4h1m-1-2.3h1m-1-1.1h1m-1 1.3h1m-.9 2.2h1m-1-.4h1m-.9 .5h1m-1-3.1h1m-1-.3h1m-.8 1.7h1m-.8 1.2h1m-.9 .9h1m-.8 .3h1m-1-11.7h1m-1 6.6h1m-1 5.1h1m-.9-4.3h1m-1-8.3h1m-1 9.9h1m-.9-5.5h1m-1 2.7h1m-.9 5.4h1m-.8-7.3h1m-.8 7.3h1m-1-2.5h1m-1 4h1m-.8-12.3h1m-1 8h1m-.9 1.8h1m-.9-4.2h1m-.8 .8h1m-1 .9h1m-.8 5.5h1m-1-2.6h1m-.8 1.6h1m-1 1h1m-.9-2.8h1m-1-.6h1m-.7 1.9h1m-1-2.7h1m-1 4.5h1m-1-.6h1m-.9-8.9h1m-1 9h1m-.9-2.6h1m-1-4.5h1m-.9 7.6h1m-1-.1h1m-1-3.5h1m-1-4.7h1m-.9 1.3h1m-1 2h1m-.9 1.9h1m-1 .9h1m-.9-1.4h1m-1-.2h1m-.9 3.8h1m-1-2h1m-1-2.7h1m-.9-2.5h1m-.9 4.7h1m-.9-1h1m-1 1.8h1m-1 1h1m-1 1.2h1m-.9-6.2h1m-.9 6.1h1m-1-3.7h1m-1-.1h1m-.9 1.1h1m-.9-3.1h1m-.8 5.2h1m-.9-.1h1m-.8 1.6h1m-1-2.8h1m-1-4.6h1m-1 6.5h1m-.9-2h1m-.9 1.1h1m-1-2.2h1m-.9-1.3h1m-.9 4.2h1m-.9-6.1h1m-1 5.2h1m-.9-5.2h1m-1 3.1h1m-.8-2.5h1m-.9 .1h1m-.9 7.1h1m-.8-1.8h1m-1 1.8h1m-1-3.8h1m-.9-7.1h1m-.8 10.7h1m-1-2.6h1m-1 2.3h1m-.8-2.1h1m-.9-.2h1m-1-.5h1m-.9 3.4h1m-1-.3h1m-.9 .3h1m-.9-1.9h1m-.9-2.2h1m-1-2.2h1m-.9 5.2h1m-.9 1.3h1m-1-5.1h1m-.9 4h1m-.9-1.9h1m-1 3.1h1m-.9-2.3h1m-.7 2.9h1m-.8-1.5h1m-.9-14.4h1m-.9 14.4h1m-.5 1h1m-.8-2.8h1m-.9 3.6h1m-1-.3h1m-.7-1.7h1m-1-1.3h1m-.8 2.4h1m-1-4.4h1m-.8 1h1m-1 2.9h1m-.6 .9h1m-1-6.7h1m-.7 6h1m-.5-3.6h1m-1 5.3h1m-.7-1.6h1m-.9-.4h1m-.9 1.6h1m-.9 0h1m-.8-3h1m-.9 1.7h1m-1-2.6h1m-.9 1.5h1m-.9-.2h1m-.4 .7h1m-.8-2.8h1m-.7 5.1h1m-.8-4.6h1m-.8 4h1m-1-.5h1m-.8 .9h1m-.9-2.9h1m-1 2.8h1m-1-4h1m-1 2.1h1m-.8 1.7h1m-1-2.1h1m-.9-.1h1m-.6 2.6h1m-.7-.9h1m-1-3h1m-.9 1.3h1m-.8 2.9h1m-1-.1h1m-.9-3.5h1m-.9 .2h1m-.9 2.1h1m-.9-3.5h1m.3 5h1m-.9-1.6h1m-.9 .4h1m-.7-4.7h1m-1 .6h1m-.9 5.6h1m-.5-3.6h1m-.9 1h1m-.9 .5h1m-.9-.9h1m.8-.2h1m-.8 3.5h1m-1-3.1h1m-.3 1.1h1m-1-3.6h1m-.9 2.3h1m-.9 2.9h1m-.9-1.8h1m-.6 .8h1m-.9-1.2h1m-.8 1.6h1m-.8 .3h1m-.8 .5h1m-.2-1.6h1m-.6 .6h1m-.8-1.8h1m-.9 1.9h1m-1-.4h1m-1-.2h1m-.4-1.4h1m-1-2.2h1m0 3.9h1m0 .9h1m-.9-2.8h1m-.7 2.5h1m-1-1.9h1m.1-.9h1m-.6 2.6h1m-.9 1.1h1m-.5-2.1h1m-1-.1h1m-.7-.6h1m.1 2.2h1m-.9-2.3h1m-.6 1.7h1m-.6-1h1m-.6 1.9h1m-.8-2.1h1m.2-.7h1m-.7 2.6h1m-.3 .6h1m-1-3.1h1m-.7 2.1h1m-.6 .4h1m.2-6.5h1m-.3 7h1m-.7-1.7h1m-.6-2.1h1m-.8 3.7h1m-.9-5.6h1m3 4.8h1m-.1-2.1h1m-.7 2.1h1m.1 .7h1m-.3-.1h1m-.2 .3h1m-.9-3.6h1" stroke="#3a52c4" stroke-width="1.0" fill="none" stroke-opacity="0.85"/>
<path d="m190.3 325.5h1m-.6 .5h1m-.9 2.7h1m-1 .8h1m-.5-.9h1m-1 1.5h1m-.9-2.4h1m-.5 3h1m-.9 1.4h1m.3-2h1m.3-2.8h1m-.9 8.5h1m-.5 5.5h1m-1 1.8h1m-.4-3.2h1m-.8-3.9h1m-.8-2.5h1m.1 6.1h1m-.1 .4h1m-1 6.1h1m-.9-5.2h1m-.4 1.5h1m-.7 1.7h1m-.4 3.8h1m-.7-10.1h1m-.8 6.9h1m0 3.9h1m.2-1.6h1m.1 2.8h1m-.6-10.5h1m-.3 10.1h1m-.8-43.8h1m-.8 43.7h1m-1-1.5h1m-.8 2.2h1m-.9-4.5h1m-.9-3.6h1m-.5 7.6h1m.3-6.8h1m-.6 1.5h1m-.8 5.6h1m1-13.3h1m-.8 13.6h1m-.4-2.8h1m-.9 .8h1m.4-1.2h1m-.8-8.7h1m-.9-4.4h1m-.3 18.1h1m-.1-11.8h1m-1 8.4h1m-.7 2.9h1m-.9-7.9h1m.1-5.5h1m-.5 11.8h1m-.6 .7h1m-.8-5.2h1m-1 6.6h1m-.8-2.7h1m-.7-.2h1m-.9-1.5h1m-.5-11.7h1m-.7 2.4h1m.1 8.4h1m.4-2.8h1m-.3 7.7h1m-1-8.8h1m.1 9.2h1m-.3-4.2h1m-.7-7.4h1m-.6 3.7h1m-.8 1.1h1m-.6 5.9h1m0-6.7h1m-.9 3.6h1m-.9 3.5h1m-.5-5.9h1m.6 5h1m-.9 1.2h1m-.4-2.9h1m.5 2.6h1m-.6-4.6h1m-.9-.7h1m2.3 4.3h1m0 .3h1m-.7-10h1m-1 10.6h1m-1-9.6h1m-.2 7h1m-.5-4.6h1m-.4 5h1m-1-4.2h1m-.9 2.5h1m0-4.9h1m-.6 5h1m-.6 4.3h1m-.8 .3h1m-.9-19.9h1m-1 5.9h1m-1 11.6h1m-.9-1.6h1m-.3-5.7h1m0 6.9h1m-.9-12.1h1m-.6 14h1m-.6-2.9h1m-.8-.9h1m-.1 3h1m-.6-5.5h1m-.5-1.5h1m0-2.7h1" stroke="#ee3a3a" stroke-width="1.0" fill="none" stroke-opacity="0.85"/>
<path d="m189.2 330h.7m.2 2.9h.7m.1 2.5h.7m.1 2.2h.7m.1 1.9h.7m.1 1.7h.7m.1 1.5h.7m.1 1.3h.7m.2 1.1h.7m.1 1h.7m.1 .9h.7m.1 .8h.7m.1 .6h.7m.1 .6h.7m.1 .6h.7m.2 .4h.7m.1 .4h.7m.1 .4h.7m.1 .3h.7m.1 .2h.7m.1 .3h.7m.1 .2h.7m.1 .2h.7m.2 .1h.7m.1 .2h.7m.1 .1h.7m.1 .1h.7m.1 .1h.7m.1 .1h.7m.1 .1h.7m.2 0h.7m.1 .1h.7m.1 0h.7m.1 .1h.7m.1 0h.7m.1 0h.7m.1 .1h.7m.2 0h.7m.1 0h.7m.1 0h.7m.1 .1h.7m.1 0h.7m.1 0h.7m.1 0h.7m.2 0h.7m.1 0h.7m.1 0h.7m.1 0h.7m.1 0h.7m.1 0h.7m.1 .1h.7m.1 0h.7m.2 0h.7m.1 0h.7m.1 0h.7m.1 0h.7m.1 0h.7m.1 0h.7m.1 0h.7m.2 0h.7m.1 0h.7m.1 0h.7m.1 0h.7m.1 0h.7m.1 0h.7m.1 0h.7m.2 0h.7m.1 0h.7m.1 0h.7m.1 0h.7m.1 0h.7m.1 0h.7m.1 0h.7" stroke="#000" stroke-width="0.7" fill="none"/>
<text x="248.40" y="355.20" font-size="5.2">z = 3</text>
<text x="212.90" y="317.10" fill="#3f5cc4">71% Intra</text>
<text x="212.90" y="323.00" fill="#f04040">29% Inter</text>
<circle cx="254.9" cy="314.8" r="8.0" fill="#3c56b8" stroke="#222" stroke-width="0.6"/>
<path d="M254.9,314.8 L254.9,306.8 A8.0,8.0 0 0 1 262.65,316.79 Z" fill="#ee3030" stroke="#222" stroke-width="0.6"/>
<g transform="translate(329.90,299.40) rotate(45)">
<path d="M0.00 0.00h3.31v3.31h-3.31zM46.35 46.35h3.31v3.31h-3.31z" fill="#e93825"/>
<path d="M3.31 0.00h3.31v3.31h-3.31zM33.11 36.42h3.31v3.31h-3.31z" fill="#ef732d"/>
<path d="M6.62 0.00h3.31v3.31h-3.31z" fill="#ee652b"/>
<path d="M9.93 0.00h3.31v3.31h-3.31z" fill="#f1a735"/>
<path d="M13.24 0.00h3.31v3.31h-3.31zM0.00 9.93h3.31v3.31h-3.31z" fill="#f6f585"/>
<path d="M16.55 0.00h3.31v3.31h-3.31z" fill="#f0e039"/>
<path d="M19.87 0.00h3.31v3.31h-3.31zM6.62 9.93h3.31v3.31h-3.31z" fill="#f1ed49"/>
<path d="M23.18 0.00h3.31v3.31h-3.31z" fill="#f6f47f"/>
<path d="M26.49 0.00h3.31v3.31h-3.31zM0.00 33.11h3.31v3.31h-3.31z" fill="#f7f68f"/>
<path d="M29.80 0.00h3.31v3.31h-3.31zM3.31 49.66h3.31v3.31h-3.31z" fill="#f6f58e"/>
<path d="M33.11 0.00h3.31v3.31h-3.31zM46.35 43.04h3.31v3.31h-3.31z" fill="#f4f263"/>
<path d="M36.42 0.00h3.31v3.31h-3.31zM39.73 33.11h3.31v3.31h-3.31zM16.55 39.73h3.31v3.31h-3.31z" fill="#f0e339"/>
<path d="M39.73 0.00h3.31v3.31h-3.31zM19.87 9.93h3.31v3.31h-3.31zM43.04 49.66h3.31v3.31h-3.31z" fill="#f0ea3c"/>
<path d="M43.04 0.00h3.31v3.31h-3.31zM52.97 39.73h3.31v3.31h-3.31z" fill="#fcfcdd"/>
<path d="M46.35 0.00h3.31v3.31h-3.31z" fill="#f4f261"/>
<path d="M49.66 0.00h3.31v3.31h-3.31z" fill="#f1cf38"/>
<path d="M52.97 0.00h3.31v3.31h-3.31zM52.97 19.87h3.31v3.31h-3.31z" fill="#f0eb3f"/>
<path d="M0.00 3.31h3.31v3.31h-3.31z" fill="#f19d33"/>
<path d="M3.31 3.31h3.31v3.31h-3.31z" fill="#ea4827"/>
<path d="M6.62 3.31h3.31v3.31h-3.31z" fill="#ed642b"/>
<path d="M9.93 3.31h3.31v3.31h-3.31zM29.80 9.93h3.31v3.31h-3.31zM33.11 9.93h3.31v3.31h-3.31zM43.04 29.80h3.31v3.31h-3.31zM9.93 36.42h3.31v3.31h-3.31z" fill="#f1ec45"/>
<path d="M13.24 3.31h3.31v3.31h-3.31zM19.87 36.42h3.31v3.31h-3.31z" fill="#fbfbd6"/>
<path d="M16.55 3.31h3.31v3.31h-3.31zM6.62 13.24h3.31v3.31h-3.31zM43.04 13.24h3.31v3.31h-3.31z" fill="#f2ef50"/>
<path d="M19.87 3.31h3.31v3.31h-3.31zM0.00 13.24h3.31v3.31h-3.31z" fill="#f1ec44"/>
<path d="M23.18 3.31h3.31v3.31h-3.31z" fill="#f0eb40"/>
<path d="M26.49 3.31h3.31v3.31h-3.31z" fill="#fafaca"/>
<path d="M29.80 3.31h3.31v3.31h-3.31zM52.97 23.18h3.31v3.31h-3.31zM49.66 43.04h3.31v3.31h-3.31z" fill="#f4f25c"/>
<path d="M33.11 3.31h3.31v3.31h-3.31z" fill="#f3f052"/>
<path d="M36.42 3.31h3.31v3.31h-3.31z" fill="#f1ca38"/>
<path d="M39.73 3.31h3.31v3.31h-3.31zM3.31 13.24h3.31v3.31h-3.31zM39.73 29.80h3.31v3.31h-3.31zM0.00 36.42h3.31v3.31h-3.31zM36.42 52.97h3.31v3.31h-3.31z" fill="#f3f053"/>
<path d="M43.04 3.31h3.31v3.31h-3.31z" fill="#fafac4"/>
<path d="M46.35 3.31h3.31v3.31h-3.31zM23.18 9.93h3.31v3.31h-3.31zM13.24 19.87h3.31v3.31h-3.31zM49.66 29.80h3.31v3.31h-3.31zM36.42 39.73h3.31v3.31h-3.31z" fill="#f1ed48"/>
<path d="M49.66 3.31h3.31v3.31h-3.31zM6.62 49.66h3.31v3.31h-3.31z" fill="#f4f36a"/>
<path d="M52.97 3.31h3.31v3.31h-3.31zM16.55 46.35h3.31v3.31h-3.31z" fill="#f4f25e"/>
<path d="M0.00 6.62h3.31v3.31h-3.31z" fill="#ee6a2c"/>
<path d="M3.31 6.62h3.31v3.31h-3.31z" fill="#f1a034"/>
<path d="M6.62 6.62h3.31v3.31h-3.31z" fill="#ea4527"/>
<path d="M9.93 6.62h3.31v3.31h-3.31z" fill="#fcfce5"/>
<path d="M13.24 6.62h3.31v3.31h-3.31z" fill="#f6f47e"/>
<path d="M16.55 6.62h3.31v3.31h-3.31zM36.42 19.87h3.31v3.31h-3.31zM39.73 26.49h3.31v3.31h-3.31zM3.31 46.35h3.31v3.31h-3.31z" fill="#fcfce1"/>
<path d="M19.87 6.62h3.31v3.31h-3.31zM29.80 16.55h3.31v3.31h-3.31zM36.42 26.49h3.31v3.31h-3.31zM9.93 49.66h3.31v3.31h-3.31z" fill="#f2ee4c"/>
<path d="M23.18 6.62h3.31v3.31h-3.31z" fill="#f1be38"/>
<path d="M26.49 6.62h3.31v3.31h-3.31zM39.73 6.62h3.31v3.31h-3.31zM43.04 6.62h3.31v3.31h-3.31zM26.49 13.24h3.31v3.31h-3.31zM16.55 19.87h3.31v3.31h-3.31zM13.24 33.11h3.31v3.31h-3.31z" fill="#f2ef4f"/>
<path d="M29.80 6.62h3.31v3.31h-3.31zM6.62 23.18h3.31v3.31h-3.31zM33.11 26.49h3.31v3.31h-3.31z" fill="#f0d939"/>
<path d="M33.11 6.62h3.31v3.31h-3.31z" fill="#f6f582"/>
<path d="M36.42 6.62h3.31v3.31h-3.31zM26.49 43.04h3.31v3.31h-3.31z" fill="#fcfce0"/>
<path d="M46.35 6.62h3.31v3.31h-3.31zM43.04 23.18h3.31v3.31h-3.31zM16.55 36.42h3.31v3.31h-3.31zM19.87 49.66h3.31v3.31h-3.31z" fill="#f0ea3d"/>
<path d="M49.66 6.62h3.31v3.31h-3.31z" fill="#f1b437"/>
<path d="M52.97 6.62h3.31v3.31h-3.31zM36.42 13.24h3.31v3.31h-3.31z" fill="#f5f36e"/>
<path d="M3.31 9.93h3.31v3.31h-3.31zM49.66 23.18h3.31v3.31h-3.31zM9.93 29.80h3.31v3.31h-3.31zM49.66 46.35h3.31v3.31h-3.31zM23.18 52.97h3.31v3.31h-3.31z" fill="#f3f054"/>
<path d="M9.93 9.93h3.31v3.31h-3.31zM16.55 16.55h3.31v3.31h-3.31zM43.04 43.04h3.31v3.31h-3.31z" fill="#e83324"/>
<path d="M13.24 9.93h3.31v3.31h-3.31zM46.35 13.24h3.31v3.31h-3.31zM29.80 39.73h3.31v3.31h-3.31z" fill="#f1a134"/>
<path d="M16.55 9.93h3.31v3.31h-3.31z" fill="#ed632b"/>
<path d="M26.49 9.93h3.31v3.31h-3.31z" fill="#f09332"/>
<path d="M36.42 9.93h3.31v3.31h-3.31zM26.49 39.73h3.31v3.31h-3.31z" fill="#f3f055"/>
<path d="M39.73 9.93h3.31v3.31h-3.31zM16.55 33.11h3.31v3.31h-3.31z" fill="#f4f25b"/>
<path d="M43.04 9.93h3.31v3.31h-3.31zM26.49 33.11h3.31v3.31h-3.31z" fill="#fbfbd5"/>
<path d="M46.35 9.93h3.31v3.31h-3.31z" fill="#f1b036"/>
<path d="M49.66 9.93h3.31v3.31h-3.31zM13.24 29.80h3.31v3.31h-3.31z" fill="#f0e439"/>
<path d="M52.97 9.93h3.31v3.31h-3.31zM49.66 33.11h3.31v3.31h-3.31zM52.97 36.42h3.31v3.31h-3.31z" fill="#ffffff"/>
<path d="M9.93 13.24h3.31v3.31h-3.31zM26.49 36.42h3.31v3.31h-3.31z" fill="#f09532"/>
<path d="M13.24 13.24h3.31v3.31h-3.31zM26.49 26.49h3.31v3.31h-3.31z" fill="#e83524"/>
<path d="M16.55 13.24h3.31v3.31h-3.31z" fill="#f19b33"/>
<path d="M19.87 13.24h3.31v3.31h-3.31z" fill="#f0db39"/>
<path d="M23.18 13.24h3.31v3.31h-3.31z" fill="#fdfdf2"/>
<path d="M29.80 13.24h3.31v3.31h-3.31z" fill="#f1ed47"/>
<path d="M33.11 13.24h3.31v3.31h-3.31z" fill="#f7f691"/>
<path d="M39.73 13.24h3.31v3.31h-3.31z" fill="#f1c538"/>
<path d="M49.66 13.24h3.31v3.31h-3.31z" fill="#f1b937"/>
<path d="M52.97 13.24h3.31v3.31h-3.31zM23.18 29.80h3.31v3.31h-3.31z" fill="#f3f156"/>
<path d="M0.00 16.55h3.31v3.31h-3.31z" fill="#f8f8b1"/>
<path d="M3.31 16.55h3.31v3.31h-3.31z" fill="#fafac9"/>
<path d="M6.62 16.55h3.31v3.31h-3.31zM3.31 26.49h3.31v3.31h-3.31zM0.00 29.80h3.31v3.31h-3.31zM52.97 33.11h3.31v3.31h-3.31zM33.11 39.73h3.31v3.31h-3.31zM36.42 46.35h3.31v3.31h-3.31z" fill="#f1ec42"/>
<path d="M9.93 16.55h3.31v3.31h-3.31z" fill="#f07f2f"/>
<path d="M13.24 16.55h3.31v3.31h-3.31zM23.18 19.87h3.31v3.31h-3.31z" fill="#eb5028"/>
<path d="M19.87 16.55h3.31v3.31h-3.31z" fill="#f9f9b9"/>
<path d="M23.18 16.55h3.31v3.31h-3.31z" fill="#f0d639"/>
<path d="M26.49 16.55h3.31v3.31h-3.31z" fill="#f1c838"/>
<path d="M33.11 16.55h3.31v3.31h-3.31z" fill="#f19933"/>
<path d="M36.42 16.55h3.31v3.31h-3.31zM46.35 33.11h3.31v3.31h-3.31zM39.73 36.42h3.31v3.31h-3.31zM19.87 39.73h3.31v3.31h-3.31z" fill="#f3f158"/>
<path d="M39.73 16.55h3.31v3.31h-3.31z" fill="#f5f371"/>
<path d="M43.04 16.55h3.31v3.31h-3.31zM46.35 16.55h3.31v3.31h-3.31z" fill="#f8f7a4"/>
<path d="M49.66 16.55h3.31v3.31h-3.31zM52.97 26.49h3.31v3.31h-3.31z" fill="#f7f697"/>
<path d="M52.97 16.55h3.31v3.31h-3.31z" fill="#f7f695"/>
<path d="M0.00 19.87h3.31v3.31h-3.31z" fill="#fafac8"/>
<path d="M3.31 19.87h3.31v3.31h-3.31zM29.80 23.18h3.31v3.31h-3.31z" fill="#f0dc39"/>
<path d="M6.62 19.87h3.31v3.31h-3.31z" fill="#f2ee4d"/>
<path d="M9.93 19.87h3.31v3.31h-3.31zM33.11 46.35h3.31v3.31h-3.31z" fill="#f2ee4b"/>
<path d="M19.87 19.87h3.31v3.31h-3.31z" fill="#eb4a27"/>
<path d="M26.49 19.87h3.31v3.31h-3.31zM43.04 19.87h3.31v3.31h-3.31zM19.87 43.04h3.31v3.31h-3.31zM9.93 46.35h3.31v3.31h-3.31z" fill="#f2ef51"/>
<path d="M29.80 19.87h3.31v3.31h-3.31zM16.55 29.80h3.31v3.31h-3.31z" fill="#f0e939"/>
<path d="M33.11 19.87h3.31v3.31h-3.31z" fill="#f3f159"/>
<path d="M39.73 19.87h3.31v3.31h-3.31z" fill="#f7f694"/>
<path d="M46.35 19.87h3.31v3.31h-3.31zM13.24 26.49h3.31v3.31h-3.31z" fill="#f2ee4a"/>
<path d="M49.66 19.87h3.31v3.31h-3.31zM19.87 33.11h3.31v3.31h-3.31z" fill="#f0eb3e"/>
<path d="M0.00 23.18h3.31v3.31h-3.31z" fill="#fbfbd7"/>
<path d="M3.31 23.18h3.31v3.31h-3.31zM46.35 36.42h3.31v3.31h-3.31z" fill="#f4f262"/>
<path d="M9.93 23.18h3.31v3.31h-3.31zM26.49 23.18h3.31v3.31h-3.31z" fill="#f3f157"/>
<path d="M13.24 23.18h3.31v3.31h-3.31z" fill="#f8f8ab"/>
<path d="M16.55 23.18h3.31v3.31h-3.31z" fill="#f0e139"/>
<path d="M19.87 23.18h3.31v3.31h-3.31z" fill="#ef6f2c"/>
<path d="M23.18 23.18h3.31v3.31h-3.31zM36.42 36.42h3.31v3.31h-3.31z" fill="#e93b25"/>
<path d="M33.11 23.18h3.31v3.31h-3.31zM26.49 52.97h3.31v3.31h-3.31z" fill="#f5f36c"/>
<path d="M36.42 23.18h3.31v3.31h-3.31zM6.62 29.80h3.31v3.31h-3.31zM36.42 43.04h3.31v3.31h-3.31z" fill="#f5f477"/>
<path d="M39.73 23.18h3.31v3.31h-3.31z" fill="#f5f370"/>
<path d="M46.35 23.18h3.31v3.31h-3.31zM9.93 43.04h3.31v3.31h-3.31z" fill="#fafacc"/>
<path d="M0.00 26.49h3.31v3.31h-3.31zM9.93 26.49h3.31v3.31h-3.31zM16.55 52.97h3.31v3.31h-3.31z" fill="#f1ed46"/>
<path d="M6.62 26.49h3.31v3.31h-3.31zM49.66 26.49h3.31v3.31h-3.31z" fill="#fbfbda"/>
<path d="M16.55 26.49h3.31v3.31h-3.31z" fill="#f0e539"/>
<path d="M19.87 26.49h3.31v3.31h-3.31z" fill="#fafacb"/>
<path d="M23.18 26.49h3.31v3.31h-3.31z" fill="#f09632"/>
<path d="M29.80 26.49h3.31v3.31h-3.31z" fill="#ee692c"/>
<path d="M43.04 26.49h3.31v3.31h-3.31zM3.31 36.42h3.31v3.31h-3.31zM43.04 52.97h3.31v3.31h-3.31z" fill="#fcfce2"/>
<path d="M46.35 26.49h3.31v3.31h-3.31z" fill="#fcfce6"/>
<path d="M3.31 29.80h3.31v3.31h-3.31z" fill="#f9f9bb"/>
<path d="M19.87 29.80h3.31v3.31h-3.31zM29.80 33.11h3.31v3.31h-3.31z" fill="#fafac6"/>
<path d="M26.49 29.80h3.31v3.31h-3.31z" fill="#f0802f"/>
<path d="M29.80 29.80h3.31v3.31h-3.31z" fill="#ea4727"/>
<path d="M33.11 29.80h3.31v3.31h-3.31z" fill="#fbfbd9"/>
<path d="M36.42 29.80h3.31v3.31h-3.31z" fill="#f1ac35"/>
<path d="M46.35 29.80h3.31v3.31h-3.31zM29.80 49.66h3.31v3.31h-3.31z" fill="#fcfce3"/>
<path d="M52.97 29.80h3.31v3.31h-3.31z" fill="#f8f7a3"/>
<path d="M3.31 33.11h3.31v3.31h-3.31z" fill="#f4f260"/>
<path d="M6.62 33.11h3.31v3.31h-3.31z" fill="#f6f584"/>
<path d="M9.93 33.11h3.31v3.31h-3.31zM29.80 46.35h3.31v3.31h-3.31zM43.04 46.35h3.31v3.31h-3.31z" fill="#f6f480"/>
<path d="M23.18 33.11h3.31v3.31h-3.31zM43.04 33.11h3.31v3.31h-3.31z" fill="#f9f8b5"/>
<path d="M33.11 33.11h3.31v3.31h-3.31z" fill="#e83424"/>
<path d="M36.42 33.11h3.31v3.31h-3.31z" fill="#ef742d"/>
<path d="M6.62 36.42h3.31v3.31h-3.31z" fill="#f0e839"/>
<path d="M13.24 36.42h3.31v3.31h-3.31z" fill="#f0e739"/>
<path d="M23.18 36.42h3.31v3.31h-3.31z" fill="#fefef7"/>
<path d="M29.80 36.42h3.31v3.31h-3.31z" fill="#f19e33"/>
<path d="M43.04 36.42h3.31v3.31h-3.31z" fill="#fdfdeb"/>
<path d="M49.66 36.42h3.31v3.31h-3.31zM46.35 52.97h3.31v3.31h-3.31z" fill="#f0dd39"/>
<path d="M0.00 39.73h3.31v3.31h-3.31zM9.93 52.97h3.31v3.31h-3.31z" fill="#fcfcdf"/>
<path d="M3.31 39.73h3.31v3.31h-3.31z" fill="#f1c338"/>
<path d="M6.62 39.73h3.31v3.31h-3.31z" fill="#f5f47a"/>
<path d="M9.93 39.73h3.31v3.31h-3.31zM52.97 43.04h3.31v3.31h-3.31zM0.00 46.35h3.31v3.31h-3.31z" fill="#f4f368"/>
<path d="M13.24 39.73h3.31v3.31h-3.31z" fill="#f7f68e"/>
<path d="M23.18 39.73h3.31v3.31h-3.31z" fill="#f9f8b2"/>
<path d="M39.73 39.73h3.31v3.31h-3.31z" fill="#e93a25"/>
<path d="M43.04 39.73h3.31v3.31h-3.31z" fill="#ec5629"/>
<path d="M46.35 39.73h3.31v3.31h-3.31zM16.55 49.66h3.31v3.31h-3.31z" fill="#f4f266"/>
<path d="M49.66 39.73h3.31v3.31h-3.31z" fill="#f0eb41"/>
<path d="M0.00 43.04h3.31v3.31h-3.31z" fill="#f4f25a"/>
<path d="M3.31 43.04h3.31v3.31h-3.31z" fill="#f5f479"/>
<path d="M6.62 43.04h3.31v3.31h-3.31z" fill="#fafac7"/>
<path d="M13.24 43.04h3.31v3.31h-3.31z" fill="#f0ea3b"/>
<path d="M16.55 43.04h3.31v3.31h-3.31zM39.73 52.97h3.31v3.31h-3.31z" fill="#f0df39"/>
<path d="M23.18 43.04h3.31v3.31h-3.31z" fill="#f8f8a9"/>
<path d="M29.80 43.04h3.31v3.31h-3.31z" fill="#f1a635"/>
<path d="M33.11 43.04h3.31v3.31h-3.31zM33.11 49.66h3.31v3.31h-3.31z" fill="#f7f699"/>
<path d="M39.73 43.04h3.31v3.31h-3.31z" fill="#f0792e"/>
<path d="M6.62 46.35h3.31v3.31h-3.31z" fill="#f1c938"/>
<path d="M13.24 46.35h3.31v3.31h-3.31z" fill="#f6f589"/>
<path d="M19.87 46.35h3.31v3.31h-3.31z" fill="#fafac5"/>
<path d="M23.18 46.35h3.31v3.31h-3.31z" fill="#f4f369"/>
<path d="M26.49 46.35h3.31v3.31h-3.31z" fill="#f0de39"/>
<path d="M39.73 46.35h3.31v3.31h-3.31z" fill="#f1cc38"/>
<path d="M52.97 46.35h3.31v3.31h-3.31zM29.80 52.97h3.31v3.31h-3.31z" fill="#f0d439"/>
<path d="M0.00 49.66h3.31v3.31h-3.31z" fill="#f0ea3a"/>
<path d="M13.24 49.66h3.31v3.31h-3.31z" fill="#f1d138"/>
<path d="M23.18 49.66h3.31v3.31h-3.31z" fill="#f7f692"/>
<path d="M26.49 49.66h3.31v3.31h-3.31z" fill="#f9f8b4"/>
<path d="M36.42 49.66h3.31v3.31h-3.31z" fill="#faface"/>
<path d="M39.73 49.66h3.31v3.31h-3.31z" fill="#f1ec43"/>
<path d="M46.35 49.66h3.31v3.31h-3.31z" fill="#f6f47d"/>
<path d="M49.66 49.66h3.31v3.31h-3.31z" fill="#e94026"/>
<path d="M52.97 49.66h3.31v3.31h-3.31z" fill="#f08b30"/>
<path d="M0.00 52.97h3.31v3.31h-3.31z" fill="#fbfbd1"/>
<path d="M3.31 52.97h3.31v3.31h-3.31z" fill="#f1a234"/>
<path d="M6.62 52.97h3.31v3.31h-3.31z" fill="#f1c238"/>
<path d="M13.24 52.97h3.31v3.31h-3.31z" fill="#fbfbd8"/>
<path d="M19.87 52.97h3.31v3.31h-3.31z" fill="#f5f476"/>
<path d="M33.11 52.97h3.31v3.31h-3.31z" fill="#f6f58a"/>
<path d="M49.66 52.97h3.31v3.31h-3.31z" fill="#ef702c"/>
<path d="M52.97 52.97h3.31v3.31h-3.31z" fill="#ea4627"/>
<path d="M0 3.31H56.29M3.31 0V56.29M0 6.62H56.29M6.62 0V56.29M0 9.93H56.29M9.93 0V56.29M0 13.24H56.29M13.24 0V56.29M0 16.55H56.29M16.55 0V56.29M0 19.87H56.29M19.87 0V56.29M0 23.18H56.29M23.18 0V56.29M0 26.49H56.29M26.49 0V56.29M0 29.80H56.29M29.80 0V56.29M0 33.11H56.29M33.11 0V56.29M0 36.42H56.29M36.42 0V56.29M0 39.73H56.29M39.73 0V56.29M0 43.04H56.29M43.04 0V56.29M0 46.35H56.29M46.35 0V56.29M0 49.66H56.29M49.66 0V56.29M0 52.97H56.29M52.97 0V56.29" stroke="#444" stroke-width="0.25" fill="none" stroke-opacity="0.8"/>
<rect x="0.00" y="0.00" width="9.93" height="9.93" fill="none" stroke="#222" stroke-width="0.6"/>
<rect x="9.93" y="9.93" width="9.93" height="9.93" fill="none" stroke="#222" stroke-width="0.6"/>
<rect x="19.87" y="19.87" width="6.62" height="6.62" fill="none" stroke="#222" stroke-width="0.6"/>
<rect x="26.49" y="26.49" width="6.62" height="6.62" fill="none" stroke="#222" stroke-width="0.6"/>
<rect x="33.11" y="33.11" width="6.62" height="6.62" fill="none" stroke="#222" stroke-width="0.6"/>
<rect x="39.73" y="39.73" width="6.62" height="6.62" fill="none" stroke="#222" stroke-width="0.6"/>
<rect x="46.35" y="46.35" width="3.31" height="3.31" fill="none" stroke="#222" stroke-width="0.6"/>
<rect x="49.66" y="49.66" width="6.62" height="6.62" fill="none" stroke="#222" stroke-width="0.6"/>
<rect x="0" y="0" width="56.29" height="56.29" fill="none" stroke="#222" stroke-width="0.7"/>
<path d="M-1.9 1.20H-3.7V8.73H-1.9" stroke="#111" stroke-width="0.6" fill="none"/>
<text x="-5.20" y="6.77" font-size="5.1" text-anchor="end">Cont</text>
<path d="M1.20 -1.9V-3.7H8.73V-1.9" stroke="#111" stroke-width="0.6" fill="none"/>
<text transform="translate(6.77,-5.20) rotate(-90)" font-size="5.1">Cont</text>
<path d="M-1.9 11.13H-3.7V18.67H-1.9" stroke="#111" stroke-width="0.6" fill="none"/>
<text x="-5.20" y="16.70" font-size="5.1" text-anchor="end">DMN</text>
<path d="M11.13 -1.9V-3.7H18.67V-1.9" stroke="#111" stroke-width="0.6" fill="none"/>
<text transform="translate(16.70,-5.20) rotate(-90)" font-size="5.1">DMN</text>
<path d="M-1.9 21.07H-3.7V25.29H-1.9" stroke="#111" stroke-width="0.6" fill="none"/>
<text x="-5.20" y="24.98" font-size="5.1" text-anchor="end">DAN</text>
<path d="M21.07 -1.9V-3.7H25.29V-1.9" stroke="#111" stroke-width="0.6" fill="none"/>
<text transform="translate(24.98,-5.20) rotate(-90)" font-size="5.1">DAN</text>
<path d="M-1.9 27.69H-3.7V31.91H-1.9" stroke="#111" stroke-width="0.6" fill="none"/>
<text x="-5.20" y="31.60" font-size="5.1" text-anchor="end">Lim</text>
<path d="M27.69 -1.9V-3.7H31.91V-1.9" stroke="#111" stroke-width="0.6" fill="none"/>
<text transform="translate(31.60,-5.20) rotate(-90)" font-size="5.1">Lim</text>
<path d="M-1.9 34.31H-3.7V38.53H-1.9" stroke="#111" stroke-width="0.6" fill="none"/>
<text x="-5.20" y="38.22" font-size="5.1" text-anchor="end">SalVAN</text>
<path d="M34.31 -1.9V-3.7H38.53V-1.9" stroke="#111" stroke-width="0.6" fill="none"/>
<text transform="translate(38.22,-5.20) rotate(-90)" font-size="5.1">SalVAN</text>
<path d="M-1.9 40.93H-3.7V45.15H-1.9" stroke="#111" stroke-width="0.6" fill="none"/>
<text x="-5.20" y="44.84" font-size="5.1" text-anchor="end">SMN</text>
<path d="M40.93 -1.9V-3.7H45.15V-1.9" stroke="#111" stroke-width="0.6" fill="none"/>
<text transform="translate(44.84,-5.20) rotate(-90)" font-size="5.1">SMN</text>
<path d="M-1.9 46.95H-3.7V49.06H-1.9" stroke="#111" stroke-width="0.6" fill="none"/>
<text x="-5.20" y="49.81" font-size="5.1" text-anchor="end">TP</text>
<path d="M46.95 -1.9V-3.7H49.06V-1.9" stroke="#111" stroke-width="0.6" fill="none"/>
<text transform="translate(49.81,-5.20) rotate(-90)" font-size="5.1">TP</text>
<path d="M-1.9 50.86H-3.7V55.09H-1.9" stroke="#111" stroke-width="0.6" fill="none"/>
<text x="-5.20" y="54.77" font-size="5.1" text-anchor="end">VIS</text>
<path d="M50.86 -1.9V-3.7H55.09V-1.9" stroke="#111" stroke-width="0.6" fill="none"/>
<text transform="translate(54.77,-5.20) rotate(-90)" font-size="5.1">VIS</text>
</g>
<g transform="translate(431.80,299.40) rotate(45)">
<path d="M0.00 0.00h3.31v3.31h-3.31zM9.93 19.87h3.31v3.31h-3.31zM43.04 43.04h3.31v3.31h-3.31z" fill="#def4f7"/>
<path d="M3.31 0.00h3.31v3.31h-3.31zM9.93 3.31h3.31v3.31h-3.31zM29.80 33.11h3.31v3.31h-3.31zM23.18 36.42h3.31v3.31h-3.31zM26.49 39.73h3.31v3.31h-3.31z" fill="#65d0da"/>
<path d="M6.62 0.00h3.31v3.31h-3.31zM36.42 9.93h3.31v3.31h-3.31z" fill="#7cd9e2"/>
<path d="M9.93 0.00h3.31v3.31h-3.31zM0.00 3.31h3.31v3.31h-3.31zM23.18 29.80h3.31v3.31h-3.31zM3.31 33.11h3.31v3.31h-3.31z" fill="#5cccd7"/>
<path d="M13.24 0.00h3.31v3.31h-3.31zM33.11 3.31h3.31v3.31h-3.31zM33.11 13.24h3.31v3.31h-3.31zM33.11 39.73h3.31v3.31h-3.31z" fill="#5ecdd8"/>
<path d="M16.55 0.00h3.31v3.31h-3.31z" fill="#9de2e9"/>
<path d="M19.87 0.00h3.31v3.31h-3.31zM16.55 3.31h3.31v3.31h-3.31z" fill="#52c9d4"/>
<path d="M23.18 0.00h3.31v3.31h-3.31zM19.87 6.62h3.31v3.31h-3.31z" fill="#52c8d4"/>
<path d="M26.49 0.00h3.31v3.31h-3.31zM16.55 26.49h3.31v3.31h-3.31z" fill="#68d1db"/>
<path d="M29.80 0.00h3.31v3.31h-3.31zM16.55 13.24h3.31v3.31h-3.31zM3.31 23.18h3.31v3.31h-3.31zM9.93 29.80h3.31v3.31h-3.31zM3.31 52.97h3.31v3.31h-3.31z" fill="#6cd3dd"/>
<path d="M33.11 0.00h3.31v3.31h-3.31zM46.35 36.42h3.31v3.31h-3.31zM46.35 39.73h3.31v3.31h-3.31z" fill="#f5fbfc"/>
<path d="M36.42 0.00h3.31v3.31h-3.31zM39.73 13.24h3.31v3.31h-3.31zM19.87 23.18h3.31v3.31h-3.31zM0.00 36.42h3.31v3.31h-3.31zM23.18 43.04h3.31v3.31h-3.31z" fill="#67d1db"/>
<path d="M39.73 0.00h3.31v3.31h-3.31zM36.42 16.55h3.31v3.31h-3.31zM36.42 19.87h3.31v3.31h-3.31zM6.62 26.49h3.31v3.31h-3.31z" fill="#73d6df"/>
<path d="M43.04 0.00h3.31v3.31h-3.31zM0.00 9.93h3.31v3.31h-3.31z" fill="#5accd7"/>
<path d="M46.35 0.00h3.31v3.31h-3.31zM43.04 9.93h3.31v3.31h-3.31zM23.18 16.55h3.31v3.31h-3.31zM39.73 23.18h3.31v3.31h-3.31zM49.66 26.49h3.31v3.31h-3.31z" fill="#71d5de"/>
<path d="M49.66 0.00h3.31v3.31h-3.31zM39.73 16.55h3.31v3.31h-3.31zM29.80 36.42h3.31v3.31h-3.31z" fill="#70d4de"/>
<path d="M52.97 0.00h3.31v3.31h-3.31zM3.31 19.87h3.31v3.31h-3.31zM43.04 29.80h3.31v3.31h-3.31zM39.73 43.04h3.31v3.31h-3.31zM52.97 43.04h3.31v3.31h-3.31zM29.80 49.66h3.31v3.31h-3.31zM43.04 49.66h3.31v3.31h-3.31z" fill="#ffffff"/>
<path d="M3.31 3.31h3.31v3.31h-3.31z" fill="#f8fcfd"/>
<path d="M6.62 3.31h3.31v3.31h-3.31zM49.66 43.04h3.31v3.31h-3.31z" fill="#c0ebf0"/>
<path d="M13.24 3.31h3.31v3.31h-3.31zM23.18 13.24h3.31v3.31h-3.31z" fill="#e7f7f9"/>
<path d="M19.87 3.31h3.31v3.31h-3.31zM0.00 19.87h3.31v3.31h-3.31z" fill="#59cbd7"/>
<path d="M23.18 3.31h3.31v3.31h-3.31zM33.11 16.55h3.31v3.31h-3.31z" fill="#6bd3dc"/>
<path d="M26.49 3.31h3.31v3.31h-3.31z" fill="#47b6d7"/>
<path d="M29.80 3.31h3.31v3.31h-3.31z" fill="#c6edf1"/>
<path d="M36.42 3.31h3.31v3.31h-3.31zM43.04 19.87h3.31v3.31h-3.31zM29.80 26.49h3.31v3.31h-3.31zM9.93 49.66h3.31v3.31h-3.31zM26.49 49.66h3.31v3.31h-3.31z" fill="#78d8e0"/>
<path d="M39.73 3.31h3.31v3.31h-3.31zM3.31 29.80h3.31v3.31h-3.31z" fill="#4fc6d4"/>
<path d="M43.04 3.31h3.31v3.31h-3.31zM13.24 9.93h3.31v3.31h-3.31zM16.55 23.18h3.31v3.31h-3.31zM39.73 52.97h3.31v3.31h-3.31z" fill="#76d7e0"/>
<path d="M46.35 3.31h3.31v3.31h-3.31zM29.80 16.55h3.31v3.31h-3.31z" fill="#d1eff3"/>
<path d="M49.66 3.31h3.31v3.31h-3.31z" fill="#cceef2"/>
<path d="M52.97 3.31h3.31v3.31h-3.31zM0.00 43.04h3.31v3.31h-3.31zM16.55 43.04h3.31v3.31h-3.31z" fill="#7bd9e1"/>
<path d="M0.00 6.62h3.31v3.31h-3.31z" fill="#40a9da"/>
<path d="M3.31 6.62h3.31v3.31h-3.31z" fill="#3a98d8"/>
<path d="M6.62 6.62h3.31v3.31h-3.31z" fill="#e0f4f7"/>
<path d="M9.93 6.62h3.31v3.31h-3.31zM36.42 52.97h3.31v3.31h-3.31z" fill="#4ec5d4"/>
<path d="M13.24 6.62h3.31v3.31h-3.31zM29.80 13.24h3.31v3.31h-3.31zM43.04 26.49h3.31v3.31h-3.31zM0.00 29.80h3.31v3.31h-3.31z" fill="#4ec4d4"/>
<path d="M16.55 6.62h3.31v3.31h-3.31zM0.00 13.24h3.31v3.31h-3.31z" fill="#b5e8ee"/>
<path d="M23.18 6.62h3.31v3.31h-3.31z" fill="#4bbed5"/>
<path d="M26.49 6.62h3.31v3.31h-3.31z" fill="#62cfd9"/>
<path d="M29.80 6.62h3.31v3.31h-3.31z" fill="#4fc7d4"/>
<path d="M33.11 6.62h3.31v3.31h-3.31zM36.42 6.62h3.31v3.31h-3.31zM19.87 16.55h3.31v3.31h-3.31z" fill="#5dcdd8"/>
<path d="M39.73 6.62h3.31v3.31h-3.31z" fill="#46b4d7"/>
<path d="M43.04 6.62h3.31v3.31h-3.31zM49.66 16.55h3.31v3.31h-3.31zM16.55 39.73h3.31v3.31h-3.31zM6.62 43.04h3.31v3.31h-3.31z" fill="#77d7e0"/>
<path d="M46.35 6.62h3.31v3.31h-3.31z" fill="#50c8d4"/>
<path d="M49.66 6.62h3.31v3.31h-3.31zM6.62 23.18h3.31v3.31h-3.31zM33.11 52.97h3.31v3.31h-3.31z" fill="#7edae2"/>
<path d="M52.97 6.62h3.31v3.31h-3.31z" fill="#f9fdfd"/>
<path d="M3.31 9.93h3.31v3.31h-3.31zM6.62 19.87h3.31v3.31h-3.31zM33.11 23.18h3.31v3.31h-3.31z" fill="#54c9d5"/>
<path d="M6.62 9.93h3.31v3.31h-3.31z" fill="#57cad6"/>
<path d="M9.93 9.93h3.31v3.31h-3.31zM52.97 33.11h3.31v3.31h-3.31z" fill="#9fe3e9"/>
<path d="M16.55 9.93h3.31v3.31h-3.31z" fill="#55cad5"/>
<path d="M19.87 9.93h3.31v3.31h-3.31zM26.49 9.93h3.31v3.31h-3.31zM16.55 19.87h3.31v3.31h-3.31z" fill="#69d2dc"/>
<path d="M23.18 9.93h3.31v3.31h-3.31z" fill="#6fd4de"/>
<path d="M29.80 9.93h3.31v3.31h-3.31zM0.00 52.97h3.31v3.31h-3.31z" fill="#5ccdd8"/>
<path d="M33.11 9.93h3.31v3.31h-3.31zM6.62 16.55h3.31v3.31h-3.31zM33.11 36.42h3.31v3.31h-3.31zM49.66 36.42h3.31v3.31h-3.31z" fill="#9be2e9"/>
<path d="M39.73 9.93h3.31v3.31h-3.31z" fill="#5fced9"/>
<path d="M46.35 9.93h3.31v3.31h-3.31zM52.97 16.55h3.31v3.31h-3.31zM16.55 33.11h3.31v3.31h-3.31zM13.24 49.66h3.31v3.31h-3.31z" fill="#84dce4"/>
<path d="M49.66 9.93h3.31v3.31h-3.31z" fill="#66d1db"/>
<path d="M52.97 9.93h3.31v3.31h-3.31zM46.35 13.24h3.31v3.31h-3.31zM16.55 29.80h3.31v3.31h-3.31zM46.35 33.11h3.31v3.31h-3.31zM13.24 36.42h3.31v3.31h-3.31zM23.18 39.73h3.31v3.31h-3.31z" fill="#7ddae2"/>
<path d="M3.31 13.24h3.31v3.31h-3.31zM19.87 43.04h3.31v3.31h-3.31zM13.24 46.35h3.31v3.31h-3.31z" fill="#51c8d4"/>
<path d="M6.62 13.24h3.31v3.31h-3.31zM9.93 43.04h3.31v3.31h-3.31z" fill="#6bd2dc"/>
<path d="M9.93 13.24h3.31v3.31h-3.31z" fill="#f1fafb"/>
<path d="M13.24 13.24h3.31v3.31h-3.31z" fill="#97e1e8"/>
<path d="M19.87 13.24h3.31v3.31h-3.31z" fill="#bbeaef"/>
<path d="M26.49 13.24h3.31v3.31h-3.31z" fill="#baeaef"/>
<path d="M36.42 13.24h3.31v3.31h-3.31zM33.11 26.49h3.31v3.31h-3.31zM23.18 33.11h3.31v3.31h-3.31z" fill="#72d5de"/>
<path d="M43.04 13.24h3.31v3.31h-3.31zM26.49 46.35h3.31v3.31h-3.31zM29.80 46.35h3.31v3.31h-3.31z" fill="#8cdee6"/>
<path d="M49.66 13.24h3.31v3.31h-3.31zM39.73 19.87h3.31v3.31h-3.31zM52.97 29.80h3.31v3.31h-3.31zM29.80 39.73h3.31v3.31h-3.31zM52.97 39.73h3.31v3.31h-3.31zM13.24 52.97h3.31v3.31h-3.31z" fill="#89dde5"/>
<path d="M52.97 13.24h3.31v3.31h-3.31zM0.00 33.11h3.31v3.31h-3.31z" fill="#65d0db"/>
<path d="M0.00 16.55h3.31v3.31h-3.31z" fill="#4dc3d4"/>
<path d="M3.31 16.55h3.31v3.31h-3.31z" fill="#bdeaef"/>
<path d="M9.93 16.55h3.31v3.31h-3.31zM39.73 39.73h3.31v3.31h-3.31z" fill="#d2f0f4"/>
<path d="M13.24 16.55h3.31v3.31h-3.31zM0.00 49.66h3.31v3.31h-3.31z" fill="#58cbd6"/>
<path d="M16.55 16.55h3.31v3.31h-3.31zM39.73 29.80h3.31v3.31h-3.31zM19.87 36.42h3.31v3.31h-3.31zM49.66 52.97h3.31v3.31h-3.31z" fill="#85dce4"/>
<path d="M26.49 16.55h3.31v3.31h-3.31zM36.42 23.18h3.31v3.31h-3.31zM13.24 26.49h3.31v3.31h-3.31z" fill="#59cbd6"/>
<path d="M43.04 16.55h3.31v3.31h-3.31zM9.93 46.35h3.31v3.31h-3.31z" fill="#75d6df"/>
<path d="M46.35 16.55h3.31v3.31h-3.31z" fill="#b9e9ef"/>
<path d="M13.24 19.87h3.31v3.31h-3.31z" fill="#ddf3f6"/>
<path d="M19.87 19.87h3.31v3.31h-3.31z" fill="#daf2f6"/>
<path d="M23.18 19.87h3.31v3.31h-3.31z" fill="#5fced8"/>
<path d="M26.49 19.87h3.31v3.31h-3.31zM46.35 19.87h3.31v3.31h-3.31zM23.18 52.97h3.31v3.31h-3.31z" fill="#94e0e7"/>
<path d="M29.80 19.87h3.31v3.31h-3.31zM19.87 39.73h3.31v3.31h-3.31z" fill="#60ced9"/>
<path d="M33.11 19.87h3.31v3.31h-3.31zM6.62 49.66h3.31v3.31h-3.31z" fill="#64d0da"/>
<path d="M49.66 19.87h3.31v3.31h-3.31zM39.73 36.42h3.31v3.31h-3.31zM49.66 39.73h3.31v3.31h-3.31z" fill="#95e0e7"/>
<path d="M52.97 19.87h3.31v3.31h-3.31zM3.31 49.66h3.31v3.31h-3.31zM33.11 49.66h3.31v3.31h-3.31z" fill="#8ddee6"/>
<path d="M0.00 23.18h3.31v3.31h-3.31z" fill="#d4f0f4"/>
<path d="M9.93 23.18h3.31v3.31h-3.31zM19.87 26.49h3.31v3.31h-3.31z" fill="#75d7e0"/>
<path d="M13.24 23.18h3.31v3.31h-3.31z" fill="#40a8da"/>
<path d="M23.18 23.18h3.31v3.31h-3.31z" fill="#79d8e1"/>
<path d="M26.49 23.18h3.31v3.31h-3.31z" fill="#61cfd9"/>
<path d="M29.80 23.18h3.31v3.31h-3.31zM36.42 36.42h3.31v3.31h-3.31zM26.49 43.04h3.31v3.31h-3.31z" fill="#7bd9e2"/>
<path d="M43.04 23.18h3.31v3.31h-3.31zM0.00 26.49h3.31v3.31h-3.31zM6.62 33.11h3.31v3.31h-3.31zM6.62 39.73h3.31v3.31h-3.31zM19.87 52.97h3.31v3.31h-3.31z" fill="#6dd3dd"/>
<path d="M46.35 23.18h3.31v3.31h-3.31zM29.80 29.80h3.31v3.31h-3.31zM33.11 43.04h3.31v3.31h-3.31z" fill="#90dfe6"/>
<path d="M49.66 23.18h3.31v3.31h-3.31zM46.35 52.97h3.31v3.31h-3.31z" fill="#91dfe7"/>
<path d="M52.97 23.18h3.31v3.31h-3.31z" fill="#c7edf1"/>
<path d="M3.31 26.49h3.31v3.31h-3.31zM23.18 26.49h3.31v3.31h-3.31zM39.73 26.49h3.31v3.31h-3.31zM6.62 29.80h3.31v3.31h-3.31z" fill="#6ad2dc"/>
<path d="M9.93 26.49h3.31v3.31h-3.31z" fill="#ebf8fa"/>
<path d="M26.49 26.49h3.31v3.31h-3.31z" fill="#c3ecf1"/>
<path d="M36.42 26.49h3.31v3.31h-3.31zM43.04 46.35h3.31v3.31h-3.31z" fill="#96e1e8"/>
<path d="M46.35 26.49h3.31v3.31h-3.31z" fill="#80dbe3"/>
<path d="M52.97 26.49h3.31v3.31h-3.31zM16.55 46.35h3.31v3.31h-3.31zM36.42 49.66h3.31v3.31h-3.31z" fill="#7ad9e1"/>
<path d="M13.24 29.80h3.31v3.31h-3.31z" fill="#f3fbfc"/>
<path d="M19.87 29.80h3.31v3.31h-3.31zM52.97 49.66h3.31v3.31h-3.31z" fill="#82dce4"/>
<path d="M26.49 29.80h3.31v3.31h-3.31z" fill="#72d5df"/>
<path d="M33.11 29.80h3.31v3.31h-3.31z" fill="#74d6df"/>
<path d="M36.42 29.80h3.31v3.31h-3.31zM46.35 43.04h3.31v3.31h-3.31z" fill="#8bdee5"/>
<path d="M46.35 29.80h3.31v3.31h-3.31zM36.42 46.35h3.31v3.31h-3.31zM52.97 52.97h3.31v3.31h-3.31z" fill="#86dde4"/>
<path d="M49.66 29.80h3.31v3.31h-3.31z" fill="#a6e5eb"/>
<path d="M9.93 33.11h3.31v3.31h-3.31z" fill="#78d8e1"/>
<path d="M13.24 33.11h3.31v3.31h-3.31zM9.93 36.42h3.31v3.31h-3.31z" fill="#63cfda"/>
<path d="M19.87 33.11h3.31v3.31h-3.31zM16.55 36.42h3.31v3.31h-3.31z" fill="#7ad8e1"/>
<path d="M26.49 33.11h3.31v3.31h-3.31z" fill="#e6f6f9"/>
<path d="M33.11 33.11h3.31v3.31h-3.31z" fill="#fafdfe"/>
<path d="M36.42 33.11h3.31v3.31h-3.31z" fill="#dbf3f6"/>
<path d="M39.73 33.11h3.31v3.31h-3.31z" fill="#e2f5f8"/>
<path d="M43.04 33.11h3.31v3.31h-3.31z" fill="#8adee5"/>
<path d="M49.66 33.11h3.31v3.31h-3.31z" fill="#99e1e8"/>
<path d="M3.31 36.42h3.31v3.31h-3.31z" fill="#56cad6"/>
<path d="M6.62 36.42h3.31v3.31h-3.31z" fill="#93e0e7"/>
<path d="M26.49 36.42h3.31v3.31h-3.31z" fill="#d8f2f5"/>
<path d="M43.04 36.42h3.31v3.31h-3.31z" fill="#88dde5"/>
<path d="M52.97 36.42h3.31v3.31h-3.31z" fill="#49bad6"/>
<path d="M0.00 39.73h3.31v3.31h-3.31zM3.31 46.35h3.31v3.31h-3.31zM23.18 46.35h3.31v3.31h-3.31z" fill="#6ed4dd"/>
<path d="M3.31 39.73h3.31v3.31h-3.31zM23.18 49.66h3.31v3.31h-3.31z" fill="#9ee3e9"/>
<path d="M9.93 39.73h3.31v3.31h-3.31z" fill="#8edfe6"/>
<path d="M13.24 39.73h3.31v3.31h-3.31z" fill="#62cfda"/>
<path d="M36.42 39.73h3.31v3.31h-3.31z" fill="#edf9fa"/>
<path d="M43.04 39.73h3.31v3.31h-3.31z" fill="#a5e4eb"/>
<path d="M3.31 43.04h3.31v3.31h-3.31z" fill="#70d5de"/>
<path d="M13.24 43.04h3.31v3.31h-3.31z" fill="#e5f6f8"/>
<path d="M29.80 43.04h3.31v3.31h-3.31zM19.87 46.35h3.31v3.31h-3.31z" fill="#a2e4ea"/>
<path d="M36.42 43.04h3.31v3.31h-3.31zM33.11 46.35h3.31v3.31h-3.31z" fill="#abe6ec"/>
<path d="M0.00 46.35h3.31v3.31h-3.31z" fill="#7fdae3"/>
<path d="M6.62 46.35h3.31v3.31h-3.31zM9.93 52.97h3.31v3.31h-3.31z" fill="#66d0db"/>
<path d="M39.73 46.35h3.31v3.31h-3.31z" fill="#a7e5eb"/>
<path d="M46.35 46.35h3.31v3.31h-3.31z" fill="#a9e5eb"/>
<path d="M49.66 46.35h3.31v3.31h-3.31zM39.73 49.66h3.31v3.31h-3.31zM6.62 52.97h3.31v3.31h-3.31z" fill="#83dce4"/>
<path d="M52.97 46.35h3.31v3.31h-3.31z" fill="#98e1e8"/>
<path d="M16.55 49.66h3.31v3.31h-3.31z" fill="#fbfdfe"/>
<path d="M19.87 49.66h3.31v3.31h-3.31z" fill="#a1e3ea"/>
<path d="M46.35 49.66h3.31v3.31h-3.31z" fill="#b0e7ed"/>
<path d="M49.66 49.66h3.31v3.31h-3.31z" fill="#e8f7f9"/>
<path d="M16.55 52.97h3.31v3.31h-3.31z" fill="#42add9"/>
<path d="M26.49 52.97h3.31v3.31h-3.31z" fill="#8fdfe6"/>
<path d="M29.80 52.97h3.31v3.31h-3.31z" fill="#9ae2e8"/>
<path d="M43.04 52.97h3.31v3.31h-3.31z" fill="#c5ecf1"/>
<path d="M0 3.31H56.29M3.31 0V56.29M0 6.62H56.29M6.62 0V56.29M0 9.93H56.29M9.93 0V56.29M0 13.24H56.29M13.24 0V56.29M0 16.55H56.29M16.55 0V56.29M0 19.87H56.29M19.87 0V56.29M0 23.18H56.29M23.18 0V56.29M0 26.49H56.29M26.49 0V56.29M0 29.80H56.29M29.80 0V56.29M0 33.11H56.29M33.11 0V56.29M0 36.42H56.29M36.42 0V56.29M0 39.73H56.29M39.73 0V56.29M0 43.04H56.29M43.04 0V56.29M0 46.35H56.29M46.35 0V56.29M0 49.66H56.29M49.66 0V56.29M0 52.97H56.29M52.97 0V56.29" stroke="#444" stroke-width="0.25" fill="none" stroke-opacity="0.8"/>
<rect x="0.00" y="0.00" width="9.93" height="9.93" fill="none" stroke="#222" stroke-width="0.6"/>
<rect x="9.93" y="9.93" width="9.93" height="9.93" fill="none" stroke="#222" stroke-width="0.6"/>
<rect x="19.87" y="19.87" width="6.62" height="6.62" fill="none" stroke="#222" stroke-width="0.6"/>
<rect x="26.49" y="26.49" width="6.62" height="6.62" fill="none" stroke="#222" stroke-width="0.6"/>
<rect x="33.11" y="33.11" width="6.62" height="6.62" fill="none" stroke="#222" stroke-width="0.6"/>
<rect x="39.73" y="39.73" width="6.62" height="6.62" fill="none" stroke="#222" stroke-width="0.6"/>
<rect x="46.35" y="46.35" width="3.31" height="3.31" fill="none" stroke="#222" stroke-width="0.6"/>
<rect x="49.66" y="49.66" width="6.62" height="6.62" fill="none" stroke="#222" stroke-width="0.6"/>
<rect x="0" y="0" width="56.29" height="56.29" fill="none" stroke="#222" stroke-width="0.7"/>
<path d="M-1.9 1.20H-3.7V8.73H-1.9" stroke="#111" stroke-width="0.6" fill="none"/>
<text x="-5.20" y="6.77" font-size="5.1" text-anchor="end">Cont</text>
<path d="M1.20 -1.9V-3.7H8.73V-1.9" stroke="#111" stroke-width="0.6" fill="none"/>
<text transform="translate(6.77,-5.20) rotate(-90)" font-size="5.1">Cont</text>
<path d="M-1.9 11.13H-3.7V18.67H-1.9" stroke="#111" stroke-width="0.6" fill="none"/>
<text x="-5.20" y="16.70" font-size="5.1" text-anchor="end">DMN</text>
<path d="M11.13 -1.9V-3.7H18.67V-1.9" stroke="#111" stroke-width="0.6" fill="none"/>
<text transform="translate(16.70,-5.20) rotate(-90)" font-size="5.1">DMN</text>
<path d="M-1.9 21.07H-3.7V25.29H-1.9" stroke="#111" stroke-width="0.6" fill="none"/>
<text x="-5.20" y="24.98" font-size="5.1" text-anchor="end">DAN</text>
<path d="M21.07 -1.9V-3.7H25.29V-1.9" stroke="#111" stroke-width="0.6" fill="none"/>
<text transform="translate(24.98,-5.20) rotate(-90)" font-size="5.1">DAN</text>
<path d="M-1.9 27.69H-3.7V31.91H-1.9" stroke="#111" stroke-width="0.6" fill="none"/>
<text x="-5.20" y="31.60" font-size="5.1" text-anchor="end">Lim</text>
<path d="M27.69 -1.9V-3.7H31.91V-1.9" stroke="#111" stroke-width="0.6" fill="none"/>
<text transform="translate(31.60,-5.20) rotate(-90)" font-size="5.1">Lim</text>
<path d="M-1.9 34.31H-3.7V38.53H-1.9" stroke="#111" stroke-width="0.6" fill="none"/>
<text x="-5.20" y="38.22" font-size="5.1" text-anchor="end">SalVAN</text>
<path d="M34.31 -1.9V-3.7H38.53V-1.9" stroke="#111" stroke-width="0.6" fill="none"/>
<text transform="translate(38.22,-5.20) rotate(-90)" font-size="5.1">SalVAN</text>
<path d="M-1.9 40.93H-3.7V45.15H-1.9" stroke="#111" stroke-width="0.6" fill="none"/>
<text x="-5.20" y="44.84" font-size="5.1" text-anchor="end">SMN</text>
<path d="M40.93 -1.9V-3.7H45.15V-1.9" stroke="#111" stroke-width="0.6" fill="none"/>
<text transform="translate(44.84,-5.20) rotate(-90)" font-size="5.1">SMN</text>
<path d="M-1.9 46.95H-3.7V49.06H-1.9" stroke="#111" stroke-width="0.6" fill="none"/>
<text x="-5.20" y="49.81" font-size="5.1" text-anchor="end">TP</text>
<path d="M46.95 -1.9V-3.7H49.06V-1.9" stroke="#111" stroke-width="0.6" fill="none"/>
<text transform="translate(49.81,-5.20) rotate(-90)" font-size="5.1">TP</text>
<path d="M-1.9 50.86H-3.7V55.09H-1.9" stroke="#111" stroke-width="0.6" fill="none"/>
<text x="-5.20" y="54.77" font-size="5.1" text-anchor="end">VIS</text>
<path d="M50.86 -1.9V-3.7H55.09V-1.9" stroke="#111" stroke-width="0.6" fill="none"/>
<text transform="translate(54.77,-5.20) rotate(-90)" font-size="5.1">VIS</text>
</g>
<defs><linearGradient id="gk" x1="0" y1="0" x2="1" y2="0"><stop offset="0" stop-color="#283c8c"/><stop offset="0.15" stop-color="#2c70c4"/><stop offset="0.33" stop-color="#48cbe6"/><stop offset="0.5" stop-color="#ffffff"/><stop offset="0.66" stop-color="#f4e83c"/><stop offset="0.82" stop-color="#f29a2a"/><stop offset="1" stop-color="#e62a1c"/></linearGradient></defs>
<rect x="356.00" y="376.80" width="48.50" height="4.70" fill="url(#gk)" stroke="#444" stroke-width="0.5"/>
<text x="353.50" y="381.80" text-anchor="end">-0.11</text>
<text x="406.60" y="381.80">0.11</text>
<text x="379.30" y="391.60" text-anchor="middle">Avg reg. weight</text>
<text x="329.40" y="404.20" text-anchor="middle">(+) connections only</text>
<text x="433.00" y="404.20" text-anchor="middle">(-) connections only</text>
<line x1="519.70" y1="300.90" x2="519.70" y2="386.10" stroke="#333" stroke-width="0.8"/>
<text x="516.90" y="306.70" text-anchor="end">0.8</text>
<line x1="519.70" y1="304.20" x2="520.70" y2="304.20" stroke="#333" stroke-width="0.5"/>
<text x="516.90" y="320.10" text-anchor="end">0.6</text>
<line x1="519.70" y1="317.60" x2="520.70" y2="317.60" stroke="#333" stroke-width="0.5"/>
<text x="516.90" y="333.60" text-anchor="end">0.4</text>
<line x1="519.70" y1="331.10" x2="520.70" y2="331.10" stroke="#333" stroke-width="0.5"/>
<text x="516.90" y="347.10" text-anchor="end">0.2</text>
<line x1="519.70" y1="344.60" x2="520.70" y2="344.60" stroke="#333" stroke-width="0.5"/>
<text x="516.90" y="360.50" text-anchor="end">0</text>
<line x1="519.70" y1="358.00" x2="520.70" y2="358.00" stroke="#333" stroke-width="0.5"/>
<text x="516.90" y="374.10" text-anchor="end">-0.2</text>
<line x1="519.70" y1="371.60" x2="520.70" y2="371.60" stroke="#333" stroke-width="0.5"/>
<text x="516.90" y="387.70" text-anchor="end">-0.4</text>
<line x1="519.70" y1="385.20" x2="520.70" y2="385.20" stroke="#333" stroke-width="0.5"/>
<text transform="translate(501.60,344.00) rotate(-90)" text-anchor="middle">Regression weights</text>
<path d="M526.5,325.5 L526.5,315.1 L541.5,315.1 L541.5,337.5" fill="none" stroke="#999" stroke-width="0.5"/>
<text x="534.60" y="314.00" text-anchor="middle" font-size="5.5">*</text>
<path d="M533.7 344.0h0.8v0.8h-0.8zM530.7 359.0h0.8v0.8h-0.8zM533.1 340.2h0.8v0.8h-0.8zM533.1 363.2h0.8v0.8h-0.8zM531.5 339.5h0.8v0.8h-0.8zM533.6 351.4h0.8v0.8h-0.8zM530.3 363.9h0.8v0.8h-0.8zM531.4 336.6h0.8v0.8h-0.8zM530.5 351.3h0.8v0.8h-0.8zM533.8 343.6h0.8v0.8h-0.8zM532.8 361.6h0.8v0.8h-0.8zM530.6 344.0h0.8v0.8h-0.8zM530.0 360.5h0.8v0.8h-0.8zM530.0 343.3h0.8v0.8h-0.8zM531.7 364.6h0.8v0.8h-0.8zM532.1 341.9h0.8v0.8h-0.8zM532.0 350.9h0.8v0.8h-0.8zM533.4 343.9h0.8v0.8h-0.8zM532.9 355.9h0.8v0.8h-0.8zM530.1 354.4h0.8v0.8h-0.8zM532.7 365.5h0.8v0.8h-0.8zM533.9 346.3h0.8v0.8h-0.8zM533.5 361.3h0.8v0.8h-0.8zM529.8 344.6h0.8v0.8h-0.8zM529.7 354.0h0.8v0.8h-0.8zM529.7 338.6h0.8v0.8h-0.8zM530.0 343.4h0.8v0.8h-0.8zM533.9 357.0h0.8v0.8h-0.8zM531.0 353.5h0.8v0.8h-0.8zM532.9 348.0h0.8v0.8h-0.8zM531.5 336.3h0.8v0.8h-0.8zM533.1 340.5h0.8v0.8h-0.8zM531.4 342.1h0.8v0.8h-0.8zM532.8 347.2h0.8v0.8h-0.8zM531.5 370.5h0.8v0.8h-0.8zM534.0 350.4h0.8v0.8h-0.8zM530.0 368.2h0.8v0.8h-0.8zM532.0 334.5h0.8v0.8h-0.8zM531.5 334.4h0.8v0.8h-0.8zM533.2 352.4h0.8v0.8h-0.8zM529.8 343.6h0.8v0.8h-0.8zM533.9 363.5h0.8v0.8h-0.8zM531.3 354.4h0.8v0.8h-0.8zM532.2 345.2h0.8v0.8h-0.8zM530.4 344.6h0.8v0.8h-0.8zM530.3 341.4h0.8v0.8h-0.8zM533.0 351.1h0.8v0.8h-0.8zM533.0 343.8h0.8v0.8h-0.8zM529.9 343.8h0.8v0.8h-0.8zM529.8 360.2h0.8v0.8h-0.8zM531.0 346.3h0.8v0.8h-0.8zM531.2 352.1h0.8v0.8h-0.8zM530.0 342.0h0.8v0.8h-0.8zM530.0 352.3h0.8v0.8h-0.8zM530.2 370.5h0.8v0.8h-0.8zM530.7 335.5h0.8v0.8h-0.8zM529.7 355.5h0.8v0.8h-0.8zM531.1 338.5h0.8v0.8h-0.8zM533.6 351.0h0.8v0.8h-0.8zM530.3 355.9h0.8v0.8h-0.8zM530.4 348.6h0.8v0.8h-0.8zM530.5 353.0h0.8v0.8h-0.8zM533.3 346.2h0.8v0.8h-0.8zM533.1 349.0h0.8v0.8h-0.8zM531.9 350.5h0.8v0.8h-0.8zM530.2 357.8h0.8v0.8h-0.8zM529.8 349.6h0.8v0.8h-0.8zM531.1 341.6h0.8v0.8h-0.8zM531.3 351.5h0.8v0.8h-0.8zM529.8 336.9h0.8v0.8h-0.8zM533.2 330.3h0.8v0.8h-0.8zM530.7 348.3h0.8v0.8h-0.8zM533.1 365.4h0.8v0.8h-0.8zM530.8 350.7h0.8v0.8h-0.8zM530.0 344.6h0.8v0.8h-0.8zM532.8 342.3h0.8v0.8h-0.8zM530.7 348.7h0.8v0.8h-0.8zM530.7 343.5h0.8v0.8h-0.8zM531.3 346.0h0.8v0.8h-0.8zM531.4 337.6h0.8v0.8h-0.8zM529.9 348.9h0.8v0.8h-0.8zM533.2 349.7h0.8v0.8h-0.8zM530.4 365.4h0.8v0.8h-0.8zM530.1 340.4h0.8v0.8h-0.8zM531.9 346.2h0.8v0.8h-0.8zM531.1 345.9h0.8v0.8h-0.8zM532.7 340.1h0.8v0.8h-0.8zM533.6 347.3h0.8v0.8h-0.8zM531.3 339.7h0.8v0.8h-0.8zM529.8 353.9h0.8v0.8h-0.8zM530.4 324.0h0.8v0.8h-0.8zM531.5 350.1h0.8v0.8h-0.8zM530.7 332.9h0.8v0.8h-0.8zM529.9 346.3h0.8v0.8h-0.8zM531.5 347.8h0.8v0.8h-0.8zM533.4 338.8h0.8v0.8h-0.8zM531.7 348.2h0.8v0.8h-0.8zM531.1 337.2h0.8v0.8h-0.8zM533.9 363.6h0.8v0.8h-0.8zM533.2 349.7h0.8v0.8h-0.8zM531.2 339.9h0.8v0.8h-0.8zM529.7 353.1h0.8v0.8h-0.8zM531.3 345.9h0.8v0.8h-0.8zM531.6 345.1h0.8v0.8h-0.8zM532.6 329.3h0.8v0.8h-0.8zM531.5 348.5h0.8v0.8h-0.8zM531.8 349.1h0.8v0.8h-0.8zM533.5 354.1h0.8v0.8h-0.8zM531.2 355.4h0.8v0.8h-0.8zM532.6 349.3h0.8v0.8h-0.8zM530.2 356.8h0.8v0.8h-0.8zM530.1 362.9h0.8v0.8h-0.8zM530.1 333.1h0.8v0.8h-0.8zM531.7 349.9h0.8v0.8h-0.8zM529.9 351.7h0.8v0.8h-0.8zM532.2 334.2h0.8v0.8h-0.8zM530.9 344.6h0.8v0.8h-0.8zM530.2 346.5h0.8v0.8h-0.8zM531.5 349.8h0.8v0.8h-0.8zM531.0 341.5h0.8v0.8h-0.8zM533.4 354.0h0.8v0.8h-0.8zM530.4 355.9h0.8v0.8h-0.8zM530.0 351.3h0.8v0.8h-0.8zM530.0 352.6h0.8v0.8h-0.8zM529.8 357.0h0.8v0.8h-0.8zM531.9 361.3h0.8v0.8h-0.8zM530.6 350.0h0.8v0.8h-0.8zM532.3 365.7h0.8v0.8h-0.8zM530.7 353.2h0.8v0.8h-0.8zM531.2 332.3h0.8v0.8h-0.8zM533.8 346.8h0.8v0.8h-0.8zM533.4 357.3h0.8v0.8h-0.8zM532.3 348.9h0.8v0.8h-0.8zM532.6 358.8h0.8v0.8h-0.8zM531.6 352.2h0.8v0.8h-0.8zM532.9 343.6h0.8v0.8h-0.8zM530.2 341.7h0.8v0.8h-0.8zM530.5 348.3h0.8v0.8h-0.8zM533.1 351.0h0.8v0.8h-0.8zM531.0 355.5h0.8v0.8h-0.8z" fill="#555" fill-opacity="0.16"/>
<path d="M529.6 353.4h0.8v0.8h-0.8zM531.1 353.0h0.8v0.8h-0.8zM530.1 357.6h0.8v0.8h-0.8zM533.2 360.1h0.8v0.8h-0.8zM534.0 357.3h0.8v0.8h-0.8zM530.9 357.8h0.8v0.8h-0.8zM532.2 356.2h0.8v0.8h-0.8zM530.4 355.4h0.8v0.8h-0.8zM533.5 352.3h0.8v0.8h-0.8zM530.0 352.1h0.8v0.8h-0.8zM531.2 358.3h0.8v0.8h-0.8zM529.7 359.0h0.8v0.8h-0.8zM533.5 354.2h0.8v0.8h-0.8zM531.8 355.6h0.8v0.8h-0.8zM534.0 352.8h0.8v0.8h-0.8zM530.1 358.5h0.8v0.8h-0.8zM531.7 351.5h0.8v0.8h-0.8zM532.8 353.1h0.8v0.8h-0.8zM533.2 356.1h0.8v0.8h-0.8zM531.7 358.4h0.8v0.8h-0.8zM532.3 356.3h0.8v0.8h-0.8zM531.7 362.5h0.8v0.8h-0.8zM529.9 354.4h0.8v0.8h-0.8zM531.9 358.7h0.8v0.8h-0.8zM533.0 353.0h0.8v0.8h-0.8zM532.3 360.3h0.8v0.8h-0.8zM531.3 349.2h0.8v0.8h-0.8zM531.9 351.5h0.8v0.8h-0.8zM534.0 357.6h0.8v0.8h-0.8zM531.4 358.9h0.8v0.8h-0.8zM530.4 352.1h0.8v0.8h-0.8zM531.4 357.1h0.8v0.8h-0.8zM530.0 359.9h0.8v0.8h-0.8zM530.9 355.7h0.8v0.8h-0.8zM532.5 353.3h0.8v0.8h-0.8zM532.7 354.8h0.8v0.8h-0.8zM533.4 362.8h0.8v0.8h-0.8zM530.3 356.3h0.8v0.8h-0.8zM533.5 357.8h0.8v0.8h-0.8zM530.1 358.5h0.8v0.8h-0.8zM533.9 353.9h0.8v0.8h-0.8zM529.8 356.8h0.8v0.8h-0.8zM530.9 355.9h0.8v0.8h-0.8zM530.9 355.1h0.8v0.8h-0.8zM531.0 358.7h0.8v0.8h-0.8zM533.2 358.8h0.8v0.8h-0.8zM529.8 357.3h0.8v0.8h-0.8zM531.8 357.0h0.8v0.8h-0.8zM532.7 354.4h0.8v0.8h-0.8zM532.1 357.0h0.8v0.8h-0.8zM533.6 352.6h0.8v0.8h-0.8zM529.8 357.0h0.8v0.8h-0.8zM531.7 355.1h0.8v0.8h-0.8zM530.4 359.2h0.8v0.8h-0.8zM532.1 358.6h0.8v0.8h-0.8zM533.0 363.0h0.8v0.8h-0.8zM533.0 358.1h0.8v0.8h-0.8zM532.0 359.7h0.8v0.8h-0.8zM531.3 354.2h0.8v0.8h-0.8zM533.1 355.5h0.8v0.8h-0.8zM533.7 358.0h0.8v0.8h-0.8zM529.9 355.1h0.8v0.8h-0.8zM530.0 355.9h0.8v0.8h-0.8zM530.8 357.0h0.8v0.8h-0.8zM533.5 356.5h0.8v0.8h-0.8zM531.1 358.4h0.8v0.8h-0.8zM531.4 356.5h0.8v0.8h-0.8zM531.0 359.1h0.8v0.8h-0.8zM531.8 355.7h0.8v0.8h-0.8zM533.8 351.4h0.8v0.8h-0.8zM531.0 360.6h0.8v0.8h-0.8zM530.6 356.0h0.8v0.8h-0.8zM530.9 356.6h0.8v0.8h-0.8zM532.9 350.2h0.8v0.8h-0.8zM530.4 358.7h0.8v0.8h-0.8zM533.3 352.7h0.8v0.8h-0.8zM529.7 356.7h0.8v0.8h-0.8zM530.6 357.3h0.8v0.8h-0.8zM532.2 358.1h0.8v0.8h-0.8zM532.6 352.6h0.8v0.8h-0.8zM530.4 355.3h0.8v0.8h-0.8zM532.7 353.7h0.8v0.8h-0.8zM532.5 352.6h0.8v0.8h-0.8zM533.5 356.4h0.8v0.8h-0.8zM532.5 353.2h0.8v0.8h-0.8zM531.6 361.1h0.8v0.8h-0.8zM530.0 352.5h0.8v0.8h-0.8zM530.7 356.3h0.8v0.8h-0.8zM529.8 352.9h0.8v0.8h-0.8zM531.5 356.1h0.8v0.8h-0.8zM531.5 350.3h0.8v0.8h-0.8zM531.3 353.9h0.8v0.8h-0.8zM533.9 353.0h0.8v0.8h-0.8zM529.8 365.1h0.8v0.8h-0.8zM530.0 359.3h0.8v0.8h-0.8zM533.0 355.0h0.8v0.8h-0.8zM531.0 356.5h0.8v0.8h-0.8zM531.6 358.9h0.8v0.8h-0.8zM529.6 359.0h0.8v0.8h-0.8zM529.9 356.7h0.8v0.8h-0.8zM531.2 356.3h0.8v0.8h-0.8zM533.1 356.5h0.8v0.8h-0.8zM533.7 360.3h0.8v0.8h-0.8zM532.2 360.4h0.8v0.8h-0.8zM533.8 360.7h0.8v0.8h-0.8zM529.9 355.5h0.8v0.8h-0.8zM531.0 354.4h0.8v0.8h-0.8zM530.0 359.4h0.8v0.8h-0.8zM531.7 359.2h0.8v0.8h-0.8zM533.7 357.5h0.8v0.8h-0.8zM532.7 358.0h0.8v0.8h-0.8zM533.8 353.8h0.8v0.8h-0.8zM533.2 351.8h0.8v0.8h-0.8zM531.3 355.6h0.8v0.8h-0.8zM531.9 357.9h0.8v0.8h-0.8zM533.3 360.2h0.8v0.8h-0.8zM533.1 355.4h0.8v0.8h-0.8zM532.0 355.1h0.8v0.8h-0.8zM529.9 361.0h0.8v0.8h-0.8zM531.2 356.2h0.8v0.8h-0.8zM530.9 353.3h0.8v0.8h-0.8zM532.0 355.7h0.8v0.8h-0.8zM533.3 357.3h0.8v0.8h-0.8zM533.5 361.9h0.8v0.8h-0.8zM532.4 350.6h0.8v0.8h-0.8zM531.9 355.6h0.8v0.8h-0.8zM530.3 352.4h0.8v0.8h-0.8zM530.2 350.3h0.8v0.8h-0.8zM533.6 355.5h0.8v0.8h-0.8zM533.4 358.4h0.8v0.8h-0.8zM530.4 359.8h0.8v0.8h-0.8zM532.2 354.1h0.8v0.8h-0.8zM531.6 357.7h0.8v0.8h-0.8zM531.7 365.0h0.8v0.8h-0.8zM531.4 350.4h0.8v0.8h-0.8zM533.1 358.8h0.8v0.8h-0.8zM532.2 359.5h0.8v0.8h-0.8zM531.8 358.8h0.8v0.8h-0.8zM531.5 354.7h0.8v0.8h-0.8zM532.6 357.4h0.8v0.8h-0.8zM531.5 354.1h0.8v0.8h-0.8zM532.5 357.7h0.8v0.8h-0.8zM532.7 351.9h0.8v0.8h-0.8zM531.1 357.9h0.8v0.8h-0.8zM531.4 357.1h0.8v0.8h-0.8zM531.3 353.6h0.8v0.8h-0.8zM531.0 351.9h0.8v0.8h-0.8zM530.8 352.3h0.8v0.8h-0.8zM533.3 355.5h0.8v0.8h-0.8zM532.2 356.2h0.8v0.8h-0.8zM533.7 359.8h0.8v0.8h-0.8zM529.8 356.9h0.8v0.8h-0.8zM533.6 352.4h0.8v0.8h-0.8zM530.4 362.4h0.8v0.8h-0.8zM531.6 354.0h0.8v0.8h-0.8zM531.4 359.1h0.8v0.8h-0.8zM532.9 354.2h0.8v0.8h-0.8zM533.9 356.7h0.8v0.8h-0.8zM531.9 350.2h0.8v0.8h-0.8zM532.9 356.5h0.8v0.8h-0.8zM533.1 354.7h0.8v0.8h-0.8zM529.7 352.3h0.8v0.8h-0.8zM529.6 364.9h0.8v0.8h-0.8zM530.3 353.0h0.8v0.8h-0.8zM530.9 359.2h0.8v0.8h-0.8zM533.2 354.9h0.8v0.8h-0.8zM529.6 356.9h0.8v0.8h-0.8zM532.9 349.9h0.8v0.8h-0.8zM533.6 355.1h0.8v0.8h-0.8zM533.2 356.3h0.8v0.8h-0.8zM532.3 352.0h0.8v0.8h-0.8zM532.9 352.8h0.8v0.8h-0.8zM533.1 362.0h0.8v0.8h-0.8zM532.2 355.5h0.8v0.8h-0.8zM531.9 352.9h0.8v0.8h-0.8zM530.9 355.8h0.8v0.8h-0.8zM533.4 358.4h0.8v0.8h-0.8zM530.0 349.0h0.8v0.8h-0.8zM532.9 355.2h0.8v0.8h-0.8zM530.4 355.9h0.8v0.8h-0.8zM533.6 357.7h0.8v0.8h-0.8zM530.7 356.5h0.8v0.8h-0.8zM532.2 358.9h0.8v0.8h-0.8zM533.2 353.6h0.8v0.8h-0.8zM529.6 356.6h0.8v0.8h-0.8zM531.6 357.9h0.8v0.8h-0.8zM531.4 357.6h0.8v0.8h-0.8zM530.8 359.4h0.8v0.8h-0.8zM533.1 357.2h0.8v0.8h-0.8zM530.6 355.4h0.8v0.8h-0.8zM530.3 358.6h0.8v0.8h-0.8zM532.4 357.0h0.8v0.8h-0.8zM533.8 356.8h0.8v0.8h-0.8zM531.7 354.0h0.8v0.8h-0.8zM529.7 363.8h0.8v0.8h-0.8zM531.1 358.4h0.8v0.8h-0.8zM531.5 355.0h0.8v0.8h-0.8zM531.7 359.5h0.8v0.8h-0.8zM532.6 358.5h0.8v0.8h-0.8zM530.8 355.8h0.8v0.8h-0.8zM530.1 355.8h0.8v0.8h-0.8zM530.4 355.2h0.8v0.8h-0.8zM531.2 357.8h0.8v0.8h-0.8zM530.4 352.3h0.8v0.8h-0.8zM533.1 352.5h0.8v0.8h-0.8zM532.0 355.8h0.8v0.8h-0.8zM532.3 359.7h0.8v0.8h-0.8zM532.2 350.0h0.8v0.8h-0.8zM532.3 354.9h0.8v0.8h-0.8zM530.4 354.2h0.8v0.8h-0.8zM530.7 355.7h0.8v0.8h-0.8zM530.1 356.0h0.8v0.8h-0.8zM531.8 357.3h0.8v0.8h-0.8zM533.9 354.8h0.8v0.8h-0.8zM531.7 354.0h0.8v0.8h-0.8zM532.6 357.2h0.8v0.8h-0.8zM533.6 355.5h0.8v0.8h-0.8zM532.4 353.1h0.8v0.8h-0.8zM532.2 352.0h0.8v0.8h-0.8zM532.8 355.0h0.8v0.8h-0.8zM531.7 358.5h0.8v0.8h-0.8zM532.4 358.8h0.8v0.8h-0.8zM531.0 356.6h0.8v0.8h-0.8zM532.9 359.0h0.8v0.8h-0.8zM532.2 352.9h0.8v0.8h-0.8zM529.9 358.7h0.8v0.8h-0.8zM531.7 355.8h0.8v0.8h-0.8zM529.7 351.7h0.8v0.8h-0.8zM530.0 358.0h0.8v0.8h-0.8zM531.4 357.1h0.8v0.8h-0.8zM531.1 357.6h0.8v0.8h-0.8zM530.2 360.8h0.8v0.8h-0.8zM530.1 355.5h0.8v0.8h-0.8zM529.7 351.9h0.8v0.8h-0.8zM532.9 360.1h0.8v0.8h-0.8zM533.3 353.5h0.8v0.8h-0.8zM532.7 350.4h0.8v0.8h-0.8zM530.1 358.0h0.8v0.8h-0.8zM529.6 354.0h0.8v0.8h-0.8zM533.0 360.4h0.8v0.8h-0.8zM533.7 361.2h0.8v0.8h-0.8zM529.8 354.3h0.8v0.8h-0.8zM529.6 358.9h0.8v0.8h-0.8zM533.9 351.0h0.8v0.8h-0.8zM532.8 352.3h0.8v0.8h-0.8zM531.9 359.0h0.8v0.8h-0.8zM531.1 351.4h0.8v0.8h-0.8zM530.2 353.7h0.8v0.8h-0.8zM533.7 356.5h0.8v0.8h-0.8zM532.7 356.8h0.8v0.8h-0.8zM530.8 355.8h0.8v0.8h-0.8zM532.6 353.2h0.8v0.8h-0.8zM533.4 356.3h0.8v0.8h-0.8zM530.1 357.1h0.8v0.8h-0.8zM532.8 356.5h0.8v0.8h-0.8zM531.5 359.2h0.8v0.8h-0.8zM531.5 355.3h0.8v0.8h-0.8zM532.0 352.7h0.8v0.8h-0.8zM533.8 361.1h0.8v0.8h-0.8zM532.2 357.4h0.8v0.8h-0.8z" fill="#111" fill-opacity="0.42"/>
<path d="M546.1 353.5h0.8v0.8h-0.8zM545.7 351.4h0.8v0.8h-0.8zM545.8 356.0h0.8v0.8h-0.8zM545.2 353.1h0.8v0.8h-0.8zM544.6 355.5h0.8v0.8h-0.8zM547.2 357.9h0.8v0.8h-0.8zM544.1 342.2h0.8v0.8h-0.8zM547.5 347.9h0.8v0.8h-0.8zM545.6 350.6h0.8v0.8h-0.8zM546.7 358.1h0.8v0.8h-0.8zM545.6 343.2h0.8v0.8h-0.8zM545.2 354.3h0.8v0.8h-0.8zM545.8 341.7h0.8v0.8h-0.8zM546.7 351.8h0.8v0.8h-0.8zM546.0 349.6h0.8v0.8h-0.8zM547.6 353.3h0.8v0.8h-0.8zM544.8 345.8h0.8v0.8h-0.8zM545.1 349.6h0.8v0.8h-0.8zM545.9 354.2h0.8v0.8h-0.8zM544.3 352.9h0.8v0.8h-0.8zM544.7 350.6h0.8v0.8h-0.8zM545.5 347.6h0.8v0.8h-0.8zM546.2 351.9h0.8v0.8h-0.8zM546.2 365.3h0.8v0.8h-0.8zM545.7 367.2h0.8v0.8h-0.8zM545.7 352.2h0.8v0.8h-0.8zM544.8 357.6h0.8v0.8h-0.8zM546.5 346.8h0.8v0.8h-0.8zM544.6 350.6h0.8v0.8h-0.8zM547.3 346.2h0.8v0.8h-0.8zM543.8 356.7h0.8v0.8h-0.8zM546.2 349.1h0.8v0.8h-0.8zM544.2 358.1h0.8v0.8h-0.8zM545.9 358.2h0.8v0.8h-0.8zM543.6 357.2h0.8v0.8h-0.8zM544.7 348.8h0.8v0.8h-0.8zM545.1 348.2h0.8v0.8h-0.8zM546.1 351.4h0.8v0.8h-0.8zM544.2 352.1h0.8v0.8h-0.8zM546.3 355.3h0.8v0.8h-0.8zM547.4 352.2h0.8v0.8h-0.8zM546.6 346.1h0.8v0.8h-0.8zM544.8 350.7h0.8v0.8h-0.8zM544.3 346.4h0.8v0.8h-0.8zM547.3 345.6h0.8v0.8h-0.8zM546.1 349.6h0.8v0.8h-0.8zM544.4 363.3h0.8v0.8h-0.8zM547.3 347.1h0.8v0.8h-0.8zM545.6 349.3h0.8v0.8h-0.8zM544.4 350.1h0.8v0.8h-0.8zM544.6 350.4h0.8v0.8h-0.8zM544.1 341.0h0.8v0.8h-0.8zM546.3 356.0h0.8v0.8h-0.8zM544.4 344.2h0.8v0.8h-0.8zM546.7 352.2h0.8v0.8h-0.8zM545.0 352.7h0.8v0.8h-0.8zM546.9 351.7h0.8v0.8h-0.8zM544.1 348.4h0.8v0.8h-0.8zM543.8 354.7h0.8v0.8h-0.8zM546.2 349.1h0.8v0.8h-0.8zM547.4 353.8h0.8v0.8h-0.8zM547.5 359.8h0.8v0.8h-0.8zM544.6 360.1h0.8v0.8h-0.8zM544.3 353.5h0.8v0.8h-0.8zM544.0 340.8h0.8v0.8h-0.8zM546.9 355.1h0.8v0.8h-0.8zM543.9 357.0h0.8v0.8h-0.8zM543.8 357.5h0.8v0.8h-0.8zM543.6 357.9h0.8v0.8h-0.8zM545.0 355.5h0.8v0.8h-0.8zM546.4 346.0h0.8v0.8h-0.8zM544.0 345.2h0.8v0.8h-0.8zM546.0 364.0h0.8v0.8h-0.8zM543.8 362.0h0.8v0.8h-0.8zM545.2 354.2h0.8v0.8h-0.8zM546.8 341.6h0.8v0.8h-0.8zM545.6 350.4h0.8v0.8h-0.8zM546.3 338.8h0.8v0.8h-0.8zM543.6 358.1h0.8v0.8h-0.8zM543.8 355.4h0.8v0.8h-0.8zM546.7 350.5h0.8v0.8h-0.8zM547.2 357.1h0.8v0.8h-0.8zM544.0 355.8h0.8v0.8h-0.8zM543.7 352.1h0.8v0.8h-0.8zM544.2 348.6h0.8v0.8h-0.8zM545.2 354.5h0.8v0.8h-0.8zM544.2 342.2h0.8v0.8h-0.8zM543.8 355.0h0.8v0.8h-0.8zM546.6 347.9h0.8v0.8h-0.8zM545.2 350.5h0.8v0.8h-0.8zM544.1 347.7h0.8v0.8h-0.8zM544.8 348.0h0.8v0.8h-0.8zM544.4 355.1h0.8v0.8h-0.8zM545.8 358.3h0.8v0.8h-0.8zM544.7 358.2h0.8v0.8h-0.8zM545.7 355.1h0.8v0.8h-0.8zM545.4 352.5h0.8v0.8h-0.8zM547.2 353.3h0.8v0.8h-0.8zM547.0 362.7h0.8v0.8h-0.8zM546.7 347.7h0.8v0.8h-0.8z" fill="#555" fill-opacity="0.16"/>
<path d="M544.5 357.0h0.8v0.8h-0.8zM543.9 362.0h0.8v0.8h-0.8zM543.9 360.9h0.8v0.8h-0.8zM546.3 357.6h0.8v0.8h-0.8zM547.3 356.6h0.8v0.8h-0.8zM545.5 350.9h0.8v0.8h-0.8zM544.2 355.4h0.8v0.8h-0.8zM546.7 357.7h0.8v0.8h-0.8zM546.9 360.4h0.8v0.8h-0.8zM544.4 359.0h0.8v0.8h-0.8zM546.3 354.6h0.8v0.8h-0.8zM544.0 358.1h0.8v0.8h-0.8zM544.8 359.6h0.8v0.8h-0.8zM547.4 361.1h0.8v0.8h-0.8zM544.7 356.7h0.8v0.8h-0.8zM543.7 359.5h0.8v0.8h-0.8zM546.1 356.1h0.8v0.8h-0.8zM543.8 354.9h0.8v0.8h-0.8zM544.0 358.5h0.8v0.8h-0.8zM547.5 354.5h0.8v0.8h-0.8zM544.9 354.8h0.8v0.8h-0.8zM546.4 359.8h0.8v0.8h-0.8zM546.6 357.5h0.8v0.8h-0.8zM544.3 356.9h0.8v0.8h-0.8zM545.2 354.4h0.8v0.8h-0.8zM544.7 361.3h0.8v0.8h-0.8zM547.5 356.8h0.8v0.8h-0.8zM543.7 355.0h0.8v0.8h-0.8zM546.9 356.6h0.8v0.8h-0.8zM546.4 357.3h0.8v0.8h-0.8zM546.5 355.2h0.8v0.8h-0.8zM544.4 359.3h0.8v0.8h-0.8zM546.7 361.7h0.8v0.8h-0.8zM544.1 358.8h0.8v0.8h-0.8zM544.8 354.1h0.8v0.8h-0.8zM543.9 358.2h0.8v0.8h-0.8zM544.4 357.1h0.8v0.8h-0.8zM544.8 358.6h0.8v0.8h-0.8zM547.2 358.7h0.8v0.8h-0.8zM544.4 357.1h0.8v0.8h-0.8zM545.2 356.6h0.8v0.8h-0.8zM545.7 355.9h0.8v0.8h-0.8zM547.0 354.3h0.8v0.8h-0.8zM545.9 357.9h0.8v0.8h-0.8zM546.5 358.7h0.8v0.8h-0.8zM545.6 361.6h0.8v0.8h-0.8zM544.0 362.9h0.8v0.8h-0.8zM544.9 355.8h0.8v0.8h-0.8zM544.2 352.2h0.8v0.8h-0.8zM544.2 354.9h0.8v0.8h-0.8zM545.5 354.2h0.8v0.8h-0.8zM543.9 358.5h0.8v0.8h-0.8zM545.5 352.7h0.8v0.8h-0.8zM545.9 359.9h0.8v0.8h-0.8zM544.7 362.0h0.8v0.8h-0.8zM545.7 357.5h0.8v0.8h-0.8zM544.3 356.1h0.8v0.8h-0.8zM543.9 359.8h0.8v0.8h-0.8zM544.3 356.8h0.8v0.8h-0.8zM545.4 357.9h0.8v0.8h-0.8zM544.8 359.3h0.8v0.8h-0.8zM546.9 357.4h0.8v0.8h-0.8zM547.2 361.1h0.8v0.8h-0.8zM544.6 362.3h0.8v0.8h-0.8zM543.9 357.2h0.8v0.8h-0.8zM545.5 361.6h0.8v0.8h-0.8zM546.6 356.0h0.8v0.8h-0.8zM546.8 357.7h0.8v0.8h-0.8zM544.5 364.2h0.8v0.8h-0.8zM546.4 360.5h0.8v0.8h-0.8zM545.3 357.7h0.8v0.8h-0.8zM545.1 357.6h0.8v0.8h-0.8zM545.0 353.5h0.8v0.8h-0.8zM544.4 357.1h0.8v0.8h-0.8zM547.0 358.1h0.8v0.8h-0.8zM545.7 357.0h0.8v0.8h-0.8zM546.1 354.3h0.8v0.8h-0.8zM544.6 359.7h0.8v0.8h-0.8zM547.5 356.0h0.8v0.8h-0.8zM544.0 357.9h0.8v0.8h-0.8zM544.7 349.6h0.8v0.8h-0.8zM547.3 356.6h0.8v0.8h-0.8zM546.8 359.5h0.8v0.8h-0.8zM545.1 357.3h0.8v0.8h-0.8zM545.6 360.4h0.8v0.8h-0.8zM546.8 357.4h0.8v0.8h-0.8zM543.9 357.1h0.8v0.8h-0.8zM547.3 356.2h0.8v0.8h-0.8zM543.6 357.8h0.8v0.8h-0.8zM546.5 354.1h0.8v0.8h-0.8zM546.4 354.1h0.8v0.8h-0.8zM544.9 354.7h0.8v0.8h-0.8zM545.9 355.2h0.8v0.8h-0.8zM547.6 357.7h0.8v0.8h-0.8zM544.4 356.8h0.8v0.8h-0.8zM547.4 354.4h0.8v0.8h-0.8zM546.7 357.4h0.8v0.8h-0.8zM546.1 354.9h0.8v0.8h-0.8zM544.1 361.8h0.8v0.8h-0.8zM544.6 355.5h0.8v0.8h-0.8zM546.5 358.0h0.8v0.8h-0.8zM547.3 352.6h0.8v0.8h-0.8zM547.3 356.0h0.8v0.8h-0.8zM546.6 355.3h0.8v0.8h-0.8zM547.2 355.0h0.8v0.8h-0.8zM545.9 361.1h0.8v0.8h-0.8zM543.6 360.6h0.8v0.8h-0.8zM546.4 353.4h0.8v0.8h-0.8zM547.2 357.0h0.8v0.8h-0.8zM546.5 355.6h0.8v0.8h-0.8zM546.0 362.8h0.8v0.8h-0.8zM546.3 358.5h0.8v0.8h-0.8zM544.8 356.2h0.8v0.8h-0.8zM547.1 354.7h0.8v0.8h-0.8zM544.3 362.9h0.8v0.8h-0.8zM546.3 360.1h0.8v0.8h-0.8zM547.5 359.4h0.8v0.8h-0.8zM547.2 356.4h0.8v0.8h-0.8zM546.7 362.2h0.8v0.8h-0.8zM545.5 362.7h0.8v0.8h-0.8zM547.0 357.6h0.8v0.8h-0.8zM547.1 352.2h0.8v0.8h-0.8zM545.6 356.3h0.8v0.8h-0.8zM544.4 363.1h0.8v0.8h-0.8zM543.8 357.6h0.8v0.8h-0.8zM545.4 358.3h0.8v0.8h-0.8zM546.8 357.6h0.8v0.8h-0.8zM547.1 355.0h0.8v0.8h-0.8zM544.4 357.0h0.8v0.8h-0.8zM546.6 359.8h0.8v0.8h-0.8zM544.7 353.2h0.8v0.8h-0.8zM545.9 358.8h0.8v0.8h-0.8zM547.4 356.6h0.8v0.8h-0.8zM543.7 356.3h0.8v0.8h-0.8zM546.2 361.5h0.8v0.8h-0.8zM545.1 360.9h0.8v0.8h-0.8zM543.6 358.2h0.8v0.8h-0.8zM544.5 356.7h0.8v0.8h-0.8zM546.9 356.6h0.8v0.8h-0.8zM546.1 358.6h0.8v0.8h-0.8zM544.4 352.6h0.8v0.8h-0.8zM546.8 354.4h0.8v0.8h-0.8zM547.3 354.3h0.8v0.8h-0.8zM544.3 355.3h0.8v0.8h-0.8zM545.9 359.3h0.8v0.8h-0.8zM545.6 357.7h0.8v0.8h-0.8zM544.8 356.6h0.8v0.8h-0.8zM543.9 357.2h0.8v0.8h-0.8zM545.2 355.4h0.8v0.8h-0.8zM544.2 357.2h0.8v0.8h-0.8zM543.7 356.1h0.8v0.8h-0.8zM545.6 354.7h0.8v0.8h-0.8zM544.8 357.0h0.8v0.8h-0.8zM544.5 360.1h0.8v0.8h-0.8zM546.6 356.0h0.8v0.8h-0.8zM546.2 357.9h0.8v0.8h-0.8zM544.6 359.2h0.8v0.8h-0.8zM546.0 357.9h0.8v0.8h-0.8zM546.6 357.4h0.8v0.8h-0.8zM547.3 357.9h0.8v0.8h-0.8zM545.1 359.3h0.8v0.8h-0.8zM544.8 358.7h0.8v0.8h-0.8zM547.6 354.6h0.8v0.8h-0.8zM543.7 355.8h0.8v0.8h-0.8zM547.0 358.1h0.8v0.8h-0.8zM547.4 356.4h0.8v0.8h-0.8zM544.0 354.0h0.8v0.8h-0.8zM543.8 354.0h0.8v0.8h-0.8zM547.0 360.8h0.8v0.8h-0.8zM547.5 362.7h0.8v0.8h-0.8zM546.7 355.0h0.8v0.8h-0.8zM545.8 362.2h0.8v0.8h-0.8zM546.7 358.4h0.8v0.8h-0.8zM546.7 360.0h0.8v0.8h-0.8zM546.2 355.9h0.8v0.8h-0.8zM545.5 357.9h0.8v0.8h-0.8zM547.4 356.7h0.8v0.8h-0.8zM546.3 364.1h0.8v0.8h-0.8zM547.5 357.3h0.8v0.8h-0.8zM545.2 352.8h0.8v0.8h-0.8zM546.7 355.5h0.8v0.8h-0.8zM545.8 357.0h0.8v0.8h-0.8zM546.8 361.2h0.8v0.8h-0.8zM545.2 354.7h0.8v0.8h-0.8zM545.9 358.2h0.8v0.8h-0.8zM544.3 362.8h0.8v0.8h-0.8zM545.7 353.5h0.8v0.8h-0.8zM546.4 360.0h0.8v0.8h-0.8zM546.6 354.6h0.8v0.8h-0.8zM547.1 358.7h0.8v0.8h-0.8zM544.3 356.2h0.8v0.8h-0.8zM546.4 360.9h0.8v0.8h-0.8zM543.8 359.0h0.8v0.8h-0.8zM543.9 356.3h0.8v0.8h-0.8zM546.3 356.7h0.8v0.8h-0.8zM547.0 358.6h0.8v0.8h-0.8zM546.7 358.0h0.8v0.8h-0.8zM545.8 357.9h0.8v0.8h-0.8zM547.0 356.3h0.8v0.8h-0.8zM544.2 356.5h0.8v0.8h-0.8zM547.3 358.7h0.8v0.8h-0.8zM545.5 357.0h0.8v0.8h-0.8zM544.8 355.2h0.8v0.8h-0.8zM545.6 362.4h0.8v0.8h-0.8zM544.8 357.9h0.8v0.8h-0.8zM545.4 356.1h0.8v0.8h-0.8zM545.7 360.5h0.8v0.8h-0.8zM547.5 355.0h0.8v0.8h-0.8zM546.6 356.7h0.8v0.8h-0.8zM547.3 358.2h0.8v0.8h-0.8zM545.8 358.6h0.8v0.8h-0.8zM546.5 350.9h0.8v0.8h-0.8zM545.7 352.9h0.8v0.8h-0.8zM543.9 358.7h0.8v0.8h-0.8zM545.6 354.9h0.8v0.8h-0.8zM547.3 355.1h0.8v0.8h-0.8zM546.5 355.3h0.8v0.8h-0.8zM546.3 354.6h0.8v0.8h-0.8zM543.9 360.4h0.8v0.8h-0.8zM545.2 359.0h0.8v0.8h-0.8z" fill="#111" fill-opacity="0.42"/>
<path d="M526.50,326.50 L526.50,326.50 L526.50,327.06 L526.50,327.61 L526.50,328.17 L526.50,328.73 L526.50,329.28 L526.50,329.84 L526.50,330.40 L526.50,330.96 L526.50,331.51 L526.50,332.07 L526.50,332.63 L526.50,333.18 L526.50,333.74 L526.50,334.30 L526.50,334.85 L526.50,335.41 L526.50,335.97 L526.50,336.53 L526.50,337.08 L526.50,337.64 L526.50,338.20 L526.50,338.75 L526.50,339.31 L526.50,339.87 L526.50,340.42 L526.50,340.98 L526.50,341.54 L526.50,342.09 L526.49,342.65 L526.49,343.21 L526.48,343.77 L526.47,344.32 L526.46,344.88 L526.44,345.44 L526.41,345.99 L526.36,346.55 L526.31,347.11 L526.23,347.66 L526.13,348.22 L526.00,348.78 L525.85,349.34 L525.66,349.89 L525.44,350.45 L525.18,351.01 L524.90,351.56 L524.59,352.12 L524.27,352.68 L523.94,353.23 L523.62,353.79 L523.32,354.35 L523.06,354.91 L522.84,355.46 L522.69,356.02 L522.61,356.58 L522.62,357.13 L522.82,357.69 L523.21,358.25 L523.73,358.80 L524.30,359.36 L524.85,359.92 L525.33,360.47 L525.72,361.03 L526.01,361.59 L526.21,362.15 L526.34,362.70 L526.41,363.26 L526.46,363.82 L526.48,364.37 L526.49,364.93 L526.50,365.49 L526.50,366.04 L526.50,366.60 L526.50,367.16 L526.50,367.72 L526.50,368.27 L526.50,368.83 L526.50,369.39 L526.50,369.94 L526.50,370.50 L526.50,370.50Z" fill="#ec2f22" stroke="#222" stroke-width="0.5"/>
<path d="M541.50,338.10 L541.50,338.10 L541.50,338.47 L541.50,338.84 L541.50,339.21 L541.50,339.57 L541.50,339.94 L541.50,340.31 L541.50,340.68 L541.50,341.05 L541.50,341.42 L541.50,341.78 L541.50,342.15 L541.50,342.52 L541.50,342.89 L541.50,343.26 L541.50,343.63 L541.50,343.99 L541.50,344.36 L541.50,344.73 L541.50,345.10 L541.50,345.47 L541.50,345.84 L541.50,346.20 L541.50,346.57 L541.50,346.94 L541.50,347.31 L541.50,347.68 L541.50,348.05 L541.50,348.41 L541.49,348.78 L541.49,349.15 L541.48,349.52 L541.47,349.89 L541.46,350.26 L541.43,350.62 L541.39,350.99 L541.34,351.36 L541.27,351.73 L541.17,352.10 L541.03,352.47 L540.87,352.83 L540.65,353.20 L540.40,353.57 L540.10,353.94 L539.77,354.31 L539.40,354.68 L539.01,355.04 L538.62,355.41 L538.25,355.78 L537.92,356.15 L537.64,356.52 L537.44,356.89 L537.32,357.25 L537.31,357.62 L537.45,357.99 L537.75,358.36 L538.17,358.73 L538.67,359.10 L539.18,359.46 L539.69,359.83 L540.14,360.20 L540.52,360.57 L540.82,360.94 L541.05,361.31 L541.21,361.67 L541.33,362.04 L541.40,362.41 L541.44,362.78 L541.47,363.15 L541.48,363.52 L541.49,363.88 L541.50,364.25 L541.50,364.62 L541.50,364.99 L541.50,365.36 L541.50,365.73 L541.50,366.09 L541.50,366.46 L541.50,366.83 L541.50,367.20 L541.50,367.20Z" fill="#4cc6dc" stroke="#222" stroke-width="0.5"/>
<line x1="519.70" y1="358.00" x2="552.30" y2="358.00" stroke="#333" stroke-width="0.7"/>
<rect x="530.30" y="351.00" width="3.10" height="7.80" fill="none" stroke="#e84040" stroke-width="0.6"/>
<rect x="544.00" y="355.60" width="3.00" height="3.40" fill="#e05050" stroke="#e84040" stroke-width="0.4" fill-opacity="0.5"/>
<text transform="translate(530.60,391.60) rotate(-45)" text-anchor="end">Within</text>
<text transform="translate(544.80,387.80) rotate(-45)" text-anchor="end">Between</text>
<path d="M576.58,341.50 L576.58,341.50 L576.98,341.50 L577.37,341.50 L577.77,341.50 L578.16,341.50 L578.56,341.50 L578.95,341.50 L579.35,341.50 L579.74,341.50 L580.14,341.50 L580.53,341.50 L580.93,341.50 L581.32,341.50 L581.72,341.50 L582.11,341.50 L582.51,341.50 L582.90,341.50 L583.30,341.50 L583.69,341.50 L584.09,341.50 L584.48,341.50 L584.88,341.50 L585.27,341.50 L585.67,341.50 L586.06,341.50 L586.46,341.50 L586.85,341.50 L587.25,341.50 L587.64,341.50 L588.04,341.50 L588.43,341.50 L588.83,341.50 L589.22,341.50 L589.62,341.50 L590.01,341.50 L590.41,341.50 L590.80,341.50 L591.20,341.50 L591.60,341.50 L591.99,341.50 L592.39,341.50 L592.78,341.50 L593.18,341.50 L593.57,341.50 L593.97,341.50 L594.36,341.50 L594.76,341.50 L595.15,341.50 L595.55,341.50 L595.94,341.50 L596.34,341.50 L596.73,341.50 L597.13,341.50 L597.52,341.49 L597.92,341.49 L598.31,341.49 L598.71,341.49 L599.10,341.48 L599.50,341.48 L599.89,341.47 L600.29,341.46 L600.68,341.44 L601.08,341.42 L601.47,341.40 L601.87,341.37 L602.26,341.33 L602.66,341.28 L603.05,341.22 L603.45,341.15 L603.84,341.06 L604.24,340.95 L604.63,340.82 L605.03,340.66 L605.42,340.47 L605.82,340.25 L606.22,339.99 L606.61,339.68 L607.01,339.33 L607.40,338.93 L607.80,338.48 L608.19,337.96 L608.59,337.39 L608.98,336.75 L609.38,336.05 L609.77,335.29 L610.17,334.47 L610.56,333.60 L610.96,332.67 L611.35,331.70 L611.75,330.70 L612.14,329.67 L612.54,328.63 L612.93,327.58 L613.33,326.56 L613.72,325.55 L614.12,324.60 L614.51,323.69 L614.91,322.86 L615.30,322.12 L615.70,321.47 L616.09,320.92 L616.49,320.49 L616.88,320.16 L617.28,319.95 L617.67,319.87 L618.07,320.02 L618.46,320.37 L618.86,320.90 L619.25,321.58 L619.65,322.36 L620.04,323.20 L620.44,324.08 L620.84,324.94 L621.23,325.76 L621.63,326.51 L622.02,327.18 L622.42,327.77 L622.81,328.28 L623.21,328.73 L623.60,329.12 L624.00,329.48 L624.39,329.84 L624.79,330.22 L625.18,330.63 L625.58,331.20 L625.97,332.14 L626.37,333.35 L626.76,334.73 L627.16,336.14 L627.55,337.46 L627.95,338.60 L628.34,339.51 L628.74,340.21 L629.13,341.20 L629.53,341.48 L629.92,341.50 L630.32,341.50 L630.71,341.50 L631.11,341.50 L631.50,341.50 L631.90,341.50 L632.29,341.50 L632.69,341.50 L633.08,341.50 L633.48,341.50 L633.87,341.50 L634.27,341.50 L634.66,341.50 L635.06,341.50 L635.46,341.50 L635.46,341.50Z" fill="#3f7fc8" stroke="#333" stroke-width="0.5"/>
<path d="M576.58,341.50 L576.98,341.50 L577.37,341.50 L577.77,341.50 L578.16,341.50 L578.56,341.50 L578.95,341.50 L579.35,341.50 L579.74,341.50 L580.14,341.50 L580.53,341.50 L580.93,341.50 L581.32,341.50 L581.72,341.50 L582.11,341.50 L582.51,341.50 L582.90,341.50 L583.30,341.50 L583.69,341.50 L584.09,341.50 L584.48,341.50 L584.88,341.50 L585.27,341.50 L585.67,341.50 L586.06,341.50 L586.46,341.50 L586.85,341.50 L587.25,341.50 L587.64,341.50 L588.04,341.50 L588.43,341.50 L588.83,341.50 L589.22,341.50 L589.62,341.50 L590.01,341.50 L590.41,341.50 L590.80,341.50 L591.20,341.50 L591.60,341.50 L591.99,341.50 L592.39,341.50 L592.78,341.50 L593.18,341.50 L593.57,341.50 L593.97,341.50 L594.36,341.50 L594.76,341.50 L595.15,341.50 L595.55,341.50 L595.94,341.50 L596.34,341.50 L596.73,341.50 L597.13,341.50 L597.52,341.50 L597.92,341.50 L598.31,341.50 L598.71,341.50 L599.10,341.50 L599.50,341.50 L599.89,341.49 L600.29,341.49 L600.68,341.49 L601.08,341.48 L601.47,341.48 L601.87,341.47 L602.26,341.46 L602.66,341.44 L603.05,341.42 L603.45,341.39 L603.84,341.35 L604.24,341.30 L604.63,341.23 L605.03,341.14 L605.42,341.03 L605.82,340.90 L606.22,340.73 L606.61,340.51 L607.01,340.26 L607.40,339.94 L607.80,339.57 L608.19,339.12 L608.59,338.60 L608.98,337.99 L609.38,337.28 L609.77,336.48 L610.17,335.57 L610.56,334.56 L610.96,333.45 L611.35,332.23 L611.75,330.92 L612.14,329.52 L612.54,328.06 L612.93,326.53 L613.33,324.98 L613.72,323.42 L614.12,321.87 L614.51,320.37 L614.91,318.94 L615.30,317.62 L615.70,316.43 L616.09,315.40 L616.49,314.56 L616.88,313.92 L617.28,313.50 L617.67,313.31 L618.07,313.49 L618.46,314.42 L618.86,316.05 L619.25,318.24 L619.65,320.84 L620.04,323.65 L620.44,326.51 L620.84,329.26 L621.23,331.78 L621.63,334.00 L622.02,335.87 L622.42,337.39 L622.81,338.59 L623.21,339.49 L623.60,340.15 L624.00,340.62 L624.39,340.94 L624.79,341.16 L625.18,341.29 L625.58,341.38 L625.97,341.43 L626.37,341.46 L626.76,341.48 L627.16,341.49 L627.55,341.49 L627.95,341.50 L628.34,341.50 L628.74,341.50 L629.13,341.50 L629.53,341.50 L629.92,341.50 L630.32,341.50 L630.71,341.50 L631.11,341.50 L631.50,341.50 L631.90,341.50 L632.29,341.50 L632.69,341.50 L633.08,341.50 L633.48,341.50 L633.87,341.50 L634.27,341.50 L634.66,341.50 L635.06,341.50 L635.46,341.50" fill="none" stroke="#e8c430" stroke-width="0.7" stroke-dasharray="0.8,0.8"/>
<line x1="577.40" y1="303.80" x2="577.40" y2="341.50" stroke="#333" stroke-width="0.8"/>
<line x1="577.40" y1="341.50" x2="636.10" y2="341.50" stroke="#333" stroke-width="0.8"/>
<defs><linearGradient id="gmb" x1="0" y1="0" x2="1" y2="0"><stop offset="0" stop-color="#9cc2ea" stop-opacity="0"/><stop offset="0.5" stop-color="#4a8ad4"/><stop offset="1" stop-color="#9cc2ea" stop-opacity="0"/></linearGradient><linearGradient id="gmy" x1="0" y1="0" x2="1" y2="0"><stop offset="0" stop-color="#f6e070" stop-opacity="0"/><stop offset="0.5" stop-color="#f2d030"/><stop offset="1" stop-color="#f6e070" stop-opacity="0"/></linearGradient></defs>
<rect x="604.50" y="342.60" width="24.00" height="1.80" fill="url(#gmb)" stroke="none" stroke-width="0.8"/>
<text x="586.00" y="351.80" text-anchor="middle">-6</text>
<text x="601.70" y="351.80" text-anchor="middle">-4</text>
<text x="617.40" y="351.80" text-anchor="middle">-2</text>
<text x="633.10" y="351.80" text-anchor="middle">0</text>
<path d="M576.58,357.50 L576.58,357.50 L576.98,357.50 L577.37,357.50 L577.77,357.50 L578.16,357.50 L578.56,357.50 L578.95,357.50 L579.35,357.50 L579.74,357.50 L580.14,357.50 L580.53,357.50 L580.93,357.50 L581.32,357.50 L581.72,357.50 L582.11,357.50 L582.51,357.50 L582.90,357.50 L583.30,357.50 L583.69,357.50 L584.09,357.50 L584.48,357.50 L584.88,357.50 L585.27,357.50 L585.67,357.50 L586.06,357.50 L586.46,357.50 L586.85,357.50 L587.25,357.50 L587.64,357.50 L588.04,357.50 L588.43,357.50 L588.83,357.50 L589.22,357.50 L589.62,357.50 L590.01,357.50 L590.41,357.50 L590.80,357.50 L591.20,357.50 L591.60,357.50 L591.99,357.50 L592.39,357.50 L592.78,357.50 L593.18,357.50 L593.57,357.50 L593.97,357.50 L594.36,357.50 L594.76,357.50 L595.15,357.50 L595.55,357.50 L595.94,357.50 L596.34,357.51 L596.73,357.51 L597.13,357.51 L597.52,357.52 L597.92,357.52 L598.31,357.53 L598.71,357.54 L599.10,357.55 L599.50,357.56 L599.89,357.58 L600.29,357.60 L600.68,357.63 L601.08,357.66 L601.47,357.71 L601.87,357.76 L602.26,357.83 L602.66,357.90 L603.05,358.00 L603.45,358.12 L603.84,358.25 L604.24,358.42 L604.63,358.61 L605.03,358.83 L605.42,359.10 L605.82,359.40 L606.22,359.75 L606.61,360.15 L607.01,360.60 L607.40,361.11 L607.80,361.68 L608.19,362.32 L608.59,363.02 L608.98,363.79 L609.38,364.62 L609.77,365.53 L610.17,366.50 L610.56,367.53 L610.96,368.61 L611.35,369.75 L611.75,370.93 L612.14,372.15 L612.54,373.38 L612.93,374.63 L613.33,375.88 L613.72,377.10 L614.12,378.30 L614.51,379.44 L614.91,380.53 L615.30,381.53 L615.70,382.44 L616.09,383.25 L616.49,383.93 L616.88,384.49 L617.28,384.90 L617.67,385.17 L618.07,385.29 L618.46,385.20 L618.86,384.72 L619.25,383.88 L619.65,382.69 L620.04,381.21 L620.44,379.50 L620.84,377.63 L621.23,375.65 L621.63,373.63 L622.02,371.63 L622.42,369.70 L622.81,367.89 L623.21,366.22 L623.60,364.71 L624.00,363.38 L624.39,362.23 L624.79,361.25 L625.18,360.43 L625.58,359.75 L625.97,359.21 L626.37,358.78 L626.76,358.44 L627.16,358.19 L627.55,357.99 L627.95,357.85 L628.34,357.74 L628.74,357.67 L629.13,357.61 L629.53,357.57 L629.92,357.55 L630.32,357.53 L630.71,357.52 L631.11,357.51 L631.50,357.51 L631.90,357.50 L632.29,357.50 L632.69,357.50 L633.08,357.50 L633.48,357.50 L633.87,357.50 L634.27,357.50 L634.66,357.50 L635.06,357.50 L635.46,357.50 L635.46,357.50Z" fill="#f2d232" stroke="#333" stroke-width="0.5"/>
<path d="M576.58,357.50 L576.98,357.50 L577.37,357.50 L577.77,357.50 L578.16,357.50 L578.56,357.50 L578.95,357.50 L579.35,357.50 L579.74,357.50 L580.14,357.50 L580.53,357.50 L580.93,357.50 L581.32,357.50 L581.72,357.50 L582.11,357.50 L582.51,357.50 L582.90,357.50 L583.30,357.50 L583.69,357.50 L584.09,357.50 L584.48,357.50 L584.88,357.50 L585.27,357.50 L585.67,357.50 L586.06,357.50 L586.46,357.50 L586.85,357.50 L587.25,357.50 L587.64,357.50 L588.04,357.50 L588.43,357.50 L588.83,357.50 L589.22,357.50 L589.62,357.50 L590.01,357.50 L590.41,357.50 L590.80,357.50 L591.20,357.50 L591.60,357.50 L591.99,357.50 L592.39,357.50 L592.78,357.50 L593.18,357.50 L593.57,357.50 L593.97,357.50 L594.36,357.50 L594.76,357.50 L595.15,357.50 L595.55,357.50 L595.94,357.50 L596.34,357.50 L596.73,357.50 L597.13,357.50 L597.52,357.50 L597.92,357.50 L598.31,357.50 L598.71,357.50 L599.10,357.50 L599.50,357.50 L599.89,357.50 L600.29,357.50 L600.68,357.50 L601.08,357.50 L601.47,357.50 L601.87,357.51 L602.26,357.51 L602.66,357.51 L603.05,357.51 L603.45,357.52 L603.84,357.53 L604.24,357.54 L604.63,357.55 L605.03,357.57 L605.42,357.59 L605.82,357.62 L606.22,357.65 L606.61,357.70 L607.01,357.75 L607.40,357.82 L607.80,357.91 L608.19,358.02 L608.59,358.14 L608.98,358.30 L609.38,358.49 L609.77,358.71 L610.17,358.97 L610.56,359.27 L610.96,359.62 L611.35,360.03 L611.75,360.49 L612.14,361.00 L612.54,361.58 L612.93,362.23 L613.33,362.93 L613.72,363.70 L614.12,364.52 L614.51,365.40 L614.91,366.33 L615.30,367.29 L615.70,368.29 L616.09,369.30 L616.49,370.32 L616.88,371.32 L617.28,372.30 L617.67,373.24 L618.07,374.13 L618.46,374.93 L618.86,375.65 L619.25,376.27 L619.65,376.77 L620.04,377.15 L620.44,377.39 L620.84,377.50 L621.23,377.43 L621.63,377.12 L622.02,376.57 L622.42,375.81 L622.81,374.86 L623.21,373.76 L623.60,372.54 L624.00,371.23 L624.39,369.88 L624.79,368.53 L625.18,367.20 L625.58,365.93 L625.97,364.73 L626.37,363.63 L626.76,362.62 L627.16,361.73 L627.55,360.96 L627.95,360.28 L628.34,359.72 L628.74,359.24 L629.13,358.85 L629.53,358.54 L629.92,358.28 L630.32,358.09 L630.71,357.93 L631.11,357.82 L631.50,357.73 L631.90,357.66 L632.29,357.61 L632.69,357.58 L633.08,357.55 L633.48,357.54 L633.87,357.52 L634.27,357.52 L634.66,357.51 L635.06,357.51 L635.46,357.50" fill="none" stroke="#4a8ad4" stroke-width="0.7" stroke-dasharray="0.8,0.8"/>
<line x1="577.40" y1="357.50" x2="636.10" y2="357.50" stroke="#333" stroke-width="0.8"/>
<line x1="577.40" y1="357.50" x2="577.40" y2="394.90" stroke="#333" stroke-width="0.8"/>
<rect x="604.50" y="355.10" width="22.00" height="1.70" fill="url(#gmy)" stroke="none" stroke-width="0.8"/>
<text x="581.4" y="311.6" fill="#4a8ad4" font-style="italic">w<tspan font-size="4.8" dy="1.6">ij</tspan><tspan dy="-1.6"> &gt; 0</tspan></text>
<text x="581.9" y="392.0" fill="#f0d040" font-style="italic">w<tspan font-size="4.8" dy="1.6">ij</tspan><tspan dy="-1.6"> &lt; 0</tspan></text>
<text x="641.20" y="348.60">Log10</text>
<text x="641.20" y="356.60">reg.</text>
<text x="641.20" y="365.90">weights</text>
<text transform="translate(571.20,351.50) rotate(-90)" text-anchor="middle">Probability density</text>
<text transform="translate(0.5,25.9) scale(0.88,1)" font-size="24">a</text>
<text x="281.60" y="25.40" font-size="24">b</text>
<text x="410.40" y="25.70" font-size="24.5">c</text>
<text x="550.30" y="22.40" font-size="23">d</text>
<text x="2.30" y="153.10" font-size="24.5">e</text>
<text x="411.80" y="156.60" font-size="23">f</text>
<text x="547.20" y="157.75" font-size="23">g</text>
<text x="14.60" y="307.80" font-size="23">h</text>
<text x="91.40" y="307.80" font-size="23">i</text>
<text x="157.40" y="307.70" font-size="23">j</text>
<text x="272.10" y="307.80" font-size="23">k</text>
<text x="486.10" y="306.90" font-size="23">l</text>
<text x="551.50" y="306.60" font-size="23.5">m</text></svg></body></html>
